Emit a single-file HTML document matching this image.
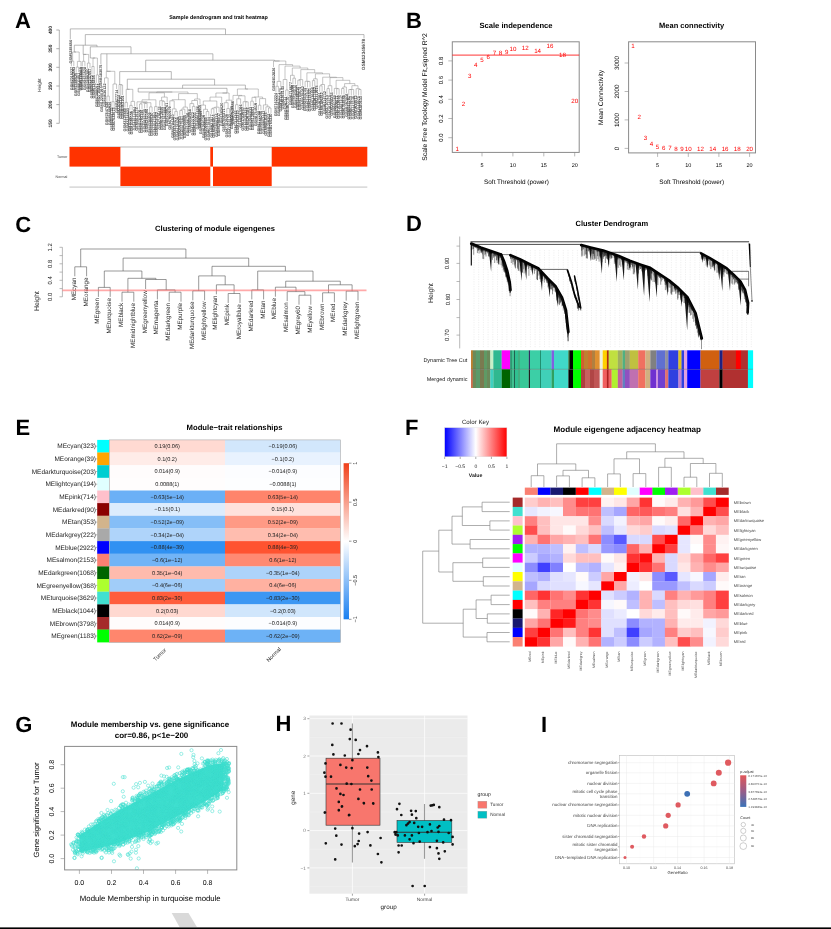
<!DOCTYPE html>
<html><head><meta charset="utf-8"><style>
html,body{margin:0;padding:0;background:#fff;width:831px;height:929px;overflow:hidden}
svg{display:block;filter:blur(0.5px);font-family:"Liberation Sans",sans-serif;text-rendering:geometricPrecision}
</style></head><body>
<svg width="831" height="929" viewBox="0 0 831 929">
<rect width="831" height="929" fill="#fff"/>
<text x="15" y="28" font-size="22" text-anchor="start" font-weight="bold" fill="#000">A</text>
<text x="406" y="28" font-size="22" text-anchor="start" font-weight="bold" fill="#000">B</text>
<text x="15.3" y="232" font-size="22" text-anchor="start" font-weight="bold" fill="#000">C</text>
<text x="406" y="231" font-size="22" text-anchor="start" font-weight="bold" fill="#000">D</text>
<text x="15.6" y="435.2" font-size="22" text-anchor="start" font-weight="bold" fill="#000">E</text>
<text x="405" y="435" font-size="22" text-anchor="start" font-weight="bold" fill="#000">F</text>
<text x="15.2" y="731.5" font-size="22" text-anchor="start" font-weight="bold" fill="#000">G</text>
<text x="275.4" y="731.3" font-size="22" text-anchor="start" font-weight="bold" fill="#000">H</text>
<text x="541" y="731.5" font-size="22" text-anchor="start" font-weight="bold" fill="#000">I</text>
<text x="516" y="28.2" font-size="7.6" text-anchor="middle" font-weight="bold" fill="#000">Scale independence</text>
<rect x="452.3" y="41.8" width="126.9" height="110.6" fill="none" stroke="#8a8a8a" stroke-width="1"/>
<line x1="448.3" y1="137.7" x2="452.3" y2="137.7" stroke="#8a8a8a" stroke-width="0.6"/>
<text x="443" y="137.7" font-size="6" text-anchor="middle" fill="#000" transform="rotate(-90 443 137.7)">0.0</text>
<line x1="448.3" y1="118.5" x2="452.3" y2="118.5" stroke="#8a8a8a" stroke-width="0.6"/>
<text x="443" y="118.5" font-size="6" text-anchor="middle" fill="#000" transform="rotate(-90 443 118.5)">0.2</text>
<line x1="448.3" y1="99.3" x2="452.3" y2="99.3" stroke="#8a8a8a" stroke-width="0.6"/>
<text x="443" y="99.3" font-size="6" text-anchor="middle" fill="#000" transform="rotate(-90 443 99.3)">0.4</text>
<line x1="448.3" y1="80.1" x2="452.3" y2="80.1" stroke="#8a8a8a" stroke-width="0.6"/>
<text x="443" y="80.1" font-size="6" text-anchor="middle" fill="#000" transform="rotate(-90 443 80.1)">0.6</text>
<line x1="448.3" y1="60.9" x2="452.3" y2="60.9" stroke="#8a8a8a" stroke-width="0.6"/>
<text x="443" y="60.9" font-size="6" text-anchor="middle" fill="#000" transform="rotate(-90 443 60.9)">0.8</text>
<line x1="482" y1="152.4" x2="482" y2="156.4" stroke="#8a8a8a" stroke-width="0.6"/>
<text x="482" y="166.5" font-size="5.5" text-anchor="middle" fill="#000">5</text>
<line x1="512.9" y1="152.4" x2="512.9" y2="156.4" stroke="#8a8a8a" stroke-width="0.6"/>
<text x="512.9" y="166.5" font-size="5.5" text-anchor="middle" fill="#000">10</text>
<line x1="543.8" y1="152.4" x2="543.8" y2="156.4" stroke="#8a8a8a" stroke-width="0.6"/>
<text x="543.8" y="166.5" font-size="5.5" text-anchor="middle" fill="#000">15</text>
<line x1="574.7" y1="152.4" x2="574.7" y2="156.4" stroke="#8a8a8a" stroke-width="0.6"/>
<text x="574.7" y="166.5" font-size="5.5" text-anchor="middle" fill="#000">20</text>
<text x="516.5" y="183.5" font-size="6.4" text-anchor="middle" fill="#000">Soft Threshold (power)</text>
<text x="426.8" y="97" font-size="6.8" text-anchor="middle" fill="#000" transform="rotate(-90 426.8 97)">Scale Free Topology Model Fit,signed R^2</text>
<line x1="452.3" y1="55.1" x2="579.2" y2="55.1" stroke="#f00" stroke-width="0.8"/>
<text x="457.3" y="150.5" font-size="6.2" text-anchor="middle" fill="#f00">1</text>
<text x="463.5" y="106.3" font-size="6.2" text-anchor="middle" fill="#f00">2</text>
<text x="469.7" y="77.5" font-size="6.2" text-anchor="middle" fill="#f00">3</text>
<text x="475.8" y="66.9" font-size="6.2" text-anchor="middle" fill="#f00">4</text>
<text x="482" y="62.1" font-size="6.2" text-anchor="middle" fill="#f00">5</text>
<text x="488.2" y="58.8" font-size="6.2" text-anchor="middle" fill="#f00">6</text>
<text x="494.4" y="54.5" font-size="6.2" text-anchor="middle" fill="#f00">7</text>
<text x="500.6" y="54.5" font-size="6.2" text-anchor="middle" fill="#f00">8</text>
<text x="506.7" y="53.5" font-size="6.2" text-anchor="middle" fill="#f00">9</text>
<text x="512.9" y="50.6" font-size="6.2" text-anchor="middle" fill="#f00">10</text>
<text x="525.3" y="49.7" font-size="6.2" text-anchor="middle" fill="#f00">12</text>
<text x="537.6" y="52.5" font-size="6.2" text-anchor="middle" fill="#f00">14</text>
<text x="550" y="48" font-size="6.2" text-anchor="middle" fill="#f00">16</text>
<text x="562.4" y="57.3" font-size="6.2" text-anchor="middle" fill="#f00">18</text>
<text x="574.7" y="102.8" font-size="6.2" text-anchor="middle" fill="#f00">20</text>
<text x="691.6" y="28.3" font-size="7.5" text-anchor="middle" font-weight="bold" fill="#000">Mean connectivity</text>
<rect x="628.6" y="41.8" width="126.9" height="111.1" fill="none" stroke="#8a8a8a" stroke-width="1"/>
<line x1="624.6" y1="148.4" x2="628.6" y2="148.4" stroke="#8a8a8a" stroke-width="0.6"/>
<text x="618.6" y="148.4" font-size="6.3" text-anchor="middle" fill="#000" transform="rotate(-90 618.6 148.4)">0</text>
<line x1="624.6" y1="119.9" x2="628.6" y2="119.9" stroke="#8a8a8a" stroke-width="0.6"/>
<text x="618.6" y="119.9" font-size="6.3" text-anchor="middle" fill="#000" transform="rotate(-90 618.6 119.9)">1000</text>
<line x1="624.6" y1="91.5" x2="628.6" y2="91.5" stroke="#8a8a8a" stroke-width="0.6"/>
<text x="618.6" y="91.5" font-size="6.3" text-anchor="middle" fill="#000" transform="rotate(-90 618.6 91.5)">2000</text>
<line x1="624.6" y1="63" x2="628.6" y2="63" stroke="#8a8a8a" stroke-width="0.6"/>
<text x="618.6" y="63" font-size="6.3" text-anchor="middle" fill="#000" transform="rotate(-90 618.6 63)">3000</text>
<line x1="657.6" y1="152.9" x2="657.6" y2="156.9" stroke="#8a8a8a" stroke-width="0.6"/>
<text x="657.6" y="166.5" font-size="5.5" text-anchor="middle" fill="#000">5</text>
<line x1="688.3" y1="152.9" x2="688.3" y2="156.9" stroke="#8a8a8a" stroke-width="0.6"/>
<text x="688.3" y="166.5" font-size="5.5" text-anchor="middle" fill="#000">10</text>
<line x1="718.9" y1="152.9" x2="718.9" y2="156.9" stroke="#8a8a8a" stroke-width="0.6"/>
<text x="718.9" y="166.5" font-size="5.5" text-anchor="middle" fill="#000">15</text>
<line x1="749.6" y1="152.9" x2="749.6" y2="156.9" stroke="#8a8a8a" stroke-width="0.6"/>
<text x="749.6" y="166.5" font-size="5.5" text-anchor="middle" fill="#000">20</text>
<text x="691.6" y="183.5" font-size="6.4" text-anchor="middle" fill="#000">Soft Threshold (power)</text>
<text x="602.6" y="97.4" font-size="6.7" text-anchor="middle" fill="#000" transform="rotate(-90 602.6 97.4)">Mean Connectivity</text>
<text x="633.1" y="48.2" font-size="6.2" text-anchor="middle" fill="#f00">1</text>
<text x="639.2" y="119.2" font-size="6.2" text-anchor="middle" fill="#f00">2</text>
<text x="645.4" y="139.7" font-size="6.2" text-anchor="middle" fill="#f00">3</text>
<text x="651.5" y="145.8" font-size="6.2" text-anchor="middle" fill="#f00">4</text>
<text x="657.6" y="148.5" font-size="6.2" text-anchor="middle" fill="#f00">5</text>
<text x="663.8" y="149.5" font-size="6.2" text-anchor="middle" fill="#f00">6</text>
<text x="669.9" y="149.5" font-size="6.2" text-anchor="middle" fill="#f00">7</text>
<text x="676" y="150.6" font-size="6.2" text-anchor="middle" fill="#f00">8</text>
<text x="682.1" y="150.6" font-size="6.2" text-anchor="middle" fill="#f00">9</text>
<text x="688.3" y="150.6" font-size="6.2" text-anchor="middle" fill="#f00">10</text>
<text x="700.5" y="150.6" font-size="6.2" text-anchor="middle" fill="#f00">12</text>
<text x="712.8" y="150.6" font-size="6.2" text-anchor="middle" fill="#f00">14</text>
<text x="725.1" y="150.6" font-size="6.2" text-anchor="middle" fill="#f00">16</text>
<text x="737.3" y="150.6" font-size="6.2" text-anchor="middle" fill="#f00">18</text>
<text x="749.6" y="150.6" font-size="6.2" text-anchor="middle" fill="#f00">20</text>
<text x="234.5" y="430.3" font-size="7.7" text-anchor="middle" font-weight="bold" fill="#000">Module−trait relationships</text>
<rect x="97.2" y="439.9" width="12.1" height="12.8" fill="#00ffff" stroke="none" stroke-width="0.6"/>
<rect x="109.3" y="439.9" width="115.7" height="12.8" fill="#ffdad2" stroke="none" stroke-width="0.6"/>
<rect x="225" y="439.9" width="115.5" height="12.8" fill="#d2e7fc" stroke="none" stroke-width="0.6"/>
<text x="96" y="448.4" font-size="6.5" text-anchor="end" fill="#222">MEcyan(323)</text>
<line x1="96.2" y1="446.2" x2="97.2" y2="446.2" stroke="#555" stroke-width="0.5"/>
<text x="167.2" y="448" font-size="5.6" text-anchor="middle" fill="#222">0.19(0.06)</text>
<text x="282.8" y="448" font-size="5.6" text-anchor="middle" fill="#222">−0.19(0.06)</text>
<rect x="97.2" y="452.5" width="12.1" height="12.8" fill="#ffa500" stroke="none" stroke-width="0.6"/>
<rect x="109.3" y="452.5" width="115.7" height="12.8" fill="#ffece8" stroke="none" stroke-width="0.6"/>
<rect x="225" y="452.5" width="115.5" height="12.8" fill="#e8f2fe" stroke="none" stroke-width="0.6"/>
<text x="96" y="461.1" font-size="6.5" text-anchor="end" fill="#222">MEorange(39)</text>
<line x1="96.2" y1="458.9" x2="97.2" y2="458.9" stroke="#555" stroke-width="0.5"/>
<text x="167.2" y="460.7" font-size="5.6" text-anchor="middle" fill="#222">0.1(0.2)</text>
<text x="282.8" y="460.7" font-size="5.6" text-anchor="middle" fill="#222">−0.1(0.2)</text>
<rect x="97.2" y="465.2" width="12.1" height="12.8" fill="#00ced1" stroke="none" stroke-width="0.6"/>
<rect x="109.3" y="465.2" width="115.7" height="12.8" fill="#fffcfc" stroke="none" stroke-width="0.6"/>
<rect x="225" y="465.2" width="115.5" height="12.8" fill="#fcfdff" stroke="none" stroke-width="0.6"/>
<text x="96" y="473.7" font-size="6.5" text-anchor="end" fill="#222">MEdarkturquoise(203)</text>
<line x1="96.2" y1="471.5" x2="97.2" y2="471.5" stroke="#555" stroke-width="0.5"/>
<text x="167.2" y="473.3" font-size="5.6" text-anchor="middle" fill="#222">0.014(0.9)</text>
<text x="282.8" y="473.3" font-size="5.6" text-anchor="middle" fill="#222">−0.014(0.9)</text>
<rect x="97.2" y="477.8" width="12.1" height="12.8" fill="#e0ffff" stroke="none" stroke-width="0.6"/>
<rect x="109.3" y="477.8" width="115.7" height="12.8" fill="#fffdfd" stroke="none" stroke-width="0.6"/>
<rect x="225" y="477.8" width="115.5" height="12.8" fill="#fdfeff" stroke="none" stroke-width="0.6"/>
<text x="96" y="486.4" font-size="6.5" text-anchor="end" fill="#222">MElightcyan(194)</text>
<line x1="96.2" y1="484.2" x2="97.2" y2="484.2" stroke="#555" stroke-width="0.5"/>
<text x="167.2" y="486" font-size="5.6" text-anchor="middle" fill="#222">0.0088(1)</text>
<text x="282.8" y="486" font-size="5.6" text-anchor="middle" fill="#222">−0.0088(1)</text>
<rect x="97.2" y="490.5" width="12.1" height="12.8" fill="#ffc0cb" stroke="none" stroke-width="0.6"/>
<rect x="109.3" y="490.5" width="115.7" height="12.8" fill="#6bb0f6" stroke="none" stroke-width="0.6"/>
<rect x="225" y="490.5" width="115.5" height="12.8" fill="#ff846b" stroke="none" stroke-width="0.6"/>
<text x="96" y="499" font-size="6.5" text-anchor="end" fill="#222">MEpink(714)</text>
<line x1="96.2" y1="496.8" x2="97.2" y2="496.8" stroke="#555" stroke-width="0.5"/>
<text x="167.2" y="498.6" font-size="5.6" text-anchor="middle" fill="#222">−0.63(5e−14)</text>
<text x="282.8" y="498.6" font-size="5.6" text-anchor="middle" fill="#222">0.63(5e−14)</text>
<rect x="97.2" y="503.1" width="12.1" height="12.8" fill="#8b0000" stroke="none" stroke-width="0.6"/>
<rect x="109.3" y="503.1" width="115.7" height="12.8" fill="#dcecfd" stroke="none" stroke-width="0.6"/>
<rect x="225" y="503.1" width="115.5" height="12.8" fill="#ffe2dc" stroke="none" stroke-width="0.6"/>
<text x="96" y="511.7" font-size="6.5" text-anchor="end" fill="#222">MEdarkred(90)</text>
<line x1="96.2" y1="509.5" x2="97.2" y2="509.5" stroke="#555" stroke-width="0.5"/>
<text x="167.2" y="511.3" font-size="5.6" text-anchor="middle" fill="#222">−0.15(0.1)</text>
<text x="282.8" y="511.3" font-size="5.6" text-anchor="middle" fill="#222">0.15(0.1)</text>
<rect x="97.2" y="515.8" width="12.1" height="12.8" fill="#d2b48c" stroke="none" stroke-width="0.6"/>
<rect x="109.3" y="515.8" width="115.7" height="12.8" fill="#85bef7" stroke="none" stroke-width="0.6"/>
<rect x="225" y="515.8" width="115.5" height="12.8" fill="#ff9a85" stroke="none" stroke-width="0.6"/>
<text x="96" y="524.3" font-size="6.5" text-anchor="end" fill="#222">MEtan(353)</text>
<line x1="96.2" y1="522.1" x2="97.2" y2="522.1" stroke="#555" stroke-width="0.5"/>
<text x="167.2" y="523.9" font-size="5.6" text-anchor="middle" fill="#222">−0.52(2e−09)</text>
<text x="282.8" y="523.9" font-size="5.6" text-anchor="middle" fill="#222">0.52(2e−09)</text>
<rect x="97.2" y="528.4" width="12.1" height="12.8" fill="#a9a9a9" stroke="none" stroke-width="0.6"/>
<rect x="109.3" y="528.4" width="115.7" height="12.8" fill="#afd4fa" stroke="none" stroke-width="0.6"/>
<rect x="225" y="528.4" width="115.5" height="12.8" fill="#ffbdaf" stroke="none" stroke-width="0.6"/>
<text x="96" y="537" font-size="6.5" text-anchor="end" fill="#222">MEdarkgrey(222)</text>
<line x1="96.2" y1="534.8" x2="97.2" y2="534.8" stroke="#555" stroke-width="0.5"/>
<text x="167.2" y="536.6" font-size="5.6" text-anchor="middle" fill="#222">−0.34(2e−04)</text>
<text x="282.8" y="536.6" font-size="5.6" text-anchor="middle" fill="#222">0.34(2e−04)</text>
<rect x="97.2" y="541.1" width="12.1" height="12.8" fill="#0000ff" stroke="none" stroke-width="0.6"/>
<rect x="109.3" y="541.1" width="115.7" height="12.8" fill="#3091f2" stroke="none" stroke-width="0.6"/>
<rect x="225" y="541.1" width="115.5" height="12.8" fill="#ff5330" stroke="none" stroke-width="0.6"/>
<text x="96" y="549.6" font-size="6.5" text-anchor="end" fill="#222">MEblue(2922)</text>
<line x1="96.2" y1="547.4" x2="97.2" y2="547.4" stroke="#555" stroke-width="0.5"/>
<text x="167.2" y="549.2" font-size="5.6" text-anchor="middle" fill="#222">−0.88(4e−39)</text>
<text x="282.8" y="549.2" font-size="5.6" text-anchor="middle" fill="#222">0.88(4e−39)</text>
<rect x="97.2" y="553.8" width="12.1" height="12.8" fill="#fa8072" stroke="none" stroke-width="0.6"/>
<rect x="109.3" y="553.8" width="115.7" height="12.8" fill="#72b4f6" stroke="none" stroke-width="0.6"/>
<rect x="225" y="553.8" width="115.5" height="12.8" fill="#ff8a72" stroke="none" stroke-width="0.6"/>
<text x="96" y="562.3" font-size="6.5" text-anchor="end" fill="#222">MEsalmon(2153)</text>
<line x1="96.2" y1="560.1" x2="97.2" y2="560.1" stroke="#555" stroke-width="0.5"/>
<text x="167.2" y="561.9" font-size="5.6" text-anchor="middle" fill="#222">−0.6(1e−12)</text>
<text x="282.8" y="561.9" font-size="5.6" text-anchor="middle" fill="#222">0.6(1e−12)</text>
<rect x="97.2" y="566.4" width="12.1" height="12.8" fill="#006400" stroke="none" stroke-width="0.6"/>
<rect x="109.3" y="566.4" width="115.7" height="12.8" fill="#ffbbad" stroke="none" stroke-width="0.6"/>
<rect x="225" y="566.4" width="115.5" height="12.8" fill="#add3fa" stroke="none" stroke-width="0.6"/>
<text x="96" y="574.9" font-size="6.5" text-anchor="end" fill="#222">MEdarkgreen(1068)</text>
<line x1="96.2" y1="572.7" x2="97.2" y2="572.7" stroke="#555" stroke-width="0.5"/>
<text x="167.2" y="574.5" font-size="5.6" text-anchor="middle" fill="#222">0.35(1e−04)</text>
<text x="282.8" y="574.5" font-size="5.6" text-anchor="middle" fill="#222">−0.35(1e−04)</text>
<rect x="97.2" y="579" width="12.1" height="12.8" fill="#adff2f" stroke="none" stroke-width="0.6"/>
<rect x="109.3" y="579" width="115.7" height="12.8" fill="#a1cdf9" stroke="none" stroke-width="0.6"/>
<rect x="225" y="579" width="115.5" height="12.8" fill="#ffb1a1" stroke="none" stroke-width="0.6"/>
<text x="96" y="587.6" font-size="6.5" text-anchor="end" fill="#222">MEgreenyellow(368)</text>
<line x1="96.2" y1="585.4" x2="97.2" y2="585.4" stroke="#555" stroke-width="0.5"/>
<text x="167.2" y="587.2" font-size="5.6" text-anchor="middle" fill="#222">−0.4(6e−06)</text>
<text x="282.8" y="587.2" font-size="5.6" text-anchor="middle" fill="#222">0.4(6e−06)</text>
<rect x="97.2" y="591.7" width="12.1" height="12.8" fill="#40e0d0" stroke="none" stroke-width="0.6"/>
<rect x="109.3" y="591.7" width="115.7" height="12.8" fill="#ff5d3c" stroke="none" stroke-width="0.6"/>
<rect x="225" y="591.7" width="115.5" height="12.8" fill="#3c97f3" stroke="none" stroke-width="0.6"/>
<text x="96" y="600.2" font-size="6.5" text-anchor="end" fill="#222">MEturquoise(3629)</text>
<line x1="96.2" y1="598" x2="97.2" y2="598" stroke="#555" stroke-width="0.5"/>
<text x="167.2" y="599.8" font-size="5.6" text-anchor="middle" fill="#222">0.83(2e−30)</text>
<text x="282.8" y="599.8" font-size="5.6" text-anchor="middle" fill="#222">−0.83(2e−30)</text>
<rect x="97.2" y="604.4" width="12.1" height="12.8" fill="#000000" stroke="none" stroke-width="0.6"/>
<rect x="109.3" y="604.4" width="115.7" height="12.8" fill="#ffd8d0" stroke="none" stroke-width="0.6"/>
<rect x="225" y="604.4" width="115.5" height="12.8" fill="#d0e6fc" stroke="none" stroke-width="0.6"/>
<text x="96" y="612.9" font-size="6.5" text-anchor="end" fill="#222">MEblack(1044)</text>
<line x1="96.2" y1="610.7" x2="97.2" y2="610.7" stroke="#555" stroke-width="0.5"/>
<text x="167.2" y="612.5" font-size="5.6" text-anchor="middle" fill="#222">0.2(0.03)</text>
<text x="282.8" y="612.5" font-size="5.6" text-anchor="middle" fill="#222">−0.2(0.03)</text>
<rect x="97.2" y="617" width="12.1" height="12.8" fill="#a52a2a" stroke="none" stroke-width="0.6"/>
<rect x="109.3" y="617" width="115.7" height="12.8" fill="#fffcfc" stroke="none" stroke-width="0.6"/>
<rect x="225" y="617" width="115.5" height="12.8" fill="#fcfdff" stroke="none" stroke-width="0.6"/>
<text x="96" y="625.5" font-size="6.5" text-anchor="end" fill="#222">MEbrown(3798)</text>
<line x1="96.2" y1="623.3" x2="97.2" y2="623.3" stroke="#555" stroke-width="0.5"/>
<text x="167.2" y="625.1" font-size="5.6" text-anchor="middle" fill="#222">0.014(0.9)</text>
<text x="282.8" y="625.1" font-size="5.6" text-anchor="middle" fill="#222">−0.014(0.9)</text>
<rect x="97.2" y="629.6" width="12.1" height="12.8" fill="#00ff00" stroke="none" stroke-width="0.6"/>
<rect x="109.3" y="629.6" width="115.7" height="12.8" fill="#ff866d" stroke="none" stroke-width="0.6"/>
<rect x="225" y="629.6" width="115.5" height="12.8" fill="#6db2f6" stroke="none" stroke-width="0.6"/>
<text x="96" y="638.2" font-size="6.5" text-anchor="end" fill="#222">MEgreen(1183)</text>
<line x1="96.2" y1="636" x2="97.2" y2="636" stroke="#555" stroke-width="0.5"/>
<text x="167.2" y="637.8" font-size="5.6" text-anchor="middle" fill="#222">0.62(2e−09)</text>
<text x="282.8" y="637.8" font-size="5.6" text-anchor="middle" fill="#222">−0.62(2e−09)</text>
<rect x="109.3" y="439.9" width="231.2" height="202.4" fill="none" stroke="#aaa" stroke-width="0.6"/>
<text x="161" y="656" font-size="5.5" text-anchor="middle" fill="#222" transform="rotate(-45 161 656)">Tumor</text>
<text x="275" y="656" font-size="5.5" text-anchor="middle" fill="#222" transform="rotate(-45 275 656)">Normal</text>
<defs><linearGradient id="egr" x1="0" y1="0" x2="0" y2="1"><stop offset="0" stop-color="#f0401a"/><stop offset="0.5" stop-color="#ffffff"/><stop offset="1" stop-color="#1a80f0"/></linearGradient></defs>
<rect x="343.6" y="463.2" width="5.4" height="156.1" fill="url(#egr)" stroke="none" stroke-width="0.6"/>
<line x1="349" y1="463.2" x2="351.5" y2="463.2" stroke="#555" stroke-width="0.6"/>
<text x="357.5" y="463.2" font-size="5.5" text-anchor="middle" fill="#222" transform="rotate(-90 357.5 463.2)">1</text>
<line x1="349" y1="502.2" x2="351.5" y2="502.2" stroke="#555" stroke-width="0.6"/>
<text x="357.5" y="502.2" font-size="5.5" text-anchor="middle" fill="#222" transform="rotate(-90 357.5 502.2)">0.5</text>
<line x1="349" y1="541.2" x2="351.5" y2="541.2" stroke="#555" stroke-width="0.6"/>
<text x="357.5" y="541.2" font-size="5.5" text-anchor="middle" fill="#222" transform="rotate(-90 357.5 541.2)">0</text>
<line x1="349" y1="580.3" x2="351.5" y2="580.3" stroke="#555" stroke-width="0.6"/>
<text x="357.5" y="580.3" font-size="5.5" text-anchor="middle" fill="#222" transform="rotate(-90 357.5 580.3)">−0.5</text>
<line x1="349" y1="619.3" x2="351.5" y2="619.3" stroke="#555" stroke-width="0.6"/>
<text x="357.5" y="619.3" font-size="5.5" text-anchor="middle" fill="#222" transform="rotate(-90 357.5 619.3)">−1</text>
<text x="627.3" y="431.9" font-size="8.1" text-anchor="middle" font-weight="bold" fill="#000">Module eigengene adjacency heatmap</text>
<defs><linearGradient id="fgr" x1="0" y1="0" x2="1" y2="0"><stop offset="0" stop-color="#0000ff"/><stop offset="0.5" stop-color="#ffffff"/><stop offset="1" stop-color="#ff0000"/></linearGradient></defs>
<rect x="444.7" y="427.7" width="62.2" height="29.1" fill="url(#fgr)" stroke="#ddd" stroke-width="0.4"/>
<text x="475.5" y="424.2" font-size="6.2" text-anchor="middle" fill="#222">Color Key</text>
<line x1="444.7" y1="456.8" x2="444.7" y2="459" stroke="#555" stroke-width="0.5"/>
<text x="444.7" y="468" font-size="5" text-anchor="middle" fill="#222">−1</text>
<line x1="460.2" y1="456.8" x2="460.2" y2="459" stroke="#555" stroke-width="0.5"/>
<text x="460.2" y="468" font-size="5" text-anchor="middle" fill="#222">−0.5</text>
<line x1="475.8" y1="456.8" x2="475.8" y2="459" stroke="#555" stroke-width="0.5"/>
<text x="475.8" y="468" font-size="5" text-anchor="middle" fill="#222">0</text>
<line x1="491.4" y1="456.8" x2="491.4" y2="459" stroke="#555" stroke-width="0.5"/>
<text x="491.4" y="468" font-size="5" text-anchor="middle" fill="#222">0.5</text>
<line x1="506.9" y1="456.8" x2="506.9" y2="459" stroke="#555" stroke-width="0.5"/>
<text x="506.9" y="468" font-size="5" text-anchor="middle" fill="#222">1</text>
<text x="475.5" y="476.5" font-size="5.2" text-anchor="middle" font-weight="bold" fill="#222">Value</text>
<rect x="524.8" y="497.6" width="12.9" height="9.5" fill="#ffcccc" stroke="none" stroke-width="0.6"/>
<rect x="537.5" y="497.6" width="12.9" height="9.5" fill="#ffb2b2" stroke="none" stroke-width="0.6"/>
<rect x="550.3" y="497.6" width="12.9" height="9.5" fill="#ffbfbf" stroke="none" stroke-width="0.6"/>
<rect x="563" y="497.6" width="12.9" height="9.5" fill="#ff8c8c" stroke="none" stroke-width="0.6"/>
<rect x="575.8" y="497.6" width="12.9" height="9.5" fill="#ff4040" stroke="none" stroke-width="0.6"/>
<rect x="588.5" y="497.6" width="12.9" height="9.5" fill="#ff4040" stroke="none" stroke-width="0.6"/>
<rect x="601.2" y="497.6" width="12.9" height="9.5" fill="#fff2f2" stroke="none" stroke-width="0.6"/>
<rect x="614" y="497.6" width="12.9" height="9.5" fill="#ffe6e6" stroke="none" stroke-width="0.6"/>
<rect x="626.7" y="497.6" width="12.9" height="9.5" fill="#ffa6a6" stroke="none" stroke-width="0.6"/>
<rect x="639.5" y="497.6" width="12.9" height="9.5" fill="#ff3333" stroke="none" stroke-width="0.6"/>
<rect x="652.2" y="497.6" width="12.9" height="9.5" fill="#fffafa" stroke="none" stroke-width="0.6"/>
<rect x="664.9" y="497.6" width="12.9" height="9.5" fill="#ffebeb" stroke="none" stroke-width="0.6"/>
<rect x="677.7" y="497.6" width="12.9" height="9.5" fill="#ffb2b2" stroke="none" stroke-width="0.6"/>
<rect x="690.4" y="497.6" width="12.9" height="9.5" fill="#ff9999" stroke="none" stroke-width="0.6"/>
<rect x="703.2" y="497.6" width="12.9" height="9.5" fill="#ff4d4d" stroke="none" stroke-width="0.6"/>
<rect x="715.9" y="497.6" width="12.9" height="9.5" fill="#ff0000" stroke="none" stroke-width="0.6"/>
<rect x="524.8" y="506.9" width="12.9" height="9.5" fill="#e6e6ff" stroke="none" stroke-width="0.6"/>
<rect x="537.5" y="506.9" width="12.9" height="9.5" fill="#f2f2ff" stroke="none" stroke-width="0.6"/>
<rect x="550.3" y="506.9" width="12.9" height="9.5" fill="#f7f7ff" stroke="none" stroke-width="0.6"/>
<rect x="563" y="506.9" width="12.9" height="9.5" fill="#ff8c8c" stroke="none" stroke-width="0.6"/>
<rect x="575.8" y="506.9" width="12.9" height="9.5" fill="#ff7373" stroke="none" stroke-width="0.6"/>
<rect x="588.5" y="506.9" width="12.9" height="9.5" fill="#ff7373" stroke="none" stroke-width="0.6"/>
<rect x="601.2" y="506.9" width="12.9" height="9.5" fill="#bfbfff" stroke="none" stroke-width="0.6"/>
<rect x="614" y="506.9" width="12.9" height="9.5" fill="#a6a6ff" stroke="none" stroke-width="0.6"/>
<rect x="626.7" y="506.9" width="12.9" height="9.5" fill="#ff6666" stroke="none" stroke-width="0.6"/>
<rect x="639.5" y="506.9" width="12.9" height="9.5" fill="#ff5959" stroke="none" stroke-width="0.6"/>
<rect x="652.2" y="506.9" width="12.9" height="9.5" fill="#ff7373" stroke="none" stroke-width="0.6"/>
<rect x="664.9" y="506.9" width="12.9" height="9.5" fill="#ff8080" stroke="none" stroke-width="0.6"/>
<rect x="677.7" y="506.9" width="12.9" height="9.5" fill="#ffe0e0" stroke="none" stroke-width="0.6"/>
<rect x="690.4" y="506.9" width="12.9" height="9.5" fill="#ffb2b2" stroke="none" stroke-width="0.6"/>
<rect x="703.2" y="506.9" width="12.9" height="9.5" fill="#ff0000" stroke="none" stroke-width="0.6"/>
<rect x="715.9" y="506.9" width="12.9" height="9.5" fill="#ff4d4d" stroke="none" stroke-width="0.6"/>
<rect x="524.8" y="516.2" width="12.9" height="9.5" fill="#ff8080" stroke="none" stroke-width="0.6"/>
<rect x="537.5" y="516.2" width="12.9" height="9.5" fill="#ffbfbf" stroke="none" stroke-width="0.6"/>
<rect x="550.3" y="516.2" width="12.9" height="9.5" fill="#ffe6e6" stroke="none" stroke-width="0.6"/>
<rect x="563" y="516.2" width="12.9" height="9.5" fill="#ffe6e6" stroke="none" stroke-width="0.6"/>
<rect x="575.8" y="516.2" width="12.9" height="9.5" fill="#ffe6e6" stroke="none" stroke-width="0.6"/>
<rect x="588.5" y="516.2" width="12.9" height="9.5" fill="#ff8c8c" stroke="none" stroke-width="0.6"/>
<rect x="601.2" y="516.2" width="12.9" height="9.5" fill="#d9d9ff" stroke="none" stroke-width="0.6"/>
<rect x="614" y="516.2" width="12.9" height="9.5" fill="#f2f2ff" stroke="none" stroke-width="0.6"/>
<rect x="626.7" y="516.2" width="12.9" height="9.5" fill="#ffb2b2" stroke="none" stroke-width="0.6"/>
<rect x="639.5" y="516.2" width="12.9" height="9.5" fill="#ffa6a6" stroke="none" stroke-width="0.6"/>
<rect x="652.2" y="516.2" width="12.9" height="9.5" fill="#fffafa" stroke="none" stroke-width="0.6"/>
<rect x="664.9" y="516.2" width="12.9" height="9.5" fill="#ffeded" stroke="none" stroke-width="0.6"/>
<rect x="677.7" y="516.2" width="12.9" height="9.5" fill="#ff6666" stroke="none" stroke-width="0.6"/>
<rect x="690.4" y="516.2" width="12.9" height="9.5" fill="#ff0000" stroke="none" stroke-width="0.6"/>
<rect x="703.2" y="516.2" width="12.9" height="9.5" fill="#ffb2b2" stroke="none" stroke-width="0.6"/>
<rect x="715.9" y="516.2" width="12.9" height="9.5" fill="#ffa6a6" stroke="none" stroke-width="0.6"/>
<rect x="524.8" y="525.5" width="12.9" height="9.5" fill="#ff4d4d" stroke="none" stroke-width="0.6"/>
<rect x="537.5" y="525.5" width="12.9" height="9.5" fill="#ffbfbf" stroke="none" stroke-width="0.6"/>
<rect x="550.3" y="525.5" width="12.9" height="9.5" fill="#ffe6e6" stroke="none" stroke-width="0.6"/>
<rect x="563" y="525.5" width="12.9" height="9.5" fill="#fffafa" stroke="none" stroke-width="0.6"/>
<rect x="575.8" y="525.5" width="12.9" height="9.5" fill="#ffd9d9" stroke="none" stroke-width="0.6"/>
<rect x="588.5" y="525.5" width="12.9" height="9.5" fill="#ffbfbf" stroke="none" stroke-width="0.6"/>
<rect x="601.2" y="525.5" width="12.9" height="9.5" fill="#bfbfff" stroke="none" stroke-width="0.6"/>
<rect x="614" y="525.5" width="12.9" height="9.5" fill="#e6e6ff" stroke="none" stroke-width="0.6"/>
<rect x="626.7" y="525.5" width="12.9" height="9.5" fill="#ffd9d9" stroke="none" stroke-width="0.6"/>
<rect x="639.5" y="525.5" width="12.9" height="9.5" fill="#ffcccc" stroke="none" stroke-width="0.6"/>
<rect x="652.2" y="525.5" width="12.9" height="9.5" fill="#d9d9ff" stroke="none" stroke-width="0.6"/>
<rect x="664.9" y="525.5" width="12.9" height="9.5" fill="#e0e0ff" stroke="none" stroke-width="0.6"/>
<rect x="677.7" y="525.5" width="12.9" height="9.5" fill="#ff0000" stroke="none" stroke-width="0.6"/>
<rect x="690.4" y="525.5" width="12.9" height="9.5" fill="#ff7373" stroke="none" stroke-width="0.6"/>
<rect x="703.2" y="525.5" width="12.9" height="9.5" fill="#ffd9d9" stroke="none" stroke-width="0.6"/>
<rect x="715.9" y="525.5" width="12.9" height="9.5" fill="#ffbfbf" stroke="none" stroke-width="0.6"/>
<rect x="524.8" y="534.8" width="12.9" height="9.5" fill="#ffb2b2" stroke="none" stroke-width="0.6"/>
<rect x="537.5" y="534.8" width="12.9" height="9.5" fill="#ff7373" stroke="none" stroke-width="0.6"/>
<rect x="550.3" y="534.8" width="12.9" height="9.5" fill="#ffa6a6" stroke="none" stroke-width="0.6"/>
<rect x="563" y="534.8" width="12.9" height="9.5" fill="#ffb2b2" stroke="none" stroke-width="0.6"/>
<rect x="575.8" y="534.8" width="12.9" height="9.5" fill="#ffbfbf" stroke="none" stroke-width="0.6"/>
<rect x="588.5" y="534.8" width="12.9" height="9.5" fill="#ff7373" stroke="none" stroke-width="0.6"/>
<rect x="601.2" y="534.8" width="12.9" height="9.5" fill="#8c8cff" stroke="none" stroke-width="0.6"/>
<rect x="614" y="534.8" width="12.9" height="9.5" fill="#5959ff" stroke="none" stroke-width="0.6"/>
<rect x="626.7" y="534.8" width="12.9" height="9.5" fill="#d9d9ff" stroke="none" stroke-width="0.6"/>
<rect x="639.5" y="534.8" width="12.9" height="9.5" fill="#d9d9ff" stroke="none" stroke-width="0.6"/>
<rect x="652.2" y="534.8" width="12.9" height="9.5" fill="#ff4d4d" stroke="none" stroke-width="0.6"/>
<rect x="664.9" y="534.8" width="12.9" height="9.5" fill="#ff0000" stroke="none" stroke-width="0.6"/>
<rect x="677.7" y="534.8" width="12.9" height="9.5" fill="#e6e6ff" stroke="none" stroke-width="0.6"/>
<rect x="690.4" y="534.8" width="12.9" height="9.5" fill="#fff7f7" stroke="none" stroke-width="0.6"/>
<rect x="703.2" y="534.8" width="12.9" height="9.5" fill="#ff8c8c" stroke="none" stroke-width="0.6"/>
<rect x="715.9" y="534.8" width="12.9" height="9.5" fill="#fff2f2" stroke="none" stroke-width="0.6"/>
<rect x="524.8" y="544.1" width="12.9" height="9.5" fill="#b2b2ff" stroke="none" stroke-width="0.6"/>
<rect x="537.5" y="544.1" width="12.9" height="9.5" fill="#b2b2ff" stroke="none" stroke-width="0.6"/>
<rect x="550.3" y="544.1" width="12.9" height="9.5" fill="#bfbfff" stroke="none" stroke-width="0.6"/>
<rect x="563" y="544.1" width="12.9" height="9.5" fill="#fff2f2" stroke="none" stroke-width="0.6"/>
<rect x="575.8" y="544.1" width="12.9" height="9.5" fill="#bfbfff" stroke="none" stroke-width="0.6"/>
<rect x="588.5" y="544.1" width="12.9" height="9.5" fill="#d9d9ff" stroke="none" stroke-width="0.6"/>
<rect x="601.2" y="544.1" width="12.9" height="9.5" fill="#9999ff" stroke="none" stroke-width="0.6"/>
<rect x="614" y="544.1" width="12.9" height="9.5" fill="#8c8cff" stroke="none" stroke-width="0.6"/>
<rect x="626.7" y="544.1" width="12.9" height="9.5" fill="#ff6666" stroke="none" stroke-width="0.6"/>
<rect x="639.5" y="544.1" width="12.9" height="9.5" fill="#ffb2b2" stroke="none" stroke-width="0.6"/>
<rect x="652.2" y="544.1" width="12.9" height="9.5" fill="#ff0000" stroke="none" stroke-width="0.6"/>
<rect x="664.9" y="544.1" width="12.9" height="9.5" fill="#ff4040" stroke="none" stroke-width="0.6"/>
<rect x="677.7" y="544.1" width="12.9" height="9.5" fill="#e6e6ff" stroke="none" stroke-width="0.6"/>
<rect x="690.4" y="544.1" width="12.9" height="9.5" fill="#ffffff" stroke="none" stroke-width="0.6"/>
<rect x="703.2" y="544.1" width="12.9" height="9.5" fill="#ff8c8c" stroke="none" stroke-width="0.6"/>
<rect x="715.9" y="544.1" width="12.9" height="9.5" fill="#fff7f7" stroke="none" stroke-width="0.6"/>
<rect x="524.8" y="553.4" width="12.9" height="9.5" fill="#ccccff" stroke="none" stroke-width="0.6"/>
<rect x="537.5" y="553.4" width="12.9" height="9.5" fill="#a6a6ff" stroke="none" stroke-width="0.6"/>
<rect x="550.3" y="553.4" width="12.9" height="9.5" fill="#b2b2ff" stroke="none" stroke-width="0.6"/>
<rect x="563" y="553.4" width="12.9" height="9.5" fill="#ffd9d9" stroke="none" stroke-width="0.6"/>
<rect x="575.8" y="553.4" width="12.9" height="9.5" fill="#ffbfbf" stroke="none" stroke-width="0.6"/>
<rect x="588.5" y="553.4" width="12.9" height="9.5" fill="#ffbfbf" stroke="none" stroke-width="0.6"/>
<rect x="601.2" y="553.4" width="12.9" height="9.5" fill="#fffafa" stroke="none" stroke-width="0.6"/>
<rect x="614" y="553.4" width="12.9" height="9.5" fill="#ffe6e6" stroke="none" stroke-width="0.6"/>
<rect x="626.7" y="553.4" width="12.9" height="9.5" fill="#ff3333" stroke="none" stroke-width="0.6"/>
<rect x="639.5" y="553.4" width="12.9" height="9.5" fill="#ff0d0d" stroke="none" stroke-width="0.6"/>
<rect x="652.2" y="553.4" width="12.9" height="9.5" fill="#ffb2b2" stroke="none" stroke-width="0.6"/>
<rect x="664.9" y="553.4" width="12.9" height="9.5" fill="#d9d9ff" stroke="none" stroke-width="0.6"/>
<rect x="677.7" y="553.4" width="12.9" height="9.5" fill="#ffd9d9" stroke="none" stroke-width="0.6"/>
<rect x="690.4" y="553.4" width="12.9" height="9.5" fill="#ffa6a6" stroke="none" stroke-width="0.6"/>
<rect x="703.2" y="553.4" width="12.9" height="9.5" fill="#ff6666" stroke="none" stroke-width="0.6"/>
<rect x="715.9" y="553.4" width="12.9" height="9.5" fill="#ff4040" stroke="none" stroke-width="0.6"/>
<rect x="524.8" y="562.7" width="12.9" height="9.5" fill="#8c8cff" stroke="none" stroke-width="0.6"/>
<rect x="537.5" y="562.7" width="12.9" height="9.5" fill="#4040ff" stroke="none" stroke-width="0.6"/>
<rect x="550.3" y="562.7" width="12.9" height="9.5" fill="#8080ff" stroke="none" stroke-width="0.6"/>
<rect x="563" y="562.7" width="12.9" height="9.5" fill="#ffffff" stroke="none" stroke-width="0.6"/>
<rect x="575.8" y="562.7" width="12.9" height="9.5" fill="#bfbfff" stroke="none" stroke-width="0.6"/>
<rect x="588.5" y="562.7" width="12.9" height="9.5" fill="#b2b2ff" stroke="none" stroke-width="0.6"/>
<rect x="601.2" y="562.7" width="12.9" height="9.5" fill="#e6e6ff" stroke="none" stroke-width="0.6"/>
<rect x="614" y="562.7" width="12.9" height="9.5" fill="#fff2f2" stroke="none" stroke-width="0.6"/>
<rect x="626.7" y="562.7" width="12.9" height="9.5" fill="#ff0000" stroke="none" stroke-width="0.6"/>
<rect x="639.5" y="562.7" width="12.9" height="9.5" fill="#ff3333" stroke="none" stroke-width="0.6"/>
<rect x="652.2" y="562.7" width="12.9" height="9.5" fill="#ff7373" stroke="none" stroke-width="0.6"/>
<rect x="664.9" y="562.7" width="12.9" height="9.5" fill="#d9d9ff" stroke="none" stroke-width="0.6"/>
<rect x="677.7" y="562.7" width="12.9" height="9.5" fill="#ffe6e6" stroke="none" stroke-width="0.6"/>
<rect x="690.4" y="562.7" width="12.9" height="9.5" fill="#ffb2b2" stroke="none" stroke-width="0.6"/>
<rect x="703.2" y="562.7" width="12.9" height="9.5" fill="#ff8c8c" stroke="none" stroke-width="0.6"/>
<rect x="715.9" y="562.7" width="12.9" height="9.5" fill="#ffa6a6" stroke="none" stroke-width="0.6"/>
<rect x="524.8" y="572" width="12.9" height="9.5" fill="#bfbfff" stroke="none" stroke-width="0.6"/>
<rect x="537.5" y="572" width="12.9" height="9.5" fill="#b2b2ff" stroke="none" stroke-width="0.6"/>
<rect x="550.3" y="572" width="12.9" height="9.5" fill="#e0e0ff" stroke="none" stroke-width="0.6"/>
<rect x="563" y="572" width="12.9" height="9.5" fill="#e6e6ff" stroke="none" stroke-width="0.6"/>
<rect x="575.8" y="572" width="12.9" height="9.5" fill="#fffafa" stroke="none" stroke-width="0.6"/>
<rect x="588.5" y="572" width="12.9" height="9.5" fill="#ccccff" stroke="none" stroke-width="0.6"/>
<rect x="601.2" y="572" width="12.9" height="9.5" fill="#ffa6a6" stroke="none" stroke-width="0.6"/>
<rect x="614" y="572" width="12.9" height="9.5" fill="#ff0000" stroke="none" stroke-width="0.6"/>
<rect x="626.7" y="572" width="12.9" height="9.5" fill="#f2f2ff" stroke="none" stroke-width="0.6"/>
<rect x="639.5" y="572" width="12.9" height="9.5" fill="#ffe6e6" stroke="none" stroke-width="0.6"/>
<rect x="652.2" y="572" width="12.9" height="9.5" fill="#8c8cff" stroke="none" stroke-width="0.6"/>
<rect x="664.9" y="572" width="12.9" height="9.5" fill="#5959ff" stroke="none" stroke-width="0.6"/>
<rect x="677.7" y="572" width="12.9" height="9.5" fill="#e6e6ff" stroke="none" stroke-width="0.6"/>
<rect x="690.4" y="572" width="12.9" height="9.5" fill="#f7f7ff" stroke="none" stroke-width="0.6"/>
<rect x="703.2" y="572" width="12.9" height="9.5" fill="#a6a6ff" stroke="none" stroke-width="0.6"/>
<rect x="715.9" y="572" width="12.9" height="9.5" fill="#ffeded" stroke="none" stroke-width="0.6"/>
<rect x="524.8" y="581.3" width="12.9" height="9.5" fill="#a6a6ff" stroke="none" stroke-width="0.6"/>
<rect x="537.5" y="581.3" width="12.9" height="9.5" fill="#d9d9ff" stroke="none" stroke-width="0.6"/>
<rect x="550.3" y="581.3" width="12.9" height="9.5" fill="#e0e0ff" stroke="none" stroke-width="0.6"/>
<rect x="563" y="581.3" width="12.9" height="9.5" fill="#e0e0ff" stroke="none" stroke-width="0.6"/>
<rect x="575.8" y="581.3" width="12.9" height="9.5" fill="#f7f7ff" stroke="none" stroke-width="0.6"/>
<rect x="588.5" y="581.3" width="12.9" height="9.5" fill="#e6e6ff" stroke="none" stroke-width="0.6"/>
<rect x="601.2" y="581.3" width="12.9" height="9.5" fill="#ff0000" stroke="none" stroke-width="0.6"/>
<rect x="614" y="581.3" width="12.9" height="9.5" fill="#ffa6a6" stroke="none" stroke-width="0.6"/>
<rect x="626.7" y="581.3" width="12.9" height="9.5" fill="#ededff" stroke="none" stroke-width="0.6"/>
<rect x="639.5" y="581.3" width="12.9" height="9.5" fill="#ffffff" stroke="none" stroke-width="0.6"/>
<rect x="652.2" y="581.3" width="12.9" height="9.5" fill="#9999ff" stroke="none" stroke-width="0.6"/>
<rect x="664.9" y="581.3" width="12.9" height="9.5" fill="#9999ff" stroke="none" stroke-width="0.6"/>
<rect x="677.7" y="581.3" width="12.9" height="9.5" fill="#bfbfff" stroke="none" stroke-width="0.6"/>
<rect x="690.4" y="581.3" width="12.9" height="9.5" fill="#d9d9ff" stroke="none" stroke-width="0.6"/>
<rect x="703.2" y="581.3" width="12.9" height="9.5" fill="#ccccff" stroke="none" stroke-width="0.6"/>
<rect x="715.9" y="581.3" width="12.9" height="9.5" fill="#fffafa" stroke="none" stroke-width="0.6"/>
<rect x="524.8" y="590.6" width="12.9" height="9.5" fill="#ff6666" stroke="none" stroke-width="0.6"/>
<rect x="537.5" y="590.6" width="12.9" height="9.5" fill="#ff3333" stroke="none" stroke-width="0.6"/>
<rect x="550.3" y="590.6" width="12.9" height="9.5" fill="#ff7373" stroke="none" stroke-width="0.6"/>
<rect x="563" y="590.6" width="12.9" height="9.5" fill="#ff8c8c" stroke="none" stroke-width="0.6"/>
<rect x="575.8" y="590.6" width="12.9" height="9.5" fill="#ff3333" stroke="none" stroke-width="0.6"/>
<rect x="588.5" y="590.6" width="12.9" height="9.5" fill="#ff0000" stroke="none" stroke-width="0.6"/>
<rect x="601.2" y="590.6" width="12.9" height="9.5" fill="#e0e0ff" stroke="none" stroke-width="0.6"/>
<rect x="614" y="590.6" width="12.9" height="9.5" fill="#ccccff" stroke="none" stroke-width="0.6"/>
<rect x="626.7" y="590.6" width="12.9" height="9.5" fill="#b2b2ff" stroke="none" stroke-width="0.6"/>
<rect x="639.5" y="590.6" width="12.9" height="9.5" fill="#ffb2b2" stroke="none" stroke-width="0.6"/>
<rect x="652.2" y="590.6" width="12.9" height="9.5" fill="#d9d9ff" stroke="none" stroke-width="0.6"/>
<rect x="664.9" y="590.6" width="12.9" height="9.5" fill="#ff8080" stroke="none" stroke-width="0.6"/>
<rect x="677.7" y="590.6" width="12.9" height="9.5" fill="#ffb2b2" stroke="none" stroke-width="0.6"/>
<rect x="690.4" y="590.6" width="12.9" height="9.5" fill="#ff9999" stroke="none" stroke-width="0.6"/>
<rect x="703.2" y="590.6" width="12.9" height="9.5" fill="#ff8080" stroke="none" stroke-width="0.6"/>
<rect x="715.9" y="590.6" width="12.9" height="9.5" fill="#ff4040" stroke="none" stroke-width="0.6"/>
<rect x="524.8" y="599.9" width="12.9" height="9.5" fill="#ffbfbf" stroke="none" stroke-width="0.6"/>
<rect x="537.5" y="599.9" width="12.9" height="9.5" fill="#ff8080" stroke="none" stroke-width="0.6"/>
<rect x="550.3" y="599.9" width="12.9" height="9.5" fill="#ff8080" stroke="none" stroke-width="0.6"/>
<rect x="563" y="599.9" width="12.9" height="9.5" fill="#ff8080" stroke="none" stroke-width="0.6"/>
<rect x="575.8" y="599.9" width="12.9" height="9.5" fill="#ff0000" stroke="none" stroke-width="0.6"/>
<rect x="588.5" y="599.9" width="12.9" height="9.5" fill="#ff3333" stroke="none" stroke-width="0.6"/>
<rect x="601.2" y="599.9" width="12.9" height="9.5" fill="#f7f7ff" stroke="none" stroke-width="0.6"/>
<rect x="614" y="599.9" width="12.9" height="9.5" fill="#fffafa" stroke="none" stroke-width="0.6"/>
<rect x="626.7" y="599.9" width="12.9" height="9.5" fill="#bfbfff" stroke="none" stroke-width="0.6"/>
<rect x="639.5" y="599.9" width="12.9" height="9.5" fill="#ffb2b2" stroke="none" stroke-width="0.6"/>
<rect x="652.2" y="599.9" width="12.9" height="9.5" fill="#bfbfff" stroke="none" stroke-width="0.6"/>
<rect x="664.9" y="599.9" width="12.9" height="9.5" fill="#ffbfbf" stroke="none" stroke-width="0.6"/>
<rect x="677.7" y="599.9" width="12.9" height="9.5" fill="#ffd9d9" stroke="none" stroke-width="0.6"/>
<rect x="690.4" y="599.9" width="12.9" height="9.5" fill="#ffe0e0" stroke="none" stroke-width="0.6"/>
<rect x="703.2" y="599.9" width="12.9" height="9.5" fill="#ff8080" stroke="none" stroke-width="0.6"/>
<rect x="715.9" y="599.9" width="12.9" height="9.5" fill="#ff4040" stroke="none" stroke-width="0.6"/>
<rect x="524.8" y="609.2" width="12.9" height="9.5" fill="#fffafa" stroke="none" stroke-width="0.6"/>
<rect x="537.5" y="609.2" width="12.9" height="9.5" fill="#ffb2b2" stroke="none" stroke-width="0.6"/>
<rect x="550.3" y="609.2" width="12.9" height="9.5" fill="#ff2626" stroke="none" stroke-width="0.6"/>
<rect x="563" y="609.2" width="12.9" height="9.5" fill="#ff0000" stroke="none" stroke-width="0.6"/>
<rect x="575.8" y="609.2" width="12.9" height="9.5" fill="#ff7373" stroke="none" stroke-width="0.6"/>
<rect x="588.5" y="609.2" width="12.9" height="9.5" fill="#ff8c8c" stroke="none" stroke-width="0.6"/>
<rect x="601.2" y="609.2" width="12.9" height="9.5" fill="#e0e0ff" stroke="none" stroke-width="0.6"/>
<rect x="614" y="609.2" width="12.9" height="9.5" fill="#ebebff" stroke="none" stroke-width="0.6"/>
<rect x="626.7" y="609.2" width="12.9" height="9.5" fill="#ffffff" stroke="none" stroke-width="0.6"/>
<rect x="639.5" y="609.2" width="12.9" height="9.5" fill="#ffd9d9" stroke="none" stroke-width="0.6"/>
<rect x="652.2" y="609.2" width="12.9" height="9.5" fill="#ffebeb" stroke="none" stroke-width="0.6"/>
<rect x="664.9" y="609.2" width="12.9" height="9.5" fill="#ffbfbf" stroke="none" stroke-width="0.6"/>
<rect x="677.7" y="609.2" width="12.9" height="9.5" fill="#fffafa" stroke="none" stroke-width="0.6"/>
<rect x="690.4" y="609.2" width="12.9" height="9.5" fill="#ffebeb" stroke="none" stroke-width="0.6"/>
<rect x="703.2" y="609.2" width="12.9" height="9.5" fill="#ffa6a6" stroke="none" stroke-width="0.6"/>
<rect x="715.9" y="609.2" width="12.9" height="9.5" fill="#ff9999" stroke="none" stroke-width="0.6"/>
<rect x="524.8" y="618.5" width="12.9" height="9.5" fill="#ffa6a6" stroke="none" stroke-width="0.6"/>
<rect x="537.5" y="618.5" width="12.9" height="9.5" fill="#ff7373" stroke="none" stroke-width="0.6"/>
<rect x="550.3" y="618.5" width="12.9" height="9.5" fill="#ff0000" stroke="none" stroke-width="0.6"/>
<rect x="563" y="618.5" width="12.9" height="9.5" fill="#ff1919" stroke="none" stroke-width="0.6"/>
<rect x="575.8" y="618.5" width="12.9" height="9.5" fill="#ff8080" stroke="none" stroke-width="0.6"/>
<rect x="588.5" y="618.5" width="12.9" height="9.5" fill="#ff8c8c" stroke="none" stroke-width="0.6"/>
<rect x="601.2" y="618.5" width="12.9" height="9.5" fill="#e0e0ff" stroke="none" stroke-width="0.6"/>
<rect x="614" y="618.5" width="12.9" height="9.5" fill="#e0e0ff" stroke="none" stroke-width="0.6"/>
<rect x="626.7" y="618.5" width="12.9" height="9.5" fill="#8c8cff" stroke="none" stroke-width="0.6"/>
<rect x="639.5" y="618.5" width="12.9" height="9.5" fill="#b2b2ff" stroke="none" stroke-width="0.6"/>
<rect x="652.2" y="618.5" width="12.9" height="9.5" fill="#b2b2ff" stroke="none" stroke-width="0.6"/>
<rect x="664.9" y="618.5" width="12.9" height="9.5" fill="#ffb2b2" stroke="none" stroke-width="0.6"/>
<rect x="677.7" y="618.5" width="12.9" height="9.5" fill="#ffebeb" stroke="none" stroke-width="0.6"/>
<rect x="690.4" y="618.5" width="12.9" height="9.5" fill="#ffebeb" stroke="none" stroke-width="0.6"/>
<rect x="703.2" y="618.5" width="12.9" height="9.5" fill="#f2f2ff" stroke="none" stroke-width="0.6"/>
<rect x="715.9" y="618.5" width="12.9" height="9.5" fill="#ffd9d9" stroke="none" stroke-width="0.6"/>
<rect x="524.8" y="627.8" width="12.9" height="9.5" fill="#ff4040" stroke="none" stroke-width="0.6"/>
<rect x="537.5" y="627.8" width="12.9" height="9.5" fill="#ff0000" stroke="none" stroke-width="0.6"/>
<rect x="550.3" y="627.8" width="12.9" height="9.5" fill="#ff7373" stroke="none" stroke-width="0.6"/>
<rect x="563" y="627.8" width="12.9" height="9.5" fill="#ffbfbf" stroke="none" stroke-width="0.6"/>
<rect x="575.8" y="627.8" width="12.9" height="9.5" fill="#ff8080" stroke="none" stroke-width="0.6"/>
<rect x="588.5" y="627.8" width="12.9" height="9.5" fill="#ff3333" stroke="none" stroke-width="0.6"/>
<rect x="601.2" y="627.8" width="12.9" height="9.5" fill="#e0e0ff" stroke="none" stroke-width="0.6"/>
<rect x="614" y="627.8" width="12.9" height="9.5" fill="#bfbfff" stroke="none" stroke-width="0.6"/>
<rect x="626.7" y="627.8" width="12.9" height="9.5" fill="#4040ff" stroke="none" stroke-width="0.6"/>
<rect x="639.5" y="627.8" width="12.9" height="9.5" fill="#a6a6ff" stroke="none" stroke-width="0.6"/>
<rect x="652.2" y="627.8" width="12.9" height="9.5" fill="#b2b2ff" stroke="none" stroke-width="0.6"/>
<rect x="664.9" y="627.8" width="12.9" height="9.5" fill="#ff8080" stroke="none" stroke-width="0.6"/>
<rect x="677.7" y="627.8" width="12.9" height="9.5" fill="#ffcccc" stroke="none" stroke-width="0.6"/>
<rect x="690.4" y="627.8" width="12.9" height="9.5" fill="#ffbfbf" stroke="none" stroke-width="0.6"/>
<rect x="703.2" y="627.8" width="12.9" height="9.5" fill="#f7f7ff" stroke="none" stroke-width="0.6"/>
<rect x="715.9" y="627.8" width="12.9" height="9.5" fill="#ffcccc" stroke="none" stroke-width="0.6"/>
<rect x="524.8" y="637.1" width="12.9" height="9.5" fill="#ff0000" stroke="none" stroke-width="0.6"/>
<rect x="537.5" y="637.1" width="12.9" height="9.5" fill="#ff3333" stroke="none" stroke-width="0.6"/>
<rect x="550.3" y="637.1" width="12.9" height="9.5" fill="#ffa6a6" stroke="none" stroke-width="0.6"/>
<rect x="563" y="637.1" width="12.9" height="9.5" fill="#fffafa" stroke="none" stroke-width="0.6"/>
<rect x="575.8" y="637.1" width="12.9" height="9.5" fill="#ffb2b2" stroke="none" stroke-width="0.6"/>
<rect x="588.5" y="637.1" width="12.9" height="9.5" fill="#ff7373" stroke="none" stroke-width="0.6"/>
<rect x="601.2" y="637.1" width="12.9" height="9.5" fill="#b2b2ff" stroke="none" stroke-width="0.6"/>
<rect x="614" y="637.1" width="12.9" height="9.5" fill="#ccccff" stroke="none" stroke-width="0.6"/>
<rect x="626.7" y="637.1" width="12.9" height="9.5" fill="#8c8cff" stroke="none" stroke-width="0.6"/>
<rect x="639.5" y="637.1" width="12.9" height="9.5" fill="#ccccff" stroke="none" stroke-width="0.6"/>
<rect x="652.2" y="637.1" width="12.9" height="9.5" fill="#b2b2ff" stroke="none" stroke-width="0.6"/>
<rect x="664.9" y="637.1" width="12.9" height="9.5" fill="#ffbfbf" stroke="none" stroke-width="0.6"/>
<rect x="677.7" y="637.1" width="12.9" height="9.5" fill="#ff4d4d" stroke="none" stroke-width="0.6"/>
<rect x="690.4" y="637.1" width="12.9" height="9.5" fill="#ff8c8c" stroke="none" stroke-width="0.6"/>
<rect x="703.2" y="637.1" width="12.9" height="9.5" fill="#f2f2ff" stroke="none" stroke-width="0.6"/>
<rect x="715.9" y="637.1" width="12.9" height="9.5" fill="#ffd9d9" stroke="none" stroke-width="0.6"/>
<rect x="512.7" y="497.6" width="9.9" height="9.4" fill="#a52a2a" stroke="none" stroke-width="0.6"/>
<rect x="715.9" y="487.6" width="12.8" height="7.3" fill="#a52a2a" stroke="none" stroke-width="0.6"/>
<text x="733.8" y="503.6" font-size="4" text-anchor="start" fill="#444">MEbrown</text>
<text x="722.4" y="651.5" font-size="3.5" text-anchor="end" fill="#444" transform="rotate(-90 722.4 651.5)">MEbrown</text>
<rect x="512.7" y="506.9" width="9.9" height="9.4" fill="#40e0d0" stroke="none" stroke-width="0.6"/>
<rect x="703.2" y="487.6" width="12.8" height="7.3" fill="#40e0d0" stroke="none" stroke-width="0.6"/>
<text x="733.8" y="513" font-size="4" text-anchor="start" fill="#444">MEblack</text>
<text x="709.6" y="651.5" font-size="3.5" text-anchor="end" fill="#444" transform="rotate(-90 709.6 651.5)">MEblack</text>
<rect x="512.7" y="516.2" width="9.9" height="9.4" fill="#ffc0cb" stroke="none" stroke-width="0.6"/>
<rect x="690.4" y="487.6" width="12.8" height="7.3" fill="#ffc0cb" stroke="none" stroke-width="0.6"/>
<text x="733.8" y="522.2" font-size="4" text-anchor="start" fill="#444">MEdarkturquoise</text>
<text x="696.9" y="651.5" font-size="3.5" text-anchor="end" fill="#444" transform="rotate(-90 696.9 651.5)">MEdarkturquoise</text>
<rect x="512.7" y="525.5" width="9.9" height="9.4" fill="#adff2f" stroke="none" stroke-width="0.6"/>
<rect x="677.7" y="487.6" width="12.8" height="7.3" fill="#adff2f" stroke="none" stroke-width="0.6"/>
<text x="733.8" y="531.5" font-size="4" text-anchor="start" fill="#444">MElightcyan</text>
<text x="684.1" y="651.5" font-size="3.5" text-anchor="end" fill="#444" transform="rotate(-90 684.1 651.5)">MElightcyan</text>
<rect x="512.7" y="534.8" width="9.9" height="9.4" fill="#a020f0" stroke="none" stroke-width="0.6"/>
<rect x="664.9" y="487.6" width="12.8" height="7.3" fill="#a020f0" stroke="none" stroke-width="0.6"/>
<text x="733.8" y="540.9" font-size="4" text-anchor="start" fill="#444">MEgreenyellow</text>
<text x="671.4" y="651.5" font-size="3.5" text-anchor="end" fill="#444" transform="rotate(-90 671.4 651.5)">MEgreenyellow</text>
<rect x="512.7" y="544.1" width="9.9" height="9.4" fill="#00ff00" stroke="none" stroke-width="0.6"/>
<rect x="652.2" y="487.6" width="12.8" height="7.3" fill="#00ff00" stroke="none" stroke-width="0.6"/>
<text x="733.8" y="550.1" font-size="4" text-anchor="start" fill="#444">MEdarkgreen</text>
<text x="658.7" y="651.5" font-size="3.5" text-anchor="end" fill="#444" transform="rotate(-90 658.7 651.5)">MEdarkgreen</text>
<rect x="512.7" y="553.4" width="9.9" height="9.4" fill="#ff00ff" stroke="none" stroke-width="0.6"/>
<rect x="639.5" y="487.6" width="12.8" height="7.3" fill="#ff00ff" stroke="none" stroke-width="0.6"/>
<text x="733.8" y="559.5" font-size="4" text-anchor="start" fill="#444">MEgreen</text>
<text x="645.9" y="651.5" font-size="3.5" text-anchor="end" fill="#444" transform="rotate(-90 645.9 651.5)">MEgreen</text>
<rect x="512.7" y="562.7" width="9.9" height="9.4" fill="#e0ffff" stroke="none" stroke-width="0.6"/>
<rect x="626.7" y="487.6" width="12.8" height="7.3" fill="#e0ffff" stroke="none" stroke-width="0.6"/>
<text x="733.8" y="568.8" font-size="4" text-anchor="start" fill="#444">MEturquoise</text>
<text x="633.2" y="651.5" font-size="3.5" text-anchor="end" fill="#444" transform="rotate(-90 633.2 651.5)">MEturquoise</text>
<rect x="512.7" y="572" width="9.9" height="9.4" fill="#ffff00" stroke="none" stroke-width="0.6"/>
<rect x="614" y="487.6" width="12.8" height="7.3" fill="#ffff00" stroke="none" stroke-width="0.6"/>
<text x="733.8" y="578.1" font-size="4" text-anchor="start" fill="#444">MEtan</text>
<text x="620.4" y="651.5" font-size="3.5" text-anchor="end" fill="#444" transform="rotate(-90 620.4 651.5)">MEtan</text>
<rect x="512.7" y="581.3" width="9.9" height="9.4" fill="#d2b48c" stroke="none" stroke-width="0.6"/>
<rect x="601.2" y="487.6" width="12.8" height="7.3" fill="#d2b48c" stroke="none" stroke-width="0.6"/>
<text x="733.8" y="587.4" font-size="4" text-anchor="start" fill="#444">MEorange</text>
<text x="607.7" y="651.5" font-size="3.5" text-anchor="end" fill="#444" transform="rotate(-90 607.7 651.5)">MEorange</text>
<rect x="512.7" y="590.6" width="9.9" height="9.4" fill="#00ffff" stroke="none" stroke-width="0.6"/>
<rect x="588.5" y="487.6" width="12.8" height="7.3" fill="#00ffff" stroke="none" stroke-width="0.6"/>
<text x="733.8" y="596.6" font-size="4" text-anchor="start" fill="#444">MEsalmon</text>
<text x="595" y="651.5" font-size="3.5" text-anchor="end" fill="#444" transform="rotate(-90 595 651.5)">MEsalmon</text>
<rect x="512.7" y="599.9" width="9.9" height="9.4" fill="#ff0000" stroke="none" stroke-width="0.6"/>
<rect x="575.8" y="487.6" width="12.8" height="7.3" fill="#ff0000" stroke="none" stroke-width="0.6"/>
<text x="733.8" y="606" font-size="4" text-anchor="start" fill="#444">MEdarkgrey</text>
<text x="582.2" y="651.5" font-size="3.5" text-anchor="end" fill="#444" transform="rotate(-90 582.2 651.5)">MEdarkgrey</text>
<rect x="512.7" y="609.2" width="9.9" height="9.4" fill="#000000" stroke="none" stroke-width="0.6"/>
<rect x="563" y="487.6" width="12.8" height="7.3" fill="#000000" stroke="none" stroke-width="0.6"/>
<text x="733.8" y="615.2" font-size="4" text-anchor="start" fill="#444">MEdarkred</text>
<text x="569.5" y="651.5" font-size="3.5" text-anchor="end" fill="#444" transform="rotate(-90 569.5 651.5)">MEdarkred</text>
<rect x="512.7" y="618.5" width="9.9" height="9.4" fill="#191970" stroke="none" stroke-width="0.6"/>
<rect x="550.3" y="487.6" width="12.8" height="7.3" fill="#191970" stroke="none" stroke-width="0.6"/>
<text x="733.8" y="624.6" font-size="4" text-anchor="start" fill="#444">MEblue</text>
<text x="556.8" y="651.5" font-size="3.5" text-anchor="end" fill="#444" transform="rotate(-90 556.8 651.5)">MEblue</text>
<rect x="512.7" y="627.8" width="9.9" height="9.4" fill="#0000ff" stroke="none" stroke-width="0.6"/>
<rect x="537.5" y="487.6" width="12.8" height="7.3" fill="#0000ff" stroke="none" stroke-width="0.6"/>
<text x="733.8" y="633.9" font-size="4" text-anchor="start" fill="#444">MEpink</text>
<text x="544" y="651.5" font-size="3.5" text-anchor="end" fill="#444" transform="rotate(-90 544 651.5)">MEpink</text>
<rect x="512.7" y="637.1" width="9.9" height="9.4" fill="#fa8072" stroke="none" stroke-width="0.6"/>
<rect x="524.8" y="487.6" width="12.8" height="7.3" fill="#fa8072" stroke="none" stroke-width="0.6"/>
<text x="733.8" y="643.1" font-size="4" text-anchor="start" fill="#444">MEred</text>
<text x="531.3" y="651.5" font-size="3.5" text-anchor="end" fill="#444" transform="rotate(-90 531.3 651.5)">MEred</text>
<line x1="509.7" y1="502.2" x2="482.1" y2="502.2" stroke="#777" stroke-width="0.6"/>
<line x1="509.7" y1="511.6" x2="482.1" y2="511.6" stroke="#777" stroke-width="0.6"/>
<line x1="482.1" y1="502.2" x2="482.1" y2="511.6" stroke="#777" stroke-width="0.6"/>
<line x1="509.7" y1="520.9" x2="489.9" y2="520.9" stroke="#777" stroke-width="0.6"/>
<line x1="509.7" y1="530.1" x2="489.9" y2="530.1" stroke="#777" stroke-width="0.6"/>
<line x1="489.9" y1="520.9" x2="489.9" y2="530.1" stroke="#777" stroke-width="0.6"/>
<line x1="482.1" y1="506.9" x2="462.3" y2="506.9" stroke="#777" stroke-width="0.6"/>
<line x1="489.9" y1="525.5" x2="462.3" y2="525.5" stroke="#777" stroke-width="0.6"/>
<line x1="462.3" y1="506.9" x2="462.3" y2="525.5" stroke="#777" stroke-width="0.6"/>
<line x1="509.7" y1="539.5" x2="470.1" y2="539.5" stroke="#777" stroke-width="0.6"/>
<line x1="509.7" y1="548.8" x2="470.1" y2="548.8" stroke="#777" stroke-width="0.6"/>
<line x1="470.1" y1="539.5" x2="470.1" y2="548.8" stroke="#777" stroke-width="0.6"/>
<line x1="462.3" y1="516.2" x2="452" y2="516.2" stroke="#777" stroke-width="0.6"/>
<line x1="470.1" y1="544.1" x2="452" y2="544.1" stroke="#777" stroke-width="0.6"/>
<line x1="452" y1="516.2" x2="452" y2="544.1" stroke="#777" stroke-width="0.6"/>
<line x1="509.7" y1="558.1" x2="482.7" y2="558.1" stroke="#777" stroke-width="0.6"/>
<line x1="509.7" y1="567.4" x2="482.7" y2="567.4" stroke="#777" stroke-width="0.6"/>
<line x1="482.7" y1="558.1" x2="482.7" y2="567.4" stroke="#777" stroke-width="0.6"/>
<line x1="509.7" y1="576.7" x2="483.3" y2="576.7" stroke="#777" stroke-width="0.6"/>
<line x1="509.7" y1="586" x2="483.3" y2="586" stroke="#777" stroke-width="0.6"/>
<line x1="483.3" y1="576.7" x2="483.3" y2="586" stroke="#777" stroke-width="0.6"/>
<line x1="482.7" y1="562.7" x2="452.9" y2="562.7" stroke="#777" stroke-width="0.6"/>
<line x1="483.3" y1="581.3" x2="452.9" y2="581.3" stroke="#777" stroke-width="0.6"/>
<line x1="452.9" y1="562.7" x2="452.9" y2="581.3" stroke="#777" stroke-width="0.6"/>
<line x1="452" y1="530.2" x2="438.8" y2="530.2" stroke="#777" stroke-width="0.6"/>
<line x1="452.9" y1="572" x2="438.8" y2="572" stroke="#777" stroke-width="0.6"/>
<line x1="438.8" y1="530.2" x2="438.8" y2="572" stroke="#777" stroke-width="0.6"/>
<line x1="509.7" y1="595.2" x2="491.1" y2="595.2" stroke="#777" stroke-width="0.6"/>
<line x1="509.7" y1="604.6" x2="491.1" y2="604.6" stroke="#777" stroke-width="0.6"/>
<line x1="491.1" y1="595.2" x2="491.1" y2="604.6" stroke="#777" stroke-width="0.6"/>
<line x1="509.7" y1="613.9" x2="487.3" y2="613.9" stroke="#777" stroke-width="0.6"/>
<line x1="509.7" y1="623.2" x2="487.3" y2="623.2" stroke="#777" stroke-width="0.6"/>
<line x1="487.3" y1="613.9" x2="487.3" y2="623.2" stroke="#777" stroke-width="0.6"/>
<line x1="491.1" y1="599.9" x2="476.1" y2="599.9" stroke="#777" stroke-width="0.6"/>
<line x1="487.3" y1="618.5" x2="476.1" y2="618.5" stroke="#777" stroke-width="0.6"/>
<line x1="476.1" y1="599.9" x2="476.1" y2="618.5" stroke="#777" stroke-width="0.6"/>
<line x1="509.7" y1="632.5" x2="487" y2="632.5" stroke="#777" stroke-width="0.6"/>
<line x1="509.7" y1="641.8" x2="487" y2="641.8" stroke="#777" stroke-width="0.6"/>
<line x1="487" y1="632.5" x2="487" y2="641.8" stroke="#777" stroke-width="0.6"/>
<line x1="476.1" y1="609.2" x2="463.2" y2="609.2" stroke="#777" stroke-width="0.6"/>
<line x1="487" y1="637.1" x2="463.2" y2="637.1" stroke="#777" stroke-width="0.6"/>
<line x1="463.2" y1="609.2" x2="463.2" y2="637.1" stroke="#777" stroke-width="0.6"/>
<line x1="438.8" y1="551.1" x2="422.7" y2="551.1" stroke="#777" stroke-width="0.6"/>
<line x1="463.2" y1="623.2" x2="422.7" y2="623.2" stroke="#777" stroke-width="0.6"/>
<line x1="422.7" y1="551.1" x2="422.7" y2="623.2" stroke="#777" stroke-width="0.6"/>
<line x1="722.3" y1="487" x2="722.3" y2="473.3" stroke="#777" stroke-width="0.6"/>
<line x1="709.5" y1="487" x2="709.5" y2="473.3" stroke="#777" stroke-width="0.6"/>
<line x1="722.3" y1="473.3" x2="709.5" y2="473.3" stroke="#777" stroke-width="0.6"/>
<line x1="696.8" y1="487" x2="696.8" y2="477.2" stroke="#777" stroke-width="0.6"/>
<line x1="684" y1="487" x2="684" y2="477.2" stroke="#777" stroke-width="0.6"/>
<line x1="696.8" y1="477.2" x2="684" y2="477.2" stroke="#777" stroke-width="0.6"/>
<line x1="715.9" y1="473.3" x2="715.9" y2="463.5" stroke="#777" stroke-width="0.6"/>
<line x1="690.4" y1="477.2" x2="690.4" y2="463.5" stroke="#777" stroke-width="0.6"/>
<line x1="715.9" y1="463.5" x2="690.4" y2="463.5" stroke="#777" stroke-width="0.6"/>
<line x1="671.3" y1="487" x2="671.3" y2="467.3" stroke="#777" stroke-width="0.6"/>
<line x1="658.6" y1="487" x2="658.6" y2="467.3" stroke="#777" stroke-width="0.6"/>
<line x1="671.3" y1="467.3" x2="658.6" y2="467.3" stroke="#777" stroke-width="0.6"/>
<line x1="703.2" y1="463.5" x2="703.2" y2="458.3" stroke="#777" stroke-width="0.6"/>
<line x1="664.9" y1="467.3" x2="664.9" y2="458.3" stroke="#777" stroke-width="0.6"/>
<line x1="703.2" y1="458.3" x2="664.9" y2="458.3" stroke="#777" stroke-width="0.6"/>
<line x1="645.8" y1="487" x2="645.8" y2="473.6" stroke="#777" stroke-width="0.6"/>
<line x1="633.1" y1="487" x2="633.1" y2="473.6" stroke="#777" stroke-width="0.6"/>
<line x1="645.8" y1="473.6" x2="633.1" y2="473.6" stroke="#777" stroke-width="0.6"/>
<line x1="620.3" y1="487" x2="620.3" y2="473.9" stroke="#777" stroke-width="0.6"/>
<line x1="607.6" y1="487" x2="607.6" y2="473.9" stroke="#777" stroke-width="0.6"/>
<line x1="620.3" y1="473.9" x2="607.6" y2="473.9" stroke="#777" stroke-width="0.6"/>
<line x1="639.5" y1="473.6" x2="639.5" y2="458.8" stroke="#777" stroke-width="0.6"/>
<line x1="614" y1="473.9" x2="614" y2="458.8" stroke="#777" stroke-width="0.6"/>
<line x1="639.5" y1="458.8" x2="614" y2="458.8" stroke="#777" stroke-width="0.6"/>
<line x1="684" y1="458.3" x2="684" y2="451.8" stroke="#777" stroke-width="0.6"/>
<line x1="626.7" y1="458.8" x2="626.7" y2="451.8" stroke="#777" stroke-width="0.6"/>
<line x1="684" y1="451.8" x2="626.7" y2="451.8" stroke="#777" stroke-width="0.6"/>
<line x1="594.9" y1="487" x2="594.9" y2="477.8" stroke="#777" stroke-width="0.6"/>
<line x1="582.1" y1="487" x2="582.1" y2="477.8" stroke="#777" stroke-width="0.6"/>
<line x1="594.9" y1="477.8" x2="582.1" y2="477.8" stroke="#777" stroke-width="0.6"/>
<line x1="569.4" y1="487" x2="569.4" y2="475.9" stroke="#777" stroke-width="0.6"/>
<line x1="556.6" y1="487" x2="556.6" y2="475.9" stroke="#777" stroke-width="0.6"/>
<line x1="569.4" y1="475.9" x2="556.6" y2="475.9" stroke="#777" stroke-width="0.6"/>
<line x1="588.5" y1="477.8" x2="588.5" y2="470.3" stroke="#777" stroke-width="0.6"/>
<line x1="563" y1="475.9" x2="563" y2="470.3" stroke="#777" stroke-width="0.6"/>
<line x1="588.5" y1="470.3" x2="563" y2="470.3" stroke="#777" stroke-width="0.6"/>
<line x1="543.9" y1="487" x2="543.9" y2="475.7" stroke="#777" stroke-width="0.6"/>
<line x1="531.2" y1="487" x2="531.2" y2="475.7" stroke="#777" stroke-width="0.6"/>
<line x1="543.9" y1="475.7" x2="531.2" y2="475.7" stroke="#777" stroke-width="0.6"/>
<line x1="575.8" y1="470.3" x2="575.8" y2="463.9" stroke="#777" stroke-width="0.6"/>
<line x1="537.5" y1="475.7" x2="537.5" y2="463.9" stroke="#777" stroke-width="0.6"/>
<line x1="575.8" y1="463.9" x2="537.5" y2="463.9" stroke="#777" stroke-width="0.6"/>
<line x1="655.4" y1="451.8" x2="655.4" y2="443.8" stroke="#777" stroke-width="0.6"/>
<line x1="556.6" y1="463.9" x2="556.6" y2="443.8" stroke="#777" stroke-width="0.6"/>
<line x1="655.4" y1="443.8" x2="556.6" y2="443.8" stroke="#777" stroke-width="0.6"/>
<text x="150" y="727.3" font-size="7.9" text-anchor="middle" font-weight="bold" fill="#000">Module membership vs. gene significance</text>
<text x="151.5" y="737.5" font-size="8" text-anchor="middle" font-weight="bold" fill="#000">cor=0.86, p<1e−200</text>
<path d="M79.4 835.6 L86.6 830.8 L93.8 826.1 L101 821.3 L108.2 816.5 L115.5 812.3 L122.7 808.6 L129.9 804.8 L137.1 801 L144.3 797.3 L151.5 793.3 L158.7 789.4 L165.9 785.5 L173.1 781.5 L180.4 778.1 L187.6 774.8 L194.8 771.5 L202 768.2 L209.2 765.5 L216.4 764.3 L223.6 763.2 L223.6 789.6 L216.4 794.3 L209.2 799 L202 803.1 L194.8 806.9 L187.6 810.8 L180.4 814.6 L173.1 818.5 L165.9 822.2 L158.7 825.9 L151.5 829.7 L144.3 833.4 L137.1 836.1 L129.9 838.7 L122.7 841.2 L115.5 843.8 L108.2 846 L101 847.5 L93.8 849.1 L86.6 850.7 L79.4 852.3 Z" fill="#40e0d0"/>
<clipPath id="gclip"><rect x="64.6" y="746.4" width="172.2" height="123.5"/></clipPath>
<path d="M154.8 809.1m-1.6 0a1.6 1.6 0 1 0 3.2 0a1.6 1.6 0 1 0 -3.2 0M220 766.2m-1.6 0a1.6 1.6 0 1 0 3.2 0a1.6 1.6 0 1 0 -3.2 0M174.6 811.9m-1.6 0a1.6 1.6 0 1 0 3.2 0a1.6 1.6 0 1 0 -3.2 0M90 835.3m-1.6 0a1.6 1.6 0 1 0 3.2 0a1.6 1.6 0 1 0 -3.2 0M167.1 768m-1.6 0a1.6 1.6 0 1 0 3.2 0a1.6 1.6 0 1 0 -3.2 0M210.9 769.9m-1.6 0a1.6 1.6 0 1 0 3.2 0a1.6 1.6 0 1 0 -3.2 0M166 804.8m-1.6 0a1.6 1.6 0 1 0 3.2 0a1.6 1.6 0 1 0 -3.2 0M171.4 800.4m-1.6 0a1.6 1.6 0 1 0 3.2 0a1.6 1.6 0 1 0 -3.2 0M209.8 779.4m-1.6 0a1.6 1.6 0 1 0 3.2 0a1.6 1.6 0 1 0 -3.2 0M134.8 832.8m-1.6 0a1.6 1.6 0 1 0 3.2 0a1.6 1.6 0 1 0 -3.2 0M148.2 832.5m-1.6 0a1.6 1.6 0 1 0 3.2 0a1.6 1.6 0 1 0 -3.2 0M156.5 828.8m-1.6 0a1.6 1.6 0 1 0 3.2 0a1.6 1.6 0 1 0 -3.2 0M156.4 786.6m-1.6 0a1.6 1.6 0 1 0 3.2 0a1.6 1.6 0 1 0 -3.2 0M206.4 792.1m-1.6 0a1.6 1.6 0 1 0 3.2 0a1.6 1.6 0 1 0 -3.2 0M101.6 818.3m-1.6 0a1.6 1.6 0 1 0 3.2 0a1.6 1.6 0 1 0 -3.2 0M222.2 769.6m-1.6 0a1.6 1.6 0 1 0 3.2 0a1.6 1.6 0 1 0 -3.2 0M119.3 816.9m-1.6 0a1.6 1.6 0 1 0 3.2 0a1.6 1.6 0 1 0 -3.2 0M93.6 844.4m-1.6 0a1.6 1.6 0 1 0 3.2 0a1.6 1.6 0 1 0 -3.2 0M83.5 845.3m-1.6 0a1.6 1.6 0 1 0 3.2 0a1.6 1.6 0 1 0 -3.2 0M186.7 808.5m-1.6 0a1.6 1.6 0 1 0 3.2 0a1.6 1.6 0 1 0 -3.2 0M151.4 820.3m-1.6 0a1.6 1.6 0 1 0 3.2 0a1.6 1.6 0 1 0 -3.2 0M136.4 841.2m-1.6 0a1.6 1.6 0 1 0 3.2 0a1.6 1.6 0 1 0 -3.2 0M155.8 832.1m-1.6 0a1.6 1.6 0 1 0 3.2 0a1.6 1.6 0 1 0 -3.2 0M132.5 798m-1.6 0a1.6 1.6 0 1 0 3.2 0a1.6 1.6 0 1 0 -3.2 0M137.2 829.4m-1.6 0a1.6 1.6 0 1 0 3.2 0a1.6 1.6 0 1 0 -3.2 0M204.6 796.8m-1.6 0a1.6 1.6 0 1 0 3.2 0a1.6 1.6 0 1 0 -3.2 0M168.5 826.5m-1.6 0a1.6 1.6 0 1 0 3.2 0a1.6 1.6 0 1 0 -3.2 0M183.6 805.3m-1.6 0a1.6 1.6 0 1 0 3.2 0a1.6 1.6 0 1 0 -3.2 0M187.7 809.1m-1.6 0a1.6 1.6 0 1 0 3.2 0a1.6 1.6 0 1 0 -3.2 0M213.7 766.1m-1.6 0a1.6 1.6 0 1 0 3.2 0a1.6 1.6 0 1 0 -3.2 0M150.3 806.1m-1.6 0a1.6 1.6 0 1 0 3.2 0a1.6 1.6 0 1 0 -3.2 0M107.7 848m-1.6 0a1.6 1.6 0 1 0 3.2 0a1.6 1.6 0 1 0 -3.2 0M173.9 809m-1.6 0a1.6 1.6 0 1 0 3.2 0a1.6 1.6 0 1 0 -3.2 0M214.6 794.9m-1.6 0a1.6 1.6 0 1 0 3.2 0a1.6 1.6 0 1 0 -3.2 0M95.9 826.9m-1.6 0a1.6 1.6 0 1 0 3.2 0a1.6 1.6 0 1 0 -3.2 0M126.6 833.3m-1.6 0a1.6 1.6 0 1 0 3.2 0a1.6 1.6 0 1 0 -3.2 0M140.5 822.1m-1.6 0a1.6 1.6 0 1 0 3.2 0a1.6 1.6 0 1 0 -3.2 0M225 788m-1.6 0a1.6 1.6 0 1 0 3.2 0a1.6 1.6 0 1 0 -3.2 0M146.3 792.8m-1.6 0a1.6 1.6 0 1 0 3.2 0a1.6 1.6 0 1 0 -3.2 0M197.9 810.2m-1.6 0a1.6 1.6 0 1 0 3.2 0a1.6 1.6 0 1 0 -3.2 0M208.5 761.7m-1.6 0a1.6 1.6 0 1 0 3.2 0a1.6 1.6 0 1 0 -3.2 0M152 811.9m-1.6 0a1.6 1.6 0 1 0 3.2 0a1.6 1.6 0 1 0 -3.2 0M155.5 817.4m-1.6 0a1.6 1.6 0 1 0 3.2 0a1.6 1.6 0 1 0 -3.2 0M93.1 824.4m-1.6 0a1.6 1.6 0 1 0 3.2 0a1.6 1.6 0 1 0 -3.2 0M216.5 787.7m-1.6 0a1.6 1.6 0 1 0 3.2 0a1.6 1.6 0 1 0 -3.2 0M184 803.6m-1.6 0a1.6 1.6 0 1 0 3.2 0a1.6 1.6 0 1 0 -3.2 0M97.4 833.6m-1.6 0a1.6 1.6 0 1 0 3.2 0a1.6 1.6 0 1 0 -3.2 0M123 804.3m-1.6 0a1.6 1.6 0 1 0 3.2 0a1.6 1.6 0 1 0 -3.2 0M164.3 802.8m-1.6 0a1.6 1.6 0 1 0 3.2 0a1.6 1.6 0 1 0 -3.2 0M155.3 794.2m-1.6 0a1.6 1.6 0 1 0 3.2 0a1.6 1.6 0 1 0 -3.2 0M123.8 812.2m-1.6 0a1.6 1.6 0 1 0 3.2 0a1.6 1.6 0 1 0 -3.2 0M104.4 838.3m-1.6 0a1.6 1.6 0 1 0 3.2 0a1.6 1.6 0 1 0 -3.2 0M173.1 798.5m-1.6 0a1.6 1.6 0 1 0 3.2 0a1.6 1.6 0 1 0 -3.2 0M166.2 818.1m-1.6 0a1.6 1.6 0 1 0 3.2 0a1.6 1.6 0 1 0 -3.2 0M171.9 783.1m-1.6 0a1.6 1.6 0 1 0 3.2 0a1.6 1.6 0 1 0 -3.2 0M92.3 843.8m-1.6 0a1.6 1.6 0 1 0 3.2 0a1.6 1.6 0 1 0 -3.2 0M184.6 780.2m-1.6 0a1.6 1.6 0 1 0 3.2 0a1.6 1.6 0 1 0 -3.2 0M155 812.8m-1.6 0a1.6 1.6 0 1 0 3.2 0a1.6 1.6 0 1 0 -3.2 0M161.5 827.1m-1.6 0a1.6 1.6 0 1 0 3.2 0a1.6 1.6 0 1 0 -3.2 0M157.5 822.7m-1.6 0a1.6 1.6 0 1 0 3.2 0a1.6 1.6 0 1 0 -3.2 0M227.4 768m-1.6 0a1.6 1.6 0 1 0 3.2 0a1.6 1.6 0 1 0 -3.2 0M138.8 840.7m-1.6 0a1.6 1.6 0 1 0 3.2 0a1.6 1.6 0 1 0 -3.2 0M214.7 783.9m-1.6 0a1.6 1.6 0 1 0 3.2 0a1.6 1.6 0 1 0 -3.2 0M120.9 817.6m-1.6 0a1.6 1.6 0 1 0 3.2 0a1.6 1.6 0 1 0 -3.2 0M149.8 839.2m-1.6 0a1.6 1.6 0 1 0 3.2 0a1.6 1.6 0 1 0 -3.2 0M101.8 857.6m-1.6 0a1.6 1.6 0 1 0 3.2 0a1.6 1.6 0 1 0 -3.2 0M200.2 793.9m-1.6 0a1.6 1.6 0 1 0 3.2 0a1.6 1.6 0 1 0 -3.2 0M177.6 810.9m-1.6 0a1.6 1.6 0 1 0 3.2 0a1.6 1.6 0 1 0 -3.2 0M132.8 797.6m-1.6 0a1.6 1.6 0 1 0 3.2 0a1.6 1.6 0 1 0 -3.2 0M137.2 813.1m-1.6 0a1.6 1.6 0 1 0 3.2 0a1.6 1.6 0 1 0 -3.2 0M197.9 793.5m-1.6 0a1.6 1.6 0 1 0 3.2 0a1.6 1.6 0 1 0 -3.2 0M104.2 814.8m-1.6 0a1.6 1.6 0 1 0 3.2 0a1.6 1.6 0 1 0 -3.2 0M222.1 793.5m-1.6 0a1.6 1.6 0 1 0 3.2 0a1.6 1.6 0 1 0 -3.2 0M158.8 786m-1.6 0a1.6 1.6 0 1 0 3.2 0a1.6 1.6 0 1 0 -3.2 0M138.5 810.7m-1.6 0a1.6 1.6 0 1 0 3.2 0a1.6 1.6 0 1 0 -3.2 0M135.8 831m-1.6 0a1.6 1.6 0 1 0 3.2 0a1.6 1.6 0 1 0 -3.2 0M175.8 776.6m-1.6 0a1.6 1.6 0 1 0 3.2 0a1.6 1.6 0 1 0 -3.2 0M105.5 831.8m-1.6 0a1.6 1.6 0 1 0 3.2 0a1.6 1.6 0 1 0 -3.2 0M211.1 794.3m-1.6 0a1.6 1.6 0 1 0 3.2 0a1.6 1.6 0 1 0 -3.2 0M147.7 815.6m-1.6 0a1.6 1.6 0 1 0 3.2 0a1.6 1.6 0 1 0 -3.2 0M143.5 791.8m-1.6 0a1.6 1.6 0 1 0 3.2 0a1.6 1.6 0 1 0 -3.2 0M113.6 821.2m-1.6 0a1.6 1.6 0 1 0 3.2 0a1.6 1.6 0 1 0 -3.2 0M149.6 824.7m-1.6 0a1.6 1.6 0 1 0 3.2 0a1.6 1.6 0 1 0 -3.2 0M102.1 832.4m-1.6 0a1.6 1.6 0 1 0 3.2 0a1.6 1.6 0 1 0 -3.2 0M163.3 819.4m-1.6 0a1.6 1.6 0 1 0 3.2 0a1.6 1.6 0 1 0 -3.2 0M203 772.7m-1.6 0a1.6 1.6 0 1 0 3.2 0a1.6 1.6 0 1 0 -3.2 0M161.4 798.7m-1.6 0a1.6 1.6 0 1 0 3.2 0a1.6 1.6 0 1 0 -3.2 0M183.6 772.6m-1.6 0a1.6 1.6 0 1 0 3.2 0a1.6 1.6 0 1 0 -3.2 0M141.4 836.9m-1.6 0a1.6 1.6 0 1 0 3.2 0a1.6 1.6 0 1 0 -3.2 0M200.7 777.2m-1.6 0a1.6 1.6 0 1 0 3.2 0a1.6 1.6 0 1 0 -3.2 0M155.6 827.9m-1.6 0a1.6 1.6 0 1 0 3.2 0a1.6 1.6 0 1 0 -3.2 0M203.2 774.7m-1.6 0a1.6 1.6 0 1 0 3.2 0a1.6 1.6 0 1 0 -3.2 0M164.8 819.3m-1.6 0a1.6 1.6 0 1 0 3.2 0a1.6 1.6 0 1 0 -3.2 0M162.8 821.3m-1.6 0a1.6 1.6 0 1 0 3.2 0a1.6 1.6 0 1 0 -3.2 0M188.4 770m-1.6 0a1.6 1.6 0 1 0 3.2 0a1.6 1.6 0 1 0 -3.2 0M223.7 791m-1.6 0a1.6 1.6 0 1 0 3.2 0a1.6 1.6 0 1 0 -3.2 0M90.9 834.5m-1.6 0a1.6 1.6 0 1 0 3.2 0a1.6 1.6 0 1 0 -3.2 0M98.3 839.1m-1.6 0a1.6 1.6 0 1 0 3.2 0a1.6 1.6 0 1 0 -3.2 0M118.9 817.1m-1.6 0a1.6 1.6 0 1 0 3.2 0a1.6 1.6 0 1 0 -3.2 0M194 772.9m-1.6 0a1.6 1.6 0 1 0 3.2 0a1.6 1.6 0 1 0 -3.2 0M129.2 820.9m-1.6 0a1.6 1.6 0 1 0 3.2 0a1.6 1.6 0 1 0 -3.2 0M193.1 778.6m-1.6 0a1.6 1.6 0 1 0 3.2 0a1.6 1.6 0 1 0 -3.2 0M127.3 830.6m-1.6 0a1.6 1.6 0 1 0 3.2 0a1.6 1.6 0 1 0 -3.2 0M154.8 825.3m-1.6 0a1.6 1.6 0 1 0 3.2 0a1.6 1.6 0 1 0 -3.2 0M90.6 850.3m-1.6 0a1.6 1.6 0 1 0 3.2 0a1.6 1.6 0 1 0 -3.2 0M160.6 820.1m-1.6 0a1.6 1.6 0 1 0 3.2 0a1.6 1.6 0 1 0 -3.2 0M173.8 797.3m-1.6 0a1.6 1.6 0 1 0 3.2 0a1.6 1.6 0 1 0 -3.2 0M126 835.8m-1.6 0a1.6 1.6 0 1 0 3.2 0a1.6 1.6 0 1 0 -3.2 0M91.1 824.5m-1.6 0a1.6 1.6 0 1 0 3.2 0a1.6 1.6 0 1 0 -3.2 0M226.3 769.3m-1.6 0a1.6 1.6 0 1 0 3.2 0a1.6 1.6 0 1 0 -3.2 0M212.5 765.2m-1.6 0a1.6 1.6 0 1 0 3.2 0a1.6 1.6 0 1 0 -3.2 0M158.3 832.2m-1.6 0a1.6 1.6 0 1 0 3.2 0a1.6 1.6 0 1 0 -3.2 0M215.1 780.7m-1.6 0a1.6 1.6 0 1 0 3.2 0a1.6 1.6 0 1 0 -3.2 0M145.5 800.7m-1.6 0a1.6 1.6 0 1 0 3.2 0a1.6 1.6 0 1 0 -3.2 0M212.5 779m-1.6 0a1.6 1.6 0 1 0 3.2 0a1.6 1.6 0 1 0 -3.2 0M188.9 793.7m-1.6 0a1.6 1.6 0 1 0 3.2 0a1.6 1.6 0 1 0 -3.2 0M196.3 776.1m-1.6 0a1.6 1.6 0 1 0 3.2 0a1.6 1.6 0 1 0 -3.2 0M77.8 834.6m-1.6 0a1.6 1.6 0 1 0 3.2 0a1.6 1.6 0 1 0 -3.2 0M189.1 799.8m-1.6 0a1.6 1.6 0 1 0 3.2 0a1.6 1.6 0 1 0 -3.2 0M184.2 802.7m-1.6 0a1.6 1.6 0 1 0 3.2 0a1.6 1.6 0 1 0 -3.2 0M162.4 810.5m-1.6 0a1.6 1.6 0 1 0 3.2 0a1.6 1.6 0 1 0 -3.2 0M112.5 849.2m-1.6 0a1.6 1.6 0 1 0 3.2 0a1.6 1.6 0 1 0 -3.2 0M132 832.4m-1.6 0a1.6 1.6 0 1 0 3.2 0a1.6 1.6 0 1 0 -3.2 0M165.3 793.4m-1.6 0a1.6 1.6 0 1 0 3.2 0a1.6 1.6 0 1 0 -3.2 0M208.5 800.3m-1.6 0a1.6 1.6 0 1 0 3.2 0a1.6 1.6 0 1 0 -3.2 0M106.5 845.1m-1.6 0a1.6 1.6 0 1 0 3.2 0a1.6 1.6 0 1 0 -3.2 0M185.7 811m-1.6 0a1.6 1.6 0 1 0 3.2 0a1.6 1.6 0 1 0 -3.2 0M183 780.8m-1.6 0a1.6 1.6 0 1 0 3.2 0a1.6 1.6 0 1 0 -3.2 0M221.1 770.2m-1.6 0a1.6 1.6 0 1 0 3.2 0a1.6 1.6 0 1 0 -3.2 0M161.2 783.3m-1.6 0a1.6 1.6 0 1 0 3.2 0a1.6 1.6 0 1 0 -3.2 0M107.8 840.6m-1.6 0a1.6 1.6 0 1 0 3.2 0a1.6 1.6 0 1 0 -3.2 0M226.7 764m-1.6 0a1.6 1.6 0 1 0 3.2 0a1.6 1.6 0 1 0 -3.2 0M123.2 838.6m-1.6 0a1.6 1.6 0 1 0 3.2 0a1.6 1.6 0 1 0 -3.2 0M154.9 805.3m-1.6 0a1.6 1.6 0 1 0 3.2 0a1.6 1.6 0 1 0 -3.2 0M183 810.9m-1.6 0a1.6 1.6 0 1 0 3.2 0a1.6 1.6 0 1 0 -3.2 0M154 832.6m-1.6 0a1.6 1.6 0 1 0 3.2 0a1.6 1.6 0 1 0 -3.2 0M183.7 785.5m-1.6 0a1.6 1.6 0 1 0 3.2 0a1.6 1.6 0 1 0 -3.2 0M191.5 750.2m-1.6 0a1.6 1.6 0 1 0 3.2 0a1.6 1.6 0 1 0 -3.2 0M150.3 814.7m-1.6 0a1.6 1.6 0 1 0 3.2 0a1.6 1.6 0 1 0 -3.2 0M153.6 819.9m-1.6 0a1.6 1.6 0 1 0 3.2 0a1.6 1.6 0 1 0 -3.2 0M215.5 783.9m-1.6 0a1.6 1.6 0 1 0 3.2 0a1.6 1.6 0 1 0 -3.2 0M91.8 841.6m-1.6 0a1.6 1.6 0 1 0 3.2 0a1.6 1.6 0 1 0 -3.2 0M196.8 773.9m-1.6 0a1.6 1.6 0 1 0 3.2 0a1.6 1.6 0 1 0 -3.2 0M118.3 814.4m-1.6 0a1.6 1.6 0 1 0 3.2 0a1.6 1.6 0 1 0 -3.2 0M145.7 835.7m-1.6 0a1.6 1.6 0 1 0 3.2 0a1.6 1.6 0 1 0 -3.2 0M137.5 799.7m-1.6 0a1.6 1.6 0 1 0 3.2 0a1.6 1.6 0 1 0 -3.2 0M142.3 796.1m-1.6 0a1.6 1.6 0 1 0 3.2 0a1.6 1.6 0 1 0 -3.2 0M98.5 831.1m-1.6 0a1.6 1.6 0 1 0 3.2 0a1.6 1.6 0 1 0 -3.2 0M97.4 832.3m-1.6 0a1.6 1.6 0 1 0 3.2 0a1.6 1.6 0 1 0 -3.2 0M191 781.1m-1.6 0a1.6 1.6 0 1 0 3.2 0a1.6 1.6 0 1 0 -3.2 0M162.7 811.8m-1.6 0a1.6 1.6 0 1 0 3.2 0a1.6 1.6 0 1 0 -3.2 0M167.4 782.2m-1.6 0a1.6 1.6 0 1 0 3.2 0a1.6 1.6 0 1 0 -3.2 0M160.8 827.4m-1.6 0a1.6 1.6 0 1 0 3.2 0a1.6 1.6 0 1 0 -3.2 0M150.6 797.3m-1.6 0a1.6 1.6 0 1 0 3.2 0a1.6 1.6 0 1 0 -3.2 0M128.7 804.4m-1.6 0a1.6 1.6 0 1 0 3.2 0a1.6 1.6 0 1 0 -3.2 0M172.9 815.9m-1.6 0a1.6 1.6 0 1 0 3.2 0a1.6 1.6 0 1 0 -3.2 0M185.5 793m-1.6 0a1.6 1.6 0 1 0 3.2 0a1.6 1.6 0 1 0 -3.2 0M135 811.7m-1.6 0a1.6 1.6 0 1 0 3.2 0a1.6 1.6 0 1 0 -3.2 0M173.5 802.7m-1.6 0a1.6 1.6 0 1 0 3.2 0a1.6 1.6 0 1 0 -3.2 0M192.9 790.2m-1.6 0a1.6 1.6 0 1 0 3.2 0a1.6 1.6 0 1 0 -3.2 0M79.1 842m-1.6 0a1.6 1.6 0 1 0 3.2 0a1.6 1.6 0 1 0 -3.2 0M84.7 834m-1.6 0a1.6 1.6 0 1 0 3.2 0a1.6 1.6 0 1 0 -3.2 0M93.7 845.7m-1.6 0a1.6 1.6 0 1 0 3.2 0a1.6 1.6 0 1 0 -3.2 0M207.2 781.9m-1.6 0a1.6 1.6 0 1 0 3.2 0a1.6 1.6 0 1 0 -3.2 0M203.7 796.2m-1.6 0a1.6 1.6 0 1 0 3.2 0a1.6 1.6 0 1 0 -3.2 0M85.1 843.7m-1.6 0a1.6 1.6 0 1 0 3.2 0a1.6 1.6 0 1 0 -3.2 0M147.1 804.5m-1.6 0a1.6 1.6 0 1 0 3.2 0a1.6 1.6 0 1 0 -3.2 0M151.4 816.8m-1.6 0a1.6 1.6 0 1 0 3.2 0a1.6 1.6 0 1 0 -3.2 0M174.4 801.2m-1.6 0a1.6 1.6 0 1 0 3.2 0a1.6 1.6 0 1 0 -3.2 0M156 816.7m-1.6 0a1.6 1.6 0 1 0 3.2 0a1.6 1.6 0 1 0 -3.2 0M171.3 806.3m-1.6 0a1.6 1.6 0 1 0 3.2 0a1.6 1.6 0 1 0 -3.2 0M136.7 832.1m-1.6 0a1.6 1.6 0 1 0 3.2 0a1.6 1.6 0 1 0 -3.2 0M165 786.6m-1.6 0a1.6 1.6 0 1 0 3.2 0a1.6 1.6 0 1 0 -3.2 0M202.5 795.9m-1.6 0a1.6 1.6 0 1 0 3.2 0a1.6 1.6 0 1 0 -3.2 0M96.8 838.4m-1.6 0a1.6 1.6 0 1 0 3.2 0a1.6 1.6 0 1 0 -3.2 0M108.4 842.6m-1.6 0a1.6 1.6 0 1 0 3.2 0a1.6 1.6 0 1 0 -3.2 0M88.7 848m-1.6 0a1.6 1.6 0 1 0 3.2 0a1.6 1.6 0 1 0 -3.2 0M177.6 814.9m-1.6 0a1.6 1.6 0 1 0 3.2 0a1.6 1.6 0 1 0 -3.2 0M194.6 806.5m-1.6 0a1.6 1.6 0 1 0 3.2 0a1.6 1.6 0 1 0 -3.2 0M152.1 825.5m-1.6 0a1.6 1.6 0 1 0 3.2 0a1.6 1.6 0 1 0 -3.2 0M148.1 785.6m-1.6 0a1.6 1.6 0 1 0 3.2 0a1.6 1.6 0 1 0 -3.2 0M149 835.8m-1.6 0a1.6 1.6 0 1 0 3.2 0a1.6 1.6 0 1 0 -3.2 0M126.6 815.6m-1.6 0a1.6 1.6 0 1 0 3.2 0a1.6 1.6 0 1 0 -3.2 0M209.4 785.4m-1.6 0a1.6 1.6 0 1 0 3.2 0a1.6 1.6 0 1 0 -3.2 0M165.5 814.8m-1.6 0a1.6 1.6 0 1 0 3.2 0a1.6 1.6 0 1 0 -3.2 0M119.3 837.5m-1.6 0a1.6 1.6 0 1 0 3.2 0a1.6 1.6 0 1 0 -3.2 0M111.5 821.5m-1.6 0a1.6 1.6 0 1 0 3.2 0a1.6 1.6 0 1 0 -3.2 0M227 787.8m-1.6 0a1.6 1.6 0 1 0 3.2 0a1.6 1.6 0 1 0 -3.2 0M151 820.2m-1.6 0a1.6 1.6 0 1 0 3.2 0a1.6 1.6 0 1 0 -3.2 0M134.4 834.2m-1.6 0a1.6 1.6 0 1 0 3.2 0a1.6 1.6 0 1 0 -3.2 0M147.1 807.7m-1.6 0a1.6 1.6 0 1 0 3.2 0a1.6 1.6 0 1 0 -3.2 0M185 781.2m-1.6 0a1.6 1.6 0 1 0 3.2 0a1.6 1.6 0 1 0 -3.2 0M137.4 830.2m-1.6 0a1.6 1.6 0 1 0 3.2 0a1.6 1.6 0 1 0 -3.2 0M154.9 833.9m-1.6 0a1.6 1.6 0 1 0 3.2 0a1.6 1.6 0 1 0 -3.2 0M199.2 784.8m-1.6 0a1.6 1.6 0 1 0 3.2 0a1.6 1.6 0 1 0 -3.2 0M121.2 832.2m-1.6 0a1.6 1.6 0 1 0 3.2 0a1.6 1.6 0 1 0 -3.2 0M160 793.3m-1.6 0a1.6 1.6 0 1 0 3.2 0a1.6 1.6 0 1 0 -3.2 0M177.9 795.9m-1.6 0a1.6 1.6 0 1 0 3.2 0a1.6 1.6 0 1 0 -3.2 0M153.9 828.4m-1.6 0a1.6 1.6 0 1 0 3.2 0a1.6 1.6 0 1 0 -3.2 0M171.8 801.7m-1.6 0a1.6 1.6 0 1 0 3.2 0a1.6 1.6 0 1 0 -3.2 0M152.8 816m-1.6 0a1.6 1.6 0 1 0 3.2 0a1.6 1.6 0 1 0 -3.2 0M155.1 797m-1.6 0a1.6 1.6 0 1 0 3.2 0a1.6 1.6 0 1 0 -3.2 0M194.2 783.7m-1.6 0a1.6 1.6 0 1 0 3.2 0a1.6 1.6 0 1 0 -3.2 0M223.9 785.7m-1.6 0a1.6 1.6 0 1 0 3.2 0a1.6 1.6 0 1 0 -3.2 0M143.4 820.7m-1.6 0a1.6 1.6 0 1 0 3.2 0a1.6 1.6 0 1 0 -3.2 0M228.3 780.5m-1.6 0a1.6 1.6 0 1 0 3.2 0a1.6 1.6 0 1 0 -3.2 0M220.9 775.9m-1.6 0a1.6 1.6 0 1 0 3.2 0a1.6 1.6 0 1 0 -3.2 0M185.3 772.7m-1.6 0a1.6 1.6 0 1 0 3.2 0a1.6 1.6 0 1 0 -3.2 0M119.9 845.1m-1.6 0a1.6 1.6 0 1 0 3.2 0a1.6 1.6 0 1 0 -3.2 0M210.7 762.7m-1.6 0a1.6 1.6 0 1 0 3.2 0a1.6 1.6 0 1 0 -3.2 0M194.8 786.1m-1.6 0a1.6 1.6 0 1 0 3.2 0a1.6 1.6 0 1 0 -3.2 0M145 821.4m-1.6 0a1.6 1.6 0 1 0 3.2 0a1.6 1.6 0 1 0 -3.2 0M116.2 828.5m-1.6 0a1.6 1.6 0 1 0 3.2 0a1.6 1.6 0 1 0 -3.2 0M166.2 796m-1.6 0a1.6 1.6 0 1 0 3.2 0a1.6 1.6 0 1 0 -3.2 0M221.9 784m-1.6 0a1.6 1.6 0 1 0 3.2 0a1.6 1.6 0 1 0 -3.2 0M200.8 785m-1.6 0a1.6 1.6 0 1 0 3.2 0a1.6 1.6 0 1 0 -3.2 0M166.3 785.5m-1.6 0a1.6 1.6 0 1 0 3.2 0a1.6 1.6 0 1 0 -3.2 0M174.4 775.4m-1.6 0a1.6 1.6 0 1 0 3.2 0a1.6 1.6 0 1 0 -3.2 0M145.5 811.2m-1.6 0a1.6 1.6 0 1 0 3.2 0a1.6 1.6 0 1 0 -3.2 0M166.5 807.1m-1.6 0a1.6 1.6 0 1 0 3.2 0a1.6 1.6 0 1 0 -3.2 0M185.7 785m-1.6 0a1.6 1.6 0 1 0 3.2 0a1.6 1.6 0 1 0 -3.2 0M179.5 820.8m-1.6 0a1.6 1.6 0 1 0 3.2 0a1.6 1.6 0 1 0 -3.2 0M185.4 786.6m-1.6 0a1.6 1.6 0 1 0 3.2 0a1.6 1.6 0 1 0 -3.2 0M149.2 789.1m-1.6 0a1.6 1.6 0 1 0 3.2 0a1.6 1.6 0 1 0 -3.2 0M193.1 805.3m-1.6 0a1.6 1.6 0 1 0 3.2 0a1.6 1.6 0 1 0 -3.2 0M184 779.2m-1.6 0a1.6 1.6 0 1 0 3.2 0a1.6 1.6 0 1 0 -3.2 0M189.7 771.3m-1.6 0a1.6 1.6 0 1 0 3.2 0a1.6 1.6 0 1 0 -3.2 0M213 782.7m-1.6 0a1.6 1.6 0 1 0 3.2 0a1.6 1.6 0 1 0 -3.2 0M192.7 786.8m-1.6 0a1.6 1.6 0 1 0 3.2 0a1.6 1.6 0 1 0 -3.2 0M144.8 810.5m-1.6 0a1.6 1.6 0 1 0 3.2 0a1.6 1.6 0 1 0 -3.2 0M122.9 808.8m-1.6 0a1.6 1.6 0 1 0 3.2 0a1.6 1.6 0 1 0 -3.2 0M111.6 851.3m-1.6 0a1.6 1.6 0 1 0 3.2 0a1.6 1.6 0 1 0 -3.2 0M197.7 770.4m-1.6 0a1.6 1.6 0 1 0 3.2 0a1.6 1.6 0 1 0 -3.2 0M180.4 807.1m-1.6 0a1.6 1.6 0 1 0 3.2 0a1.6 1.6 0 1 0 -3.2 0M170 814.4m-1.6 0a1.6 1.6 0 1 0 3.2 0a1.6 1.6 0 1 0 -3.2 0M158 842.7m-1.6 0a1.6 1.6 0 1 0 3.2 0a1.6 1.6 0 1 0 -3.2 0M221.1 774m-1.6 0a1.6 1.6 0 1 0 3.2 0a1.6 1.6 0 1 0 -3.2 0M105.9 843.7m-1.6 0a1.6 1.6 0 1 0 3.2 0a1.6 1.6 0 1 0 -3.2 0M228.9 771.7m-1.6 0a1.6 1.6 0 1 0 3.2 0a1.6 1.6 0 1 0 -3.2 0M195.8 806.2m-1.6 0a1.6 1.6 0 1 0 3.2 0a1.6 1.6 0 1 0 -3.2 0M98.4 819.1m-1.6 0a1.6 1.6 0 1 0 3.2 0a1.6 1.6 0 1 0 -3.2 0M197.6 804.4m-1.6 0a1.6 1.6 0 1 0 3.2 0a1.6 1.6 0 1 0 -3.2 0M181.1 803.9m-1.6 0a1.6 1.6 0 1 0 3.2 0a1.6 1.6 0 1 0 -3.2 0M182.9 777m-1.6 0a1.6 1.6 0 1 0 3.2 0a1.6 1.6 0 1 0 -3.2 0M112.8 848.7m-1.6 0a1.6 1.6 0 1 0 3.2 0a1.6 1.6 0 1 0 -3.2 0M222.5 779m-1.6 0a1.6 1.6 0 1 0 3.2 0a1.6 1.6 0 1 0 -3.2 0M208.8 764.6m-1.6 0a1.6 1.6 0 1 0 3.2 0a1.6 1.6 0 1 0 -3.2 0M153.5 791m-1.6 0a1.6 1.6 0 1 0 3.2 0a1.6 1.6 0 1 0 -3.2 0M218.2 783.9m-1.6 0a1.6 1.6 0 1 0 3.2 0a1.6 1.6 0 1 0 -3.2 0M123.2 821.3m-1.6 0a1.6 1.6 0 1 0 3.2 0a1.6 1.6 0 1 0 -3.2 0M192.3 782.3m-1.6 0a1.6 1.6 0 1 0 3.2 0a1.6 1.6 0 1 0 -3.2 0M185.9 783.9m-1.6 0a1.6 1.6 0 1 0 3.2 0a1.6 1.6 0 1 0 -3.2 0M134.6 820.8m-1.6 0a1.6 1.6 0 1 0 3.2 0a1.6 1.6 0 1 0 -3.2 0M184.4 814.5m-1.6 0a1.6 1.6 0 1 0 3.2 0a1.6 1.6 0 1 0 -3.2 0M104.6 821.3m-1.6 0a1.6 1.6 0 1 0 3.2 0a1.6 1.6 0 1 0 -3.2 0M221 764.2m-1.6 0a1.6 1.6 0 1 0 3.2 0a1.6 1.6 0 1 0 -3.2 0M83 835.3m-1.6 0a1.6 1.6 0 1 0 3.2 0a1.6 1.6 0 1 0 -3.2 0M198.7 806.5m-1.6 0a1.6 1.6 0 1 0 3.2 0a1.6 1.6 0 1 0 -3.2 0M174.2 801.8m-1.6 0a1.6 1.6 0 1 0 3.2 0a1.6 1.6 0 1 0 -3.2 0M179.9 778.2m-1.6 0a1.6 1.6 0 1 0 3.2 0a1.6 1.6 0 1 0 -3.2 0M194.3 798.8m-1.6 0a1.6 1.6 0 1 0 3.2 0a1.6 1.6 0 1 0 -3.2 0M185.8 797.9m-1.6 0a1.6 1.6 0 1 0 3.2 0a1.6 1.6 0 1 0 -3.2 0M120.4 843.2m-1.6 0a1.6 1.6 0 1 0 3.2 0a1.6 1.6 0 1 0 -3.2 0M173.7 800.9m-1.6 0a1.6 1.6 0 1 0 3.2 0a1.6 1.6 0 1 0 -3.2 0M151.8 820.2m-1.6 0a1.6 1.6 0 1 0 3.2 0a1.6 1.6 0 1 0 -3.2 0M92.8 850.1m-1.6 0a1.6 1.6 0 1 0 3.2 0a1.6 1.6 0 1 0 -3.2 0M148.8 813.6m-1.6 0a1.6 1.6 0 1 0 3.2 0a1.6 1.6 0 1 0 -3.2 0M75.8 843.5m-1.6 0a1.6 1.6 0 1 0 3.2 0a1.6 1.6 0 1 0 -3.2 0M131 821.4m-1.6 0a1.6 1.6 0 1 0 3.2 0a1.6 1.6 0 1 0 -3.2 0M195.6 792.3m-1.6 0a1.6 1.6 0 1 0 3.2 0a1.6 1.6 0 1 0 -3.2 0M206 790.8m-1.6 0a1.6 1.6 0 1 0 3.2 0a1.6 1.6 0 1 0 -3.2 0M184.1 780.5m-1.6 0a1.6 1.6 0 1 0 3.2 0a1.6 1.6 0 1 0 -3.2 0M164 776.4m-1.6 0a1.6 1.6 0 1 0 3.2 0a1.6 1.6 0 1 0 -3.2 0M171.6 819.6m-1.6 0a1.6 1.6 0 1 0 3.2 0a1.6 1.6 0 1 0 -3.2 0M133.5 828.9m-1.6 0a1.6 1.6 0 1 0 3.2 0a1.6 1.6 0 1 0 -3.2 0M223.5 770.3m-1.6 0a1.6 1.6 0 1 0 3.2 0a1.6 1.6 0 1 0 -3.2 0M171.3 817.5m-1.6 0a1.6 1.6 0 1 0 3.2 0a1.6 1.6 0 1 0 -3.2 0M141 800.5m-1.6 0a1.6 1.6 0 1 0 3.2 0a1.6 1.6 0 1 0 -3.2 0M147.6 804m-1.6 0a1.6 1.6 0 1 0 3.2 0a1.6 1.6 0 1 0 -3.2 0M101.1 849.7m-1.6 0a1.6 1.6 0 1 0 3.2 0a1.6 1.6 0 1 0 -3.2 0M170.4 786.9m-1.6 0a1.6 1.6 0 1 0 3.2 0a1.6 1.6 0 1 0 -3.2 0M186 784m-1.6 0a1.6 1.6 0 1 0 3.2 0a1.6 1.6 0 1 0 -3.2 0M189.9 788.7m-1.6 0a1.6 1.6 0 1 0 3.2 0a1.6 1.6 0 1 0 -3.2 0M143.2 810.6m-1.6 0a1.6 1.6 0 1 0 3.2 0a1.6 1.6 0 1 0 -3.2 0M101.5 858m-1.6 0a1.6 1.6 0 1 0 3.2 0a1.6 1.6 0 1 0 -3.2 0M204.2 795.4m-1.6 0a1.6 1.6 0 1 0 3.2 0a1.6 1.6 0 1 0 -3.2 0M192.1 791.3m-1.6 0a1.6 1.6 0 1 0 3.2 0a1.6 1.6 0 1 0 -3.2 0M166.9 783.8m-1.6 0a1.6 1.6 0 1 0 3.2 0a1.6 1.6 0 1 0 -3.2 0M161.4 775.6m-1.6 0a1.6 1.6 0 1 0 3.2 0a1.6 1.6 0 1 0 -3.2 0M106 834m-1.6 0a1.6 1.6 0 1 0 3.2 0a1.6 1.6 0 1 0 -3.2 0M137.1 797.5m-1.6 0a1.6 1.6 0 1 0 3.2 0a1.6 1.6 0 1 0 -3.2 0M101.2 844m-1.6 0a1.6 1.6 0 1 0 3.2 0a1.6 1.6 0 1 0 -3.2 0M91.2 828.4m-1.6 0a1.6 1.6 0 1 0 3.2 0a1.6 1.6 0 1 0 -3.2 0M225.4 775m-1.6 0a1.6 1.6 0 1 0 3.2 0a1.6 1.6 0 1 0 -3.2 0M189.9 792.3m-1.6 0a1.6 1.6 0 1 0 3.2 0a1.6 1.6 0 1 0 -3.2 0M95.8 848.4m-1.6 0a1.6 1.6 0 1 0 3.2 0a1.6 1.6 0 1 0 -3.2 0M111.1 801.1m-1.6 0a1.6 1.6 0 1 0 3.2 0a1.6 1.6 0 1 0 -3.2 0M224.5 772.4m-1.6 0a1.6 1.6 0 1 0 3.2 0a1.6 1.6 0 1 0 -3.2 0M220.4 771m-1.6 0a1.6 1.6 0 1 0 3.2 0a1.6 1.6 0 1 0 -3.2 0M202.4 771.2m-1.6 0a1.6 1.6 0 1 0 3.2 0a1.6 1.6 0 1 0 -3.2 0M208.5 770.3m-1.6 0a1.6 1.6 0 1 0 3.2 0a1.6 1.6 0 1 0 -3.2 0M128.9 824.2m-1.6 0a1.6 1.6 0 1 0 3.2 0a1.6 1.6 0 1 0 -3.2 0M180.6 797.2m-1.6 0a1.6 1.6 0 1 0 3.2 0a1.6 1.6 0 1 0 -3.2 0M165 785.9m-1.6 0a1.6 1.6 0 1 0 3.2 0a1.6 1.6 0 1 0 -3.2 0M148.8 804.5m-1.6 0a1.6 1.6 0 1 0 3.2 0a1.6 1.6 0 1 0 -3.2 0M225.5 784.7m-1.6 0a1.6 1.6 0 1 0 3.2 0a1.6 1.6 0 1 0 -3.2 0M169.8 800m-1.6 0a1.6 1.6 0 1 0 3.2 0a1.6 1.6 0 1 0 -3.2 0M140.9 818m-1.6 0a1.6 1.6 0 1 0 3.2 0a1.6 1.6 0 1 0 -3.2 0M219.8 789.1m-1.6 0a1.6 1.6 0 1 0 3.2 0a1.6 1.6 0 1 0 -3.2 0M183.1 812.7m-1.6 0a1.6 1.6 0 1 0 3.2 0a1.6 1.6 0 1 0 -3.2 0M148.2 819.4m-1.6 0a1.6 1.6 0 1 0 3.2 0a1.6 1.6 0 1 0 -3.2 0M157.1 817.9m-1.6 0a1.6 1.6 0 1 0 3.2 0a1.6 1.6 0 1 0 -3.2 0M117.3 816.1m-1.6 0a1.6 1.6 0 1 0 3.2 0a1.6 1.6 0 1 0 -3.2 0M218.3 786m-1.6 0a1.6 1.6 0 1 0 3.2 0a1.6 1.6 0 1 0 -3.2 0M189.9 788.4m-1.6 0a1.6 1.6 0 1 0 3.2 0a1.6 1.6 0 1 0 -3.2 0M123.1 838.2m-1.6 0a1.6 1.6 0 1 0 3.2 0a1.6 1.6 0 1 0 -3.2 0M89.9 848.6m-1.6 0a1.6 1.6 0 1 0 3.2 0a1.6 1.6 0 1 0 -3.2 0M77.8 854.3m-1.6 0a1.6 1.6 0 1 0 3.2 0a1.6 1.6 0 1 0 -3.2 0M150.6 820.8m-1.6 0a1.6 1.6 0 1 0 3.2 0a1.6 1.6 0 1 0 -3.2 0M133.4 822m-1.6 0a1.6 1.6 0 1 0 3.2 0a1.6 1.6 0 1 0 -3.2 0M181.7 787.7m-1.6 0a1.6 1.6 0 1 0 3.2 0a1.6 1.6 0 1 0 -3.2 0M190.3 804.1m-1.6 0a1.6 1.6 0 1 0 3.2 0a1.6 1.6 0 1 0 -3.2 0M218.2 776.3m-1.6 0a1.6 1.6 0 1 0 3.2 0a1.6 1.6 0 1 0 -3.2 0M159 807.7m-1.6 0a1.6 1.6 0 1 0 3.2 0a1.6 1.6 0 1 0 -3.2 0M116.4 827.8m-1.6 0a1.6 1.6 0 1 0 3.2 0a1.6 1.6 0 1 0 -3.2 0M167.1 816.2m-1.6 0a1.6 1.6 0 1 0 3.2 0a1.6 1.6 0 1 0 -3.2 0M216.6 782.2m-1.6 0a1.6 1.6 0 1 0 3.2 0a1.6 1.6 0 1 0 -3.2 0M168.7 785.6m-1.6 0a1.6 1.6 0 1 0 3.2 0a1.6 1.6 0 1 0 -3.2 0M201.8 792.7m-1.6 0a1.6 1.6 0 1 0 3.2 0a1.6 1.6 0 1 0 -3.2 0M153.1 807.1m-1.6 0a1.6 1.6 0 1 0 3.2 0a1.6 1.6 0 1 0 -3.2 0M221.3 766.6m-1.6 0a1.6 1.6 0 1 0 3.2 0a1.6 1.6 0 1 0 -3.2 0M222.7 759.5m-1.6 0a1.6 1.6 0 1 0 3.2 0a1.6 1.6 0 1 0 -3.2 0M93.7 849.1m-1.6 0a1.6 1.6 0 1 0 3.2 0a1.6 1.6 0 1 0 -3.2 0M168.7 780.6m-1.6 0a1.6 1.6 0 1 0 3.2 0a1.6 1.6 0 1 0 -3.2 0M190.3 807.6m-1.6 0a1.6 1.6 0 1 0 3.2 0a1.6 1.6 0 1 0 -3.2 0M150.5 823m-1.6 0a1.6 1.6 0 1 0 3.2 0a1.6 1.6 0 1 0 -3.2 0M100.8 819.6m-1.6 0a1.6 1.6 0 1 0 3.2 0a1.6 1.6 0 1 0 -3.2 0M138.6 800.8m-1.6 0a1.6 1.6 0 1 0 3.2 0a1.6 1.6 0 1 0 -3.2 0M203.6 792.8m-1.6 0a1.6 1.6 0 1 0 3.2 0a1.6 1.6 0 1 0 -3.2 0M156.6 810m-1.6 0a1.6 1.6 0 1 0 3.2 0a1.6 1.6 0 1 0 -3.2 0M115.4 809.7m-1.6 0a1.6 1.6 0 1 0 3.2 0a1.6 1.6 0 1 0 -3.2 0M162.1 827.5m-1.6 0a1.6 1.6 0 1 0 3.2 0a1.6 1.6 0 1 0 -3.2 0M146.8 822.7m-1.6 0a1.6 1.6 0 1 0 3.2 0a1.6 1.6 0 1 0 -3.2 0M164.2 824m-1.6 0a1.6 1.6 0 1 0 3.2 0a1.6 1.6 0 1 0 -3.2 0M218.1 781.1m-1.6 0a1.6 1.6 0 1 0 3.2 0a1.6 1.6 0 1 0 -3.2 0M103.6 827.8m-1.6 0a1.6 1.6 0 1 0 3.2 0a1.6 1.6 0 1 0 -3.2 0M225.9 789.3m-1.6 0a1.6 1.6 0 1 0 3.2 0a1.6 1.6 0 1 0 -3.2 0M217.8 794.2m-1.6 0a1.6 1.6 0 1 0 3.2 0a1.6 1.6 0 1 0 -3.2 0M184.7 803.6m-1.6 0a1.6 1.6 0 1 0 3.2 0a1.6 1.6 0 1 0 -3.2 0M125.3 806.7m-1.6 0a1.6 1.6 0 1 0 3.2 0a1.6 1.6 0 1 0 -3.2 0M106 834.6m-1.6 0a1.6 1.6 0 1 0 3.2 0a1.6 1.6 0 1 0 -3.2 0M138.3 805.2m-1.6 0a1.6 1.6 0 1 0 3.2 0a1.6 1.6 0 1 0 -3.2 0M173.4 810.8m-1.6 0a1.6 1.6 0 1 0 3.2 0a1.6 1.6 0 1 0 -3.2 0M172.5 789.3m-1.6 0a1.6 1.6 0 1 0 3.2 0a1.6 1.6 0 1 0 -3.2 0M159 805.6m-1.6 0a1.6 1.6 0 1 0 3.2 0a1.6 1.6 0 1 0 -3.2 0M186 798.4m-1.6 0a1.6 1.6 0 1 0 3.2 0a1.6 1.6 0 1 0 -3.2 0M158 796.1m-1.6 0a1.6 1.6 0 1 0 3.2 0a1.6 1.6 0 1 0 -3.2 0M139.8 794.3m-1.6 0a1.6 1.6 0 1 0 3.2 0a1.6 1.6 0 1 0 -3.2 0M135 822.9m-1.6 0a1.6 1.6 0 1 0 3.2 0a1.6 1.6 0 1 0 -3.2 0M207.2 761.1m-1.6 0a1.6 1.6 0 1 0 3.2 0a1.6 1.6 0 1 0 -3.2 0M216.2 778.2m-1.6 0a1.6 1.6 0 1 0 3.2 0a1.6 1.6 0 1 0 -3.2 0M112.6 838.7m-1.6 0a1.6 1.6 0 1 0 3.2 0a1.6 1.6 0 1 0 -3.2 0M223.9 788.5m-1.6 0a1.6 1.6 0 1 0 3.2 0a1.6 1.6 0 1 0 -3.2 0M207.7 793.6m-1.6 0a1.6 1.6 0 1 0 3.2 0a1.6 1.6 0 1 0 -3.2 0M225.4 771.5m-1.6 0a1.6 1.6 0 1 0 3.2 0a1.6 1.6 0 1 0 -3.2 0M186.3 778.4m-1.6 0a1.6 1.6 0 1 0 3.2 0a1.6 1.6 0 1 0 -3.2 0M203 763.6m-1.6 0a1.6 1.6 0 1 0 3.2 0a1.6 1.6 0 1 0 -3.2 0M152.5 783.5m-1.6 0a1.6 1.6 0 1 0 3.2 0a1.6 1.6 0 1 0 -3.2 0M196.8 770.2m-1.6 0a1.6 1.6 0 1 0 3.2 0a1.6 1.6 0 1 0 -3.2 0M134 826.7m-1.6 0a1.6 1.6 0 1 0 3.2 0a1.6 1.6 0 1 0 -3.2 0M206.4 791.6m-1.6 0a1.6 1.6 0 1 0 3.2 0a1.6 1.6 0 1 0 -3.2 0M149 825m-1.6 0a1.6 1.6 0 1 0 3.2 0a1.6 1.6 0 1 0 -3.2 0M224.8 783.7m-1.6 0a1.6 1.6 0 1 0 3.2 0a1.6 1.6 0 1 0 -3.2 0M111.1 814.1m-1.6 0a1.6 1.6 0 1 0 3.2 0a1.6 1.6 0 1 0 -3.2 0M169.5 806.2m-1.6 0a1.6 1.6 0 1 0 3.2 0a1.6 1.6 0 1 0 -3.2 0M153.1 796.7m-1.6 0a1.6 1.6 0 1 0 3.2 0a1.6 1.6 0 1 0 -3.2 0M173.5 810.4m-1.6 0a1.6 1.6 0 1 0 3.2 0a1.6 1.6 0 1 0 -3.2 0M100.7 838.1m-1.6 0a1.6 1.6 0 1 0 3.2 0a1.6 1.6 0 1 0 -3.2 0M199 786.4m-1.6 0a1.6 1.6 0 1 0 3.2 0a1.6 1.6 0 1 0 -3.2 0M136.5 795.9m-1.6 0a1.6 1.6 0 1 0 3.2 0a1.6 1.6 0 1 0 -3.2 0M207.6 809.6m-1.6 0a1.6 1.6 0 1 0 3.2 0a1.6 1.6 0 1 0 -3.2 0M210 770.8m-1.6 0a1.6 1.6 0 1 0 3.2 0a1.6 1.6 0 1 0 -3.2 0M186.7 789.5m-1.6 0a1.6 1.6 0 1 0 3.2 0a1.6 1.6 0 1 0 -3.2 0M196.1 773.8m-1.6 0a1.6 1.6 0 1 0 3.2 0a1.6 1.6 0 1 0 -3.2 0M217.3 783.9m-1.6 0a1.6 1.6 0 1 0 3.2 0a1.6 1.6 0 1 0 -3.2 0M167.9 790m-1.6 0a1.6 1.6 0 1 0 3.2 0a1.6 1.6 0 1 0 -3.2 0M181 795.1m-1.6 0a1.6 1.6 0 1 0 3.2 0a1.6 1.6 0 1 0 -3.2 0M127.9 809.1m-1.6 0a1.6 1.6 0 1 0 3.2 0a1.6 1.6 0 1 0 -3.2 0M160.5 796.1m-1.6 0a1.6 1.6 0 1 0 3.2 0a1.6 1.6 0 1 0 -3.2 0M161.7 828.1m-1.6 0a1.6 1.6 0 1 0 3.2 0a1.6 1.6 0 1 0 -3.2 0M93.7 834.8m-1.6 0a1.6 1.6 0 1 0 3.2 0a1.6 1.6 0 1 0 -3.2 0M121.2 839m-1.6 0a1.6 1.6 0 1 0 3.2 0a1.6 1.6 0 1 0 -3.2 0M95.2 851.1m-1.6 0a1.6 1.6 0 1 0 3.2 0a1.6 1.6 0 1 0 -3.2 0M93.2 827.3m-1.6 0a1.6 1.6 0 1 0 3.2 0a1.6 1.6 0 1 0 -3.2 0M198 801.6m-1.6 0a1.6 1.6 0 1 0 3.2 0a1.6 1.6 0 1 0 -3.2 0M212.9 795.5m-1.6 0a1.6 1.6 0 1 0 3.2 0a1.6 1.6 0 1 0 -3.2 0M183.2 789.4m-1.6 0a1.6 1.6 0 1 0 3.2 0a1.6 1.6 0 1 0 -3.2 0M225.4 779.3m-1.6 0a1.6 1.6 0 1 0 3.2 0a1.6 1.6 0 1 0 -3.2 0M212.3 786.4m-1.6 0a1.6 1.6 0 1 0 3.2 0a1.6 1.6 0 1 0 -3.2 0M226.8 768.3m-1.6 0a1.6 1.6 0 1 0 3.2 0a1.6 1.6 0 1 0 -3.2 0M203 803.1m-1.6 0a1.6 1.6 0 1 0 3.2 0a1.6 1.6 0 1 0 -3.2 0M105.9 852.4m-1.6 0a1.6 1.6 0 1 0 3.2 0a1.6 1.6 0 1 0 -3.2 0M107 848.6m-1.6 0a1.6 1.6 0 1 0 3.2 0a1.6 1.6 0 1 0 -3.2 0M196.2 791m-1.6 0a1.6 1.6 0 1 0 3.2 0a1.6 1.6 0 1 0 -3.2 0M218 790.8m-1.6 0a1.6 1.6 0 1 0 3.2 0a1.6 1.6 0 1 0 -3.2 0M227 797.8m-1.6 0a1.6 1.6 0 1 0 3.2 0a1.6 1.6 0 1 0 -3.2 0M178.7 779.5m-1.6 0a1.6 1.6 0 1 0 3.2 0a1.6 1.6 0 1 0 -3.2 0M167.1 794.1m-1.6 0a1.6 1.6 0 1 0 3.2 0a1.6 1.6 0 1 0 -3.2 0M103.1 836.6m-1.6 0a1.6 1.6 0 1 0 3.2 0a1.6 1.6 0 1 0 -3.2 0M112.2 835.9m-1.6 0a1.6 1.6 0 1 0 3.2 0a1.6 1.6 0 1 0 -3.2 0M86.1 851.1m-1.6 0a1.6 1.6 0 1 0 3.2 0a1.6 1.6 0 1 0 -3.2 0M150.2 830.6m-1.6 0a1.6 1.6 0 1 0 3.2 0a1.6 1.6 0 1 0 -3.2 0M169.6 778.6m-1.6 0a1.6 1.6 0 1 0 3.2 0a1.6 1.6 0 1 0 -3.2 0M118.4 827.8m-1.6 0a1.6 1.6 0 1 0 3.2 0a1.6 1.6 0 1 0 -3.2 0M131.3 837.9m-1.6 0a1.6 1.6 0 1 0 3.2 0a1.6 1.6 0 1 0 -3.2 0M198.1 773.4m-1.6 0a1.6 1.6 0 1 0 3.2 0a1.6 1.6 0 1 0 -3.2 0M151.5 818.4m-1.6 0a1.6 1.6 0 1 0 3.2 0a1.6 1.6 0 1 0 -3.2 0M201.7 773.5m-1.6 0a1.6 1.6 0 1 0 3.2 0a1.6 1.6 0 1 0 -3.2 0M173.4 823.9m-1.6 0a1.6 1.6 0 1 0 3.2 0a1.6 1.6 0 1 0 -3.2 0M196 791.1m-1.6 0a1.6 1.6 0 1 0 3.2 0a1.6 1.6 0 1 0 -3.2 0M213.8 799.7m-1.6 0a1.6 1.6 0 1 0 3.2 0a1.6 1.6 0 1 0 -3.2 0M164.3 784.3m-1.6 0a1.6 1.6 0 1 0 3.2 0a1.6 1.6 0 1 0 -3.2 0M202.7 796.6m-1.6 0a1.6 1.6 0 1 0 3.2 0a1.6 1.6 0 1 0 -3.2 0M185.6 772.1m-1.6 0a1.6 1.6 0 1 0 3.2 0a1.6 1.6 0 1 0 -3.2 0M208.4 790m-1.6 0a1.6 1.6 0 1 0 3.2 0a1.6 1.6 0 1 0 -3.2 0M119.5 843.6m-1.6 0a1.6 1.6 0 1 0 3.2 0a1.6 1.6 0 1 0 -3.2 0M118.7 832.2m-1.6 0a1.6 1.6 0 1 0 3.2 0a1.6 1.6 0 1 0 -3.2 0M107.6 827.7m-1.6 0a1.6 1.6 0 1 0 3.2 0a1.6 1.6 0 1 0 -3.2 0M158.9 818.4m-1.6 0a1.6 1.6 0 1 0 3.2 0a1.6 1.6 0 1 0 -3.2 0M168.4 795.3m-1.6 0a1.6 1.6 0 1 0 3.2 0a1.6 1.6 0 1 0 -3.2 0M119.9 820m-1.6 0a1.6 1.6 0 1 0 3.2 0a1.6 1.6 0 1 0 -3.2 0M199.5 792.4m-1.6 0a1.6 1.6 0 1 0 3.2 0a1.6 1.6 0 1 0 -3.2 0M96.2 844.4m-1.6 0a1.6 1.6 0 1 0 3.2 0a1.6 1.6 0 1 0 -3.2 0M186.9 782.1m-1.6 0a1.6 1.6 0 1 0 3.2 0a1.6 1.6 0 1 0 -3.2 0M150.1 835.7m-1.6 0a1.6 1.6 0 1 0 3.2 0a1.6 1.6 0 1 0 -3.2 0M167 786.3m-1.6 0a1.6 1.6 0 1 0 3.2 0a1.6 1.6 0 1 0 -3.2 0M202.9 782.5m-1.6 0a1.6 1.6 0 1 0 3.2 0a1.6 1.6 0 1 0 -3.2 0M114 817.2m-1.6 0a1.6 1.6 0 1 0 3.2 0a1.6 1.6 0 1 0 -3.2 0M176.2 787.9m-1.6 0a1.6 1.6 0 1 0 3.2 0a1.6 1.6 0 1 0 -3.2 0M137.7 834.9m-1.6 0a1.6 1.6 0 1 0 3.2 0a1.6 1.6 0 1 0 -3.2 0M96.5 843.5m-1.6 0a1.6 1.6 0 1 0 3.2 0a1.6 1.6 0 1 0 -3.2 0M228.5 768.2m-1.6 0a1.6 1.6 0 1 0 3.2 0a1.6 1.6 0 1 0 -3.2 0M170.6 816m-1.6 0a1.6 1.6 0 1 0 3.2 0a1.6 1.6 0 1 0 -3.2 0M207.5 779.2m-1.6 0a1.6 1.6 0 1 0 3.2 0a1.6 1.6 0 1 0 -3.2 0M84.1 838.7m-1.6 0a1.6 1.6 0 1 0 3.2 0a1.6 1.6 0 1 0 -3.2 0M87.6 850.6m-1.6 0a1.6 1.6 0 1 0 3.2 0a1.6 1.6 0 1 0 -3.2 0M120.6 837m-1.6 0a1.6 1.6 0 1 0 3.2 0a1.6 1.6 0 1 0 -3.2 0M182.9 797.3m-1.6 0a1.6 1.6 0 1 0 3.2 0a1.6 1.6 0 1 0 -3.2 0M200.4 807.6m-1.6 0a1.6 1.6 0 1 0 3.2 0a1.6 1.6 0 1 0 -3.2 0M158.8 792m-1.6 0a1.6 1.6 0 1 0 3.2 0a1.6 1.6 0 1 0 -3.2 0M201.6 783m-1.6 0a1.6 1.6 0 1 0 3.2 0a1.6 1.6 0 1 0 -3.2 0M116.2 840.9m-1.6 0a1.6 1.6 0 1 0 3.2 0a1.6 1.6 0 1 0 -3.2 0M146.2 800.2m-1.6 0a1.6 1.6 0 1 0 3.2 0a1.6 1.6 0 1 0 -3.2 0M185 779.3m-1.6 0a1.6 1.6 0 1 0 3.2 0a1.6 1.6 0 1 0 -3.2 0M115.9 840.3m-1.6 0a1.6 1.6 0 1 0 3.2 0a1.6 1.6 0 1 0 -3.2 0M190.7 770.1m-1.6 0a1.6 1.6 0 1 0 3.2 0a1.6 1.6 0 1 0 -3.2 0M221.6 783.1m-1.6 0a1.6 1.6 0 1 0 3.2 0a1.6 1.6 0 1 0 -3.2 0M90.3 845.1m-1.6 0a1.6 1.6 0 1 0 3.2 0a1.6 1.6 0 1 0 -3.2 0M89.5 846m-1.6 0a1.6 1.6 0 1 0 3.2 0a1.6 1.6 0 1 0 -3.2 0M112.5 830.2m-1.6 0a1.6 1.6 0 1 0 3.2 0a1.6 1.6 0 1 0 -3.2 0M89.7 852.9m-1.6 0a1.6 1.6 0 1 0 3.2 0a1.6 1.6 0 1 0 -3.2 0M100.4 826m-1.6 0a1.6 1.6 0 1 0 3.2 0a1.6 1.6 0 1 0 -3.2 0M109.1 824m-1.6 0a1.6 1.6 0 1 0 3.2 0a1.6 1.6 0 1 0 -3.2 0M145.8 810.8m-1.6 0a1.6 1.6 0 1 0 3.2 0a1.6 1.6 0 1 0 -3.2 0M177.7 798.9m-1.6 0a1.6 1.6 0 1 0 3.2 0a1.6 1.6 0 1 0 -3.2 0M197.3 776m-1.6 0a1.6 1.6 0 1 0 3.2 0a1.6 1.6 0 1 0 -3.2 0M186.1 806.8m-1.6 0a1.6 1.6 0 1 0 3.2 0a1.6 1.6 0 1 0 -3.2 0M224 791.4m-1.6 0a1.6 1.6 0 1 0 3.2 0a1.6 1.6 0 1 0 -3.2 0M99.3 838.4m-1.6 0a1.6 1.6 0 1 0 3.2 0a1.6 1.6 0 1 0 -3.2 0M178.3 800.5m-1.6 0a1.6 1.6 0 1 0 3.2 0a1.6 1.6 0 1 0 -3.2 0M202.3 780.6m-1.6 0a1.6 1.6 0 1 0 3.2 0a1.6 1.6 0 1 0 -3.2 0M209 767m-1.6 0a1.6 1.6 0 1 0 3.2 0a1.6 1.6 0 1 0 -3.2 0M115.3 828.8m-1.6 0a1.6 1.6 0 1 0 3.2 0a1.6 1.6 0 1 0 -3.2 0M149.6 823.6m-1.6 0a1.6 1.6 0 1 0 3.2 0a1.6 1.6 0 1 0 -3.2 0M187.1 770.4m-1.6 0a1.6 1.6 0 1 0 3.2 0a1.6 1.6 0 1 0 -3.2 0M86.9 852m-1.6 0a1.6 1.6 0 1 0 3.2 0a1.6 1.6 0 1 0 -3.2 0M225.5 763.5m-1.6 0a1.6 1.6 0 1 0 3.2 0a1.6 1.6 0 1 0 -3.2 0M153.4 831.4m-1.6 0a1.6 1.6 0 1 0 3.2 0a1.6 1.6 0 1 0 -3.2 0M218.1 776.8m-1.6 0a1.6 1.6 0 1 0 3.2 0a1.6 1.6 0 1 0 -3.2 0M189.2 782.6m-1.6 0a1.6 1.6 0 1 0 3.2 0a1.6 1.6 0 1 0 -3.2 0M79.4 847.2m-1.6 0a1.6 1.6 0 1 0 3.2 0a1.6 1.6 0 1 0 -3.2 0M117.9 822.5m-1.6 0a1.6 1.6 0 1 0 3.2 0a1.6 1.6 0 1 0 -3.2 0M150.5 835.5m-1.6 0a1.6 1.6 0 1 0 3.2 0a1.6 1.6 0 1 0 -3.2 0M229.1 763m-1.6 0a1.6 1.6 0 1 0 3.2 0a1.6 1.6 0 1 0 -3.2 0M177.1 793.1m-1.6 0a1.6 1.6 0 1 0 3.2 0a1.6 1.6 0 1 0 -3.2 0M175.1 797.4m-1.6 0a1.6 1.6 0 1 0 3.2 0a1.6 1.6 0 1 0 -3.2 0M168.5 814m-1.6 0a1.6 1.6 0 1 0 3.2 0a1.6 1.6 0 1 0 -3.2 0M184.8 785.7m-1.6 0a1.6 1.6 0 1 0 3.2 0a1.6 1.6 0 1 0 -3.2 0M180.6 817.9m-1.6 0a1.6 1.6 0 1 0 3.2 0a1.6 1.6 0 1 0 -3.2 0M82.4 850.8m-1.6 0a1.6 1.6 0 1 0 3.2 0a1.6 1.6 0 1 0 -3.2 0M154.1 824.5m-1.6 0a1.6 1.6 0 1 0 3.2 0a1.6 1.6 0 1 0 -3.2 0M125.7 818.8m-1.6 0a1.6 1.6 0 1 0 3.2 0a1.6 1.6 0 1 0 -3.2 0M85.9 841.6m-1.6 0a1.6 1.6 0 1 0 3.2 0a1.6 1.6 0 1 0 -3.2 0M217.9 770.3m-1.6 0a1.6 1.6 0 1 0 3.2 0a1.6 1.6 0 1 0 -3.2 0M225.5 775m-1.6 0a1.6 1.6 0 1 0 3.2 0a1.6 1.6 0 1 0 -3.2 0M91.1 836.5m-1.6 0a1.6 1.6 0 1 0 3.2 0a1.6 1.6 0 1 0 -3.2 0M183.4 813.1m-1.6 0a1.6 1.6 0 1 0 3.2 0a1.6 1.6 0 1 0 -3.2 0M223.2 758.1m-1.6 0a1.6 1.6 0 1 0 3.2 0a1.6 1.6 0 1 0 -3.2 0M155.5 813.2m-1.6 0a1.6 1.6 0 1 0 3.2 0a1.6 1.6 0 1 0 -3.2 0M218.3 783.7m-1.6 0a1.6 1.6 0 1 0 3.2 0a1.6 1.6 0 1 0 -3.2 0M224.3 769.9m-1.6 0a1.6 1.6 0 1 0 3.2 0a1.6 1.6 0 1 0 -3.2 0M217.4 768.6m-1.6 0a1.6 1.6 0 1 0 3.2 0a1.6 1.6 0 1 0 -3.2 0M183 805m-1.6 0a1.6 1.6 0 1 0 3.2 0a1.6 1.6 0 1 0 -3.2 0M102 844.5m-1.6 0a1.6 1.6 0 1 0 3.2 0a1.6 1.6 0 1 0 -3.2 0M148.9 798m-1.6 0a1.6 1.6 0 1 0 3.2 0a1.6 1.6 0 1 0 -3.2 0M171.3 825.4m-1.6 0a1.6 1.6 0 1 0 3.2 0a1.6 1.6 0 1 0 -3.2 0M135.4 832.1m-1.6 0a1.6 1.6 0 1 0 3.2 0a1.6 1.6 0 1 0 -3.2 0M154.9 800.3m-1.6 0a1.6 1.6 0 1 0 3.2 0a1.6 1.6 0 1 0 -3.2 0M207.5 770.4m-1.6 0a1.6 1.6 0 1 0 3.2 0a1.6 1.6 0 1 0 -3.2 0M139.5 835.7m-1.6 0a1.6 1.6 0 1 0 3.2 0a1.6 1.6 0 1 0 -3.2 0M216.5 767.3m-1.6 0a1.6 1.6 0 1 0 3.2 0a1.6 1.6 0 1 0 -3.2 0M139.2 829.6m-1.6 0a1.6 1.6 0 1 0 3.2 0a1.6 1.6 0 1 0 -3.2 0M182.7 779.5m-1.6 0a1.6 1.6 0 1 0 3.2 0a1.6 1.6 0 1 0 -3.2 0M208.6 760.5m-1.6 0a1.6 1.6 0 1 0 3.2 0a1.6 1.6 0 1 0 -3.2 0M89.5 828.7m-1.6 0a1.6 1.6 0 1 0 3.2 0a1.6 1.6 0 1 0 -3.2 0M148.9 830m-1.6 0a1.6 1.6 0 1 0 3.2 0a1.6 1.6 0 1 0 -3.2 0M174 783.9m-1.6 0a1.6 1.6 0 1 0 3.2 0a1.6 1.6 0 1 0 -3.2 0M192.4 776.7m-1.6 0a1.6 1.6 0 1 0 3.2 0a1.6 1.6 0 1 0 -3.2 0M212.1 797.4m-1.6 0a1.6 1.6 0 1 0 3.2 0a1.6 1.6 0 1 0 -3.2 0M156.5 791m-1.6 0a1.6 1.6 0 1 0 3.2 0a1.6 1.6 0 1 0 -3.2 0M195.5 782m-1.6 0a1.6 1.6 0 1 0 3.2 0a1.6 1.6 0 1 0 -3.2 0M86.6 847.1m-1.6 0a1.6 1.6 0 1 0 3.2 0a1.6 1.6 0 1 0 -3.2 0M98.7 845.4m-1.6 0a1.6 1.6 0 1 0 3.2 0a1.6 1.6 0 1 0 -3.2 0M188 772.8m-1.6 0a1.6 1.6 0 1 0 3.2 0a1.6 1.6 0 1 0 -3.2 0M175.9 810.4m-1.6 0a1.6 1.6 0 1 0 3.2 0a1.6 1.6 0 1 0 -3.2 0M159.3 802m-1.6 0a1.6 1.6 0 1 0 3.2 0a1.6 1.6 0 1 0 -3.2 0M148.7 841.8m-1.6 0a1.6 1.6 0 1 0 3.2 0a1.6 1.6 0 1 0 -3.2 0M189 788.1m-1.6 0a1.6 1.6 0 1 0 3.2 0a1.6 1.6 0 1 0 -3.2 0M131 804.7m-1.6 0a1.6 1.6 0 1 0 3.2 0a1.6 1.6 0 1 0 -3.2 0M228.1 766.1m-1.6 0a1.6 1.6 0 1 0 3.2 0a1.6 1.6 0 1 0 -3.2 0M151.6 808.6m-1.6 0a1.6 1.6 0 1 0 3.2 0a1.6 1.6 0 1 0 -3.2 0M213.9 768.1m-1.6 0a1.6 1.6 0 1 0 3.2 0a1.6 1.6 0 1 0 -3.2 0M175.5 819.2m-1.6 0a1.6 1.6 0 1 0 3.2 0a1.6 1.6 0 1 0 -3.2 0M174.1 798.3m-1.6 0a1.6 1.6 0 1 0 3.2 0a1.6 1.6 0 1 0 -3.2 0M107.6 827.2m-1.6 0a1.6 1.6 0 1 0 3.2 0a1.6 1.6 0 1 0 -3.2 0M112.3 825.9m-1.6 0a1.6 1.6 0 1 0 3.2 0a1.6 1.6 0 1 0 -3.2 0M193.6 778.7m-1.6 0a1.6 1.6 0 1 0 3.2 0a1.6 1.6 0 1 0 -3.2 0M143.5 839m-1.6 0a1.6 1.6 0 1 0 3.2 0a1.6 1.6 0 1 0 -3.2 0M155.2 797.8m-1.6 0a1.6 1.6 0 1 0 3.2 0a1.6 1.6 0 1 0 -3.2 0M166.3 823.7m-1.6 0a1.6 1.6 0 1 0 3.2 0a1.6 1.6 0 1 0 -3.2 0M188.9 808.1m-1.6 0a1.6 1.6 0 1 0 3.2 0a1.6 1.6 0 1 0 -3.2 0M206.4 773.7m-1.6 0a1.6 1.6 0 1 0 3.2 0a1.6 1.6 0 1 0 -3.2 0M124.7 838.8m-1.6 0a1.6 1.6 0 1 0 3.2 0a1.6 1.6 0 1 0 -3.2 0M139.1 803.9m-1.6 0a1.6 1.6 0 1 0 3.2 0a1.6 1.6 0 1 0 -3.2 0M199.6 791.6m-1.6 0a1.6 1.6 0 1 0 3.2 0a1.6 1.6 0 1 0 -3.2 0M92.8 846.1m-1.6 0a1.6 1.6 0 1 0 3.2 0a1.6 1.6 0 1 0 -3.2 0M139.9 818.6m-1.6 0a1.6 1.6 0 1 0 3.2 0a1.6 1.6 0 1 0 -3.2 0M215.6 786.4m-1.6 0a1.6 1.6 0 1 0 3.2 0a1.6 1.6 0 1 0 -3.2 0M139.9 800.3m-1.6 0a1.6 1.6 0 1 0 3.2 0a1.6 1.6 0 1 0 -3.2 0M141.1 815.7m-1.6 0a1.6 1.6 0 1 0 3.2 0a1.6 1.6 0 1 0 -3.2 0M217.6 796.4m-1.6 0a1.6 1.6 0 1 0 3.2 0a1.6 1.6 0 1 0 -3.2 0M86.7 849.6m-1.6 0a1.6 1.6 0 1 0 3.2 0a1.6 1.6 0 1 0 -3.2 0M178.7 816.3m-1.6 0a1.6 1.6 0 1 0 3.2 0a1.6 1.6 0 1 0 -3.2 0M112.9 842.1m-1.6 0a1.6 1.6 0 1 0 3.2 0a1.6 1.6 0 1 0 -3.2 0M198 775.9m-1.6 0a1.6 1.6 0 1 0 3.2 0a1.6 1.6 0 1 0 -3.2 0M217.2 797.3m-1.6 0a1.6 1.6 0 1 0 3.2 0a1.6 1.6 0 1 0 -3.2 0M143.4 818.4m-1.6 0a1.6 1.6 0 1 0 3.2 0a1.6 1.6 0 1 0 -3.2 0M120.9 811.1m-1.6 0a1.6 1.6 0 1 0 3.2 0a1.6 1.6 0 1 0 -3.2 0M159.2 785.8m-1.6 0a1.6 1.6 0 1 0 3.2 0a1.6 1.6 0 1 0 -3.2 0M114.4 844.2m-1.6 0a1.6 1.6 0 1 0 3.2 0a1.6 1.6 0 1 0 -3.2 0M152.2 818.1m-1.6 0a1.6 1.6 0 1 0 3.2 0a1.6 1.6 0 1 0 -3.2 0M228.8 783.6m-1.6 0a1.6 1.6 0 1 0 3.2 0a1.6 1.6 0 1 0 -3.2 0M197.1 791.3m-1.6 0a1.6 1.6 0 1 0 3.2 0a1.6 1.6 0 1 0 -3.2 0M138.1 818.5m-1.6 0a1.6 1.6 0 1 0 3.2 0a1.6 1.6 0 1 0 -3.2 0M114.8 844m-1.6 0a1.6 1.6 0 1 0 3.2 0a1.6 1.6 0 1 0 -3.2 0M201.4 807.1m-1.6 0a1.6 1.6 0 1 0 3.2 0a1.6 1.6 0 1 0 -3.2 0M127.2 821.8m-1.6 0a1.6 1.6 0 1 0 3.2 0a1.6 1.6 0 1 0 -3.2 0M110.3 827.8m-1.6 0a1.6 1.6 0 1 0 3.2 0a1.6 1.6 0 1 0 -3.2 0M111.8 826.4m-1.6 0a1.6 1.6 0 1 0 3.2 0a1.6 1.6 0 1 0 -3.2 0M216.5 774.8m-1.6 0a1.6 1.6 0 1 0 3.2 0a1.6 1.6 0 1 0 -3.2 0M176.1 788.8m-1.6 0a1.6 1.6 0 1 0 3.2 0a1.6 1.6 0 1 0 -3.2 0M149.2 799.8m-1.6 0a1.6 1.6 0 1 0 3.2 0a1.6 1.6 0 1 0 -3.2 0M201 770.8m-1.6 0a1.6 1.6 0 1 0 3.2 0a1.6 1.6 0 1 0 -3.2 0M149.2 823.4m-1.6 0a1.6 1.6 0 1 0 3.2 0a1.6 1.6 0 1 0 -3.2 0M208.3 808.3m-1.6 0a1.6 1.6 0 1 0 3.2 0a1.6 1.6 0 1 0 -3.2 0M141.7 831.9m-1.6 0a1.6 1.6 0 1 0 3.2 0a1.6 1.6 0 1 0 -3.2 0M178.1 827.9m-1.6 0a1.6 1.6 0 1 0 3.2 0a1.6 1.6 0 1 0 -3.2 0M194.2 785.7m-1.6 0a1.6 1.6 0 1 0 3.2 0a1.6 1.6 0 1 0 -3.2 0M181 792.7m-1.6 0a1.6 1.6 0 1 0 3.2 0a1.6 1.6 0 1 0 -3.2 0M123.3 844.4m-1.6 0a1.6 1.6 0 1 0 3.2 0a1.6 1.6 0 1 0 -3.2 0M109.1 840.6m-1.6 0a1.6 1.6 0 1 0 3.2 0a1.6 1.6 0 1 0 -3.2 0M178.3 809.5m-1.6 0a1.6 1.6 0 1 0 3.2 0a1.6 1.6 0 1 0 -3.2 0M177.1 790.2m-1.6 0a1.6 1.6 0 1 0 3.2 0a1.6 1.6 0 1 0 -3.2 0M157.5 786.3m-1.6 0a1.6 1.6 0 1 0 3.2 0a1.6 1.6 0 1 0 -3.2 0M194.2 796m-1.6 0a1.6 1.6 0 1 0 3.2 0a1.6 1.6 0 1 0 -3.2 0M190.5 781.2m-1.6 0a1.6 1.6 0 1 0 3.2 0a1.6 1.6 0 1 0 -3.2 0M102.3 849.2m-1.6 0a1.6 1.6 0 1 0 3.2 0a1.6 1.6 0 1 0 -3.2 0M115.5 817.4m-1.6 0a1.6 1.6 0 1 0 3.2 0a1.6 1.6 0 1 0 -3.2 0M100.7 846.8m-1.6 0a1.6 1.6 0 1 0 3.2 0a1.6 1.6 0 1 0 -3.2 0M164.1 792.1m-1.6 0a1.6 1.6 0 1 0 3.2 0a1.6 1.6 0 1 0 -3.2 0M181.9 808.1m-1.6 0a1.6 1.6 0 1 0 3.2 0a1.6 1.6 0 1 0 -3.2 0M187.4 783.7m-1.6 0a1.6 1.6 0 1 0 3.2 0a1.6 1.6 0 1 0 -3.2 0M111 845.8m-1.6 0a1.6 1.6 0 1 0 3.2 0a1.6 1.6 0 1 0 -3.2 0M138.5 834.9m-1.6 0a1.6 1.6 0 1 0 3.2 0a1.6 1.6 0 1 0 -3.2 0M157 793m-1.6 0a1.6 1.6 0 1 0 3.2 0a1.6 1.6 0 1 0 -3.2 0M208.5 798.1m-1.6 0a1.6 1.6 0 1 0 3.2 0a1.6 1.6 0 1 0 -3.2 0M73.7 842.5m-1.6 0a1.6 1.6 0 1 0 3.2 0a1.6 1.6 0 1 0 -3.2 0M210.6 773.8m-1.6 0a1.6 1.6 0 1 0 3.2 0a1.6 1.6 0 1 0 -3.2 0M145.2 825.1m-1.6 0a1.6 1.6 0 1 0 3.2 0a1.6 1.6 0 1 0 -3.2 0M210.9 800.7m-1.6 0a1.6 1.6 0 1 0 3.2 0a1.6 1.6 0 1 0 -3.2 0M93 833.3m-1.6 0a1.6 1.6 0 1 0 3.2 0a1.6 1.6 0 1 0 -3.2 0M187.1 791.8m-1.6 0a1.6 1.6 0 1 0 3.2 0a1.6 1.6 0 1 0 -3.2 0M96.2 829m-1.6 0a1.6 1.6 0 1 0 3.2 0a1.6 1.6 0 1 0 -3.2 0M202.2 807.6m-1.6 0a1.6 1.6 0 1 0 3.2 0a1.6 1.6 0 1 0 -3.2 0M149.8 840.2m-1.6 0a1.6 1.6 0 1 0 3.2 0a1.6 1.6 0 1 0 -3.2 0M101.4 845.6m-1.6 0a1.6 1.6 0 1 0 3.2 0a1.6 1.6 0 1 0 -3.2 0M120.9 811.4m-1.6 0a1.6 1.6 0 1 0 3.2 0a1.6 1.6 0 1 0 -3.2 0M176.9 809.5m-1.6 0a1.6 1.6 0 1 0 3.2 0a1.6 1.6 0 1 0 -3.2 0M211.5 792.1m-1.6 0a1.6 1.6 0 1 0 3.2 0a1.6 1.6 0 1 0 -3.2 0M135 808.4m-1.6 0a1.6 1.6 0 1 0 3.2 0a1.6 1.6 0 1 0 -3.2 0M108 846.3m-1.6 0a1.6 1.6 0 1 0 3.2 0a1.6 1.6 0 1 0 -3.2 0M206.5 804.6m-1.6 0a1.6 1.6 0 1 0 3.2 0a1.6 1.6 0 1 0 -3.2 0M133.1 804.9m-1.6 0a1.6 1.6 0 1 0 3.2 0a1.6 1.6 0 1 0 -3.2 0M220.1 790.2m-1.6 0a1.6 1.6 0 1 0 3.2 0a1.6 1.6 0 1 0 -3.2 0M108.9 847.7m-1.6 0a1.6 1.6 0 1 0 3.2 0a1.6 1.6 0 1 0 -3.2 0M226.6 765.9m-1.6 0a1.6 1.6 0 1 0 3.2 0a1.6 1.6 0 1 0 -3.2 0M195.7 784.7m-1.6 0a1.6 1.6 0 1 0 3.2 0a1.6 1.6 0 1 0 -3.2 0M139.2 809.8m-1.6 0a1.6 1.6 0 1 0 3.2 0a1.6 1.6 0 1 0 -3.2 0M185.9 791.1m-1.6 0a1.6 1.6 0 1 0 3.2 0a1.6 1.6 0 1 0 -3.2 0M101.9 834.9m-1.6 0a1.6 1.6 0 1 0 3.2 0a1.6 1.6 0 1 0 -3.2 0M164.9 828.1m-1.6 0a1.6 1.6 0 1 0 3.2 0a1.6 1.6 0 1 0 -3.2 0M224.7 774.7m-1.6 0a1.6 1.6 0 1 0 3.2 0a1.6 1.6 0 1 0 -3.2 0M96.6 847.5m-1.6 0a1.6 1.6 0 1 0 3.2 0a1.6 1.6 0 1 0 -3.2 0M147.3 808.5m-1.6 0a1.6 1.6 0 1 0 3.2 0a1.6 1.6 0 1 0 -3.2 0M178.1 782.8m-1.6 0a1.6 1.6 0 1 0 3.2 0a1.6 1.6 0 1 0 -3.2 0M183.3 812.9m-1.6 0a1.6 1.6 0 1 0 3.2 0a1.6 1.6 0 1 0 -3.2 0M103.1 827.7m-1.6 0a1.6 1.6 0 1 0 3.2 0a1.6 1.6 0 1 0 -3.2 0M227.9 767.9m-1.6 0a1.6 1.6 0 1 0 3.2 0a1.6 1.6 0 1 0 -3.2 0M215.8 798.8m-1.6 0a1.6 1.6 0 1 0 3.2 0a1.6 1.6 0 1 0 -3.2 0M224.6 766.8m-1.6 0a1.6 1.6 0 1 0 3.2 0a1.6 1.6 0 1 0 -3.2 0M221.5 760.6m-1.6 0a1.6 1.6 0 1 0 3.2 0a1.6 1.6 0 1 0 -3.2 0M87 844.6m-1.6 0a1.6 1.6 0 1 0 3.2 0a1.6 1.6 0 1 0 -3.2 0M129 841.6m-1.6 0a1.6 1.6 0 1 0 3.2 0a1.6 1.6 0 1 0 -3.2 0M114.6 841.1m-1.6 0a1.6 1.6 0 1 0 3.2 0a1.6 1.6 0 1 0 -3.2 0M154.6 809.4m-1.6 0a1.6 1.6 0 1 0 3.2 0a1.6 1.6 0 1 0 -3.2 0M153.8 832m-1.6 0a1.6 1.6 0 1 0 3.2 0a1.6 1.6 0 1 0 -3.2 0M104.9 830.1m-1.6 0a1.6 1.6 0 1 0 3.2 0a1.6 1.6 0 1 0 -3.2 0M142.9 833.1m-1.6 0a1.6 1.6 0 1 0 3.2 0a1.6 1.6 0 1 0 -3.2 0M103.5 819.5m-1.6 0a1.6 1.6 0 1 0 3.2 0a1.6 1.6 0 1 0 -3.2 0M123.3 836.3m-1.6 0a1.6 1.6 0 1 0 3.2 0a1.6 1.6 0 1 0 -3.2 0M209.9 765.3m-1.6 0a1.6 1.6 0 1 0 3.2 0a1.6 1.6 0 1 0 -3.2 0M79.1 849.7m-1.6 0a1.6 1.6 0 1 0 3.2 0a1.6 1.6 0 1 0 -3.2 0M82.5 834.6m-1.6 0a1.6 1.6 0 1 0 3.2 0a1.6 1.6 0 1 0 -3.2 0M203.7 799.9m-1.6 0a1.6 1.6 0 1 0 3.2 0a1.6 1.6 0 1 0 -3.2 0M152.4 791.2m-1.6 0a1.6 1.6 0 1 0 3.2 0a1.6 1.6 0 1 0 -3.2 0M152 825.3m-1.6 0a1.6 1.6 0 1 0 3.2 0a1.6 1.6 0 1 0 -3.2 0M165 808m-1.6 0a1.6 1.6 0 1 0 3.2 0a1.6 1.6 0 1 0 -3.2 0M129.8 834.9m-1.6 0a1.6 1.6 0 1 0 3.2 0a1.6 1.6 0 1 0 -3.2 0M148.6 803.9m-1.6 0a1.6 1.6 0 1 0 3.2 0a1.6 1.6 0 1 0 -3.2 0M158.6 783.9m-1.6 0a1.6 1.6 0 1 0 3.2 0a1.6 1.6 0 1 0 -3.2 0M153.1 824.6m-1.6 0a1.6 1.6 0 1 0 3.2 0a1.6 1.6 0 1 0 -3.2 0M130 817.8m-1.6 0a1.6 1.6 0 1 0 3.2 0a1.6 1.6 0 1 0 -3.2 0M227.3 772.2m-1.6 0a1.6 1.6 0 1 0 3.2 0a1.6 1.6 0 1 0 -3.2 0M207.5 761.1m-1.6 0a1.6 1.6 0 1 0 3.2 0a1.6 1.6 0 1 0 -3.2 0M85.8 846.8m-1.6 0a1.6 1.6 0 1 0 3.2 0a1.6 1.6 0 1 0 -3.2 0M136.5 835.2m-1.6 0a1.6 1.6 0 1 0 3.2 0a1.6 1.6 0 1 0 -3.2 0M101.1 833.2m-1.6 0a1.6 1.6 0 1 0 3.2 0a1.6 1.6 0 1 0 -3.2 0M188.4 812.4m-1.6 0a1.6 1.6 0 1 0 3.2 0a1.6 1.6 0 1 0 -3.2 0M214.9 768.1m-1.6 0a1.6 1.6 0 1 0 3.2 0a1.6 1.6 0 1 0 -3.2 0M156.5 828.8m-1.6 0a1.6 1.6 0 1 0 3.2 0a1.6 1.6 0 1 0 -3.2 0M163.5 798m-1.6 0a1.6 1.6 0 1 0 3.2 0a1.6 1.6 0 1 0 -3.2 0M158.4 796.6m-1.6 0a1.6 1.6 0 1 0 3.2 0a1.6 1.6 0 1 0 -3.2 0M189.2 782.5m-1.6 0a1.6 1.6 0 1 0 3.2 0a1.6 1.6 0 1 0 -3.2 0M212 797.5m-1.6 0a1.6 1.6 0 1 0 3.2 0a1.6 1.6 0 1 0 -3.2 0M170.6 803.8m-1.6 0a1.6 1.6 0 1 0 3.2 0a1.6 1.6 0 1 0 -3.2 0M185.6 800.1m-1.6 0a1.6 1.6 0 1 0 3.2 0a1.6 1.6 0 1 0 -3.2 0M135.6 804.7m-1.6 0a1.6 1.6 0 1 0 3.2 0a1.6 1.6 0 1 0 -3.2 0M191.5 810.6m-1.6 0a1.6 1.6 0 1 0 3.2 0a1.6 1.6 0 1 0 -3.2 0M185.1 790.3m-1.6 0a1.6 1.6 0 1 0 3.2 0a1.6 1.6 0 1 0 -3.2 0M111.4 842.4m-1.6 0a1.6 1.6 0 1 0 3.2 0a1.6 1.6 0 1 0 -3.2 0M135.9 852.7m-1.6 0a1.6 1.6 0 1 0 3.2 0a1.6 1.6 0 1 0 -3.2 0M211.8 787.6m-1.6 0a1.6 1.6 0 1 0 3.2 0a1.6 1.6 0 1 0 -3.2 0M153.4 793.6m-1.6 0a1.6 1.6 0 1 0 3.2 0a1.6 1.6 0 1 0 -3.2 0M147.2 820.3m-1.6 0a1.6 1.6 0 1 0 3.2 0a1.6 1.6 0 1 0 -3.2 0M138.3 846.1m-1.6 0a1.6 1.6 0 1 0 3.2 0a1.6 1.6 0 1 0 -3.2 0M175.2 787m-1.6 0a1.6 1.6 0 1 0 3.2 0a1.6 1.6 0 1 0 -3.2 0M192.8 781.1m-1.6 0a1.6 1.6 0 1 0 3.2 0a1.6 1.6 0 1 0 -3.2 0M218.3 760.4m-1.6 0a1.6 1.6 0 1 0 3.2 0a1.6 1.6 0 1 0 -3.2 0M163.5 823.4m-1.6 0a1.6 1.6 0 1 0 3.2 0a1.6 1.6 0 1 0 -3.2 0M112.8 842.6m-1.6 0a1.6 1.6 0 1 0 3.2 0a1.6 1.6 0 1 0 -3.2 0M205.3 799.1m-1.6 0a1.6 1.6 0 1 0 3.2 0a1.6 1.6 0 1 0 -3.2 0M223.1 791.2m-1.6 0a1.6 1.6 0 1 0 3.2 0a1.6 1.6 0 1 0 -3.2 0M197.5 763.4m-1.6 0a1.6 1.6 0 1 0 3.2 0a1.6 1.6 0 1 0 -3.2 0M226 784.3m-1.6 0a1.6 1.6 0 1 0 3.2 0a1.6 1.6 0 1 0 -3.2 0M75 846.6m-1.6 0a1.6 1.6 0 1 0 3.2 0a1.6 1.6 0 1 0 -3.2 0M190 773.3m-1.6 0a1.6 1.6 0 1 0 3.2 0a1.6 1.6 0 1 0 -3.2 0M152.1 787.4m-1.6 0a1.6 1.6 0 1 0 3.2 0a1.6 1.6 0 1 0 -3.2 0M209.6 793.5m-1.6 0a1.6 1.6 0 1 0 3.2 0a1.6 1.6 0 1 0 -3.2 0M118.6 829.7m-1.6 0a1.6 1.6 0 1 0 3.2 0a1.6 1.6 0 1 0 -3.2 0M182.6 775.5m-1.6 0a1.6 1.6 0 1 0 3.2 0a1.6 1.6 0 1 0 -3.2 0M109.9 820.1m-1.6 0a1.6 1.6 0 1 0 3.2 0a1.6 1.6 0 1 0 -3.2 0M87.7 844.2m-1.6 0a1.6 1.6 0 1 0 3.2 0a1.6 1.6 0 1 0 -3.2 0M196.3 790.2m-1.6 0a1.6 1.6 0 1 0 3.2 0a1.6 1.6 0 1 0 -3.2 0M118.1 843.8m-1.6 0a1.6 1.6 0 1 0 3.2 0a1.6 1.6 0 1 0 -3.2 0M92.6 839.4m-1.6 0a1.6 1.6 0 1 0 3.2 0a1.6 1.6 0 1 0 -3.2 0M195.1 801.8m-1.6 0a1.6 1.6 0 1 0 3.2 0a1.6 1.6 0 1 0 -3.2 0M158 822.4m-1.6 0a1.6 1.6 0 1 0 3.2 0a1.6 1.6 0 1 0 -3.2 0M121.5 815.4m-1.6 0a1.6 1.6 0 1 0 3.2 0a1.6 1.6 0 1 0 -3.2 0M226.7 765m-1.6 0a1.6 1.6 0 1 0 3.2 0a1.6 1.6 0 1 0 -3.2 0M119.5 831m-1.6 0a1.6 1.6 0 1 0 3.2 0a1.6 1.6 0 1 0 -3.2 0M176 817.4m-1.6 0a1.6 1.6 0 1 0 3.2 0a1.6 1.6 0 1 0 -3.2 0M119.2 839m-1.6 0a1.6 1.6 0 1 0 3.2 0a1.6 1.6 0 1 0 -3.2 0M159.7 825.6m-1.6 0a1.6 1.6 0 1 0 3.2 0a1.6 1.6 0 1 0 -3.2 0M202.7 777.2m-1.6 0a1.6 1.6 0 1 0 3.2 0a1.6 1.6 0 1 0 -3.2 0M106.4 836.1m-1.6 0a1.6 1.6 0 1 0 3.2 0a1.6 1.6 0 1 0 -3.2 0M115.5 816m-1.6 0a1.6 1.6 0 1 0 3.2 0a1.6 1.6 0 1 0 -3.2 0M174.5 822.6m-1.6 0a1.6 1.6 0 1 0 3.2 0a1.6 1.6 0 1 0 -3.2 0M125 823.4m-1.6 0a1.6 1.6 0 1 0 3.2 0a1.6 1.6 0 1 0 -3.2 0M225.8 784m-1.6 0a1.6 1.6 0 1 0 3.2 0a1.6 1.6 0 1 0 -3.2 0M88 832m-1.6 0a1.6 1.6 0 1 0 3.2 0a1.6 1.6 0 1 0 -3.2 0M218.7 767.1m-1.6 0a1.6 1.6 0 1 0 3.2 0a1.6 1.6 0 1 0 -3.2 0M154.1 801.4m-1.6 0a1.6 1.6 0 1 0 3.2 0a1.6 1.6 0 1 0 -3.2 0M179 779.8m-1.6 0a1.6 1.6 0 1 0 3.2 0a1.6 1.6 0 1 0 -3.2 0M102.9 828.1m-1.6 0a1.6 1.6 0 1 0 3.2 0a1.6 1.6 0 1 0 -3.2 0M193.2 757.2m-1.6 0a1.6 1.6 0 1 0 3.2 0a1.6 1.6 0 1 0 -3.2 0M220.3 769.4m-1.6 0a1.6 1.6 0 1 0 3.2 0a1.6 1.6 0 1 0 -3.2 0M222.2 766.1m-1.6 0a1.6 1.6 0 1 0 3.2 0a1.6 1.6 0 1 0 -3.2 0M113.5 848.8m-1.6 0a1.6 1.6 0 1 0 3.2 0a1.6 1.6 0 1 0 -3.2 0M97.9 827.8m-1.6 0a1.6 1.6 0 1 0 3.2 0a1.6 1.6 0 1 0 -3.2 0M149 810.2m-1.6 0a1.6 1.6 0 1 0 3.2 0a1.6 1.6 0 1 0 -3.2 0M179.9 811.5m-1.6 0a1.6 1.6 0 1 0 3.2 0a1.6 1.6 0 1 0 -3.2 0M80 846.6m-1.6 0a1.6 1.6 0 1 0 3.2 0a1.6 1.6 0 1 0 -3.2 0M171.6 816.7m-1.6 0a1.6 1.6 0 1 0 3.2 0a1.6 1.6 0 1 0 -3.2 0M142.7 822.4m-1.6 0a1.6 1.6 0 1 0 3.2 0a1.6 1.6 0 1 0 -3.2 0M132.8 813.5m-1.6 0a1.6 1.6 0 1 0 3.2 0a1.6 1.6 0 1 0 -3.2 0M178.8 799.5m-1.6 0a1.6 1.6 0 1 0 3.2 0a1.6 1.6 0 1 0 -3.2 0M154.4 801.2m-1.6 0a1.6 1.6 0 1 0 3.2 0a1.6 1.6 0 1 0 -3.2 0M163.9 800.4m-1.6 0a1.6 1.6 0 1 0 3.2 0a1.6 1.6 0 1 0 -3.2 0M117.8 816m-1.6 0a1.6 1.6 0 1 0 3.2 0a1.6 1.6 0 1 0 -3.2 0M217.6 783.5m-1.6 0a1.6 1.6 0 1 0 3.2 0a1.6 1.6 0 1 0 -3.2 0M175.2 791.6m-1.6 0a1.6 1.6 0 1 0 3.2 0a1.6 1.6 0 1 0 -3.2 0M178.9 794.4m-1.6 0a1.6 1.6 0 1 0 3.2 0a1.6 1.6 0 1 0 -3.2 0M128.3 855m-1.6 0a1.6 1.6 0 1 0 3.2 0a1.6 1.6 0 1 0 -3.2 0M196 791.3m-1.6 0a1.6 1.6 0 1 0 3.2 0a1.6 1.6 0 1 0 -3.2 0M177 780.8m-1.6 0a1.6 1.6 0 1 0 3.2 0a1.6 1.6 0 1 0 -3.2 0M144.7 814.9m-1.6 0a1.6 1.6 0 1 0 3.2 0a1.6 1.6 0 1 0 -3.2 0M189.2 811.3m-1.6 0a1.6 1.6 0 1 0 3.2 0a1.6 1.6 0 1 0 -3.2 0M141 828.6m-1.6 0a1.6 1.6 0 1 0 3.2 0a1.6 1.6 0 1 0 -3.2 0M115.9 830.9m-1.6 0a1.6 1.6 0 1 0 3.2 0a1.6 1.6 0 1 0 -3.2 0M139.9 782.9m-1.6 0a1.6 1.6 0 1 0 3.2 0a1.6 1.6 0 1 0 -3.2 0M130 828.6m-1.6 0a1.6 1.6 0 1 0 3.2 0a1.6 1.6 0 1 0 -3.2 0M115.7 823.1m-1.6 0a1.6 1.6 0 1 0 3.2 0a1.6 1.6 0 1 0 -3.2 0M165.8 797.1m-1.6 0a1.6 1.6 0 1 0 3.2 0a1.6 1.6 0 1 0 -3.2 0M192.8 790.6m-1.6 0a1.6 1.6 0 1 0 3.2 0a1.6 1.6 0 1 0 -3.2 0M205.5 790.2m-1.6 0a1.6 1.6 0 1 0 3.2 0a1.6 1.6 0 1 0 -3.2 0M132.2 799.9m-1.6 0a1.6 1.6 0 1 0 3.2 0a1.6 1.6 0 1 0 -3.2 0M114.6 814.3m-1.6 0a1.6 1.6 0 1 0 3.2 0a1.6 1.6 0 1 0 -3.2 0M174.7 797.8m-1.6 0a1.6 1.6 0 1 0 3.2 0a1.6 1.6 0 1 0 -3.2 0M151.3 810.7m-1.6 0a1.6 1.6 0 1 0 3.2 0a1.6 1.6 0 1 0 -3.2 0M133.6 799.7m-1.6 0a1.6 1.6 0 1 0 3.2 0a1.6 1.6 0 1 0 -3.2 0M118.1 811.6m-1.6 0a1.6 1.6 0 1 0 3.2 0a1.6 1.6 0 1 0 -3.2 0M123.2 840.7m-1.6 0a1.6 1.6 0 1 0 3.2 0a1.6 1.6 0 1 0 -3.2 0M108.7 832.7m-1.6 0a1.6 1.6 0 1 0 3.2 0a1.6 1.6 0 1 0 -3.2 0M192.4 773.4m-1.6 0a1.6 1.6 0 1 0 3.2 0a1.6 1.6 0 1 0 -3.2 0M121.7 824.6m-1.6 0a1.6 1.6 0 1 0 3.2 0a1.6 1.6 0 1 0 -3.2 0M80.9 836.8m-1.6 0a1.6 1.6 0 1 0 3.2 0a1.6 1.6 0 1 0 -3.2 0M105.5 830.6m-1.6 0a1.6 1.6 0 1 0 3.2 0a1.6 1.6 0 1 0 -3.2 0M131.2 833.1m-1.6 0a1.6 1.6 0 1 0 3.2 0a1.6 1.6 0 1 0 -3.2 0M140.3 818.2m-1.6 0a1.6 1.6 0 1 0 3.2 0a1.6 1.6 0 1 0 -3.2 0M150.1 788.5m-1.6 0a1.6 1.6 0 1 0 3.2 0a1.6 1.6 0 1 0 -3.2 0M87.4 830.1m-1.6 0a1.6 1.6 0 1 0 3.2 0a1.6 1.6 0 1 0 -3.2 0M109.3 838.4m-1.6 0a1.6 1.6 0 1 0 3.2 0a1.6 1.6 0 1 0 -3.2 0M211.4 767.8m-1.6 0a1.6 1.6 0 1 0 3.2 0a1.6 1.6 0 1 0 -3.2 0M90 835m-1.6 0a1.6 1.6 0 1 0 3.2 0a1.6 1.6 0 1 0 -3.2 0M217.6 795.4m-1.6 0a1.6 1.6 0 1 0 3.2 0a1.6 1.6 0 1 0 -3.2 0M115.4 833.9m-1.6 0a1.6 1.6 0 1 0 3.2 0a1.6 1.6 0 1 0 -3.2 0M209.1 786.4m-1.6 0a1.6 1.6 0 1 0 3.2 0a1.6 1.6 0 1 0 -3.2 0M149.6 817.8m-1.6 0a1.6 1.6 0 1 0 3.2 0a1.6 1.6 0 1 0 -3.2 0M191.9 788.5m-1.6 0a1.6 1.6 0 1 0 3.2 0a1.6 1.6 0 1 0 -3.2 0M145.1 817m-1.6 0a1.6 1.6 0 1 0 3.2 0a1.6 1.6 0 1 0 -3.2 0M167.6 792m-1.6 0a1.6 1.6 0 1 0 3.2 0a1.6 1.6 0 1 0 -3.2 0M173.4 799.5m-1.6 0a1.6 1.6 0 1 0 3.2 0a1.6 1.6 0 1 0 -3.2 0M115 825.3m-1.6 0a1.6 1.6 0 1 0 3.2 0a1.6 1.6 0 1 0 -3.2 0M171.3 816.7m-1.6 0a1.6 1.6 0 1 0 3.2 0a1.6 1.6 0 1 0 -3.2 0M149.9 823.9m-1.6 0a1.6 1.6 0 1 0 3.2 0a1.6 1.6 0 1 0 -3.2 0M152.2 830.2m-1.6 0a1.6 1.6 0 1 0 3.2 0a1.6 1.6 0 1 0 -3.2 0M203.8 801.1m-1.6 0a1.6 1.6 0 1 0 3.2 0a1.6 1.6 0 1 0 -3.2 0M121 816.6m-1.6 0a1.6 1.6 0 1 0 3.2 0a1.6 1.6 0 1 0 -3.2 0M143.6 834.2m-1.6 0a1.6 1.6 0 1 0 3.2 0a1.6 1.6 0 1 0 -3.2 0M193.4 798.5m-1.6 0a1.6 1.6 0 1 0 3.2 0a1.6 1.6 0 1 0 -3.2 0M124.5 822.1m-1.6 0a1.6 1.6 0 1 0 3.2 0a1.6 1.6 0 1 0 -3.2 0M139.3 812.1m-1.6 0a1.6 1.6 0 1 0 3.2 0a1.6 1.6 0 1 0 -3.2 0M114.8 842.9m-1.6 0a1.6 1.6 0 1 0 3.2 0a1.6 1.6 0 1 0 -3.2 0M198.7 780.1m-1.6 0a1.6 1.6 0 1 0 3.2 0a1.6 1.6 0 1 0 -3.2 0M182.7 817.5m-1.6 0a1.6 1.6 0 1 0 3.2 0a1.6 1.6 0 1 0 -3.2 0M188.8 815.3m-1.6 0a1.6 1.6 0 1 0 3.2 0a1.6 1.6 0 1 0 -3.2 0M91.4 830.7m-1.6 0a1.6 1.6 0 1 0 3.2 0a1.6 1.6 0 1 0 -3.2 0M175.5 799m-1.6 0a1.6 1.6 0 1 0 3.2 0a1.6 1.6 0 1 0 -3.2 0M209 787.7m-1.6 0a1.6 1.6 0 1 0 3.2 0a1.6 1.6 0 1 0 -3.2 0M177.9 819.9m-1.6 0a1.6 1.6 0 1 0 3.2 0a1.6 1.6 0 1 0 -3.2 0M190.6 791.2m-1.6 0a1.6 1.6 0 1 0 3.2 0a1.6 1.6 0 1 0 -3.2 0M222.2 789.1m-1.6 0a1.6 1.6 0 1 0 3.2 0a1.6 1.6 0 1 0 -3.2 0M227.8 778.9m-1.6 0a1.6 1.6 0 1 0 3.2 0a1.6 1.6 0 1 0 -3.2 0M205.1 766.1m-1.6 0a1.6 1.6 0 1 0 3.2 0a1.6 1.6 0 1 0 -3.2 0M217.6 777.9m-1.6 0a1.6 1.6 0 1 0 3.2 0a1.6 1.6 0 1 0 -3.2 0M132.6 821.8m-1.6 0a1.6 1.6 0 1 0 3.2 0a1.6 1.6 0 1 0 -3.2 0M155.7 793.2m-1.6 0a1.6 1.6 0 1 0 3.2 0a1.6 1.6 0 1 0 -3.2 0M186.7 774.3m-1.6 0a1.6 1.6 0 1 0 3.2 0a1.6 1.6 0 1 0 -3.2 0M169.1 767.5m-1.6 0a1.6 1.6 0 1 0 3.2 0a1.6 1.6 0 1 0 -3.2 0M146.1 806.7m-1.6 0a1.6 1.6 0 1 0 3.2 0a1.6 1.6 0 1 0 -3.2 0M182.3 817.4m-1.6 0a1.6 1.6 0 1 0 3.2 0a1.6 1.6 0 1 0 -3.2 0M100.3 842.3m-1.6 0a1.6 1.6 0 1 0 3.2 0a1.6 1.6 0 1 0 -3.2 0M134 808.3m-1.6 0a1.6 1.6 0 1 0 3.2 0a1.6 1.6 0 1 0 -3.2 0M94 838.6m-1.6 0a1.6 1.6 0 1 0 3.2 0a1.6 1.6 0 1 0 -3.2 0M188.1 779.6m-1.6 0a1.6 1.6 0 1 0 3.2 0a1.6 1.6 0 1 0 -3.2 0M155 811.6m-1.6 0a1.6 1.6 0 1 0 3.2 0a1.6 1.6 0 1 0 -3.2 0M169.8 779.6m-1.6 0a1.6 1.6 0 1 0 3.2 0a1.6 1.6 0 1 0 -3.2 0M131.5 851.6m-1.6 0a1.6 1.6 0 1 0 3.2 0a1.6 1.6 0 1 0 -3.2 0M194.4 761m-1.6 0a1.6 1.6 0 1 0 3.2 0a1.6 1.6 0 1 0 -3.2 0M191.6 796.7m-1.6 0a1.6 1.6 0 1 0 3.2 0a1.6 1.6 0 1 0 -3.2 0M185.3 794.6m-1.6 0a1.6 1.6 0 1 0 3.2 0a1.6 1.6 0 1 0 -3.2 0M115.3 833.7m-1.6 0a1.6 1.6 0 1 0 3.2 0a1.6 1.6 0 1 0 -3.2 0M79.7 836.5m-1.6 0a1.6 1.6 0 1 0 3.2 0a1.6 1.6 0 1 0 -3.2 0M130.4 816.3m-1.6 0a1.6 1.6 0 1 0 3.2 0a1.6 1.6 0 1 0 -3.2 0M183.9 814.7m-1.6 0a1.6 1.6 0 1 0 3.2 0a1.6 1.6 0 1 0 -3.2 0M137.6 820.3m-1.6 0a1.6 1.6 0 1 0 3.2 0a1.6 1.6 0 1 0 -3.2 0M144.9 794.4m-1.6 0a1.6 1.6 0 1 0 3.2 0a1.6 1.6 0 1 0 -3.2 0M149.8 805.8m-1.6 0a1.6 1.6 0 1 0 3.2 0a1.6 1.6 0 1 0 -3.2 0M136 833.3m-1.6 0a1.6 1.6 0 1 0 3.2 0a1.6 1.6 0 1 0 -3.2 0M131.2 837.8m-1.6 0a1.6 1.6 0 1 0 3.2 0a1.6 1.6 0 1 0 -3.2 0M182.7 780.9m-1.6 0a1.6 1.6 0 1 0 3.2 0a1.6 1.6 0 1 0 -3.2 0M121.9 817.8m-1.6 0a1.6 1.6 0 1 0 3.2 0a1.6 1.6 0 1 0 -3.2 0M128.5 836.9m-1.6 0a1.6 1.6 0 1 0 3.2 0a1.6 1.6 0 1 0 -3.2 0M152.9 822.3m-1.6 0a1.6 1.6 0 1 0 3.2 0a1.6 1.6 0 1 0 -3.2 0M160.7 794.9m-1.6 0a1.6 1.6 0 1 0 3.2 0a1.6 1.6 0 1 0 -3.2 0M199 783.9m-1.6 0a1.6 1.6 0 1 0 3.2 0a1.6 1.6 0 1 0 -3.2 0M99.4 846.2m-1.6 0a1.6 1.6 0 1 0 3.2 0a1.6 1.6 0 1 0 -3.2 0M78.3 834.7m-1.6 0a1.6 1.6 0 1 0 3.2 0a1.6 1.6 0 1 0 -3.2 0M214 772.7m-1.6 0a1.6 1.6 0 1 0 3.2 0a1.6 1.6 0 1 0 -3.2 0M151.5 790.8m-1.6 0a1.6 1.6 0 1 0 3.2 0a1.6 1.6 0 1 0 -3.2 0M184.8 771.7m-1.6 0a1.6 1.6 0 1 0 3.2 0a1.6 1.6 0 1 0 -3.2 0M145.4 814.9m-1.6 0a1.6 1.6 0 1 0 3.2 0a1.6 1.6 0 1 0 -3.2 0M195.3 782.9m-1.6 0a1.6 1.6 0 1 0 3.2 0a1.6 1.6 0 1 0 -3.2 0M162.2 812.7m-1.6 0a1.6 1.6 0 1 0 3.2 0a1.6 1.6 0 1 0 -3.2 0M155.5 796.1m-1.6 0a1.6 1.6 0 1 0 3.2 0a1.6 1.6 0 1 0 -3.2 0M207.5 766.6m-1.6 0a1.6 1.6 0 1 0 3.2 0a1.6 1.6 0 1 0 -3.2 0M144.3 815.9m-1.6 0a1.6 1.6 0 1 0 3.2 0a1.6 1.6 0 1 0 -3.2 0M116.6 824.9m-1.6 0a1.6 1.6 0 1 0 3.2 0a1.6 1.6 0 1 0 -3.2 0M172.5 821.2m-1.6 0a1.6 1.6 0 1 0 3.2 0a1.6 1.6 0 1 0 -3.2 0M205.8 783.1m-1.6 0a1.6 1.6 0 1 0 3.2 0a1.6 1.6 0 1 0 -3.2 0M199.1 786.7m-1.6 0a1.6 1.6 0 1 0 3.2 0a1.6 1.6 0 1 0 -3.2 0M150.2 802.6m-1.6 0a1.6 1.6 0 1 0 3.2 0a1.6 1.6 0 1 0 -3.2 0M156.1 817.7m-1.6 0a1.6 1.6 0 1 0 3.2 0a1.6 1.6 0 1 0 -3.2 0M166.8 794m-1.6 0a1.6 1.6 0 1 0 3.2 0a1.6 1.6 0 1 0 -3.2 0M220.4 786.3m-1.6 0a1.6 1.6 0 1 0 3.2 0a1.6 1.6 0 1 0 -3.2 0M196.6 772.6m-1.6 0a1.6 1.6 0 1 0 3.2 0a1.6 1.6 0 1 0 -3.2 0M139.2 815m-1.6 0a1.6 1.6 0 1 0 3.2 0a1.6 1.6 0 1 0 -3.2 0M160.5 798.5m-1.6 0a1.6 1.6 0 1 0 3.2 0a1.6 1.6 0 1 0 -3.2 0M140.8 811.1m-1.6 0a1.6 1.6 0 1 0 3.2 0a1.6 1.6 0 1 0 -3.2 0M88.9 826.4m-1.6 0a1.6 1.6 0 1 0 3.2 0a1.6 1.6 0 1 0 -3.2 0M228.2 769.1m-1.6 0a1.6 1.6 0 1 0 3.2 0a1.6 1.6 0 1 0 -3.2 0M174.2 780.8m-1.6 0a1.6 1.6 0 1 0 3.2 0a1.6 1.6 0 1 0 -3.2 0M177.5 806.8m-1.6 0a1.6 1.6 0 1 0 3.2 0a1.6 1.6 0 1 0 -3.2 0M181 781.1m-1.6 0a1.6 1.6 0 1 0 3.2 0a1.6 1.6 0 1 0 -3.2 0M152.3 827.3m-1.6 0a1.6 1.6 0 1 0 3.2 0a1.6 1.6 0 1 0 -3.2 0M184 783.1m-1.6 0a1.6 1.6 0 1 0 3.2 0a1.6 1.6 0 1 0 -3.2 0M76.4 841.2m-1.6 0a1.6 1.6 0 1 0 3.2 0a1.6 1.6 0 1 0 -3.2 0M178.2 767.4m-1.6 0a1.6 1.6 0 1 0 3.2 0a1.6 1.6 0 1 0 -3.2 0M152.6 810.4m-1.6 0a1.6 1.6 0 1 0 3.2 0a1.6 1.6 0 1 0 -3.2 0M190.4 780.9m-1.6 0a1.6 1.6 0 1 0 3.2 0a1.6 1.6 0 1 0 -3.2 0M196.5 774.9m-1.6 0a1.6 1.6 0 1 0 3.2 0a1.6 1.6 0 1 0 -3.2 0M132.7 831.5m-1.6 0a1.6 1.6 0 1 0 3.2 0a1.6 1.6 0 1 0 -3.2 0M187.9 791.2m-1.6 0a1.6 1.6 0 1 0 3.2 0a1.6 1.6 0 1 0 -3.2 0M78.7 845.8m-1.6 0a1.6 1.6 0 1 0 3.2 0a1.6 1.6 0 1 0 -3.2 0M193.7 787.7m-1.6 0a1.6 1.6 0 1 0 3.2 0a1.6 1.6 0 1 0 -3.2 0M138.2 787.3m-1.6 0a1.6 1.6 0 1 0 3.2 0a1.6 1.6 0 1 0 -3.2 0M91.9 836.3m-1.6 0a1.6 1.6 0 1 0 3.2 0a1.6 1.6 0 1 0 -3.2 0M139.1 835.2m-1.6 0a1.6 1.6 0 1 0 3.2 0a1.6 1.6 0 1 0 -3.2 0M165.1 804.5m-1.6 0a1.6 1.6 0 1 0 3.2 0a1.6 1.6 0 1 0 -3.2 0M170.8 813.9m-1.6 0a1.6 1.6 0 1 0 3.2 0a1.6 1.6 0 1 0 -3.2 0M209.2 790.8m-1.6 0a1.6 1.6 0 1 0 3.2 0a1.6 1.6 0 1 0 -3.2 0M178 796m-1.6 0a1.6 1.6 0 1 0 3.2 0a1.6 1.6 0 1 0 -3.2 0M199.2 772.4m-1.6 0a1.6 1.6 0 1 0 3.2 0a1.6 1.6 0 1 0 -3.2 0M216.5 777.5m-1.6 0a1.6 1.6 0 1 0 3.2 0a1.6 1.6 0 1 0 -3.2 0M158.7 805.1m-1.6 0a1.6 1.6 0 1 0 3.2 0a1.6 1.6 0 1 0 -3.2 0M155.9 823.3m-1.6 0a1.6 1.6 0 1 0 3.2 0a1.6 1.6 0 1 0 -3.2 0M117.6 819.8m-1.6 0a1.6 1.6 0 1 0 3.2 0a1.6 1.6 0 1 0 -3.2 0M73.3 843.2m-1.6 0a1.6 1.6 0 1 0 3.2 0a1.6 1.6 0 1 0 -3.2 0M176.9 778.7m-1.6 0a1.6 1.6 0 1 0 3.2 0a1.6 1.6 0 1 0 -3.2 0M222.4 766.9m-1.6 0a1.6 1.6 0 1 0 3.2 0a1.6 1.6 0 1 0 -3.2 0M86.9 830.9m-1.6 0a1.6 1.6 0 1 0 3.2 0a1.6 1.6 0 1 0 -3.2 0M200.9 795.3m-1.6 0a1.6 1.6 0 1 0 3.2 0a1.6 1.6 0 1 0 -3.2 0M189.3 771m-1.6 0a1.6 1.6 0 1 0 3.2 0a1.6 1.6 0 1 0 -3.2 0M140.2 814.8m-1.6 0a1.6 1.6 0 1 0 3.2 0a1.6 1.6 0 1 0 -3.2 0M121.9 807m-1.6 0a1.6 1.6 0 1 0 3.2 0a1.6 1.6 0 1 0 -3.2 0M146.5 814.1m-1.6 0a1.6 1.6 0 1 0 3.2 0a1.6 1.6 0 1 0 -3.2 0M154.1 824.5m-1.6 0a1.6 1.6 0 1 0 3.2 0a1.6 1.6 0 1 0 -3.2 0M199.5 779.4m-1.6 0a1.6 1.6 0 1 0 3.2 0a1.6 1.6 0 1 0 -3.2 0M138.4 799.6m-1.6 0a1.6 1.6 0 1 0 3.2 0a1.6 1.6 0 1 0 -3.2 0M181.8 809.1m-1.6 0a1.6 1.6 0 1 0 3.2 0a1.6 1.6 0 1 0 -3.2 0M175.4 790.5m-1.6 0a1.6 1.6 0 1 0 3.2 0a1.6 1.6 0 1 0 -3.2 0M227 783.8m-1.6 0a1.6 1.6 0 1 0 3.2 0a1.6 1.6 0 1 0 -3.2 0M183.2 800.3m-1.6 0a1.6 1.6 0 1 0 3.2 0a1.6 1.6 0 1 0 -3.2 0M153.9 795.9m-1.6 0a1.6 1.6 0 1 0 3.2 0a1.6 1.6 0 1 0 -3.2 0M72 846.1m-1.6 0a1.6 1.6 0 1 0 3.2 0a1.6 1.6 0 1 0 -3.2 0M218.3 775.3m-1.6 0a1.6 1.6 0 1 0 3.2 0a1.6 1.6 0 1 0 -3.2 0M86.3 849.5m-1.6 0a1.6 1.6 0 1 0 3.2 0a1.6 1.6 0 1 0 -3.2 0M144 813.3m-1.6 0a1.6 1.6 0 1 0 3.2 0a1.6 1.6 0 1 0 -3.2 0M123.7 841.3m-1.6 0a1.6 1.6 0 1 0 3.2 0a1.6 1.6 0 1 0 -3.2 0M223.1 777.6m-1.6 0a1.6 1.6 0 1 0 3.2 0a1.6 1.6 0 1 0 -3.2 0M191.4 787.2m-1.6 0a1.6 1.6 0 1 0 3.2 0a1.6 1.6 0 1 0 -3.2 0M137.5 815.7m-1.6 0a1.6 1.6 0 1 0 3.2 0a1.6 1.6 0 1 0 -3.2 0M175.9 785.1m-1.6 0a1.6 1.6 0 1 0 3.2 0a1.6 1.6 0 1 0 -3.2 0M157 828.7m-1.6 0a1.6 1.6 0 1 0 3.2 0a1.6 1.6 0 1 0 -3.2 0M182.2 813.8m-1.6 0a1.6 1.6 0 1 0 3.2 0a1.6 1.6 0 1 0 -3.2 0M85.8 849.7m-1.6 0a1.6 1.6 0 1 0 3.2 0a1.6 1.6 0 1 0 -3.2 0M98.3 830.1m-1.6 0a1.6 1.6 0 1 0 3.2 0a1.6 1.6 0 1 0 -3.2 0M198.3 801.6m-1.6 0a1.6 1.6 0 1 0 3.2 0a1.6 1.6 0 1 0 -3.2 0M191.9 804.1m-1.6 0a1.6 1.6 0 1 0 3.2 0a1.6 1.6 0 1 0 -3.2 0M158.2 802.7m-1.6 0a1.6 1.6 0 1 0 3.2 0a1.6 1.6 0 1 0 -3.2 0M188.4 814.9m-1.6 0a1.6 1.6 0 1 0 3.2 0a1.6 1.6 0 1 0 -3.2 0M81.9 844.9m-1.6 0a1.6 1.6 0 1 0 3.2 0a1.6 1.6 0 1 0 -3.2 0M142.3 807m-1.6 0a1.6 1.6 0 1 0 3.2 0a1.6 1.6 0 1 0 -3.2 0M224.7 761.4m-1.6 0a1.6 1.6 0 1 0 3.2 0a1.6 1.6 0 1 0 -3.2 0M161.5 791.8m-1.6 0a1.6 1.6 0 1 0 3.2 0a1.6 1.6 0 1 0 -3.2 0M147.9 823.9m-1.6 0a1.6 1.6 0 1 0 3.2 0a1.6 1.6 0 1 0 -3.2 0M177.9 807m-1.6 0a1.6 1.6 0 1 0 3.2 0a1.6 1.6 0 1 0 -3.2 0M86.8 838.1m-1.6 0a1.6 1.6 0 1 0 3.2 0a1.6 1.6 0 1 0 -3.2 0M93.7 828.6m-1.6 0a1.6 1.6 0 1 0 3.2 0a1.6 1.6 0 1 0 -3.2 0M136 849.7m-1.6 0a1.6 1.6 0 1 0 3.2 0a1.6 1.6 0 1 0 -3.2 0M122 831.8m-1.6 0a1.6 1.6 0 1 0 3.2 0a1.6 1.6 0 1 0 -3.2 0M115.4 817.9m-1.6 0a1.6 1.6 0 1 0 3.2 0a1.6 1.6 0 1 0 -3.2 0M169.3 800.2m-1.6 0a1.6 1.6 0 1 0 3.2 0a1.6 1.6 0 1 0 -3.2 0M214.7 761m-1.6 0a1.6 1.6 0 1 0 3.2 0a1.6 1.6 0 1 0 -3.2 0M164.2 824.5m-1.6 0a1.6 1.6 0 1 0 3.2 0a1.6 1.6 0 1 0 -3.2 0M106.9 815m-1.6 0a1.6 1.6 0 1 0 3.2 0a1.6 1.6 0 1 0 -3.2 0M152.7 830.7m-1.6 0a1.6 1.6 0 1 0 3.2 0a1.6 1.6 0 1 0 -3.2 0M139.9 812.8m-1.6 0a1.6 1.6 0 1 0 3.2 0a1.6 1.6 0 1 0 -3.2 0M116.4 844.6m-1.6 0a1.6 1.6 0 1 0 3.2 0a1.6 1.6 0 1 0 -3.2 0M107.6 830.8m-1.6 0a1.6 1.6 0 1 0 3.2 0a1.6 1.6 0 1 0 -3.2 0M214.8 784.7m-1.6 0a1.6 1.6 0 1 0 3.2 0a1.6 1.6 0 1 0 -3.2 0M177.1 795.4m-1.6 0a1.6 1.6 0 1 0 3.2 0a1.6 1.6 0 1 0 -3.2 0M163.5 801.3m-1.6 0a1.6 1.6 0 1 0 3.2 0a1.6 1.6 0 1 0 -3.2 0M177.7 809.7m-1.6 0a1.6 1.6 0 1 0 3.2 0a1.6 1.6 0 1 0 -3.2 0M178.9 818.4m-1.6 0a1.6 1.6 0 1 0 3.2 0a1.6 1.6 0 1 0 -3.2 0M173.9 816.8m-1.6 0a1.6 1.6 0 1 0 3.2 0a1.6 1.6 0 1 0 -3.2 0M111.8 810.9m-1.6 0a1.6 1.6 0 1 0 3.2 0a1.6 1.6 0 1 0 -3.2 0M124.6 777.1m-1.6 0a1.6 1.6 0 1 0 3.2 0a1.6 1.6 0 1 0 -3.2 0M129 812.3m-1.6 0a1.6 1.6 0 1 0 3.2 0a1.6 1.6 0 1 0 -3.2 0M227.4 785.9m-1.6 0a1.6 1.6 0 1 0 3.2 0a1.6 1.6 0 1 0 -3.2 0M181.6 802.2m-1.6 0a1.6 1.6 0 1 0 3.2 0a1.6 1.6 0 1 0 -3.2 0M108.5 850.2m-1.6 0a1.6 1.6 0 1 0 3.2 0a1.6 1.6 0 1 0 -3.2 0M100.6 843.3m-1.6 0a1.6 1.6 0 1 0 3.2 0a1.6 1.6 0 1 0 -3.2 0M164.4 819.9m-1.6 0a1.6 1.6 0 1 0 3.2 0a1.6 1.6 0 1 0 -3.2 0M117.6 837.5m-1.6 0a1.6 1.6 0 1 0 3.2 0a1.6 1.6 0 1 0 -3.2 0M165.6 790.1m-1.6 0a1.6 1.6 0 1 0 3.2 0a1.6 1.6 0 1 0 -3.2 0M196.4 783.6m-1.6 0a1.6 1.6 0 1 0 3.2 0a1.6 1.6 0 1 0 -3.2 0M84.7 836.8m-1.6 0a1.6 1.6 0 1 0 3.2 0a1.6 1.6 0 1 0 -3.2 0M217.9 798m-1.6 0a1.6 1.6 0 1 0 3.2 0a1.6 1.6 0 1 0 -3.2 0M166.7 826.1m-1.6 0a1.6 1.6 0 1 0 3.2 0a1.6 1.6 0 1 0 -3.2 0M144.6 835.6m-1.6 0a1.6 1.6 0 1 0 3.2 0a1.6 1.6 0 1 0 -3.2 0M182.4 771.6m-1.6 0a1.6 1.6 0 1 0 3.2 0a1.6 1.6 0 1 0 -3.2 0M127.6 842.6m-1.6 0a1.6 1.6 0 1 0 3.2 0a1.6 1.6 0 1 0 -3.2 0M169.8 798.4m-1.6 0a1.6 1.6 0 1 0 3.2 0a1.6 1.6 0 1 0 -3.2 0M100.9 827.6m-1.6 0a1.6 1.6 0 1 0 3.2 0a1.6 1.6 0 1 0 -3.2 0M167.6 821m-1.6 0a1.6 1.6 0 1 0 3.2 0a1.6 1.6 0 1 0 -3.2 0M75.2 852.5m-1.6 0a1.6 1.6 0 1 0 3.2 0a1.6 1.6 0 1 0 -3.2 0M74.7 857.9m-1.6 0a1.6 1.6 0 1 0 3.2 0a1.6 1.6 0 1 0 -3.2 0M204.8 761.8m-1.6 0a1.6 1.6 0 1 0 3.2 0a1.6 1.6 0 1 0 -3.2 0M192.6 805.1m-1.6 0a1.6 1.6 0 1 0 3.2 0a1.6 1.6 0 1 0 -3.2 0M176.8 811.1m-1.6 0a1.6 1.6 0 1 0 3.2 0a1.6 1.6 0 1 0 -3.2 0M104 823.7m-1.6 0a1.6 1.6 0 1 0 3.2 0a1.6 1.6 0 1 0 -3.2 0M77.3 852.4m-1.6 0a1.6 1.6 0 1 0 3.2 0a1.6 1.6 0 1 0 -3.2 0M182.5 801.3m-1.6 0a1.6 1.6 0 1 0 3.2 0a1.6 1.6 0 1 0 -3.2 0M202.9 787.1m-1.6 0a1.6 1.6 0 1 0 3.2 0a1.6 1.6 0 1 0 -3.2 0M99.3 825.7m-1.6 0a1.6 1.6 0 1 0 3.2 0a1.6 1.6 0 1 0 -3.2 0M82.5 853.7m-1.6 0a1.6 1.6 0 1 0 3.2 0a1.6 1.6 0 1 0 -3.2 0M169.7 809.9m-1.6 0a1.6 1.6 0 1 0 3.2 0a1.6 1.6 0 1 0 -3.2 0M164.6 818.2m-1.6 0a1.6 1.6 0 1 0 3.2 0a1.6 1.6 0 1 0 -3.2 0M191.9 809.6m-1.6 0a1.6 1.6 0 1 0 3.2 0a1.6 1.6 0 1 0 -3.2 0M141.9 831.8m-1.6 0a1.6 1.6 0 1 0 3.2 0a1.6 1.6 0 1 0 -3.2 0M179.3 799.5m-1.6 0a1.6 1.6 0 1 0 3.2 0a1.6 1.6 0 1 0 -3.2 0M211.8 791.2m-1.6 0a1.6 1.6 0 1 0 3.2 0a1.6 1.6 0 1 0 -3.2 0M157.3 820.5m-1.6 0a1.6 1.6 0 1 0 3.2 0a1.6 1.6 0 1 0 -3.2 0M174.2 798.8m-1.6 0a1.6 1.6 0 1 0 3.2 0a1.6 1.6 0 1 0 -3.2 0M199.9 784.4m-1.6 0a1.6 1.6 0 1 0 3.2 0a1.6 1.6 0 1 0 -3.2 0M187.1 792.5m-1.6 0a1.6 1.6 0 1 0 3.2 0a1.6 1.6 0 1 0 -3.2 0M160.2 792.2m-1.6 0a1.6 1.6 0 1 0 3.2 0a1.6 1.6 0 1 0 -3.2 0M116 846.3m-1.6 0a1.6 1.6 0 1 0 3.2 0a1.6 1.6 0 1 0 -3.2 0M224.7 781.1m-1.6 0a1.6 1.6 0 1 0 3.2 0a1.6 1.6 0 1 0 -3.2 0M215.6 766.6m-1.6 0a1.6 1.6 0 1 0 3.2 0a1.6 1.6 0 1 0 -3.2 0M142.9 825.4m-1.6 0a1.6 1.6 0 1 0 3.2 0a1.6 1.6 0 1 0 -3.2 0M214.3 786.4m-1.6 0a1.6 1.6 0 1 0 3.2 0a1.6 1.6 0 1 0 -3.2 0M123.5 813.2m-1.6 0a1.6 1.6 0 1 0 3.2 0a1.6 1.6 0 1 0 -3.2 0M169.7 797.4m-1.6 0a1.6 1.6 0 1 0 3.2 0a1.6 1.6 0 1 0 -3.2 0M162.4 817m-1.6 0a1.6 1.6 0 1 0 3.2 0a1.6 1.6 0 1 0 -3.2 0M194.9 780.2m-1.6 0a1.6 1.6 0 1 0 3.2 0a1.6 1.6 0 1 0 -3.2 0M219.2 759.3m-1.6 0a1.6 1.6 0 1 0 3.2 0a1.6 1.6 0 1 0 -3.2 0M191.9 796m-1.6 0a1.6 1.6 0 1 0 3.2 0a1.6 1.6 0 1 0 -3.2 0M200.8 773.7m-1.6 0a1.6 1.6 0 1 0 3.2 0a1.6 1.6 0 1 0 -3.2 0M228.8 770.7m-1.6 0a1.6 1.6 0 1 0 3.2 0a1.6 1.6 0 1 0 -3.2 0M124.1 833.9m-1.6 0a1.6 1.6 0 1 0 3.2 0a1.6 1.6 0 1 0 -3.2 0M136.3 833.8m-1.6 0a1.6 1.6 0 1 0 3.2 0a1.6 1.6 0 1 0 -3.2 0M194.7 766.8m-1.6 0a1.6 1.6 0 1 0 3.2 0a1.6 1.6 0 1 0 -3.2 0M185.1 812.7m-1.6 0a1.6 1.6 0 1 0 3.2 0a1.6 1.6 0 1 0 -3.2 0M215.4 791.7m-1.6 0a1.6 1.6 0 1 0 3.2 0a1.6 1.6 0 1 0 -3.2 0M192.2 777.4m-1.6 0a1.6 1.6 0 1 0 3.2 0a1.6 1.6 0 1 0 -3.2 0M128.5 819.4m-1.6 0a1.6 1.6 0 1 0 3.2 0a1.6 1.6 0 1 0 -3.2 0M122.8 777.1m-1.6 0a1.6 1.6 0 1 0 3.2 0a1.6 1.6 0 1 0 -3.2 0M200.5 793.4m-1.6 0a1.6 1.6 0 1 0 3.2 0a1.6 1.6 0 1 0 -3.2 0M161.9 805.7m-1.6 0a1.6 1.6 0 1 0 3.2 0a1.6 1.6 0 1 0 -3.2 0M202.4 804.2m-1.6 0a1.6 1.6 0 1 0 3.2 0a1.6 1.6 0 1 0 -3.2 0M224.8 768.7m-1.6 0a1.6 1.6 0 1 0 3.2 0a1.6 1.6 0 1 0 -3.2 0M147.3 809.7m-1.6 0a1.6 1.6 0 1 0 3.2 0a1.6 1.6 0 1 0 -3.2 0M197.9 793.4m-1.6 0a1.6 1.6 0 1 0 3.2 0a1.6 1.6 0 1 0 -3.2 0M159.1 814.1m-1.6 0a1.6 1.6 0 1 0 3.2 0a1.6 1.6 0 1 0 -3.2 0M188.1 809.3m-1.6 0a1.6 1.6 0 1 0 3.2 0a1.6 1.6 0 1 0 -3.2 0M215.9 785.7m-1.6 0a1.6 1.6 0 1 0 3.2 0a1.6 1.6 0 1 0 -3.2 0M159.9 799.8m-1.6 0a1.6 1.6 0 1 0 3.2 0a1.6 1.6 0 1 0 -3.2 0M124.9 836.5m-1.6 0a1.6 1.6 0 1 0 3.2 0a1.6 1.6 0 1 0 -3.2 0M171.7 785.8m-1.6 0a1.6 1.6 0 1 0 3.2 0a1.6 1.6 0 1 0 -3.2 0M164 790.9m-1.6 0a1.6 1.6 0 1 0 3.2 0a1.6 1.6 0 1 0 -3.2 0M186.4 810.1m-1.6 0a1.6 1.6 0 1 0 3.2 0a1.6 1.6 0 1 0 -3.2 0M119.2 834m-1.6 0a1.6 1.6 0 1 0 3.2 0a1.6 1.6 0 1 0 -3.2 0M223.5 788.9m-1.6 0a1.6 1.6 0 1 0 3.2 0a1.6 1.6 0 1 0 -3.2 0M188.5 808.1m-1.6 0a1.6 1.6 0 1 0 3.2 0a1.6 1.6 0 1 0 -3.2 0M144.6 830.7m-1.6 0a1.6 1.6 0 1 0 3.2 0a1.6 1.6 0 1 0 -3.2 0M154.6 786.9m-1.6 0a1.6 1.6 0 1 0 3.2 0a1.6 1.6 0 1 0 -3.2 0M94.1 848.2m-1.6 0a1.6 1.6 0 1 0 3.2 0a1.6 1.6 0 1 0 -3.2 0M146.4 797.7m-1.6 0a1.6 1.6 0 1 0 3.2 0a1.6 1.6 0 1 0 -3.2 0M182 787m-1.6 0a1.6 1.6 0 1 0 3.2 0a1.6 1.6 0 1 0 -3.2 0M97.2 830.5m-1.6 0a1.6 1.6 0 1 0 3.2 0a1.6 1.6 0 1 0 -3.2 0M136.1 784.1m-1.6 0a1.6 1.6 0 1 0 3.2 0a1.6 1.6 0 1 0 -3.2 0M169.9 799.3m-1.6 0a1.6 1.6 0 1 0 3.2 0a1.6 1.6 0 1 0 -3.2 0M129.7 808.1m-1.6 0a1.6 1.6 0 1 0 3.2 0a1.6 1.6 0 1 0 -3.2 0M179.2 803m-1.6 0a1.6 1.6 0 1 0 3.2 0a1.6 1.6 0 1 0 -3.2 0M149.4 816.4m-1.6 0a1.6 1.6 0 1 0 3.2 0a1.6 1.6 0 1 0 -3.2 0M150.8 824m-1.6 0a1.6 1.6 0 1 0 3.2 0a1.6 1.6 0 1 0 -3.2 0M151.3 808m-1.6 0a1.6 1.6 0 1 0 3.2 0a1.6 1.6 0 1 0 -3.2 0M169.4 816.4m-1.6 0a1.6 1.6 0 1 0 3.2 0a1.6 1.6 0 1 0 -3.2 0M178.9 814.7m-1.6 0a1.6 1.6 0 1 0 3.2 0a1.6 1.6 0 1 0 -3.2 0M75.2 848.6m-1.6 0a1.6 1.6 0 1 0 3.2 0a1.6 1.6 0 1 0 -3.2 0M112.3 830.2m-1.6 0a1.6 1.6 0 1 0 3.2 0a1.6 1.6 0 1 0 -3.2 0M164.6 806.6m-1.6 0a1.6 1.6 0 1 0 3.2 0a1.6 1.6 0 1 0 -3.2 0M141 835.4m-1.6 0a1.6 1.6 0 1 0 3.2 0a1.6 1.6 0 1 0 -3.2 0M134.7 825.8m-1.6 0a1.6 1.6 0 1 0 3.2 0a1.6 1.6 0 1 0 -3.2 0M95.8 833m-1.6 0a1.6 1.6 0 1 0 3.2 0a1.6 1.6 0 1 0 -3.2 0M121.6 821.1m-1.6 0a1.6 1.6 0 1 0 3.2 0a1.6 1.6 0 1 0 -3.2 0M186.7 804.1m-1.6 0a1.6 1.6 0 1 0 3.2 0a1.6 1.6 0 1 0 -3.2 0M114 861.3m-1.6 0a1.6 1.6 0 1 0 3.2 0a1.6 1.6 0 1 0 -3.2 0M165.6 821.7m-1.6 0a1.6 1.6 0 1 0 3.2 0a1.6 1.6 0 1 0 -3.2 0M127.3 819.7m-1.6 0a1.6 1.6 0 1 0 3.2 0a1.6 1.6 0 1 0 -3.2 0M126.3 826.9m-1.6 0a1.6 1.6 0 1 0 3.2 0a1.6 1.6 0 1 0 -3.2 0M168.7 815.7m-1.6 0a1.6 1.6 0 1 0 3.2 0a1.6 1.6 0 1 0 -3.2 0M155.6 797.2m-1.6 0a1.6 1.6 0 1 0 3.2 0a1.6 1.6 0 1 0 -3.2 0M204.5 788.1m-1.6 0a1.6 1.6 0 1 0 3.2 0a1.6 1.6 0 1 0 -3.2 0M166.8 797.5m-1.6 0a1.6 1.6 0 1 0 3.2 0a1.6 1.6 0 1 0 -3.2 0M222.7 770.3m-1.6 0a1.6 1.6 0 1 0 3.2 0a1.6 1.6 0 1 0 -3.2 0M218.2 765.9m-1.6 0a1.6 1.6 0 1 0 3.2 0a1.6 1.6 0 1 0 -3.2 0M178 813.2m-1.6 0a1.6 1.6 0 1 0 3.2 0a1.6 1.6 0 1 0 -3.2 0M199.9 779m-1.6 0a1.6 1.6 0 1 0 3.2 0a1.6 1.6 0 1 0 -3.2 0M153.6 822m-1.6 0a1.6 1.6 0 1 0 3.2 0a1.6 1.6 0 1 0 -3.2 0M126.5 832.9m-1.6 0a1.6 1.6 0 1 0 3.2 0a1.6 1.6 0 1 0 -3.2 0M167.1 782.5m-1.6 0a1.6 1.6 0 1 0 3.2 0a1.6 1.6 0 1 0 -3.2 0M153.6 821.2m-1.6 0a1.6 1.6 0 1 0 3.2 0a1.6 1.6 0 1 0 -3.2 0M118.7 837.7m-1.6 0a1.6 1.6 0 1 0 3.2 0a1.6 1.6 0 1 0 -3.2 0M114.7 830.7m-1.6 0a1.6 1.6 0 1 0 3.2 0a1.6 1.6 0 1 0 -3.2 0M126.6 839.7m-1.6 0a1.6 1.6 0 1 0 3.2 0a1.6 1.6 0 1 0 -3.2 0M179.6 779.3m-1.6 0a1.6 1.6 0 1 0 3.2 0a1.6 1.6 0 1 0 -3.2 0M205.3 776.3m-1.6 0a1.6 1.6 0 1 0 3.2 0a1.6 1.6 0 1 0 -3.2 0M143.4 795.9m-1.6 0a1.6 1.6 0 1 0 3.2 0a1.6 1.6 0 1 0 -3.2 0M225.2 778.4m-1.6 0a1.6 1.6 0 1 0 3.2 0a1.6 1.6 0 1 0 -3.2 0M193.3 797.7m-1.6 0a1.6 1.6 0 1 0 3.2 0a1.6 1.6 0 1 0 -3.2 0M142.8 809.1m-1.6 0a1.6 1.6 0 1 0 3.2 0a1.6 1.6 0 1 0 -3.2 0M178.1 811.4m-1.6 0a1.6 1.6 0 1 0 3.2 0a1.6 1.6 0 1 0 -3.2 0M143.1 833.7m-1.6 0a1.6 1.6 0 1 0 3.2 0a1.6 1.6 0 1 0 -3.2 0M81.5 850.2m-1.6 0a1.6 1.6 0 1 0 3.2 0a1.6 1.6 0 1 0 -3.2 0M96.6 850m-1.6 0a1.6 1.6 0 1 0 3.2 0a1.6 1.6 0 1 0 -3.2 0M155.5 827.9m-1.6 0a1.6 1.6 0 1 0 3.2 0a1.6 1.6 0 1 0 -3.2 0M147 817.1m-1.6 0a1.6 1.6 0 1 0 3.2 0a1.6 1.6 0 1 0 -3.2 0M119.8 817.8m-1.6 0a1.6 1.6 0 1 0 3.2 0a1.6 1.6 0 1 0 -3.2 0M159.7 818.4m-1.6 0a1.6 1.6 0 1 0 3.2 0a1.6 1.6 0 1 0 -3.2 0M93.5 835.2m-1.6 0a1.6 1.6 0 1 0 3.2 0a1.6 1.6 0 1 0 -3.2 0M123.1 824.1m-1.6 0a1.6 1.6 0 1 0 3.2 0a1.6 1.6 0 1 0 -3.2 0M187.6 793.5m-1.6 0a1.6 1.6 0 1 0 3.2 0a1.6 1.6 0 1 0 -3.2 0M75.1 852.5m-1.6 0a1.6 1.6 0 1 0 3.2 0a1.6 1.6 0 1 0 -3.2 0M194.2 806.5m-1.6 0a1.6 1.6 0 1 0 3.2 0a1.6 1.6 0 1 0 -3.2 0M215.2 777m-1.6 0a1.6 1.6 0 1 0 3.2 0a1.6 1.6 0 1 0 -3.2 0M163.7 791.8m-1.6 0a1.6 1.6 0 1 0 3.2 0a1.6 1.6 0 1 0 -3.2 0M173.6 820.1m-1.6 0a1.6 1.6 0 1 0 3.2 0a1.6 1.6 0 1 0 -3.2 0M98.5 826.7m-1.6 0a1.6 1.6 0 1 0 3.2 0a1.6 1.6 0 1 0 -3.2 0M150.2 792.7m-1.6 0a1.6 1.6 0 1 0 3.2 0a1.6 1.6 0 1 0 -3.2 0M199.1 805.3m-1.6 0a1.6 1.6 0 1 0 3.2 0a1.6 1.6 0 1 0 -3.2 0M179.3 791.1m-1.6 0a1.6 1.6 0 1 0 3.2 0a1.6 1.6 0 1 0 -3.2 0M177.8 778.9m-1.6 0a1.6 1.6 0 1 0 3.2 0a1.6 1.6 0 1 0 -3.2 0M150 830.9m-1.6 0a1.6 1.6 0 1 0 3.2 0a1.6 1.6 0 1 0 -3.2 0M154.4 799.5m-1.6 0a1.6 1.6 0 1 0 3.2 0a1.6 1.6 0 1 0 -3.2 0M84.4 842.9m-1.6 0a1.6 1.6 0 1 0 3.2 0a1.6 1.6 0 1 0 -3.2 0M202.8 773m-1.6 0a1.6 1.6 0 1 0 3.2 0a1.6 1.6 0 1 0 -3.2 0M191.8 790.7m-1.6 0a1.6 1.6 0 1 0 3.2 0a1.6 1.6 0 1 0 -3.2 0M167.4 813.9m-1.6 0a1.6 1.6 0 1 0 3.2 0a1.6 1.6 0 1 0 -3.2 0M141.4 831.1m-1.6 0a1.6 1.6 0 1 0 3.2 0a1.6 1.6 0 1 0 -3.2 0M148.9 827.7m-1.6 0a1.6 1.6 0 1 0 3.2 0a1.6 1.6 0 1 0 -3.2 0M191.3 771.3m-1.6 0a1.6 1.6 0 1 0 3.2 0a1.6 1.6 0 1 0 -3.2 0M105.8 826.1m-1.6 0a1.6 1.6 0 1 0 3.2 0a1.6 1.6 0 1 0 -3.2 0M192.6 799m-1.6 0a1.6 1.6 0 1 0 3.2 0a1.6 1.6 0 1 0 -3.2 0M90.4 838.7m-1.6 0a1.6 1.6 0 1 0 3.2 0a1.6 1.6 0 1 0 -3.2 0M209.9 783.9m-1.6 0a1.6 1.6 0 1 0 3.2 0a1.6 1.6 0 1 0 -3.2 0M198.6 796.7m-1.6 0a1.6 1.6 0 1 0 3.2 0a1.6 1.6 0 1 0 -3.2 0M193.4 796.1m-1.6 0a1.6 1.6 0 1 0 3.2 0a1.6 1.6 0 1 0 -3.2 0M171.5 779.9m-1.6 0a1.6 1.6 0 1 0 3.2 0a1.6 1.6 0 1 0 -3.2 0M150.9 834.5m-1.6 0a1.6 1.6 0 1 0 3.2 0a1.6 1.6 0 1 0 -3.2 0M135.8 821.7m-1.6 0a1.6 1.6 0 1 0 3.2 0a1.6 1.6 0 1 0 -3.2 0M137.4 818.8m-1.6 0a1.6 1.6 0 1 0 3.2 0a1.6 1.6 0 1 0 -3.2 0M207.4 779.5m-1.6 0a1.6 1.6 0 1 0 3.2 0a1.6 1.6 0 1 0 -3.2 0M198.3 786.1m-1.6 0a1.6 1.6 0 1 0 3.2 0a1.6 1.6 0 1 0 -3.2 0M122.6 804.5m-1.6 0a1.6 1.6 0 1 0 3.2 0a1.6 1.6 0 1 0 -3.2 0M106.3 848.3m-1.6 0a1.6 1.6 0 1 0 3.2 0a1.6 1.6 0 1 0 -3.2 0M187.7 800.3m-1.6 0a1.6 1.6 0 1 0 3.2 0a1.6 1.6 0 1 0 -3.2 0M177.8 811.8m-1.6 0a1.6 1.6 0 1 0 3.2 0a1.6 1.6 0 1 0 -3.2 0M197.3 810.4m-1.6 0a1.6 1.6 0 1 0 3.2 0a1.6 1.6 0 1 0 -3.2 0M226.4 772.4m-1.6 0a1.6 1.6 0 1 0 3.2 0a1.6 1.6 0 1 0 -3.2 0M177.3 785.2m-1.6 0a1.6 1.6 0 1 0 3.2 0a1.6 1.6 0 1 0 -3.2 0M106 836.3m-1.6 0a1.6 1.6 0 1 0 3.2 0a1.6 1.6 0 1 0 -3.2 0M134.7 809.4m-1.6 0a1.6 1.6 0 1 0 3.2 0a1.6 1.6 0 1 0 -3.2 0M124.4 814.7m-1.6 0a1.6 1.6 0 1 0 3.2 0a1.6 1.6 0 1 0 -3.2 0M190.5 788m-1.6 0a1.6 1.6 0 1 0 3.2 0a1.6 1.6 0 1 0 -3.2 0M102.8 841.5m-1.6 0a1.6 1.6 0 1 0 3.2 0a1.6 1.6 0 1 0 -3.2 0M209.4 798.8m-1.6 0a1.6 1.6 0 1 0 3.2 0a1.6 1.6 0 1 0 -3.2 0M159.6 830.6m-1.6 0a1.6 1.6 0 1 0 3.2 0a1.6 1.6 0 1 0 -3.2 0M147.5 809.7m-1.6 0a1.6 1.6 0 1 0 3.2 0a1.6 1.6 0 1 0 -3.2 0M183.7 797.9m-1.6 0a1.6 1.6 0 1 0 3.2 0a1.6 1.6 0 1 0 -3.2 0M226.9 759m-1.6 0a1.6 1.6 0 1 0 3.2 0a1.6 1.6 0 1 0 -3.2 0M228.9 763.9m-1.6 0a1.6 1.6 0 1 0 3.2 0a1.6 1.6 0 1 0 -3.2 0M214.8 782.9m-1.6 0a1.6 1.6 0 1 0 3.2 0a1.6 1.6 0 1 0 -3.2 0M127.4 807.9m-1.6 0a1.6 1.6 0 1 0 3.2 0a1.6 1.6 0 1 0 -3.2 0M114.6 848m-1.6 0a1.6 1.6 0 1 0 3.2 0a1.6 1.6 0 1 0 -3.2 0M163.9 782.1m-1.6 0a1.6 1.6 0 1 0 3.2 0a1.6 1.6 0 1 0 -3.2 0M194.7 804.3m-1.6 0a1.6 1.6 0 1 0 3.2 0a1.6 1.6 0 1 0 -3.2 0M216.7 777.9m-1.6 0a1.6 1.6 0 1 0 3.2 0a1.6 1.6 0 1 0 -3.2 0M143.8 798.6m-1.6 0a1.6 1.6 0 1 0 3.2 0a1.6 1.6 0 1 0 -3.2 0M183.3 800.8m-1.6 0a1.6 1.6 0 1 0 3.2 0a1.6 1.6 0 1 0 -3.2 0M187.1 769.7m-1.6 0a1.6 1.6 0 1 0 3.2 0a1.6 1.6 0 1 0 -3.2 0M159.8 783.5m-1.6 0a1.6 1.6 0 1 0 3.2 0a1.6 1.6 0 1 0 -3.2 0M125.4 836.3m-1.6 0a1.6 1.6 0 1 0 3.2 0a1.6 1.6 0 1 0 -3.2 0M87.7 852.5m-1.6 0a1.6 1.6 0 1 0 3.2 0a1.6 1.6 0 1 0 -3.2 0M150.8 830.2m-1.6 0a1.6 1.6 0 1 0 3.2 0a1.6 1.6 0 1 0 -3.2 0M176.5 813.5m-1.6 0a1.6 1.6 0 1 0 3.2 0a1.6 1.6 0 1 0 -3.2 0M129 821.1m-1.6 0a1.6 1.6 0 1 0 3.2 0a1.6 1.6 0 1 0 -3.2 0M165.6 806.9m-1.6 0a1.6 1.6 0 1 0 3.2 0a1.6 1.6 0 1 0 -3.2 0M181.2 786m-1.6 0a1.6 1.6 0 1 0 3.2 0a1.6 1.6 0 1 0 -3.2 0M126.7 828.1m-1.6 0a1.6 1.6 0 1 0 3.2 0a1.6 1.6 0 1 0 -3.2 0M193.4 774.8m-1.6 0a1.6 1.6 0 1 0 3.2 0a1.6 1.6 0 1 0 -3.2 0M71.1 844.4m-1.6 0a1.6 1.6 0 1 0 3.2 0a1.6 1.6 0 1 0 -3.2 0M99.9 819.1m-1.6 0a1.6 1.6 0 1 0 3.2 0a1.6 1.6 0 1 0 -3.2 0M194.2 770.8m-1.6 0a1.6 1.6 0 1 0 3.2 0a1.6 1.6 0 1 0 -3.2 0M200.7 772.8m-1.6 0a1.6 1.6 0 1 0 3.2 0a1.6 1.6 0 1 0 -3.2 0M132.8 812.7m-1.6 0a1.6 1.6 0 1 0 3.2 0a1.6 1.6 0 1 0 -3.2 0M222.2 783.2m-1.6 0a1.6 1.6 0 1 0 3.2 0a1.6 1.6 0 1 0 -3.2 0M212.7 789.2m-1.6 0a1.6 1.6 0 1 0 3.2 0a1.6 1.6 0 1 0 -3.2 0M199.6 807.2m-1.6 0a1.6 1.6 0 1 0 3.2 0a1.6 1.6 0 1 0 -3.2 0M100 834.4m-1.6 0a1.6 1.6 0 1 0 3.2 0a1.6 1.6 0 1 0 -3.2 0M160.8 781.6m-1.6 0a1.6 1.6 0 1 0 3.2 0a1.6 1.6 0 1 0 -3.2 0M136.7 813.2m-1.6 0a1.6 1.6 0 1 0 3.2 0a1.6 1.6 0 1 0 -3.2 0M212.6 780.4m-1.6 0a1.6 1.6 0 1 0 3.2 0a1.6 1.6 0 1 0 -3.2 0M168.5 779m-1.6 0a1.6 1.6 0 1 0 3.2 0a1.6 1.6 0 1 0 -3.2 0M205.7 780.8m-1.6 0a1.6 1.6 0 1 0 3.2 0a1.6 1.6 0 1 0 -3.2 0M92.7 851.6m-1.6 0a1.6 1.6 0 1 0 3.2 0a1.6 1.6 0 1 0 -3.2 0M168.1 792.6m-1.6 0a1.6 1.6 0 1 0 3.2 0a1.6 1.6 0 1 0 -3.2 0M93.3 844.5m-1.6 0a1.6 1.6 0 1 0 3.2 0a1.6 1.6 0 1 0 -3.2 0M155.7 792.2m-1.6 0a1.6 1.6 0 1 0 3.2 0a1.6 1.6 0 1 0 -3.2 0M148.6 798.4m-1.6 0a1.6 1.6 0 1 0 3.2 0a1.6 1.6 0 1 0 -3.2 0M132 846.9m-1.6 0a1.6 1.6 0 1 0 3.2 0a1.6 1.6 0 1 0 -3.2 0M83.7 849.6m-1.6 0a1.6 1.6 0 1 0 3.2 0a1.6 1.6 0 1 0 -3.2 0M195.4 771.4m-1.6 0a1.6 1.6 0 1 0 3.2 0a1.6 1.6 0 1 0 -3.2 0M84 834.6m-1.6 0a1.6 1.6 0 1 0 3.2 0a1.6 1.6 0 1 0 -3.2 0M186.7 791.8m-1.6 0a1.6 1.6 0 1 0 3.2 0a1.6 1.6 0 1 0 -3.2 0M126.3 807.2m-1.6 0a1.6 1.6 0 1 0 3.2 0a1.6 1.6 0 1 0 -3.2 0M178.4 791.2m-1.6 0a1.6 1.6 0 1 0 3.2 0a1.6 1.6 0 1 0 -3.2 0M141 811.2m-1.6 0a1.6 1.6 0 1 0 3.2 0a1.6 1.6 0 1 0 -3.2 0M106.5 849.6m-1.6 0a1.6 1.6 0 1 0 3.2 0a1.6 1.6 0 1 0 -3.2 0M187.4 810m-1.6 0a1.6 1.6 0 1 0 3.2 0a1.6 1.6 0 1 0 -3.2 0M201.9 758.4m-1.6 0a1.6 1.6 0 1 0 3.2 0a1.6 1.6 0 1 0 -3.2 0M226.6 787.9m-1.6 0a1.6 1.6 0 1 0 3.2 0a1.6 1.6 0 1 0 -3.2 0M210.3 789m-1.6 0a1.6 1.6 0 1 0 3.2 0a1.6 1.6 0 1 0 -3.2 0M108.3 824m-1.6 0a1.6 1.6 0 1 0 3.2 0a1.6 1.6 0 1 0 -3.2 0M119.8 829.5m-1.6 0a1.6 1.6 0 1 0 3.2 0a1.6 1.6 0 1 0 -3.2 0M224.1 772.8m-1.6 0a1.6 1.6 0 1 0 3.2 0a1.6 1.6 0 1 0 -3.2 0M180.6 814.8m-1.6 0a1.6 1.6 0 1 0 3.2 0a1.6 1.6 0 1 0 -3.2 0M210.6 766.7m-1.6 0a1.6 1.6 0 1 0 3.2 0a1.6 1.6 0 1 0 -3.2 0M171.9 800.7m-1.6 0a1.6 1.6 0 1 0 3.2 0a1.6 1.6 0 1 0 -3.2 0M210.9 760.5m-1.6 0a1.6 1.6 0 1 0 3.2 0a1.6 1.6 0 1 0 -3.2 0M99.3 831.8m-1.6 0a1.6 1.6 0 1 0 3.2 0a1.6 1.6 0 1 0 -3.2 0M174.7 775.2m-1.6 0a1.6 1.6 0 1 0 3.2 0a1.6 1.6 0 1 0 -3.2 0M207.5 777.8m-1.6 0a1.6 1.6 0 1 0 3.2 0a1.6 1.6 0 1 0 -3.2 0M144.1 828.4m-1.6 0a1.6 1.6 0 1 0 3.2 0a1.6 1.6 0 1 0 -3.2 0M151.9 834.4m-1.6 0a1.6 1.6 0 1 0 3.2 0a1.6 1.6 0 1 0 -3.2 0M176.6 797.6m-1.6 0a1.6 1.6 0 1 0 3.2 0a1.6 1.6 0 1 0 -3.2 0M133 836.9m-1.6 0a1.6 1.6 0 1 0 3.2 0a1.6 1.6 0 1 0 -3.2 0M102.7 848.4m-1.6 0a1.6 1.6 0 1 0 3.2 0a1.6 1.6 0 1 0 -3.2 0M216.4 773.5m-1.6 0a1.6 1.6 0 1 0 3.2 0a1.6 1.6 0 1 0 -3.2 0M131.1 814.3m-1.6 0a1.6 1.6 0 1 0 3.2 0a1.6 1.6 0 1 0 -3.2 0M175.8 810.6m-1.6 0a1.6 1.6 0 1 0 3.2 0a1.6 1.6 0 1 0 -3.2 0M160.8 819.3m-1.6 0a1.6 1.6 0 1 0 3.2 0a1.6 1.6 0 1 0 -3.2 0M185.1 796.3m-1.6 0a1.6 1.6 0 1 0 3.2 0a1.6 1.6 0 1 0 -3.2 0M196.2 775.8m-1.6 0a1.6 1.6 0 1 0 3.2 0a1.6 1.6 0 1 0 -3.2 0M112.8 818.3m-1.6 0a1.6 1.6 0 1 0 3.2 0a1.6 1.6 0 1 0 -3.2 0M226.3 770.2m-1.6 0a1.6 1.6 0 1 0 3.2 0a1.6 1.6 0 1 0 -3.2 0M122.3 832.2m-1.6 0a1.6 1.6 0 1 0 3.2 0a1.6 1.6 0 1 0 -3.2 0M163.7 805.4m-1.6 0a1.6 1.6 0 1 0 3.2 0a1.6 1.6 0 1 0 -3.2 0M157.9 815.3m-1.6 0a1.6 1.6 0 1 0 3.2 0a1.6 1.6 0 1 0 -3.2 0M140.8 793.5m-1.6 0a1.6 1.6 0 1 0 3.2 0a1.6 1.6 0 1 0 -3.2 0M222.5 766.1m-1.6 0a1.6 1.6 0 1 0 3.2 0a1.6 1.6 0 1 0 -3.2 0M226.6 771.5m-1.6 0a1.6 1.6 0 1 0 3.2 0a1.6 1.6 0 1 0 -3.2 0M207.4 763.4m-1.6 0a1.6 1.6 0 1 0 3.2 0a1.6 1.6 0 1 0 -3.2 0M171.7 777.4m-1.6 0a1.6 1.6 0 1 0 3.2 0a1.6 1.6 0 1 0 -3.2 0M172.2 808.5m-1.6 0a1.6 1.6 0 1 0 3.2 0a1.6 1.6 0 1 0 -3.2 0M183.5 814.7m-1.6 0a1.6 1.6 0 1 0 3.2 0a1.6 1.6 0 1 0 -3.2 0M120.8 806m-1.6 0a1.6 1.6 0 1 0 3.2 0a1.6 1.6 0 1 0 -3.2 0M91.7 852.1m-1.6 0a1.6 1.6 0 1 0 3.2 0a1.6 1.6 0 1 0 -3.2 0M187.6 784.7m-1.6 0a1.6 1.6 0 1 0 3.2 0a1.6 1.6 0 1 0 -3.2 0M95.7 826m-1.6 0a1.6 1.6 0 1 0 3.2 0a1.6 1.6 0 1 0 -3.2 0M174 788.2m-1.6 0a1.6 1.6 0 1 0 3.2 0a1.6 1.6 0 1 0 -3.2 0M213.7 769.3m-1.6 0a1.6 1.6 0 1 0 3.2 0a1.6 1.6 0 1 0 -3.2 0M120.3 825.4m-1.6 0a1.6 1.6 0 1 0 3.2 0a1.6 1.6 0 1 0 -3.2 0M140.9 795.7m-1.6 0a1.6 1.6 0 1 0 3.2 0a1.6 1.6 0 1 0 -3.2 0M117.9 826.8m-1.6 0a1.6 1.6 0 1 0 3.2 0a1.6 1.6 0 1 0 -3.2 0M150 832.1m-1.6 0a1.6 1.6 0 1 0 3.2 0a1.6 1.6 0 1 0 -3.2 0M84.1 841.3m-1.6 0a1.6 1.6 0 1 0 3.2 0a1.6 1.6 0 1 0 -3.2 0M144.9 827.1m-1.6 0a1.6 1.6 0 1 0 3.2 0a1.6 1.6 0 1 0 -3.2 0M178.2 791m-1.6 0a1.6 1.6 0 1 0 3.2 0a1.6 1.6 0 1 0 -3.2 0M116.6 810.4m-1.6 0a1.6 1.6 0 1 0 3.2 0a1.6 1.6 0 1 0 -3.2 0M208.2 762.7m-1.6 0a1.6 1.6 0 1 0 3.2 0a1.6 1.6 0 1 0 -3.2 0M166.6 809.5m-1.6 0a1.6 1.6 0 1 0 3.2 0a1.6 1.6 0 1 0 -3.2 0M187.1 790.3m-1.6 0a1.6 1.6 0 1 0 3.2 0a1.6 1.6 0 1 0 -3.2 0M129.8 853.4m-1.6 0a1.6 1.6 0 1 0 3.2 0a1.6 1.6 0 1 0 -3.2 0M187.7 801.6m-1.6 0a1.6 1.6 0 1 0 3.2 0a1.6 1.6 0 1 0 -3.2 0M207 805.1m-1.6 0a1.6 1.6 0 1 0 3.2 0a1.6 1.6 0 1 0 -3.2 0M148 803.8m-1.6 0a1.6 1.6 0 1 0 3.2 0a1.6 1.6 0 1 0 -3.2 0M224.7 767.4m-1.6 0a1.6 1.6 0 1 0 3.2 0a1.6 1.6 0 1 0 -3.2 0M97.6 850.5m-1.6 0a1.6 1.6 0 1 0 3.2 0a1.6 1.6 0 1 0 -3.2 0M199.9 805.9m-1.6 0a1.6 1.6 0 1 0 3.2 0a1.6 1.6 0 1 0 -3.2 0M112.2 852.9m-1.6 0a1.6 1.6 0 1 0 3.2 0a1.6 1.6 0 1 0 -3.2 0M123.7 804.9m-1.6 0a1.6 1.6 0 1 0 3.2 0a1.6 1.6 0 1 0 -3.2 0M126.5 831.1m-1.6 0a1.6 1.6 0 1 0 3.2 0a1.6 1.6 0 1 0 -3.2 0M209.8 787.1m-1.6 0a1.6 1.6 0 1 0 3.2 0a1.6 1.6 0 1 0 -3.2 0M155.4 807.7m-1.6 0a1.6 1.6 0 1 0 3.2 0a1.6 1.6 0 1 0 -3.2 0M214.8 773.6m-1.6 0a1.6 1.6 0 1 0 3.2 0a1.6 1.6 0 1 0 -3.2 0M167.9 808.5m-1.6 0a1.6 1.6 0 1 0 3.2 0a1.6 1.6 0 1 0 -3.2 0M206.8 785.6m-1.6 0a1.6 1.6 0 1 0 3.2 0a1.6 1.6 0 1 0 -3.2 0M139.5 816.5m-1.6 0a1.6 1.6 0 1 0 3.2 0a1.6 1.6 0 1 0 -3.2 0M175.5 809.4m-1.6 0a1.6 1.6 0 1 0 3.2 0a1.6 1.6 0 1 0 -3.2 0M211.8 782.2m-1.6 0a1.6 1.6 0 1 0 3.2 0a1.6 1.6 0 1 0 -3.2 0M168.7 783.9m-1.6 0a1.6 1.6 0 1 0 3.2 0a1.6 1.6 0 1 0 -3.2 0M227.1 762.2m-1.6 0a1.6 1.6 0 1 0 3.2 0a1.6 1.6 0 1 0 -3.2 0M102 820.3m-1.6 0a1.6 1.6 0 1 0 3.2 0a1.6 1.6 0 1 0 -3.2 0M220 766.8m-1.6 0a1.6 1.6 0 1 0 3.2 0a1.6 1.6 0 1 0 -3.2 0M181.2 831.5m-1.6 0a1.6 1.6 0 1 0 3.2 0a1.6 1.6 0 1 0 -3.2 0M101.4 827.9m-1.6 0a1.6 1.6 0 1 0 3.2 0a1.6 1.6 0 1 0 -3.2 0M114.8 840.7m-1.6 0a1.6 1.6 0 1 0 3.2 0a1.6 1.6 0 1 0 -3.2 0M103 830.6m-1.6 0a1.6 1.6 0 1 0 3.2 0a1.6 1.6 0 1 0 -3.2 0M186.5 796.8m-1.6 0a1.6 1.6 0 1 0 3.2 0a1.6 1.6 0 1 0 -3.2 0M228.8 781.6m-1.6 0a1.6 1.6 0 1 0 3.2 0a1.6 1.6 0 1 0 -3.2 0M146.6 819.8m-1.6 0a1.6 1.6 0 1 0 3.2 0a1.6 1.6 0 1 0 -3.2 0M117.6 843.1m-1.6 0a1.6 1.6 0 1 0 3.2 0a1.6 1.6 0 1 0 -3.2 0M135.2 801m-1.6 0a1.6 1.6 0 1 0 3.2 0a1.6 1.6 0 1 0 -3.2 0M184.6 770.5m-1.6 0a1.6 1.6 0 1 0 3.2 0a1.6 1.6 0 1 0 -3.2 0M228.3 780.1m-1.6 0a1.6 1.6 0 1 0 3.2 0a1.6 1.6 0 1 0 -3.2 0M102.9 843.9m-1.6 0a1.6 1.6 0 1 0 3.2 0a1.6 1.6 0 1 0 -3.2 0M194 795.4m-1.6 0a1.6 1.6 0 1 0 3.2 0a1.6 1.6 0 1 0 -3.2 0M100.3 825.9m-1.6 0a1.6 1.6 0 1 0 3.2 0a1.6 1.6 0 1 0 -3.2 0M214.4 773.3m-1.6 0a1.6 1.6 0 1 0 3.2 0a1.6 1.6 0 1 0 -3.2 0M219.1 783.9m-1.6 0a1.6 1.6 0 1 0 3.2 0a1.6 1.6 0 1 0 -3.2 0M136.2 805m-1.6 0a1.6 1.6 0 1 0 3.2 0a1.6 1.6 0 1 0 -3.2 0M170.9 819.3m-1.6 0a1.6 1.6 0 1 0 3.2 0a1.6 1.6 0 1 0 -3.2 0M213.7 778.4m-1.6 0a1.6 1.6 0 1 0 3.2 0a1.6 1.6 0 1 0 -3.2 0M161.7 827m-1.6 0a1.6 1.6 0 1 0 3.2 0a1.6 1.6 0 1 0 -3.2 0M194.3 788.8m-1.6 0a1.6 1.6 0 1 0 3.2 0a1.6 1.6 0 1 0 -3.2 0M196 782.9m-1.6 0a1.6 1.6 0 1 0 3.2 0a1.6 1.6 0 1 0 -3.2 0M158.4 802.7m-1.6 0a1.6 1.6 0 1 0 3.2 0a1.6 1.6 0 1 0 -3.2 0M75.6 842.6m-1.6 0a1.6 1.6 0 1 0 3.2 0a1.6 1.6 0 1 0 -3.2 0M139.4 816.6m-1.6 0a1.6 1.6 0 1 0 3.2 0a1.6 1.6 0 1 0 -3.2 0M103.4 835.4m-1.6 0a1.6 1.6 0 1 0 3.2 0a1.6 1.6 0 1 0 -3.2 0M105.6 822.3m-1.6 0a1.6 1.6 0 1 0 3.2 0a1.6 1.6 0 1 0 -3.2 0M147.1 815.9m-1.6 0a1.6 1.6 0 1 0 3.2 0a1.6 1.6 0 1 0 -3.2 0M181.3 753.9m-1.6 0a1.6 1.6 0 1 0 3.2 0a1.6 1.6 0 1 0 -3.2 0M197.4 793.5m-1.6 0a1.6 1.6 0 1 0 3.2 0a1.6 1.6 0 1 0 -3.2 0M226.2 789.4m-1.6 0a1.6 1.6 0 1 0 3.2 0a1.6 1.6 0 1 0 -3.2 0M182 800.2m-1.6 0a1.6 1.6 0 1 0 3.2 0a1.6 1.6 0 1 0 -3.2 0M110.3 839.3m-1.6 0a1.6 1.6 0 1 0 3.2 0a1.6 1.6 0 1 0 -3.2 0M148.1 811.3m-1.6 0a1.6 1.6 0 1 0 3.2 0a1.6 1.6 0 1 0 -3.2 0M133 818.9m-1.6 0a1.6 1.6 0 1 0 3.2 0a1.6 1.6 0 1 0 -3.2 0M148.1 800.4m-1.6 0a1.6 1.6 0 1 0 3.2 0a1.6 1.6 0 1 0 -3.2 0M151.6 806.2m-1.6 0a1.6 1.6 0 1 0 3.2 0a1.6 1.6 0 1 0 -3.2 0M156.6 791.8m-1.6 0a1.6 1.6 0 1 0 3.2 0a1.6 1.6 0 1 0 -3.2 0M122.8 791.3m-1.6 0a1.6 1.6 0 1 0 3.2 0a1.6 1.6 0 1 0 -3.2 0M172.4 813.3m-1.6 0a1.6 1.6 0 1 0 3.2 0a1.6 1.6 0 1 0 -3.2 0M197.3 797.5m-1.6 0a1.6 1.6 0 1 0 3.2 0a1.6 1.6 0 1 0 -3.2 0M186.7 804m-1.6 0a1.6 1.6 0 1 0 3.2 0a1.6 1.6 0 1 0 -3.2 0M155.4 798.7m-1.6 0a1.6 1.6 0 1 0 3.2 0a1.6 1.6 0 1 0 -3.2 0M100.9 836.1m-1.6 0a1.6 1.6 0 1 0 3.2 0a1.6 1.6 0 1 0 -3.2 0M102.5 817m-1.6 0a1.6 1.6 0 1 0 3.2 0a1.6 1.6 0 1 0 -3.2 0M224.5 778.6m-1.6 0a1.6 1.6 0 1 0 3.2 0a1.6 1.6 0 1 0 -3.2 0M182.5 780m-1.6 0a1.6 1.6 0 1 0 3.2 0a1.6 1.6 0 1 0 -3.2 0M194.6 764.1m-1.6 0a1.6 1.6 0 1 0 3.2 0a1.6 1.6 0 1 0 -3.2 0M142.1 823.3m-1.6 0a1.6 1.6 0 1 0 3.2 0a1.6 1.6 0 1 0 -3.2 0M204.9 762.3m-1.6 0a1.6 1.6 0 1 0 3.2 0a1.6 1.6 0 1 0 -3.2 0M227.5 780.7m-1.6 0a1.6 1.6 0 1 0 3.2 0a1.6 1.6 0 1 0 -3.2 0M123.7 796.8m-1.6 0a1.6 1.6 0 1 0 3.2 0a1.6 1.6 0 1 0 -3.2 0M113.8 783.8m-1.6 0a1.6 1.6 0 1 0 3.2 0a1.6 1.6 0 1 0 -3.2 0M204.9 761.9m-1.6 0a1.6 1.6 0 1 0 3.2 0a1.6 1.6 0 1 0 -3.2 0M150.5 843.1m-1.6 0a1.6 1.6 0 1 0 3.2 0a1.6 1.6 0 1 0 -3.2 0M119.8 811.4m-1.6 0a1.6 1.6 0 1 0 3.2 0a1.6 1.6 0 1 0 -3.2 0M125.1 809.2m-1.6 0a1.6 1.6 0 1 0 3.2 0a1.6 1.6 0 1 0 -3.2 0M215.7 765.6m-1.6 0a1.6 1.6 0 1 0 3.2 0a1.6 1.6 0 1 0 -3.2 0M149.3 799.3m-1.6 0a1.6 1.6 0 1 0 3.2 0a1.6 1.6 0 1 0 -3.2 0M117.3 843.6m-1.6 0a1.6 1.6 0 1 0 3.2 0a1.6 1.6 0 1 0 -3.2 0M227.8 779.4m-1.6 0a1.6 1.6 0 1 0 3.2 0a1.6 1.6 0 1 0 -3.2 0M168 824.2m-1.6 0a1.6 1.6 0 1 0 3.2 0a1.6 1.6 0 1 0 -3.2 0M140.4 833.9m-1.6 0a1.6 1.6 0 1 0 3.2 0a1.6 1.6 0 1 0 -3.2 0M197.4 801.7m-1.6 0a1.6 1.6 0 1 0 3.2 0a1.6 1.6 0 1 0 -3.2 0M204.4 781.3m-1.6 0a1.6 1.6 0 1 0 3.2 0a1.6 1.6 0 1 0 -3.2 0M222.8 764.2m-1.6 0a1.6 1.6 0 1 0 3.2 0a1.6 1.6 0 1 0 -3.2 0M141.8 829.8m-1.6 0a1.6 1.6 0 1 0 3.2 0a1.6 1.6 0 1 0 -3.2 0M88.9 830.9m-1.6 0a1.6 1.6 0 1 0 3.2 0a1.6 1.6 0 1 0 -3.2 0M122.5 842.1m-1.6 0a1.6 1.6 0 1 0 3.2 0a1.6 1.6 0 1 0 -3.2 0M152.1 821.9m-1.6 0a1.6 1.6 0 1 0 3.2 0a1.6 1.6 0 1 0 -3.2 0M174.1 812.1m-1.6 0a1.6 1.6 0 1 0 3.2 0a1.6 1.6 0 1 0 -3.2 0M135.9 840.3m-1.6 0a1.6 1.6 0 1 0 3.2 0a1.6 1.6 0 1 0 -3.2 0M93.6 839.8m-1.6 0a1.6 1.6 0 1 0 3.2 0a1.6 1.6 0 1 0 -3.2 0M157.2 794.7m-1.6 0a1.6 1.6 0 1 0 3.2 0a1.6 1.6 0 1 0 -3.2 0M200.4 769.4m-1.6 0a1.6 1.6 0 1 0 3.2 0a1.6 1.6 0 1 0 -3.2 0M181.9 772.6m-1.6 0a1.6 1.6 0 1 0 3.2 0a1.6 1.6 0 1 0 -3.2 0M192.4 768m-1.6 0a1.6 1.6 0 1 0 3.2 0a1.6 1.6 0 1 0 -3.2 0M120.7 828.7m-1.6 0a1.6 1.6 0 1 0 3.2 0a1.6 1.6 0 1 0 -3.2 0M155.1 830.5m-1.6 0a1.6 1.6 0 1 0 3.2 0a1.6 1.6 0 1 0 -3.2 0M122.6 809.1m-1.6 0a1.6 1.6 0 1 0 3.2 0a1.6 1.6 0 1 0 -3.2 0M188.7 798.1m-1.6 0a1.6 1.6 0 1 0 3.2 0a1.6 1.6 0 1 0 -3.2 0M122.4 814.9m-1.6 0a1.6 1.6 0 1 0 3.2 0a1.6 1.6 0 1 0 -3.2 0M197.3 793.4m-1.6 0a1.6 1.6 0 1 0 3.2 0a1.6 1.6 0 1 0 -3.2 0M158.5 796.8m-1.6 0a1.6 1.6 0 1 0 3.2 0a1.6 1.6 0 1 0 -3.2 0M119.6 846m-1.6 0a1.6 1.6 0 1 0 3.2 0a1.6 1.6 0 1 0 -3.2 0M109 828.4m-1.6 0a1.6 1.6 0 1 0 3.2 0a1.6 1.6 0 1 0 -3.2 0M154 789.2m-1.6 0a1.6 1.6 0 1 0 3.2 0a1.6 1.6 0 1 0 -3.2 0M77.1 841.8m-1.6 0a1.6 1.6 0 1 0 3.2 0a1.6 1.6 0 1 0 -3.2 0M143.3 833.6m-1.6 0a1.6 1.6 0 1 0 3.2 0a1.6 1.6 0 1 0 -3.2 0M220.2 772.5m-1.6 0a1.6 1.6 0 1 0 3.2 0a1.6 1.6 0 1 0 -3.2 0M183.1 813.7m-1.6 0a1.6 1.6 0 1 0 3.2 0a1.6 1.6 0 1 0 -3.2 0M214.5 795.2m-1.6 0a1.6 1.6 0 1 0 3.2 0a1.6 1.6 0 1 0 -3.2 0M173.6 821.4m-1.6 0a1.6 1.6 0 1 0 3.2 0a1.6 1.6 0 1 0 -3.2 0M146.1 837.2m-1.6 0a1.6 1.6 0 1 0 3.2 0a1.6 1.6 0 1 0 -3.2 0M116 823.4m-1.6 0a1.6 1.6 0 1 0 3.2 0a1.6 1.6 0 1 0 -3.2 0M82.4 851.2m-1.6 0a1.6 1.6 0 1 0 3.2 0a1.6 1.6 0 1 0 -3.2 0M220.4 774.7m-1.6 0a1.6 1.6 0 1 0 3.2 0a1.6 1.6 0 1 0 -3.2 0M180.6 804.8m-1.6 0a1.6 1.6 0 1 0 3.2 0a1.6 1.6 0 1 0 -3.2 0M220.7 778m-1.6 0a1.6 1.6 0 1 0 3.2 0a1.6 1.6 0 1 0 -3.2 0M110.5 832.2m-1.6 0a1.6 1.6 0 1 0 3.2 0a1.6 1.6 0 1 0 -3.2 0M109.9 820.3m-1.6 0a1.6 1.6 0 1 0 3.2 0a1.6 1.6 0 1 0 -3.2 0M148.6 832.9m-1.6 0a1.6 1.6 0 1 0 3.2 0a1.6 1.6 0 1 0 -3.2 0M97.9 848.2m-1.6 0a1.6 1.6 0 1 0 3.2 0a1.6 1.6 0 1 0 -3.2 0M103 820.4m-1.6 0a1.6 1.6 0 1 0 3.2 0a1.6 1.6 0 1 0 -3.2 0M141.5 824.1m-1.6 0a1.6 1.6 0 1 0 3.2 0a1.6 1.6 0 1 0 -3.2 0M219.5 759.8m-1.6 0a1.6 1.6 0 1 0 3.2 0a1.6 1.6 0 1 0 -3.2 0M194.1 791.7m-1.6 0a1.6 1.6 0 1 0 3.2 0a1.6 1.6 0 1 0 -3.2 0M104.5 850.7m-1.6 0a1.6 1.6 0 1 0 3.2 0a1.6 1.6 0 1 0 -3.2 0M130.6 818.7m-1.6 0a1.6 1.6 0 1 0 3.2 0a1.6 1.6 0 1 0 -3.2 0M138.9 837.5m-1.6 0a1.6 1.6 0 1 0 3.2 0a1.6 1.6 0 1 0 -3.2 0M101.4 813m-1.6 0a1.6 1.6 0 1 0 3.2 0a1.6 1.6 0 1 0 -3.2 0M156.9 786.4m-1.6 0a1.6 1.6 0 1 0 3.2 0a1.6 1.6 0 1 0 -3.2 0M76.6 851.2m-1.6 0a1.6 1.6 0 1 0 3.2 0a1.6 1.6 0 1 0 -3.2 0M225.3 773.7m-1.6 0a1.6 1.6 0 1 0 3.2 0a1.6 1.6 0 1 0 -3.2 0M119.2 839.5m-1.6 0a1.6 1.6 0 1 0 3.2 0a1.6 1.6 0 1 0 -3.2 0M120.6 805.9m-1.6 0a1.6 1.6 0 1 0 3.2 0a1.6 1.6 0 1 0 -3.2 0M208.8 792m-1.6 0a1.6 1.6 0 1 0 3.2 0a1.6 1.6 0 1 0 -3.2 0M138.5 797.6m-1.6 0a1.6 1.6 0 1 0 3.2 0a1.6 1.6 0 1 0 -3.2 0M173.3 780.7m-1.6 0a1.6 1.6 0 1 0 3.2 0a1.6 1.6 0 1 0 -3.2 0M206.8 784.3m-1.6 0a1.6 1.6 0 1 0 3.2 0a1.6 1.6 0 1 0 -3.2 0M208.8 778.6m-1.6 0a1.6 1.6 0 1 0 3.2 0a1.6 1.6 0 1 0 -3.2 0M187.1 788m-1.6 0a1.6 1.6 0 1 0 3.2 0a1.6 1.6 0 1 0 -3.2 0M165.9 817.8m-1.6 0a1.6 1.6 0 1 0 3.2 0a1.6 1.6 0 1 0 -3.2 0M82.4 832.9m-1.6 0a1.6 1.6 0 1 0 3.2 0a1.6 1.6 0 1 0 -3.2 0M122.1 826.3m-1.6 0a1.6 1.6 0 1 0 3.2 0a1.6 1.6 0 1 0 -3.2 0M153.8 816.5m-1.6 0a1.6 1.6 0 1 0 3.2 0a1.6 1.6 0 1 0 -3.2 0M217.2 783.1m-1.6 0a1.6 1.6 0 1 0 3.2 0a1.6 1.6 0 1 0 -3.2 0M220.9 775.7m-1.6 0a1.6 1.6 0 1 0 3.2 0a1.6 1.6 0 1 0 -3.2 0M82.4 848.4m-1.6 0a1.6 1.6 0 1 0 3.2 0a1.6 1.6 0 1 0 -3.2 0M148.9 834.3m-1.6 0a1.6 1.6 0 1 0 3.2 0a1.6 1.6 0 1 0 -3.2 0M99.7 823.7m-1.6 0a1.6 1.6 0 1 0 3.2 0a1.6 1.6 0 1 0 -3.2 0M162.1 819.4m-1.6 0a1.6 1.6 0 1 0 3.2 0a1.6 1.6 0 1 0 -3.2 0M142 824m-1.6 0a1.6 1.6 0 1 0 3.2 0a1.6 1.6 0 1 0 -3.2 0M155.9 806m-1.6 0a1.6 1.6 0 1 0 3.2 0a1.6 1.6 0 1 0 -3.2 0M148.9 792.3m-1.6 0a1.6 1.6 0 1 0 3.2 0a1.6 1.6 0 1 0 -3.2 0M179.9 819.9m-1.6 0a1.6 1.6 0 1 0 3.2 0a1.6 1.6 0 1 0 -3.2 0M193 793.8m-1.6 0a1.6 1.6 0 1 0 3.2 0a1.6 1.6 0 1 0 -3.2 0M100.4 831m-1.6 0a1.6 1.6 0 1 0 3.2 0a1.6 1.6 0 1 0 -3.2 0M212.3 777.3m-1.6 0a1.6 1.6 0 1 0 3.2 0a1.6 1.6 0 1 0 -3.2 0M96.2 851.2m-1.6 0a1.6 1.6 0 1 0 3.2 0a1.6 1.6 0 1 0 -3.2 0M113.4 843.9m-1.6 0a1.6 1.6 0 1 0 3.2 0a1.6 1.6 0 1 0 -3.2 0M151.6 814.5m-1.6 0a1.6 1.6 0 1 0 3.2 0a1.6 1.6 0 1 0 -3.2 0M209.8 801.6m-1.6 0a1.6 1.6 0 1 0 3.2 0a1.6 1.6 0 1 0 -3.2 0M195.5 806.7m-1.6 0a1.6 1.6 0 1 0 3.2 0a1.6 1.6 0 1 0 -3.2 0M116.6 841.9m-1.6 0a1.6 1.6 0 1 0 3.2 0a1.6 1.6 0 1 0 -3.2 0M96 852.3m-1.6 0a1.6 1.6 0 1 0 3.2 0a1.6 1.6 0 1 0 -3.2 0M137.9 798m-1.6 0a1.6 1.6 0 1 0 3.2 0a1.6 1.6 0 1 0 -3.2 0M138.8 836.1m-1.6 0a1.6 1.6 0 1 0 3.2 0a1.6 1.6 0 1 0 -3.2 0M206.7 792.2m-1.6 0a1.6 1.6 0 1 0 3.2 0a1.6 1.6 0 1 0 -3.2 0M137.1 827.1m-1.6 0a1.6 1.6 0 1 0 3.2 0a1.6 1.6 0 1 0 -3.2 0M190 771.9m-1.6 0a1.6 1.6 0 1 0 3.2 0a1.6 1.6 0 1 0 -3.2 0M169.7 812m-1.6 0a1.6 1.6 0 1 0 3.2 0a1.6 1.6 0 1 0 -3.2 0M173.1 791.4m-1.6 0a1.6 1.6 0 1 0 3.2 0a1.6 1.6 0 1 0 -3.2 0M81.6 856.3m-1.6 0a1.6 1.6 0 1 0 3.2 0a1.6 1.6 0 1 0 -3.2 0M115.3 832.1m-1.6 0a1.6 1.6 0 1 0 3.2 0a1.6 1.6 0 1 0 -3.2 0M227.9 783.8m-1.6 0a1.6 1.6 0 1 0 3.2 0a1.6 1.6 0 1 0 -3.2 0M212.6 770.3m-1.6 0a1.6 1.6 0 1 0 3.2 0a1.6 1.6 0 1 0 -3.2 0M123.2 844.6m-1.6 0a1.6 1.6 0 1 0 3.2 0a1.6 1.6 0 1 0 -3.2 0M191.9 804.4m-1.6 0a1.6 1.6 0 1 0 3.2 0a1.6 1.6 0 1 0 -3.2 0M153.5 824.3m-1.6 0a1.6 1.6 0 1 0 3.2 0a1.6 1.6 0 1 0 -3.2 0M119.7 826.4m-1.6 0a1.6 1.6 0 1 0 3.2 0a1.6 1.6 0 1 0 -3.2 0M114.4 831.4m-1.6 0a1.6 1.6 0 1 0 3.2 0a1.6 1.6 0 1 0 -3.2 0M181.4 818.5m-1.6 0a1.6 1.6 0 1 0 3.2 0a1.6 1.6 0 1 0 -3.2 0M125.3 843m-1.6 0a1.6 1.6 0 1 0 3.2 0a1.6 1.6 0 1 0 -3.2 0M180.2 782.8m-1.6 0a1.6 1.6 0 1 0 3.2 0a1.6 1.6 0 1 0 -3.2 0M160.9 810.6m-1.6 0a1.6 1.6 0 1 0 3.2 0a1.6 1.6 0 1 0 -3.2 0M170.1 779.5m-1.6 0a1.6 1.6 0 1 0 3.2 0a1.6 1.6 0 1 0 -3.2 0M100.3 844m-1.6 0a1.6 1.6 0 1 0 3.2 0a1.6 1.6 0 1 0 -3.2 0M228.7 792.1m-1.6 0a1.6 1.6 0 1 0 3.2 0a1.6 1.6 0 1 0 -3.2 0M198.3 775.2m-1.6 0a1.6 1.6 0 1 0 3.2 0a1.6 1.6 0 1 0 -3.2 0M124.5 819.7m-1.6 0a1.6 1.6 0 1 0 3.2 0a1.6 1.6 0 1 0 -3.2 0M98.9 820.9m-1.6 0a1.6 1.6 0 1 0 3.2 0a1.6 1.6 0 1 0 -3.2 0M162.9 812.7m-1.6 0a1.6 1.6 0 1 0 3.2 0a1.6 1.6 0 1 0 -3.2 0M157.4 806.6m-1.6 0a1.6 1.6 0 1 0 3.2 0a1.6 1.6 0 1 0 -3.2 0M177.3 773.8m-1.6 0a1.6 1.6 0 1 0 3.2 0a1.6 1.6 0 1 0 -3.2 0M190.3 796.8m-1.6 0a1.6 1.6 0 1 0 3.2 0a1.6 1.6 0 1 0 -3.2 0M209.3 794.1m-1.6 0a1.6 1.6 0 1 0 3.2 0a1.6 1.6 0 1 0 -3.2 0M95.9 829.7m-1.6 0a1.6 1.6 0 1 0 3.2 0a1.6 1.6 0 1 0 -3.2 0M83.8 838.2m-1.6 0a1.6 1.6 0 1 0 3.2 0a1.6 1.6 0 1 0 -3.2 0M134.9 817.9m-1.6 0a1.6 1.6 0 1 0 3.2 0a1.6 1.6 0 1 0 -3.2 0M174.7 786.3m-1.6 0a1.6 1.6 0 1 0 3.2 0a1.6 1.6 0 1 0 -3.2 0M223.1 772.3m-1.6 0a1.6 1.6 0 1 0 3.2 0a1.6 1.6 0 1 0 -3.2 0M215.1 761.6m-1.6 0a1.6 1.6 0 1 0 3.2 0a1.6 1.6 0 1 0 -3.2 0M177.1 779.8m-1.6 0a1.6 1.6 0 1 0 3.2 0a1.6 1.6 0 1 0 -3.2 0M145.8 821.8m-1.6 0a1.6 1.6 0 1 0 3.2 0a1.6 1.6 0 1 0 -3.2 0M181 807.9m-1.6 0a1.6 1.6 0 1 0 3.2 0a1.6 1.6 0 1 0 -3.2 0M119.8 824.1m-1.6 0a1.6 1.6 0 1 0 3.2 0a1.6 1.6 0 1 0 -3.2 0M95.3 833m-1.6 0a1.6 1.6 0 1 0 3.2 0a1.6 1.6 0 1 0 -3.2 0M82.1 843.9m-1.6 0a1.6 1.6 0 1 0 3.2 0a1.6 1.6 0 1 0 -3.2 0M137.7 815.6m-1.6 0a1.6 1.6 0 1 0 3.2 0a1.6 1.6 0 1 0 -3.2 0M224.1 766.9m-1.6 0a1.6 1.6 0 1 0 3.2 0a1.6 1.6 0 1 0 -3.2 0M134 823.1m-1.6 0a1.6 1.6 0 1 0 3.2 0a1.6 1.6 0 1 0 -3.2 0M107.1 835.3m-1.6 0a1.6 1.6 0 1 0 3.2 0a1.6 1.6 0 1 0 -3.2 0M96.1 841.6m-1.6 0a1.6 1.6 0 1 0 3.2 0a1.6 1.6 0 1 0 -3.2 0M171.8 807.8m-1.6 0a1.6 1.6 0 1 0 3.2 0a1.6 1.6 0 1 0 -3.2 0M190.6 789.2m-1.6 0a1.6 1.6 0 1 0 3.2 0a1.6 1.6 0 1 0 -3.2 0M197.6 770.5m-1.6 0a1.6 1.6 0 1 0 3.2 0a1.6 1.6 0 1 0 -3.2 0M201.9 800.3m-1.6 0a1.6 1.6 0 1 0 3.2 0a1.6 1.6 0 1 0 -3.2 0M174.2 781.5m-1.6 0a1.6 1.6 0 1 0 3.2 0a1.6 1.6 0 1 0 -3.2 0M162.3 805.1m-1.6 0a1.6 1.6 0 1 0 3.2 0a1.6 1.6 0 1 0 -3.2 0M192.5 776.2m-1.6 0a1.6 1.6 0 1 0 3.2 0a1.6 1.6 0 1 0 -3.2 0M122.7 814.5m-1.6 0a1.6 1.6 0 1 0 3.2 0a1.6 1.6 0 1 0 -3.2 0M155 797.3m-1.6 0a1.6 1.6 0 1 0 3.2 0a1.6 1.6 0 1 0 -3.2 0M228.2 779.6m-1.6 0a1.6 1.6 0 1 0 3.2 0a1.6 1.6 0 1 0 -3.2 0M130.7 834.6m-1.6 0a1.6 1.6 0 1 0 3.2 0a1.6 1.6 0 1 0 -3.2 0M183.8 793.2m-1.6 0a1.6 1.6 0 1 0 3.2 0a1.6 1.6 0 1 0 -3.2 0M209 769.6m-1.6 0a1.6 1.6 0 1 0 3.2 0a1.6 1.6 0 1 0 -3.2 0M211.4 785.5m-1.6 0a1.6 1.6 0 1 0 3.2 0a1.6 1.6 0 1 0 -3.2 0M141.3 837.5m-1.6 0a1.6 1.6 0 1 0 3.2 0a1.6 1.6 0 1 0 -3.2 0M162.2 824.7m-1.6 0a1.6 1.6 0 1 0 3.2 0a1.6 1.6 0 1 0 -3.2 0M161.7 790.9m-1.6 0a1.6 1.6 0 1 0 3.2 0a1.6 1.6 0 1 0 -3.2 0M76.5 837.5m-1.6 0a1.6 1.6 0 1 0 3.2 0a1.6 1.6 0 1 0 -3.2 0M208.3 803.6m-1.6 0a1.6 1.6 0 1 0 3.2 0a1.6 1.6 0 1 0 -3.2 0M103.4 817m-1.6 0a1.6 1.6 0 1 0 3.2 0a1.6 1.6 0 1 0 -3.2 0M125.3 818m-1.6 0a1.6 1.6 0 1 0 3.2 0a1.6 1.6 0 1 0 -3.2 0M182.5 783.7m-1.6 0a1.6 1.6 0 1 0 3.2 0a1.6 1.6 0 1 0 -3.2 0M152.6 789.1m-1.6 0a1.6 1.6 0 1 0 3.2 0a1.6 1.6 0 1 0 -3.2 0M209.6 788.7m-1.6 0a1.6 1.6 0 1 0 3.2 0a1.6 1.6 0 1 0 -3.2 0M160.9 831.9m-1.6 0a1.6 1.6 0 1 0 3.2 0a1.6 1.6 0 1 0 -3.2 0M142.2 827.9m-1.6 0a1.6 1.6 0 1 0 3.2 0a1.6 1.6 0 1 0 -3.2 0M175.3 809.8m-1.6 0a1.6 1.6 0 1 0 3.2 0a1.6 1.6 0 1 0 -3.2 0M155.4 832.9m-1.6 0a1.6 1.6 0 1 0 3.2 0a1.6 1.6 0 1 0 -3.2 0M213.2 781.7m-1.6 0a1.6 1.6 0 1 0 3.2 0a1.6 1.6 0 1 0 -3.2 0M140.7 801.2m-1.6 0a1.6 1.6 0 1 0 3.2 0a1.6 1.6 0 1 0 -3.2 0M168.3 782.8m-1.6 0a1.6 1.6 0 1 0 3.2 0a1.6 1.6 0 1 0 -3.2 0M162.9 816.8m-1.6 0a1.6 1.6 0 1 0 3.2 0a1.6 1.6 0 1 0 -3.2 0M162.9 793.4m-1.6 0a1.6 1.6 0 1 0 3.2 0a1.6 1.6 0 1 0 -3.2 0M117 840.1m-1.6 0a1.6 1.6 0 1 0 3.2 0a1.6 1.6 0 1 0 -3.2 0M192.2 781.6m-1.6 0a1.6 1.6 0 1 0 3.2 0a1.6 1.6 0 1 0 -3.2 0M184.7 787.7m-1.6 0a1.6 1.6 0 1 0 3.2 0a1.6 1.6 0 1 0 -3.2 0M154.6 823.6m-1.6 0a1.6 1.6 0 1 0 3.2 0a1.6 1.6 0 1 0 -3.2 0M215.2 763m-1.6 0a1.6 1.6 0 1 0 3.2 0a1.6 1.6 0 1 0 -3.2 0M218.6 772.3m-1.6 0a1.6 1.6 0 1 0 3.2 0a1.6 1.6 0 1 0 -3.2 0M135.5 817.5m-1.6 0a1.6 1.6 0 1 0 3.2 0a1.6 1.6 0 1 0 -3.2 0M167.8 814.3m-1.6 0a1.6 1.6 0 1 0 3.2 0a1.6 1.6 0 1 0 -3.2 0M212.7 800.7m-1.6 0a1.6 1.6 0 1 0 3.2 0a1.6 1.6 0 1 0 -3.2 0M139.8 836.2m-1.6 0a1.6 1.6 0 1 0 3.2 0a1.6 1.6 0 1 0 -3.2 0M201.8 793.4m-1.6 0a1.6 1.6 0 1 0 3.2 0a1.6 1.6 0 1 0 -3.2 0M133.6 787.7m-1.6 0a1.6 1.6 0 1 0 3.2 0a1.6 1.6 0 1 0 -3.2 0M165.1 799.7m-1.6 0a1.6 1.6 0 1 0 3.2 0a1.6 1.6 0 1 0 -3.2 0M100 848m-1.6 0a1.6 1.6 0 1 0 3.2 0a1.6 1.6 0 1 0 -3.2 0M191 793.8m-1.6 0a1.6 1.6 0 1 0 3.2 0a1.6 1.6 0 1 0 -3.2 0M185.2 813.6m-1.6 0a1.6 1.6 0 1 0 3.2 0a1.6 1.6 0 1 0 -3.2 0M161.7 821.2m-1.6 0a1.6 1.6 0 1 0 3.2 0a1.6 1.6 0 1 0 -3.2 0M92.4 849.8m-1.6 0a1.6 1.6 0 1 0 3.2 0a1.6 1.6 0 1 0 -3.2 0M217.2 791.7m-1.6 0a1.6 1.6 0 1 0 3.2 0a1.6 1.6 0 1 0 -3.2 0M227.6 763.5m-1.6 0a1.6 1.6 0 1 0 3.2 0a1.6 1.6 0 1 0 -3.2 0M187.2 783.9m-1.6 0a1.6 1.6 0 1 0 3.2 0a1.6 1.6 0 1 0 -3.2 0M103.6 819.1m-1.6 0a1.6 1.6 0 1 0 3.2 0a1.6 1.6 0 1 0 -3.2 0M220.9 767m-1.6 0a1.6 1.6 0 1 0 3.2 0a1.6 1.6 0 1 0 -3.2 0M149.1 829.3m-1.6 0a1.6 1.6 0 1 0 3.2 0a1.6 1.6 0 1 0 -3.2 0M163.1 825.9m-1.6 0a1.6 1.6 0 1 0 3.2 0a1.6 1.6 0 1 0 -3.2 0M225.7 786.5m-1.6 0a1.6 1.6 0 1 0 3.2 0a1.6 1.6 0 1 0 -3.2 0M138.7 809.5m-1.6 0a1.6 1.6 0 1 0 3.2 0a1.6 1.6 0 1 0 -3.2 0M220.1 776.2m-1.6 0a1.6 1.6 0 1 0 3.2 0a1.6 1.6 0 1 0 -3.2 0M187.2 770m-1.6 0a1.6 1.6 0 1 0 3.2 0a1.6 1.6 0 1 0 -3.2 0M208.3 766.5m-1.6 0a1.6 1.6 0 1 0 3.2 0a1.6 1.6 0 1 0 -3.2 0M98.7 820.7m-1.6 0a1.6 1.6 0 1 0 3.2 0a1.6 1.6 0 1 0 -3.2 0M108.8 820.2m-1.6 0a1.6 1.6 0 1 0 3.2 0a1.6 1.6 0 1 0 -3.2 0M213.2 783.1m-1.6 0a1.6 1.6 0 1 0 3.2 0a1.6 1.6 0 1 0 -3.2 0M136.1 827.3m-1.6 0a1.6 1.6 0 1 0 3.2 0a1.6 1.6 0 1 0 -3.2 0M205.8 794.4m-1.6 0a1.6 1.6 0 1 0 3.2 0a1.6 1.6 0 1 0 -3.2 0M222.8 781.7m-1.6 0a1.6 1.6 0 1 0 3.2 0a1.6 1.6 0 1 0 -3.2 0M158.2 828.8m-1.6 0a1.6 1.6 0 1 0 3.2 0a1.6 1.6 0 1 0 -3.2 0M148.5 817m-1.6 0a1.6 1.6 0 1 0 3.2 0a1.6 1.6 0 1 0 -3.2 0M105.1 824m-1.6 0a1.6 1.6 0 1 0 3.2 0a1.6 1.6 0 1 0 -3.2 0M112.5 823.4m-1.6 0a1.6 1.6 0 1 0 3.2 0a1.6 1.6 0 1 0 -3.2 0M106 844.6m-1.6 0a1.6 1.6 0 1 0 3.2 0a1.6 1.6 0 1 0 -3.2 0M149.2 794m-1.6 0a1.6 1.6 0 1 0 3.2 0a1.6 1.6 0 1 0 -3.2 0M163.2 806.2m-1.6 0a1.6 1.6 0 1 0 3.2 0a1.6 1.6 0 1 0 -3.2 0M174.7 814.7m-1.6 0a1.6 1.6 0 1 0 3.2 0a1.6 1.6 0 1 0 -3.2 0M101.1 834.6m-1.6 0a1.6 1.6 0 1 0 3.2 0a1.6 1.6 0 1 0 -3.2 0M220.7 794.1m-1.6 0a1.6 1.6 0 1 0 3.2 0a1.6 1.6 0 1 0 -3.2 0M150.6 831.1m-1.6 0a1.6 1.6 0 1 0 3.2 0a1.6 1.6 0 1 0 -3.2 0M226.4 774.7m-1.6 0a1.6 1.6 0 1 0 3.2 0a1.6 1.6 0 1 0 -3.2 0M212.4 793.4m-1.6 0a1.6 1.6 0 1 0 3.2 0a1.6 1.6 0 1 0 -3.2 0M212.2 806.5m-1.6 0a1.6 1.6 0 1 0 3.2 0a1.6 1.6 0 1 0 -3.2 0M119 807.9m-1.6 0a1.6 1.6 0 1 0 3.2 0a1.6 1.6 0 1 0 -3.2 0M74.5 851.4m-1.6 0a1.6 1.6 0 1 0 3.2 0a1.6 1.6 0 1 0 -3.2 0M223.5 789.4m-1.6 0a1.6 1.6 0 1 0 3.2 0a1.6 1.6 0 1 0 -3.2 0M154.4 807.8m-1.6 0a1.6 1.6 0 1 0 3.2 0a1.6 1.6 0 1 0 -3.2 0M170.8 824m-1.6 0a1.6 1.6 0 1 0 3.2 0a1.6 1.6 0 1 0 -3.2 0M82.9 836.9m-1.6 0a1.6 1.6 0 1 0 3.2 0a1.6 1.6 0 1 0 -3.2 0M220.9 777.5m-1.6 0a1.6 1.6 0 1 0 3.2 0a1.6 1.6 0 1 0 -3.2 0M167.5 814.9m-1.6 0a1.6 1.6 0 1 0 3.2 0a1.6 1.6 0 1 0 -3.2 0M173.4 795.2m-1.6 0a1.6 1.6 0 1 0 3.2 0a1.6 1.6 0 1 0 -3.2 0M148.7 819.1m-1.6 0a1.6 1.6 0 1 0 3.2 0a1.6 1.6 0 1 0 -3.2 0M153 808.5m-1.6 0a1.6 1.6 0 1 0 3.2 0a1.6 1.6 0 1 0 -3.2 0M148.3 809.1m-1.6 0a1.6 1.6 0 1 0 3.2 0a1.6 1.6 0 1 0 -3.2 0M153.1 832.2m-1.6 0a1.6 1.6 0 1 0 3.2 0a1.6 1.6 0 1 0 -3.2 0M109.5 819.7m-1.6 0a1.6 1.6 0 1 0 3.2 0a1.6 1.6 0 1 0 -3.2 0M188.6 783m-1.6 0a1.6 1.6 0 1 0 3.2 0a1.6 1.6 0 1 0 -3.2 0M145.5 818.9m-1.6 0a1.6 1.6 0 1 0 3.2 0a1.6 1.6 0 1 0 -3.2 0M221.8 762.2m-1.6 0a1.6 1.6 0 1 0 3.2 0a1.6 1.6 0 1 0 -3.2 0M183.4 800.4m-1.6 0a1.6 1.6 0 1 0 3.2 0a1.6 1.6 0 1 0 -3.2 0M130.5 824.3m-1.6 0a1.6 1.6 0 1 0 3.2 0a1.6 1.6 0 1 0 -3.2 0M184 776.3m-1.6 0a1.6 1.6 0 1 0 3.2 0a1.6 1.6 0 1 0 -3.2 0M177.8 790.4m-1.6 0a1.6 1.6 0 1 0 3.2 0a1.6 1.6 0 1 0 -3.2 0M163.5 797.2m-1.6 0a1.6 1.6 0 1 0 3.2 0a1.6 1.6 0 1 0 -3.2 0M165.5 811.8m-1.6 0a1.6 1.6 0 1 0 3.2 0a1.6 1.6 0 1 0 -3.2 0M154.6 809m-1.6 0a1.6 1.6 0 1 0 3.2 0a1.6 1.6 0 1 0 -3.2 0M204.8 771m-1.6 0a1.6 1.6 0 1 0 3.2 0a1.6 1.6 0 1 0 -3.2 0M72.2 844.9m-1.6 0a1.6 1.6 0 1 0 3.2 0a1.6 1.6 0 1 0 -3.2 0M205.7 767.5m-1.6 0a1.6 1.6 0 1 0 3.2 0a1.6 1.6 0 1 0 -3.2 0M195.3 808.7m-1.6 0a1.6 1.6 0 1 0 3.2 0a1.6 1.6 0 1 0 -3.2 0M224.5 776.7m-1.6 0a1.6 1.6 0 1 0 3.2 0a1.6 1.6 0 1 0 -3.2 0M103.6 846.7m-1.6 0a1.6 1.6 0 1 0 3.2 0a1.6 1.6 0 1 0 -3.2 0M182.6 789.2m-1.6 0a1.6 1.6 0 1 0 3.2 0a1.6 1.6 0 1 0 -3.2 0M224.6 789.6m-1.6 0a1.6 1.6 0 1 0 3.2 0a1.6 1.6 0 1 0 -3.2 0M125.2 836m-1.6 0a1.6 1.6 0 1 0 3.2 0a1.6 1.6 0 1 0 -3.2 0M143.1 810.1m-1.6 0a1.6 1.6 0 1 0 3.2 0a1.6 1.6 0 1 0 -3.2 0M186.7 780.1m-1.6 0a1.6 1.6 0 1 0 3.2 0a1.6 1.6 0 1 0 -3.2 0M112.1 844.4m-1.6 0a1.6 1.6 0 1 0 3.2 0a1.6 1.6 0 1 0 -3.2 0M138.5 823.3m-1.6 0a1.6 1.6 0 1 0 3.2 0a1.6 1.6 0 1 0 -3.2 0M204.8 775.9m-1.6 0a1.6 1.6 0 1 0 3.2 0a1.6 1.6 0 1 0 -3.2 0M92.2 837.8m-1.6 0a1.6 1.6 0 1 0 3.2 0a1.6 1.6 0 1 0 -3.2 0M104.6 829.3m-1.6 0a1.6 1.6 0 1 0 3.2 0a1.6 1.6 0 1 0 -3.2 0M155.7 811.4m-1.6 0a1.6 1.6 0 1 0 3.2 0a1.6 1.6 0 1 0 -3.2 0M132 830.2m-1.6 0a1.6 1.6 0 1 0 3.2 0a1.6 1.6 0 1 0 -3.2 0M190 804m-1.6 0a1.6 1.6 0 1 0 3.2 0a1.6 1.6 0 1 0 -3.2 0M104.9 837.1m-1.6 0a1.6 1.6 0 1 0 3.2 0a1.6 1.6 0 1 0 -3.2 0M100.1 838.5m-1.6 0a1.6 1.6 0 1 0 3.2 0a1.6 1.6 0 1 0 -3.2 0M215.7 769.4m-1.6 0a1.6 1.6 0 1 0 3.2 0a1.6 1.6 0 1 0 -3.2 0M133.6 805.1m-1.6 0a1.6 1.6 0 1 0 3.2 0a1.6 1.6 0 1 0 -3.2 0M220.3 772m-1.6 0a1.6 1.6 0 1 0 3.2 0a1.6 1.6 0 1 0 -3.2 0M135.9 814.8m-1.6 0a1.6 1.6 0 1 0 3.2 0a1.6 1.6 0 1 0 -3.2 0M190.1 772.8m-1.6 0a1.6 1.6 0 1 0 3.2 0a1.6 1.6 0 1 0 -3.2 0M171 795.4m-1.6 0a1.6 1.6 0 1 0 3.2 0a1.6 1.6 0 1 0 -3.2 0M129.2 840.9m-1.6 0a1.6 1.6 0 1 0 3.2 0a1.6 1.6 0 1 0 -3.2 0M125.2 840.9m-1.6 0a1.6 1.6 0 1 0 3.2 0a1.6 1.6 0 1 0 -3.2 0M183.7 813.1m-1.6 0a1.6 1.6 0 1 0 3.2 0a1.6 1.6 0 1 0 -3.2 0M195.9 791.1m-1.6 0a1.6 1.6 0 1 0 3.2 0a1.6 1.6 0 1 0 -3.2 0M151.3 800.6m-1.6 0a1.6 1.6 0 1 0 3.2 0a1.6 1.6 0 1 0 -3.2 0M74.3 857.9m-1.6 0a1.6 1.6 0 1 0 3.2 0a1.6 1.6 0 1 0 -3.2 0M143.1 822.4m-1.6 0a1.6 1.6 0 1 0 3.2 0a1.6 1.6 0 1 0 -3.2 0M152.5 827.9m-1.6 0a1.6 1.6 0 1 0 3.2 0a1.6 1.6 0 1 0 -3.2 0M148.3 818.1m-1.6 0a1.6 1.6 0 1 0 3.2 0a1.6 1.6 0 1 0 -3.2 0M135 804.9m-1.6 0a1.6 1.6 0 1 0 3.2 0a1.6 1.6 0 1 0 -3.2 0M154.8 803.8m-1.6 0a1.6 1.6 0 1 0 3.2 0a1.6 1.6 0 1 0 -3.2 0M136.9 868.3m-1.6 0a1.6 1.6 0 1 0 3.2 0a1.6 1.6 0 1 0 -3.2 0M201.4 780.8m-1.6 0a1.6 1.6 0 1 0 3.2 0a1.6 1.6 0 1 0 -3.2 0M184.2 773.5m-1.6 0a1.6 1.6 0 1 0 3.2 0a1.6 1.6 0 1 0 -3.2 0M187.9 785.6m-1.6 0a1.6 1.6 0 1 0 3.2 0a1.6 1.6 0 1 0 -3.2 0M181.9 801.6m-1.6 0a1.6 1.6 0 1 0 3.2 0a1.6 1.6 0 1 0 -3.2 0M126.8 817.7m-1.6 0a1.6 1.6 0 1 0 3.2 0a1.6 1.6 0 1 0 -3.2 0M219 789m-1.6 0a1.6 1.6 0 1 0 3.2 0a1.6 1.6 0 1 0 -3.2 0M161.9 820.5m-1.6 0a1.6 1.6 0 1 0 3.2 0a1.6 1.6 0 1 0 -3.2 0M108.8 845.4m-1.6 0a1.6 1.6 0 1 0 3.2 0a1.6 1.6 0 1 0 -3.2 0M145.8 810.6m-1.6 0a1.6 1.6 0 1 0 3.2 0a1.6 1.6 0 1 0 -3.2 0M150 797.9m-1.6 0a1.6 1.6 0 1 0 3.2 0a1.6 1.6 0 1 0 -3.2 0M107.3 845.1m-1.6 0a1.6 1.6 0 1 0 3.2 0a1.6 1.6 0 1 0 -3.2 0M198.8 775.8m-1.6 0a1.6 1.6 0 1 0 3.2 0a1.6 1.6 0 1 0 -3.2 0M184.5 804.9m-1.6 0a1.6 1.6 0 1 0 3.2 0a1.6 1.6 0 1 0 -3.2 0M217.6 769.1m-1.6 0a1.6 1.6 0 1 0 3.2 0a1.6 1.6 0 1 0 -3.2 0M218.1 765.3m-1.6 0a1.6 1.6 0 1 0 3.2 0a1.6 1.6 0 1 0 -3.2 0M215.9 793.5m-1.6 0a1.6 1.6 0 1 0 3.2 0a1.6 1.6 0 1 0 -3.2 0M117.8 821.7m-1.6 0a1.6 1.6 0 1 0 3.2 0a1.6 1.6 0 1 0 -3.2 0M110.7 823.2m-1.6 0a1.6 1.6 0 1 0 3.2 0a1.6 1.6 0 1 0 -3.2 0M141.7 833.5m-1.6 0a1.6 1.6 0 1 0 3.2 0a1.6 1.6 0 1 0 -3.2 0M228.8 770.9m-1.6 0a1.6 1.6 0 1 0 3.2 0a1.6 1.6 0 1 0 -3.2 0M170.3 817.4m-1.6 0a1.6 1.6 0 1 0 3.2 0a1.6 1.6 0 1 0 -3.2 0M116.6 818.9m-1.6 0a1.6 1.6 0 1 0 3.2 0a1.6 1.6 0 1 0 -3.2 0M109.6 838.7m-1.6 0a1.6 1.6 0 1 0 3.2 0a1.6 1.6 0 1 0 -3.2 0M127.8 814.1m-1.6 0a1.6 1.6 0 1 0 3.2 0a1.6 1.6 0 1 0 -3.2 0M170.2 823m-1.6 0a1.6 1.6 0 1 0 3.2 0a1.6 1.6 0 1 0 -3.2 0M137.2 804.1m-1.6 0a1.6 1.6 0 1 0 3.2 0a1.6 1.6 0 1 0 -3.2 0M116.8 818.1m-1.6 0a1.6 1.6 0 1 0 3.2 0a1.6 1.6 0 1 0 -3.2 0M208.9 804m-1.6 0a1.6 1.6 0 1 0 3.2 0a1.6 1.6 0 1 0 -3.2 0M179 812.9m-1.6 0a1.6 1.6 0 1 0 3.2 0a1.6 1.6 0 1 0 -3.2 0M168.2 812.8m-1.6 0a1.6 1.6 0 1 0 3.2 0a1.6 1.6 0 1 0 -3.2 0M202.9 772.5m-1.6 0a1.6 1.6 0 1 0 3.2 0a1.6 1.6 0 1 0 -3.2 0M170.7 820.8m-1.6 0a1.6 1.6 0 1 0 3.2 0a1.6 1.6 0 1 0 -3.2 0M188.5 769.6m-1.6 0a1.6 1.6 0 1 0 3.2 0a1.6 1.6 0 1 0 -3.2 0M228.5 763.8m-1.6 0a1.6 1.6 0 1 0 3.2 0a1.6 1.6 0 1 0 -3.2 0M107.3 838.7m-1.6 0a1.6 1.6 0 1 0 3.2 0a1.6 1.6 0 1 0 -3.2 0M189.1 790.8m-1.6 0a1.6 1.6 0 1 0 3.2 0a1.6 1.6 0 1 0 -3.2 0M165.1 807.4m-1.6 0a1.6 1.6 0 1 0 3.2 0a1.6 1.6 0 1 0 -3.2 0M144.2 809.9m-1.6 0a1.6 1.6 0 1 0 3.2 0a1.6 1.6 0 1 0 -3.2 0M183.4 789.3m-1.6 0a1.6 1.6 0 1 0 3.2 0a1.6 1.6 0 1 0 -3.2 0M144.9 781.9m-1.6 0a1.6 1.6 0 1 0 3.2 0a1.6 1.6 0 1 0 -3.2 0M198.6 793.3m-1.6 0a1.6 1.6 0 1 0 3.2 0a1.6 1.6 0 1 0 -3.2 0M208.8 764.6m-1.6 0a1.6 1.6 0 1 0 3.2 0a1.6 1.6 0 1 0 -3.2 0M189.8 770.1m-1.6 0a1.6 1.6 0 1 0 3.2 0a1.6 1.6 0 1 0 -3.2 0M78.6 841.9m-1.6 0a1.6 1.6 0 1 0 3.2 0a1.6 1.6 0 1 0 -3.2 0M95.9 827m-1.6 0a1.6 1.6 0 1 0 3.2 0a1.6 1.6 0 1 0 -3.2 0M185.5 811.5m-1.6 0a1.6 1.6 0 1 0 3.2 0a1.6 1.6 0 1 0 -3.2 0M150.3 791.2m-1.6 0a1.6 1.6 0 1 0 3.2 0a1.6 1.6 0 1 0 -3.2 0M207.7 782.9m-1.6 0a1.6 1.6 0 1 0 3.2 0a1.6 1.6 0 1 0 -3.2 0M146.8 798.3m-1.6 0a1.6 1.6 0 1 0 3.2 0a1.6 1.6 0 1 0 -3.2 0M207.4 795.2m-1.6 0a1.6 1.6 0 1 0 3.2 0a1.6 1.6 0 1 0 -3.2 0M91 851.2m-1.6 0a1.6 1.6 0 1 0 3.2 0a1.6 1.6 0 1 0 -3.2 0M131.9 815.3m-1.6 0a1.6 1.6 0 1 0 3.2 0a1.6 1.6 0 1 0 -3.2 0M174.7 816.9m-1.6 0a1.6 1.6 0 1 0 3.2 0a1.6 1.6 0 1 0 -3.2 0M189.6 798.5m-1.6 0a1.6 1.6 0 1 0 3.2 0a1.6 1.6 0 1 0 -3.2 0M187.8 794.5m-1.6 0a1.6 1.6 0 1 0 3.2 0a1.6 1.6 0 1 0 -3.2 0M169.9 808.7m-1.6 0a1.6 1.6 0 1 0 3.2 0a1.6 1.6 0 1 0 -3.2 0M126 829.7m-1.6 0a1.6 1.6 0 1 0 3.2 0a1.6 1.6 0 1 0 -3.2 0M157.1 817.6m-1.6 0a1.6 1.6 0 1 0 3.2 0a1.6 1.6 0 1 0 -3.2 0M94.5 832.3m-1.6 0a1.6 1.6 0 1 0 3.2 0a1.6 1.6 0 1 0 -3.2 0M132.4 842.9m-1.6 0a1.6 1.6 0 1 0 3.2 0a1.6 1.6 0 1 0 -3.2 0M205 804m-1.6 0a1.6 1.6 0 1 0 3.2 0a1.6 1.6 0 1 0 -3.2 0M124.7 840m-1.6 0a1.6 1.6 0 1 0 3.2 0a1.6 1.6 0 1 0 -3.2 0M102.6 839.9m-1.6 0a1.6 1.6 0 1 0 3.2 0a1.6 1.6 0 1 0 -3.2 0M88.6 834m-1.6 0a1.6 1.6 0 1 0 3.2 0a1.6 1.6 0 1 0 -3.2 0M93.8 846.2m-1.6 0a1.6 1.6 0 1 0 3.2 0a1.6 1.6 0 1 0 -3.2 0M214.1 778.2m-1.6 0a1.6 1.6 0 1 0 3.2 0a1.6 1.6 0 1 0 -3.2 0M81.6 851.7m-1.6 0a1.6 1.6 0 1 0 3.2 0a1.6 1.6 0 1 0 -3.2 0M169.1 811.5m-1.6 0a1.6 1.6 0 1 0 3.2 0a1.6 1.6 0 1 0 -3.2 0M225.5 774m-1.6 0a1.6 1.6 0 1 0 3.2 0a1.6 1.6 0 1 0 -3.2 0M176.7 810m-1.6 0a1.6 1.6 0 1 0 3.2 0a1.6 1.6 0 1 0 -3.2 0M146.6 803.6m-1.6 0a1.6 1.6 0 1 0 3.2 0a1.6 1.6 0 1 0 -3.2 0M170.6 782.4m-1.6 0a1.6 1.6 0 1 0 3.2 0a1.6 1.6 0 1 0 -3.2 0M146.8 827m-1.6 0a1.6 1.6 0 1 0 3.2 0a1.6 1.6 0 1 0 -3.2 0M164.9 794.6m-1.6 0a1.6 1.6 0 1 0 3.2 0a1.6 1.6 0 1 0 -3.2 0M160.9 782.2m-1.6 0a1.6 1.6 0 1 0 3.2 0a1.6 1.6 0 1 0 -3.2 0M194.5 789.8m-1.6 0a1.6 1.6 0 1 0 3.2 0a1.6 1.6 0 1 0 -3.2 0M142.2 802.6m-1.6 0a1.6 1.6 0 1 0 3.2 0a1.6 1.6 0 1 0 -3.2 0M212.5 759.6m-1.6 0a1.6 1.6 0 1 0 3.2 0a1.6 1.6 0 1 0 -3.2 0M182.3 798.9m-1.6 0a1.6 1.6 0 1 0 3.2 0a1.6 1.6 0 1 0 -3.2 0M150.3 821.9m-1.6 0a1.6 1.6 0 1 0 3.2 0a1.6 1.6 0 1 0 -3.2 0M209.4 768.6m-1.6 0a1.6 1.6 0 1 0 3.2 0a1.6 1.6 0 1 0 -3.2 0M107.8 827.8m-1.6 0a1.6 1.6 0 1 0 3.2 0a1.6 1.6 0 1 0 -3.2 0M95.7 837.7m-1.6 0a1.6 1.6 0 1 0 3.2 0a1.6 1.6 0 1 0 -3.2 0M186.4 792.6m-1.6 0a1.6 1.6 0 1 0 3.2 0a1.6 1.6 0 1 0 -3.2 0M138.3 800.6m-1.6 0a1.6 1.6 0 1 0 3.2 0a1.6 1.6 0 1 0 -3.2 0M197.9 785.3m-1.6 0a1.6 1.6 0 1 0 3.2 0a1.6 1.6 0 1 0 -3.2 0M115.8 841.1m-1.6 0a1.6 1.6 0 1 0 3.2 0a1.6 1.6 0 1 0 -3.2 0M137 797.2m-1.6 0a1.6 1.6 0 1 0 3.2 0a1.6 1.6 0 1 0 -3.2 0M171.8 814.9m-1.6 0a1.6 1.6 0 1 0 3.2 0a1.6 1.6 0 1 0 -3.2 0M174.6 820.8m-1.6 0a1.6 1.6 0 1 0 3.2 0a1.6 1.6 0 1 0 -3.2 0M186.4 784.3m-1.6 0a1.6 1.6 0 1 0 3.2 0a1.6 1.6 0 1 0 -3.2 0M133.8 835.2m-1.6 0a1.6 1.6 0 1 0 3.2 0a1.6 1.6 0 1 0 -3.2 0M225.9 787m-1.6 0a1.6 1.6 0 1 0 3.2 0a1.6 1.6 0 1 0 -3.2 0M154.8 815.7m-1.6 0a1.6 1.6 0 1 0 3.2 0a1.6 1.6 0 1 0 -3.2 0M213.1 766.5m-1.6 0a1.6 1.6 0 1 0 3.2 0a1.6 1.6 0 1 0 -3.2 0M223.7 766.4m-1.6 0a1.6 1.6 0 1 0 3.2 0a1.6 1.6 0 1 0 -3.2 0M98.4 846.7m-1.6 0a1.6 1.6 0 1 0 3.2 0a1.6 1.6 0 1 0 -3.2 0M198 779.7m-1.6 0a1.6 1.6 0 1 0 3.2 0a1.6 1.6 0 1 0 -3.2 0M210.9 770.5m-1.6 0a1.6 1.6 0 1 0 3.2 0a1.6 1.6 0 1 0 -3.2 0M158.3 807.4m-1.6 0a1.6 1.6 0 1 0 3.2 0a1.6 1.6 0 1 0 -3.2 0M162.8 824.5m-1.6 0a1.6 1.6 0 1 0 3.2 0a1.6 1.6 0 1 0 -3.2 0M134.7 811.6m-1.6 0a1.6 1.6 0 1 0 3.2 0a1.6 1.6 0 1 0 -3.2 0M105.8 818.6m-1.6 0a1.6 1.6 0 1 0 3.2 0a1.6 1.6 0 1 0 -3.2 0M190.9 780.1m-1.6 0a1.6 1.6 0 1 0 3.2 0a1.6 1.6 0 1 0 -3.2 0M119 841.1m-1.6 0a1.6 1.6 0 1 0 3.2 0a1.6 1.6 0 1 0 -3.2 0M105.1 816.3m-1.6 0a1.6 1.6 0 1 0 3.2 0a1.6 1.6 0 1 0 -3.2 0M191.2 774.9m-1.6 0a1.6 1.6 0 1 0 3.2 0a1.6 1.6 0 1 0 -3.2 0M141.3 795.5m-1.6 0a1.6 1.6 0 1 0 3.2 0a1.6 1.6 0 1 0 -3.2 0M220.3 769.9m-1.6 0a1.6 1.6 0 1 0 3.2 0a1.6 1.6 0 1 0 -3.2 0M176.2 777.3m-1.6 0a1.6 1.6 0 1 0 3.2 0a1.6 1.6 0 1 0 -3.2 0M197 794.7m-1.6 0a1.6 1.6 0 1 0 3.2 0a1.6 1.6 0 1 0 -3.2 0M76.8 841.3m-1.6 0a1.6 1.6 0 1 0 3.2 0a1.6 1.6 0 1 0 -3.2 0M172.5 805m-1.6 0a1.6 1.6 0 1 0 3.2 0a1.6 1.6 0 1 0 -3.2 0M159.5 811.4m-1.6 0a1.6 1.6 0 1 0 3.2 0a1.6 1.6 0 1 0 -3.2 0M149.5 824.8m-1.6 0a1.6 1.6 0 1 0 3.2 0a1.6 1.6 0 1 0 -3.2 0M195.5 794m-1.6 0a1.6 1.6 0 1 0 3.2 0a1.6 1.6 0 1 0 -3.2 0M159.6 783m-1.6 0a1.6 1.6 0 1 0 3.2 0a1.6 1.6 0 1 0 -3.2 0M220.5 763.5m-1.6 0a1.6 1.6 0 1 0 3.2 0a1.6 1.6 0 1 0 -3.2 0M115.1 823.3m-1.6 0a1.6 1.6 0 1 0 3.2 0a1.6 1.6 0 1 0 -3.2 0M89.7 836.9m-1.6 0a1.6 1.6 0 1 0 3.2 0a1.6 1.6 0 1 0 -3.2 0M152.1 841.6m-1.6 0a1.6 1.6 0 1 0 3.2 0a1.6 1.6 0 1 0 -3.2 0M94 846m-1.6 0a1.6 1.6 0 1 0 3.2 0a1.6 1.6 0 1 0 -3.2 0M77.8 834.6m-1.6 0a1.6 1.6 0 1 0 3.2 0a1.6 1.6 0 1 0 -3.2 0M159.9 793.8m-1.6 0a1.6 1.6 0 1 0 3.2 0a1.6 1.6 0 1 0 -3.2 0M126.8 812.9m-1.6 0a1.6 1.6 0 1 0 3.2 0a1.6 1.6 0 1 0 -3.2 0M191.1 777.9m-1.6 0a1.6 1.6 0 1 0 3.2 0a1.6 1.6 0 1 0 -3.2 0M78.9 846.4m-1.6 0a1.6 1.6 0 1 0 3.2 0a1.6 1.6 0 1 0 -3.2 0M221.4 777.8m-1.6 0a1.6 1.6 0 1 0 3.2 0a1.6 1.6 0 1 0 -3.2 0M130.7 858.6m-1.6 0a1.6 1.6 0 1 0 3.2 0a1.6 1.6 0 1 0 -3.2 0M201.9 784m-1.6 0a1.6 1.6 0 1 0 3.2 0a1.6 1.6 0 1 0 -3.2 0M143.1 828.4m-1.6 0a1.6 1.6 0 1 0 3.2 0a1.6 1.6 0 1 0 -3.2 0M138.9 795.3m-1.6 0a1.6 1.6 0 1 0 3.2 0a1.6 1.6 0 1 0 -3.2 0M151.9 822.6m-1.6 0a1.6 1.6 0 1 0 3.2 0a1.6 1.6 0 1 0 -3.2 0M159.5 831.2m-1.6 0a1.6 1.6 0 1 0 3.2 0a1.6 1.6 0 1 0 -3.2 0M207.2 797.1m-1.6 0a1.6 1.6 0 1 0 3.2 0a1.6 1.6 0 1 0 -3.2 0M197.2 793m-1.6 0a1.6 1.6 0 1 0 3.2 0a1.6 1.6 0 1 0 -3.2 0M109.3 834.1m-1.6 0a1.6 1.6 0 1 0 3.2 0a1.6 1.6 0 1 0 -3.2 0M152.6 831.9m-1.6 0a1.6 1.6 0 1 0 3.2 0a1.6 1.6 0 1 0 -3.2 0M174.1 811.7m-1.6 0a1.6 1.6 0 1 0 3.2 0a1.6 1.6 0 1 0 -3.2 0M129.1 815.1m-1.6 0a1.6 1.6 0 1 0 3.2 0a1.6 1.6 0 1 0 -3.2 0M75 853.5m-1.6 0a1.6 1.6 0 1 0 3.2 0a1.6 1.6 0 1 0 -3.2 0M223.8 777.4m-1.6 0a1.6 1.6 0 1 0 3.2 0a1.6 1.6 0 1 0 -3.2 0M108.6 825.3m-1.6 0a1.6 1.6 0 1 0 3.2 0a1.6 1.6 0 1 0 -3.2 0M125.3 825m-1.6 0a1.6 1.6 0 1 0 3.2 0a1.6 1.6 0 1 0 -3.2 0M191.2 812.8m-1.6 0a1.6 1.6 0 1 0 3.2 0a1.6 1.6 0 1 0 -3.2 0M108.8 843m-1.6 0a1.6 1.6 0 1 0 3.2 0a1.6 1.6 0 1 0 -3.2 0M109 850.2m-1.6 0a1.6 1.6 0 1 0 3.2 0a1.6 1.6 0 1 0 -3.2 0M169.6 804.9m-1.6 0a1.6 1.6 0 1 0 3.2 0a1.6 1.6 0 1 0 -3.2 0M112.4 817.4m-1.6 0a1.6 1.6 0 1 0 3.2 0a1.6 1.6 0 1 0 -3.2 0M162.5 818.8m-1.6 0a1.6 1.6 0 1 0 3.2 0a1.6 1.6 0 1 0 -3.2 0M161.8 788.4m-1.6 0a1.6 1.6 0 1 0 3.2 0a1.6 1.6 0 1 0 -3.2 0M161.4 810.7m-1.6 0a1.6 1.6 0 1 0 3.2 0a1.6 1.6 0 1 0 -3.2 0M154.8 813.6m-1.6 0a1.6 1.6 0 1 0 3.2 0a1.6 1.6 0 1 0 -3.2 0M103.8 844.7m-1.6 0a1.6 1.6 0 1 0 3.2 0a1.6 1.6 0 1 0 -3.2 0M169.7 806.6m-1.6 0a1.6 1.6 0 1 0 3.2 0a1.6 1.6 0 1 0 -3.2 0M161.9 792.4m-1.6 0a1.6 1.6 0 1 0 3.2 0a1.6 1.6 0 1 0 -3.2 0M207.2 804.4m-1.6 0a1.6 1.6 0 1 0 3.2 0a1.6 1.6 0 1 0 -3.2 0M185.6 807.2m-1.6 0a1.6 1.6 0 1 0 3.2 0a1.6 1.6 0 1 0 -3.2 0M199.2 790.9m-1.6 0a1.6 1.6 0 1 0 3.2 0a1.6 1.6 0 1 0 -3.2 0M163 830.4m-1.6 0a1.6 1.6 0 1 0 3.2 0a1.6 1.6 0 1 0 -3.2 0M129.5 840.6m-1.6 0a1.6 1.6 0 1 0 3.2 0a1.6 1.6 0 1 0 -3.2 0M160 808.1m-1.6 0a1.6 1.6 0 1 0 3.2 0a1.6 1.6 0 1 0 -3.2 0M184.8 787.4m-1.6 0a1.6 1.6 0 1 0 3.2 0a1.6 1.6 0 1 0 -3.2 0M185.2 815.9m-1.6 0a1.6 1.6 0 1 0 3.2 0a1.6 1.6 0 1 0 -3.2 0M216.9 773.7m-1.6 0a1.6 1.6 0 1 0 3.2 0a1.6 1.6 0 1 0 -3.2 0M147.7 795.8m-1.6 0a1.6 1.6 0 1 0 3.2 0a1.6 1.6 0 1 0 -3.2 0M173 810.1m-1.6 0a1.6 1.6 0 1 0 3.2 0a1.6 1.6 0 1 0 -3.2 0M151.2 798.8m-1.6 0a1.6 1.6 0 1 0 3.2 0a1.6 1.6 0 1 0 -3.2 0M95.9 844.8m-1.6 0a1.6 1.6 0 1 0 3.2 0a1.6 1.6 0 1 0 -3.2 0M107.2 835.9m-1.6 0a1.6 1.6 0 1 0 3.2 0a1.6 1.6 0 1 0 -3.2 0M77.6 853.3m-1.6 0a1.6 1.6 0 1 0 3.2 0a1.6 1.6 0 1 0 -3.2 0M179.5 817.6m-1.6 0a1.6 1.6 0 1 0 3.2 0a1.6 1.6 0 1 0 -3.2 0M135.8 814.4m-1.6 0a1.6 1.6 0 1 0 3.2 0a1.6 1.6 0 1 0 -3.2 0M123.3 841m-1.6 0a1.6 1.6 0 1 0 3.2 0a1.6 1.6 0 1 0 -3.2 0M103 844.6m-1.6 0a1.6 1.6 0 1 0 3.2 0a1.6 1.6 0 1 0 -3.2 0M213.4 789.1m-1.6 0a1.6 1.6 0 1 0 3.2 0a1.6 1.6 0 1 0 -3.2 0M225.7 768.8m-1.6 0a1.6 1.6 0 1 0 3.2 0a1.6 1.6 0 1 0 -3.2 0M172.1 824.3m-1.6 0a1.6 1.6 0 1 0 3.2 0a1.6 1.6 0 1 0 -3.2 0M132.5 831.9m-1.6 0a1.6 1.6 0 1 0 3.2 0a1.6 1.6 0 1 0 -3.2 0M120.9 837.4m-1.6 0a1.6 1.6 0 1 0 3.2 0a1.6 1.6 0 1 0 -3.2 0M203.6 783.6m-1.6 0a1.6 1.6 0 1 0 3.2 0a1.6 1.6 0 1 0 -3.2 0M150.2 810.6m-1.6 0a1.6 1.6 0 1 0 3.2 0a1.6 1.6 0 1 0 -3.2 0M206.2 785m-1.6 0a1.6 1.6 0 1 0 3.2 0a1.6 1.6 0 1 0 -3.2 0M162.4 817.5m-1.6 0a1.6 1.6 0 1 0 3.2 0a1.6 1.6 0 1 0 -3.2 0M159.3 805.4m-1.6 0a1.6 1.6 0 1 0 3.2 0a1.6 1.6 0 1 0 -3.2 0M193.2 768.2m-1.6 0a1.6 1.6 0 1 0 3.2 0a1.6 1.6 0 1 0 -3.2 0M87.5 838.5m-1.6 0a1.6 1.6 0 1 0 3.2 0a1.6 1.6 0 1 0 -3.2 0M120.3 821.7m-1.6 0a1.6 1.6 0 1 0 3.2 0a1.6 1.6 0 1 0 -3.2 0M81.5 850.8m-1.6 0a1.6 1.6 0 1 0 3.2 0a1.6 1.6 0 1 0 -3.2 0M203 796m-1.6 0a1.6 1.6 0 1 0 3.2 0a1.6 1.6 0 1 0 -3.2 0M163.4 794.5m-1.6 0a1.6 1.6 0 1 0 3.2 0a1.6 1.6 0 1 0 -3.2 0M143.2 837.2m-1.6 0a1.6 1.6 0 1 0 3.2 0a1.6 1.6 0 1 0 -3.2 0M217.4 790.4m-1.6 0a1.6 1.6 0 1 0 3.2 0a1.6 1.6 0 1 0 -3.2 0M166.1 803.8m-1.6 0a1.6 1.6 0 1 0 3.2 0a1.6 1.6 0 1 0 -3.2 0M137.8 831.1m-1.6 0a1.6 1.6 0 1 0 3.2 0a1.6 1.6 0 1 0 -3.2 0M143.3 796.9m-1.6 0a1.6 1.6 0 1 0 3.2 0a1.6 1.6 0 1 0 -3.2 0M114.9 819.8m-1.6 0a1.6 1.6 0 1 0 3.2 0a1.6 1.6 0 1 0 -3.2 0M115.7 841.6m-1.6 0a1.6 1.6 0 1 0 3.2 0a1.6 1.6 0 1 0 -3.2 0M108 838.7m-1.6 0a1.6 1.6 0 1 0 3.2 0a1.6 1.6 0 1 0 -3.2 0M108.9 823.2m-1.6 0a1.6 1.6 0 1 0 3.2 0a1.6 1.6 0 1 0 -3.2 0M126.2 818.8m-1.6 0a1.6 1.6 0 1 0 3.2 0a1.6 1.6 0 1 0 -3.2 0M152.7 793.6m-1.6 0a1.6 1.6 0 1 0 3.2 0a1.6 1.6 0 1 0 -3.2 0M206.7 791.9m-1.6 0a1.6 1.6 0 1 0 3.2 0a1.6 1.6 0 1 0 -3.2 0M192.7 792m-1.6 0a1.6 1.6 0 1 0 3.2 0a1.6 1.6 0 1 0 -3.2 0M96.3 843.9m-1.6 0a1.6 1.6 0 1 0 3.2 0a1.6 1.6 0 1 0 -3.2 0M177 795.3m-1.6 0a1.6 1.6 0 1 0 3.2 0a1.6 1.6 0 1 0 -3.2 0M208.5 761.2m-1.6 0a1.6 1.6 0 1 0 3.2 0a1.6 1.6 0 1 0 -3.2 0M215 763.7m-1.6 0a1.6 1.6 0 1 0 3.2 0a1.6 1.6 0 1 0 -3.2 0M202.7 792.2m-1.6 0a1.6 1.6 0 1 0 3.2 0a1.6 1.6 0 1 0 -3.2 0M174.3 782.6m-1.6 0a1.6 1.6 0 1 0 3.2 0a1.6 1.6 0 1 0 -3.2 0M185.3 817.9m-1.6 0a1.6 1.6 0 1 0 3.2 0a1.6 1.6 0 1 0 -3.2 0M187.8 791.4m-1.6 0a1.6 1.6 0 1 0 3.2 0a1.6 1.6 0 1 0 -3.2 0M138.2 799.9m-1.6 0a1.6 1.6 0 1 0 3.2 0a1.6 1.6 0 1 0 -3.2 0M103.5 839.4m-1.6 0a1.6 1.6 0 1 0 3.2 0a1.6 1.6 0 1 0 -3.2 0M183.3 788.8m-1.6 0a1.6 1.6 0 1 0 3.2 0a1.6 1.6 0 1 0 -3.2 0M187 781.4m-1.6 0a1.6 1.6 0 1 0 3.2 0a1.6 1.6 0 1 0 -3.2 0M94 848.5m-1.6 0a1.6 1.6 0 1 0 3.2 0a1.6 1.6 0 1 0 -3.2 0M155.2 813.4m-1.6 0a1.6 1.6 0 1 0 3.2 0a1.6 1.6 0 1 0 -3.2 0M223.6 764.9m-1.6 0a1.6 1.6 0 1 0 3.2 0a1.6 1.6 0 1 0 -3.2 0M217.1 798.2m-1.6 0a1.6 1.6 0 1 0 3.2 0a1.6 1.6 0 1 0 -3.2 0M204.7 789.5m-1.6 0a1.6 1.6 0 1 0 3.2 0a1.6 1.6 0 1 0 -3.2 0M129.8 839.4m-1.6 0a1.6 1.6 0 1 0 3.2 0a1.6 1.6 0 1 0 -3.2 0M185.3 812.2m-1.6 0a1.6 1.6 0 1 0 3.2 0a1.6 1.6 0 1 0 -3.2 0M181 805.8m-1.6 0a1.6 1.6 0 1 0 3.2 0a1.6 1.6 0 1 0 -3.2 0M79.5 835.3m-1.6 0a1.6 1.6 0 1 0 3.2 0a1.6 1.6 0 1 0 -3.2 0M109.9 815.6m-1.6 0a1.6 1.6 0 1 0 3.2 0a1.6 1.6 0 1 0 -3.2 0M142.7 803.2m-1.6 0a1.6 1.6 0 1 0 3.2 0a1.6 1.6 0 1 0 -3.2 0M225.8 777.7m-1.6 0a1.6 1.6 0 1 0 3.2 0a1.6 1.6 0 1 0 -3.2 0M156.6 799.8m-1.6 0a1.6 1.6 0 1 0 3.2 0a1.6 1.6 0 1 0 -3.2 0M105.2 815.8m-1.6 0a1.6 1.6 0 1 0 3.2 0a1.6 1.6 0 1 0 -3.2 0M163.7 795.8m-1.6 0a1.6 1.6 0 1 0 3.2 0a1.6 1.6 0 1 0 -3.2 0M177.3 786.6m-1.6 0a1.6 1.6 0 1 0 3.2 0a1.6 1.6 0 1 0 -3.2 0M121.4 818m-1.6 0a1.6 1.6 0 1 0 3.2 0a1.6 1.6 0 1 0 -3.2 0M168.6 781.3m-1.6 0a1.6 1.6 0 1 0 3.2 0a1.6 1.6 0 1 0 -3.2 0M209 776.7m-1.6 0a1.6 1.6 0 1 0 3.2 0a1.6 1.6 0 1 0 -3.2 0M192.7 790.8m-1.6 0a1.6 1.6 0 1 0 3.2 0a1.6 1.6 0 1 0 -3.2 0M209.7 777.5m-1.6 0a1.6 1.6 0 1 0 3.2 0a1.6 1.6 0 1 0 -3.2 0M182 780.3m-1.6 0a1.6 1.6 0 1 0 3.2 0a1.6 1.6 0 1 0 -3.2 0M164.8 809.3m-1.6 0a1.6 1.6 0 1 0 3.2 0a1.6 1.6 0 1 0 -3.2 0M205.3 772.5m-1.6 0a1.6 1.6 0 1 0 3.2 0a1.6 1.6 0 1 0 -3.2 0M190.8 787.9m-1.6 0a1.6 1.6 0 1 0 3.2 0a1.6 1.6 0 1 0 -3.2 0M110.4 813.7m-1.6 0a1.6 1.6 0 1 0 3.2 0a1.6 1.6 0 1 0 -3.2 0M189.1 778.7m-1.6 0a1.6 1.6 0 1 0 3.2 0a1.6 1.6 0 1 0 -3.2 0M195.2 805.8m-1.6 0a1.6 1.6 0 1 0 3.2 0a1.6 1.6 0 1 0 -3.2 0M213 800.6m-1.6 0a1.6 1.6 0 1 0 3.2 0a1.6 1.6 0 1 0 -3.2 0M156.1 807.4m-1.6 0a1.6 1.6 0 1 0 3.2 0a1.6 1.6 0 1 0 -3.2 0M83.8 843.9m-1.6 0a1.6 1.6 0 1 0 3.2 0a1.6 1.6 0 1 0 -3.2 0M96.7 842m-1.6 0a1.6 1.6 0 1 0 3.2 0a1.6 1.6 0 1 0 -3.2 0M135.2 821.9m-1.6 0a1.6 1.6 0 1 0 3.2 0a1.6 1.6 0 1 0 -3.2 0M196.3 792.3m-1.6 0a1.6 1.6 0 1 0 3.2 0a1.6 1.6 0 1 0 -3.2 0M146.1 799.2m-1.6 0a1.6 1.6 0 1 0 3.2 0a1.6 1.6 0 1 0 -3.2 0M176.7 779.7m-1.6 0a1.6 1.6 0 1 0 3.2 0a1.6 1.6 0 1 0 -3.2 0M184.7 782m-1.6 0a1.6 1.6 0 1 0 3.2 0a1.6 1.6 0 1 0 -3.2 0M154.4 807.9m-1.6 0a1.6 1.6 0 1 0 3.2 0a1.6 1.6 0 1 0 -3.2 0M203.3 780.3m-1.6 0a1.6 1.6 0 1 0 3.2 0a1.6 1.6 0 1 0 -3.2 0M138.7 858.5m-1.6 0a1.6 1.6 0 1 0 3.2 0a1.6 1.6 0 1 0 -3.2 0M106.9 835.6m-1.6 0a1.6 1.6 0 1 0 3.2 0a1.6 1.6 0 1 0 -3.2 0M187 772.1m-1.6 0a1.6 1.6 0 1 0 3.2 0a1.6 1.6 0 1 0 -3.2 0M94.7 841.3m-1.6 0a1.6 1.6 0 1 0 3.2 0a1.6 1.6 0 1 0 -3.2 0M211.4 773.5m-1.6 0a1.6 1.6 0 1 0 3.2 0a1.6 1.6 0 1 0 -3.2 0M223.4 778.6m-1.6 0a1.6 1.6 0 1 0 3.2 0a1.6 1.6 0 1 0 -3.2 0M87.7 829.7m-1.6 0a1.6 1.6 0 1 0 3.2 0a1.6 1.6 0 1 0 -3.2 0M146 790.6m-1.6 0a1.6 1.6 0 1 0 3.2 0a1.6 1.6 0 1 0 -3.2 0M135.7 819.3m-1.6 0a1.6 1.6 0 1 0 3.2 0a1.6 1.6 0 1 0 -3.2 0M212.4 780.9m-1.6 0a1.6 1.6 0 1 0 3.2 0a1.6 1.6 0 1 0 -3.2 0M212.1 743.4m-1.6 0a1.6 1.6 0 1 0 3.2 0a1.6 1.6 0 1 0 -3.2 0M102.6 844.8m-1.6 0a1.6 1.6 0 1 0 3.2 0a1.6 1.6 0 1 0 -3.2 0M119.2 836.1m-1.6 0a1.6 1.6 0 1 0 3.2 0a1.6 1.6 0 1 0 -3.2 0M222.5 792.4m-1.6 0a1.6 1.6 0 1 0 3.2 0a1.6 1.6 0 1 0 -3.2 0M82.4 832.7m-1.6 0a1.6 1.6 0 1 0 3.2 0a1.6 1.6 0 1 0 -3.2 0M87.7 832.8m-1.6 0a1.6 1.6 0 1 0 3.2 0a1.6 1.6 0 1 0 -3.2 0M203.9 767.7m-1.6 0a1.6 1.6 0 1 0 3.2 0a1.6 1.6 0 1 0 -3.2 0M132.9 828.4m-1.6 0a1.6 1.6 0 1 0 3.2 0a1.6 1.6 0 1 0 -3.2 0M206.1 775.5m-1.6 0a1.6 1.6 0 1 0 3.2 0a1.6 1.6 0 1 0 -3.2 0M180.1 819.7m-1.6 0a1.6 1.6 0 1 0 3.2 0a1.6 1.6 0 1 0 -3.2 0M218.2 771.6m-1.6 0a1.6 1.6 0 1 0 3.2 0a1.6 1.6 0 1 0 -3.2 0M192.2 779.2m-1.6 0a1.6 1.6 0 1 0 3.2 0a1.6 1.6 0 1 0 -3.2 0M171.6 820.4m-1.6 0a1.6 1.6 0 1 0 3.2 0a1.6 1.6 0 1 0 -3.2 0M78.7 849.5m-1.6 0a1.6 1.6 0 1 0 3.2 0a1.6 1.6 0 1 0 -3.2 0M126 802.7m-1.6 0a1.6 1.6 0 1 0 3.2 0a1.6 1.6 0 1 0 -3.2 0M129 829.6m-1.6 0a1.6 1.6 0 1 0 3.2 0a1.6 1.6 0 1 0 -3.2 0M158.6 831.7m-1.6 0a1.6 1.6 0 1 0 3.2 0a1.6 1.6 0 1 0 -3.2 0M155.2 803.9m-1.6 0a1.6 1.6 0 1 0 3.2 0a1.6 1.6 0 1 0 -3.2 0M174.2 797.9m-1.6 0a1.6 1.6 0 1 0 3.2 0a1.6 1.6 0 1 0 -3.2 0M154.6 812.4m-1.6 0a1.6 1.6 0 1 0 3.2 0a1.6 1.6 0 1 0 -3.2 0M161.5 785.1m-1.6 0a1.6 1.6 0 1 0 3.2 0a1.6 1.6 0 1 0 -3.2 0M208 764.2m-1.6 0a1.6 1.6 0 1 0 3.2 0a1.6 1.6 0 1 0 -3.2 0M135.6 835.6m-1.6 0a1.6 1.6 0 1 0 3.2 0a1.6 1.6 0 1 0 -3.2 0M207.4 776.1m-1.6 0a1.6 1.6 0 1 0 3.2 0a1.6 1.6 0 1 0 -3.2 0M137.7 802.5m-1.6 0a1.6 1.6 0 1 0 3.2 0a1.6 1.6 0 1 0 -3.2 0M125.5 812.9m-1.6 0a1.6 1.6 0 1 0 3.2 0a1.6 1.6 0 1 0 -3.2 0M195.2 790.4m-1.6 0a1.6 1.6 0 1 0 3.2 0a1.6 1.6 0 1 0 -3.2 0M162.3 821.2m-1.6 0a1.6 1.6 0 1 0 3.2 0a1.6 1.6 0 1 0 -3.2 0M124.5 825m-1.6 0a1.6 1.6 0 1 0 3.2 0a1.6 1.6 0 1 0 -3.2 0M131.7 836m-1.6 0a1.6 1.6 0 1 0 3.2 0a1.6 1.6 0 1 0 -3.2 0M200 780.5m-1.6 0a1.6 1.6 0 1 0 3.2 0a1.6 1.6 0 1 0 -3.2 0M121 837.3m-1.6 0a1.6 1.6 0 1 0 3.2 0a1.6 1.6 0 1 0 -3.2 0M201 770.9m-1.6 0a1.6 1.6 0 1 0 3.2 0a1.6 1.6 0 1 0 -3.2 0M211.2 798.4m-1.6 0a1.6 1.6 0 1 0 3.2 0a1.6 1.6 0 1 0 -3.2 0M166.8 815.8m-1.6 0a1.6 1.6 0 1 0 3.2 0a1.6 1.6 0 1 0 -3.2 0M122.8 822.3m-1.6 0a1.6 1.6 0 1 0 3.2 0a1.6 1.6 0 1 0 -3.2 0M200.4 778.2m-1.6 0a1.6 1.6 0 1 0 3.2 0a1.6 1.6 0 1 0 -3.2 0M223.4 764.9m-1.6 0a1.6 1.6 0 1 0 3.2 0a1.6 1.6 0 1 0 -3.2 0M155.6 808.9m-1.6 0a1.6 1.6 0 1 0 3.2 0a1.6 1.6 0 1 0 -3.2 0M108.9 848.6m-1.6 0a1.6 1.6 0 1 0 3.2 0a1.6 1.6 0 1 0 -3.2 0M113.4 819.7m-1.6 0a1.6 1.6 0 1 0 3.2 0a1.6 1.6 0 1 0 -3.2 0M210.1 795.8m-1.6 0a1.6 1.6 0 1 0 3.2 0a1.6 1.6 0 1 0 -3.2 0M168.9 781.8m-1.6 0a1.6 1.6 0 1 0 3.2 0a1.6 1.6 0 1 0 -3.2 0M146.6 823m-1.6 0a1.6 1.6 0 1 0 3.2 0a1.6 1.6 0 1 0 -3.2 0M178.4 796.9m-1.6 0a1.6 1.6 0 1 0 3.2 0a1.6 1.6 0 1 0 -3.2 0M193.8 781.9m-1.6 0a1.6 1.6 0 1 0 3.2 0a1.6 1.6 0 1 0 -3.2 0M174.8 811.5m-1.6 0a1.6 1.6 0 1 0 3.2 0a1.6 1.6 0 1 0 -3.2 0M126.2 828.1m-1.6 0a1.6 1.6 0 1 0 3.2 0a1.6 1.6 0 1 0 -3.2 0M115.1 841.6m-1.6 0a1.6 1.6 0 1 0 3.2 0a1.6 1.6 0 1 0 -3.2 0M156.9 825.2m-1.6 0a1.6 1.6 0 1 0 3.2 0a1.6 1.6 0 1 0 -3.2 0M92.9 846m-1.6 0a1.6 1.6 0 1 0 3.2 0a1.6 1.6 0 1 0 -3.2 0M225.5 763.9m-1.6 0a1.6 1.6 0 1 0 3.2 0a1.6 1.6 0 1 0 -3.2 0M199.4 792.5m-1.6 0a1.6 1.6 0 1 0 3.2 0a1.6 1.6 0 1 0 -3.2 0M173.3 807.7m-1.6 0a1.6 1.6 0 1 0 3.2 0a1.6 1.6 0 1 0 -3.2 0M211.3 794.7m-1.6 0a1.6 1.6 0 1 0 3.2 0a1.6 1.6 0 1 0 -3.2 0M79.5 843.5m-1.6 0a1.6 1.6 0 1 0 3.2 0a1.6 1.6 0 1 0 -3.2 0M143.1 812.1m-1.6 0a1.6 1.6 0 1 0 3.2 0a1.6 1.6 0 1 0 -3.2 0M98.2 843.9m-1.6 0a1.6 1.6 0 1 0 3.2 0a1.6 1.6 0 1 0 -3.2 0M112.1 831.7m-1.6 0a1.6 1.6 0 1 0 3.2 0a1.6 1.6 0 1 0 -3.2 0M206 784.1m-1.6 0a1.6 1.6 0 1 0 3.2 0a1.6 1.6 0 1 0 -3.2 0M127.8 854.3m-1.6 0a1.6 1.6 0 1 0 3.2 0a1.6 1.6 0 1 0 -3.2 0M96 846.8m-1.6 0a1.6 1.6 0 1 0 3.2 0a1.6 1.6 0 1 0 -3.2 0M161.9 783.7m-1.6 0a1.6 1.6 0 1 0 3.2 0a1.6 1.6 0 1 0 -3.2 0M102.3 848.8m-1.6 0a1.6 1.6 0 1 0 3.2 0a1.6 1.6 0 1 0 -3.2 0M182 823.9m-1.6 0a1.6 1.6 0 1 0 3.2 0a1.6 1.6 0 1 0 -3.2 0M176.6 778.2m-1.6 0a1.6 1.6 0 1 0 3.2 0a1.6 1.6 0 1 0 -3.2 0M174.3 813.6m-1.6 0a1.6 1.6 0 1 0 3.2 0a1.6 1.6 0 1 0 -3.2 0M94.9 824m-1.6 0a1.6 1.6 0 1 0 3.2 0a1.6 1.6 0 1 0 -3.2 0M202.1 774.9m-1.6 0a1.6 1.6 0 1 0 3.2 0a1.6 1.6 0 1 0 -3.2 0M96.6 820.7m-1.6 0a1.6 1.6 0 1 0 3.2 0a1.6 1.6 0 1 0 -3.2 0M165.2 818.1m-1.6 0a1.6 1.6 0 1 0 3.2 0a1.6 1.6 0 1 0 -3.2 0M87.5 845.4m-1.6 0a1.6 1.6 0 1 0 3.2 0a1.6 1.6 0 1 0 -3.2 0M171 817.8m-1.6 0a1.6 1.6 0 1 0 3.2 0a1.6 1.6 0 1 0 -3.2 0M203.2 795.8m-1.6 0a1.6 1.6 0 1 0 3.2 0a1.6 1.6 0 1 0 -3.2 0M154.8 816.2m-1.6 0a1.6 1.6 0 1 0 3.2 0a1.6 1.6 0 1 0 -3.2 0M157.3 802.7m-1.6 0a1.6 1.6 0 1 0 3.2 0a1.6 1.6 0 1 0 -3.2 0M133.3 809.6m-1.6 0a1.6 1.6 0 1 0 3.2 0a1.6 1.6 0 1 0 -3.2 0M214.7 765.7m-1.6 0a1.6 1.6 0 1 0 3.2 0a1.6 1.6 0 1 0 -3.2 0M227.7 781.9m-1.6 0a1.6 1.6 0 1 0 3.2 0a1.6 1.6 0 1 0 -3.2 0M98.5 828.1m-1.6 0a1.6 1.6 0 1 0 3.2 0a1.6 1.6 0 1 0 -3.2 0M141.2 814.1m-1.6 0a1.6 1.6 0 1 0 3.2 0a1.6 1.6 0 1 0 -3.2 0M186.5 814.5m-1.6 0a1.6 1.6 0 1 0 3.2 0a1.6 1.6 0 1 0 -3.2 0M218.7 773m-1.6 0a1.6 1.6 0 1 0 3.2 0a1.6 1.6 0 1 0 -3.2 0M188.9 806.8m-1.6 0a1.6 1.6 0 1 0 3.2 0a1.6 1.6 0 1 0 -3.2 0M156.2 825.2m-1.6 0a1.6 1.6 0 1 0 3.2 0a1.6 1.6 0 1 0 -3.2 0M194.6 780.1m-1.6 0a1.6 1.6 0 1 0 3.2 0a1.6 1.6 0 1 0 -3.2 0M182.3 809.6m-1.6 0a1.6 1.6 0 1 0 3.2 0a1.6 1.6 0 1 0 -3.2 0M96.2 845.6m-1.6 0a1.6 1.6 0 1 0 3.2 0a1.6 1.6 0 1 0 -3.2 0M209.5 788m-1.6 0a1.6 1.6 0 1 0 3.2 0a1.6 1.6 0 1 0 -3.2 0M214.1 793m-1.6 0a1.6 1.6 0 1 0 3.2 0a1.6 1.6 0 1 0 -3.2 0M182.5 807.2m-1.6 0a1.6 1.6 0 1 0 3.2 0a1.6 1.6 0 1 0 -3.2 0M210.6 783.3m-1.6 0a1.6 1.6 0 1 0 3.2 0a1.6 1.6 0 1 0 -3.2 0M154.5 807.8m-1.6 0a1.6 1.6 0 1 0 3.2 0a1.6 1.6 0 1 0 -3.2 0M224.3 763.5m-1.6 0a1.6 1.6 0 1 0 3.2 0a1.6 1.6 0 1 0 -3.2 0M212.3 778.7m-1.6 0a1.6 1.6 0 1 0 3.2 0a1.6 1.6 0 1 0 -3.2 0M173.1 798.5m-1.6 0a1.6 1.6 0 1 0 3.2 0a1.6 1.6 0 1 0 -3.2 0M226.3 777.5m-1.6 0a1.6 1.6 0 1 0 3.2 0a1.6 1.6 0 1 0 -3.2 0M170.4 794.7m-1.6 0a1.6 1.6 0 1 0 3.2 0a1.6 1.6 0 1 0 -3.2 0M167.9 815.2m-1.6 0a1.6 1.6 0 1 0 3.2 0a1.6 1.6 0 1 0 -3.2 0M98 841.8m-1.6 0a1.6 1.6 0 1 0 3.2 0a1.6 1.6 0 1 0 -3.2 0M128.3 827.5m-1.6 0a1.6 1.6 0 1 0 3.2 0a1.6 1.6 0 1 0 -3.2 0M122.5 822.1m-1.6 0a1.6 1.6 0 1 0 3.2 0a1.6 1.6 0 1 0 -3.2 0M181.4 796.1m-1.6 0a1.6 1.6 0 1 0 3.2 0a1.6 1.6 0 1 0 -3.2 0M190.1 775.1m-1.6 0a1.6 1.6 0 1 0 3.2 0a1.6 1.6 0 1 0 -3.2 0M204.3 778.4m-1.6 0a1.6 1.6 0 1 0 3.2 0a1.6 1.6 0 1 0 -3.2 0M173.6 778.3m-1.6 0a1.6 1.6 0 1 0 3.2 0a1.6 1.6 0 1 0 -3.2 0M218.2 782.9m-1.6 0a1.6 1.6 0 1 0 3.2 0a1.6 1.6 0 1 0 -3.2 0M171 822.8m-1.6 0a1.6 1.6 0 1 0 3.2 0a1.6 1.6 0 1 0 -3.2 0M121.9 826.7m-1.6 0a1.6 1.6 0 1 0 3.2 0a1.6 1.6 0 1 0 -3.2 0M186.7 788.9m-1.6 0a1.6 1.6 0 1 0 3.2 0a1.6 1.6 0 1 0 -3.2 0M81.7 831.8m-1.6 0a1.6 1.6 0 1 0 3.2 0a1.6 1.6 0 1 0 -3.2 0M117.9 812.5m-1.6 0a1.6 1.6 0 1 0 3.2 0a1.6 1.6 0 1 0 -3.2 0M138.1 825.1m-1.6 0a1.6 1.6 0 1 0 3.2 0a1.6 1.6 0 1 0 -3.2 0M134.7 801.2m-1.6 0a1.6 1.6 0 1 0 3.2 0a1.6 1.6 0 1 0 -3.2 0M162.8 824.3m-1.6 0a1.6 1.6 0 1 0 3.2 0a1.6 1.6 0 1 0 -3.2 0M110.9 848.7m-1.6 0a1.6 1.6 0 1 0 3.2 0a1.6 1.6 0 1 0 -3.2 0M107.2 838.5m-1.6 0a1.6 1.6 0 1 0 3.2 0a1.6 1.6 0 1 0 -3.2 0M188.3 811.6m-1.6 0a1.6 1.6 0 1 0 3.2 0a1.6 1.6 0 1 0 -3.2 0M118.7 816.1m-1.6 0a1.6 1.6 0 1 0 3.2 0a1.6 1.6 0 1 0 -3.2 0M203.1 805m-1.6 0a1.6 1.6 0 1 0 3.2 0a1.6 1.6 0 1 0 -3.2 0M88 851.8m-1.6 0a1.6 1.6 0 1 0 3.2 0a1.6 1.6 0 1 0 -3.2 0M196 774.6m-1.6 0a1.6 1.6 0 1 0 3.2 0a1.6 1.6 0 1 0 -3.2 0M192.8 781.1m-1.6 0a1.6 1.6 0 1 0 3.2 0a1.6 1.6 0 1 0 -3.2 0M204.9 803m-1.6 0a1.6 1.6 0 1 0 3.2 0a1.6 1.6 0 1 0 -3.2 0M198.4 806.1m-1.6 0a1.6 1.6 0 1 0 3.2 0a1.6 1.6 0 1 0 -3.2 0M94 852.7m-1.6 0a1.6 1.6 0 1 0 3.2 0a1.6 1.6 0 1 0 -3.2 0M113.7 822.7m-1.6 0a1.6 1.6 0 1 0 3.2 0a1.6 1.6 0 1 0 -3.2 0M180 773.1m-1.6 0a1.6 1.6 0 1 0 3.2 0a1.6 1.6 0 1 0 -3.2 0M104.4 839m-1.6 0a1.6 1.6 0 1 0 3.2 0a1.6 1.6 0 1 0 -3.2 0M194 808.7m-1.6 0a1.6 1.6 0 1 0 3.2 0a1.6 1.6 0 1 0 -3.2 0M136.3 828.2m-1.6 0a1.6 1.6 0 1 0 3.2 0a1.6 1.6 0 1 0 -3.2 0M144.7 817.7m-1.6 0a1.6 1.6 0 1 0 3.2 0a1.6 1.6 0 1 0 -3.2 0M167.7 784.1m-1.6 0a1.6 1.6 0 1 0 3.2 0a1.6 1.6 0 1 0 -3.2 0M174 808.1m-1.6 0a1.6 1.6 0 1 0 3.2 0a1.6 1.6 0 1 0 -3.2 0M143.7 832.9m-1.6 0a1.6 1.6 0 1 0 3.2 0a1.6 1.6 0 1 0 -3.2 0M147.6 806.8m-1.6 0a1.6 1.6 0 1 0 3.2 0a1.6 1.6 0 1 0 -3.2 0M163.6 802.3m-1.6 0a1.6 1.6 0 1 0 3.2 0a1.6 1.6 0 1 0 -3.2 0M134.6 811.9m-1.6 0a1.6 1.6 0 1 0 3.2 0a1.6 1.6 0 1 0 -3.2 0M189.3 769m-1.6 0a1.6 1.6 0 1 0 3.2 0a1.6 1.6 0 1 0 -3.2 0M170 800.5m-1.6 0a1.6 1.6 0 1 0 3.2 0a1.6 1.6 0 1 0 -3.2 0M85 829.5m-1.6 0a1.6 1.6 0 1 0 3.2 0a1.6 1.6 0 1 0 -3.2 0M215.9 779.1m-1.6 0a1.6 1.6 0 1 0 3.2 0a1.6 1.6 0 1 0 -3.2 0M98 823.3m-1.6 0a1.6 1.6 0 1 0 3.2 0a1.6 1.6 0 1 0 -3.2 0M209.2 801.1m-1.6 0a1.6 1.6 0 1 0 3.2 0a1.6 1.6 0 1 0 -3.2 0M145.6 799m-1.6 0a1.6 1.6 0 1 0 3.2 0a1.6 1.6 0 1 0 -3.2 0M150.9 828.4m-1.6 0a1.6 1.6 0 1 0 3.2 0a1.6 1.6 0 1 0 -3.2 0M161 816.7m-1.6 0a1.6 1.6 0 1 0 3.2 0a1.6 1.6 0 1 0 -3.2 0M115.4 829.8m-1.6 0a1.6 1.6 0 1 0 3.2 0a1.6 1.6 0 1 0 -3.2 0M224.1 764.1m-1.6 0a1.6 1.6 0 1 0 3.2 0a1.6 1.6 0 1 0 -3.2 0M121 836.7m-1.6 0a1.6 1.6 0 1 0 3.2 0a1.6 1.6 0 1 0 -3.2 0M221 750m-1.6 0a1.6 1.6 0 1 0 3.2 0a1.6 1.6 0 1 0 -3.2 0M196 804m-1.6 0a1.6 1.6 0 1 0 3.2 0a1.6 1.6 0 1 0 -3.2 0M176.3 774.3m-1.6 0a1.6 1.6 0 1 0 3.2 0a1.6 1.6 0 1 0 -3.2 0M213.4 770.9m-1.6 0a1.6 1.6 0 1 0 3.2 0a1.6 1.6 0 1 0 -3.2 0M174.4 811.9m-1.6 0a1.6 1.6 0 1 0 3.2 0a1.6 1.6 0 1 0 -3.2 0M149.7 813.1m-1.6 0a1.6 1.6 0 1 0 3.2 0a1.6 1.6 0 1 0 -3.2 0M178.3 821.6m-1.6 0a1.6 1.6 0 1 0 3.2 0a1.6 1.6 0 1 0 -3.2 0M193.5 754.9m-1.6 0a1.6 1.6 0 1 0 3.2 0a1.6 1.6 0 1 0 -3.2 0M174.3 792m-1.6 0a1.6 1.6 0 1 0 3.2 0a1.6 1.6 0 1 0 -3.2 0M176.5 793.5m-1.6 0a1.6 1.6 0 1 0 3.2 0a1.6 1.6 0 1 0 -3.2 0M103.3 822.8m-1.6 0a1.6 1.6 0 1 0 3.2 0a1.6 1.6 0 1 0 -3.2 0M174.7 822.7m-1.6 0a1.6 1.6 0 1 0 3.2 0a1.6 1.6 0 1 0 -3.2 0M125.5 826.6m-1.6 0a1.6 1.6 0 1 0 3.2 0a1.6 1.6 0 1 0 -3.2 0M153.7 825.2m-1.6 0a1.6 1.6 0 1 0 3.2 0a1.6 1.6 0 1 0 -3.2 0M143.7 797.9m-1.6 0a1.6 1.6 0 1 0 3.2 0a1.6 1.6 0 1 0 -3.2 0M201.4 800.5m-1.6 0a1.6 1.6 0 1 0 3.2 0a1.6 1.6 0 1 0 -3.2 0M192.5 783.4m-1.6 0a1.6 1.6 0 1 0 3.2 0a1.6 1.6 0 1 0 -3.2 0M105.8 842.2m-1.6 0a1.6 1.6 0 1 0 3.2 0a1.6 1.6 0 1 0 -3.2 0M120.7 841.3m-1.6 0a1.6 1.6 0 1 0 3.2 0a1.6 1.6 0 1 0 -3.2 0M186 812.7m-1.6 0a1.6 1.6 0 1 0 3.2 0a1.6 1.6 0 1 0 -3.2 0M200.5 778.1m-1.6 0a1.6 1.6 0 1 0 3.2 0a1.6 1.6 0 1 0 -3.2 0M223.5 768.5m-1.6 0a1.6 1.6 0 1 0 3.2 0a1.6 1.6 0 1 0 -3.2 0M147.1 835.1m-1.6 0a1.6 1.6 0 1 0 3.2 0a1.6 1.6 0 1 0 -3.2 0M151 828.4m-1.6 0a1.6 1.6 0 1 0 3.2 0a1.6 1.6 0 1 0 -3.2 0M184.9 800.4m-1.6 0a1.6 1.6 0 1 0 3.2 0a1.6 1.6 0 1 0 -3.2 0M223.3 774.4m-1.6 0a1.6 1.6 0 1 0 3.2 0a1.6 1.6 0 1 0 -3.2 0M219.9 785.5m-1.6 0a1.6 1.6 0 1 0 3.2 0a1.6 1.6 0 1 0 -3.2 0M170 812.4m-1.6 0a1.6 1.6 0 1 0 3.2 0a1.6 1.6 0 1 0 -3.2 0M131.4 818.5m-1.6 0a1.6 1.6 0 1 0 3.2 0a1.6 1.6 0 1 0 -3.2 0M108.1 819.9m-1.6 0a1.6 1.6 0 1 0 3.2 0a1.6 1.6 0 1 0 -3.2 0M160.8 822.4m-1.6 0a1.6 1.6 0 1 0 3.2 0a1.6 1.6 0 1 0 -3.2 0M149.6 835.4m-1.6 0a1.6 1.6 0 1 0 3.2 0a1.6 1.6 0 1 0 -3.2 0M190.7 805.7m-1.6 0a1.6 1.6 0 1 0 3.2 0a1.6 1.6 0 1 0 -3.2 0M153.5 794.8m-1.6 0a1.6 1.6 0 1 0 3.2 0a1.6 1.6 0 1 0 -3.2 0M156.1 796.8m-1.6 0a1.6 1.6 0 1 0 3.2 0a1.6 1.6 0 1 0 -3.2 0M172 803.1m-1.6 0a1.6 1.6 0 1 0 3.2 0a1.6 1.6 0 1 0 -3.2 0M173.5 824.4m-1.6 0a1.6 1.6 0 1 0 3.2 0a1.6 1.6 0 1 0 -3.2 0M214.2 777.1m-1.6 0a1.6 1.6 0 1 0 3.2 0a1.6 1.6 0 1 0 -3.2 0M196.6 777.5m-1.6 0a1.6 1.6 0 1 0 3.2 0a1.6 1.6 0 1 0 -3.2 0M170.2 820.9m-1.6 0a1.6 1.6 0 1 0 3.2 0a1.6 1.6 0 1 0 -3.2 0M177.6 801.3m-1.6 0a1.6 1.6 0 1 0 3.2 0a1.6 1.6 0 1 0 -3.2 0M224.2 766.6m-1.6 0a1.6 1.6 0 1 0 3.2 0a1.6 1.6 0 1 0 -3.2 0M165.7 822.4m-1.6 0a1.6 1.6 0 1 0 3.2 0a1.6 1.6 0 1 0 -3.2 0M110.6 843.2m-1.6 0a1.6 1.6 0 1 0 3.2 0a1.6 1.6 0 1 0 -3.2 0M198.7 772.3m-1.6 0a1.6 1.6 0 1 0 3.2 0a1.6 1.6 0 1 0 -3.2 0M200.5 783m-1.6 0a1.6 1.6 0 1 0 3.2 0a1.6 1.6 0 1 0 -3.2 0M146.7 824.6m-1.6 0a1.6 1.6 0 1 0 3.2 0a1.6 1.6 0 1 0 -3.2 0M184.5 773.4m-1.6 0a1.6 1.6 0 1 0 3.2 0a1.6 1.6 0 1 0 -3.2 0M161.7 812.6m-1.6 0a1.6 1.6 0 1 0 3.2 0a1.6 1.6 0 1 0 -3.2 0M171.2 783.3m-1.6 0a1.6 1.6 0 1 0 3.2 0a1.6 1.6 0 1 0 -3.2 0M212.6 786.2m-1.6 0a1.6 1.6 0 1 0 3.2 0a1.6 1.6 0 1 0 -3.2 0M190.4 803.6m-1.6 0a1.6 1.6 0 1 0 3.2 0a1.6 1.6 0 1 0 -3.2 0M103 826.6m-1.6 0a1.6 1.6 0 1 0 3.2 0a1.6 1.6 0 1 0 -3.2 0M199.4 781.2m-1.6 0a1.6 1.6 0 1 0 3.2 0a1.6 1.6 0 1 0 -3.2 0M78.4 841.1m-1.6 0a1.6 1.6 0 1 0 3.2 0a1.6 1.6 0 1 0 -3.2 0M225.4 760.5m-1.6 0a1.6 1.6 0 1 0 3.2 0a1.6 1.6 0 1 0 -3.2 0M164.6 781m-1.6 0a1.6 1.6 0 1 0 3.2 0a1.6 1.6 0 1 0 -3.2 0M137.5 799.1m-1.6 0a1.6 1.6 0 1 0 3.2 0a1.6 1.6 0 1 0 -3.2 0M206 792.3m-1.6 0a1.6 1.6 0 1 0 3.2 0a1.6 1.6 0 1 0 -3.2 0M99.2 831.2m-1.6 0a1.6 1.6 0 1 0 3.2 0a1.6 1.6 0 1 0 -3.2 0M131.3 808.2m-1.6 0a1.6 1.6 0 1 0 3.2 0a1.6 1.6 0 1 0 -3.2 0M107.5 810m-1.6 0a1.6 1.6 0 1 0 3.2 0a1.6 1.6 0 1 0 -3.2 0M138.7 795.7m-1.6 0a1.6 1.6 0 1 0 3.2 0a1.6 1.6 0 1 0 -3.2 0M208.4 781m-1.6 0a1.6 1.6 0 1 0 3.2 0a1.6 1.6 0 1 0 -3.2 0M159.8 822.7m-1.6 0a1.6 1.6 0 1 0 3.2 0a1.6 1.6 0 1 0 -3.2 0M125.5 805.9m-1.6 0a1.6 1.6 0 1 0 3.2 0a1.6 1.6 0 1 0 -3.2 0M132.2 800.7m-1.6 0a1.6 1.6 0 1 0 3.2 0a1.6 1.6 0 1 0 -3.2 0M218.3 794.7m-1.6 0a1.6 1.6 0 1 0 3.2 0a1.6 1.6 0 1 0 -3.2 0M168.2 809.3m-1.6 0a1.6 1.6 0 1 0 3.2 0a1.6 1.6 0 1 0 -3.2 0M150.9 810.5m-1.6 0a1.6 1.6 0 1 0 3.2 0a1.6 1.6 0 1 0 -3.2 0M136.7 835.8m-1.6 0a1.6 1.6 0 1 0 3.2 0a1.6 1.6 0 1 0 -3.2 0M149.7 830.9m-1.6 0a1.6 1.6 0 1 0 3.2 0a1.6 1.6 0 1 0 -3.2 0M179.2 790.2m-1.6 0a1.6 1.6 0 1 0 3.2 0a1.6 1.6 0 1 0 -3.2 0M228 765.5m-1.6 0a1.6 1.6 0 1 0 3.2 0a1.6 1.6 0 1 0 -3.2 0M195.2 785.7m-1.6 0a1.6 1.6 0 1 0 3.2 0a1.6 1.6 0 1 0 -3.2 0M193.2 773.3m-1.6 0a1.6 1.6 0 1 0 3.2 0a1.6 1.6 0 1 0 -3.2 0M175.9 818m-1.6 0a1.6 1.6 0 1 0 3.2 0a1.6 1.6 0 1 0 -3.2 0M193.1 801.6m-1.6 0a1.6 1.6 0 1 0 3.2 0a1.6 1.6 0 1 0 -3.2 0M213.4 776m-1.6 0a1.6 1.6 0 1 0 3.2 0a1.6 1.6 0 1 0 -3.2 0M170.3 822.5m-1.6 0a1.6 1.6 0 1 0 3.2 0a1.6 1.6 0 1 0 -3.2 0M222.9 793.1m-1.6 0a1.6 1.6 0 1 0 3.2 0a1.6 1.6 0 1 0 -3.2 0M219.7 811.6m-1.6 0a1.6 1.6 0 1 0 3.2 0a1.6 1.6 0 1 0 -3.2 0M177.5 791m-1.6 0a1.6 1.6 0 1 0 3.2 0a1.6 1.6 0 1 0 -3.2 0M218.8 776.7m-1.6 0a1.6 1.6 0 1 0 3.2 0a1.6 1.6 0 1 0 -3.2 0M150 805.9m-1.6 0a1.6 1.6 0 1 0 3.2 0a1.6 1.6 0 1 0 -3.2 0M177.3 819.1m-1.6 0a1.6 1.6 0 1 0 3.2 0a1.6 1.6 0 1 0 -3.2 0M166.8 791.3m-1.6 0a1.6 1.6 0 1 0 3.2 0a1.6 1.6 0 1 0 -3.2 0M226.6 787.1m-1.6 0a1.6 1.6 0 1 0 3.2 0a1.6 1.6 0 1 0 -3.2 0M223.8 761.4m-1.6 0a1.6 1.6 0 1 0 3.2 0a1.6 1.6 0 1 0 -3.2 0M183.2 802.3m-1.6 0a1.6 1.6 0 1 0 3.2 0a1.6 1.6 0 1 0 -3.2 0M191 774.8m-1.6 0a1.6 1.6 0 1 0 3.2 0a1.6 1.6 0 1 0 -3.2 0M109.9 841.9m-1.6 0a1.6 1.6 0 1 0 3.2 0a1.6 1.6 0 1 0 -3.2 0M189.7 784.3m-1.6 0a1.6 1.6 0 1 0 3.2 0a1.6 1.6 0 1 0 -3.2 0M100.8 841m-1.6 0a1.6 1.6 0 1 0 3.2 0a1.6 1.6 0 1 0 -3.2 0M120.6 829.1m-1.6 0a1.6 1.6 0 1 0 3.2 0a1.6 1.6 0 1 0 -3.2 0M161.9 825.3m-1.6 0a1.6 1.6 0 1 0 3.2 0a1.6 1.6 0 1 0 -3.2 0M171.5 812.3m-1.6 0a1.6 1.6 0 1 0 3.2 0a1.6 1.6 0 1 0 -3.2 0M218.4 753.2m-1.6 0a1.6 1.6 0 1 0 3.2 0a1.6 1.6 0 1 0 -3.2 0M215.3 781.6m-1.6 0a1.6 1.6 0 1 0 3.2 0a1.6 1.6 0 1 0 -3.2 0M215.7 770.7m-1.6 0a1.6 1.6 0 1 0 3.2 0a1.6 1.6 0 1 0 -3.2 0M90.9 832.6m-1.6 0a1.6 1.6 0 1 0 3.2 0a1.6 1.6 0 1 0 -3.2 0M203.7 782.6m-1.6 0a1.6 1.6 0 1 0 3.2 0a1.6 1.6 0 1 0 -3.2 0M96.1 828.3m-1.6 0a1.6 1.6 0 1 0 3.2 0a1.6 1.6 0 1 0 -3.2 0M125.6 841.8m-1.6 0a1.6 1.6 0 1 0 3.2 0a1.6 1.6 0 1 0 -3.2 0M202.7 792.5m-1.6 0a1.6 1.6 0 1 0 3.2 0a1.6 1.6 0 1 0 -3.2 0M196.3 774.8m-1.6 0a1.6 1.6 0 1 0 3.2 0a1.6 1.6 0 1 0 -3.2 0M203.8 772m-1.6 0a1.6 1.6 0 1 0 3.2 0a1.6 1.6 0 1 0 -3.2 0M127.5 816.5m-1.6 0a1.6 1.6 0 1 0 3.2 0a1.6 1.6 0 1 0 -3.2 0M220.7 768.5m-1.6 0a1.6 1.6 0 1 0 3.2 0a1.6 1.6 0 1 0 -3.2 0M208.1 790m-1.6 0a1.6 1.6 0 1 0 3.2 0a1.6 1.6 0 1 0 -3.2 0M176.5 803.6m-1.6 0a1.6 1.6 0 1 0 3.2 0a1.6 1.6 0 1 0 -3.2 0M182.8 798.8m-1.6 0a1.6 1.6 0 1 0 3.2 0a1.6 1.6 0 1 0 -3.2 0M216.9 772.5m-1.6 0a1.6 1.6 0 1 0 3.2 0a1.6 1.6 0 1 0 -3.2 0M123.7 826.1m-1.6 0a1.6 1.6 0 1 0 3.2 0a1.6 1.6 0 1 0 -3.2 0M96 821.6m-1.6 0a1.6 1.6 0 1 0 3.2 0a1.6 1.6 0 1 0 -3.2 0M111.2 849.2m-1.6 0a1.6 1.6 0 1 0 3.2 0a1.6 1.6 0 1 0 -3.2 0M170.8 822.2m-1.6 0a1.6 1.6 0 1 0 3.2 0a1.6 1.6 0 1 0 -3.2 0M193.2 769m-1.6 0a1.6 1.6 0 1 0 3.2 0a1.6 1.6 0 1 0 -3.2 0M206.8 796.9m-1.6 0a1.6 1.6 0 1 0 3.2 0a1.6 1.6 0 1 0 -3.2 0M76.4 851.8m-1.6 0a1.6 1.6 0 1 0 3.2 0a1.6 1.6 0 1 0 -3.2 0M117.1 838.9m-1.6 0a1.6 1.6 0 1 0 3.2 0a1.6 1.6 0 1 0 -3.2 0M207.5 764.8m-1.6 0a1.6 1.6 0 1 0 3.2 0a1.6 1.6 0 1 0 -3.2 0M118 844m-1.6 0a1.6 1.6 0 1 0 3.2 0a1.6 1.6 0 1 0 -3.2 0M207.3 760.3m-1.6 0a1.6 1.6 0 1 0 3.2 0a1.6 1.6 0 1 0 -3.2 0M104.4 839.5m-1.6 0a1.6 1.6 0 1 0 3.2 0a1.6 1.6 0 1 0 -3.2 0M127.3 836.8m-1.6 0a1.6 1.6 0 1 0 3.2 0a1.6 1.6 0 1 0 -3.2 0M217.2 795.3m-1.6 0a1.6 1.6 0 1 0 3.2 0a1.6 1.6 0 1 0 -3.2 0M225.6 776.6m-1.6 0a1.6 1.6 0 1 0 3.2 0a1.6 1.6 0 1 0 -3.2 0M117.7 821.3m-1.6 0a1.6 1.6 0 1 0 3.2 0a1.6 1.6 0 1 0 -3.2 0M181.8 813.7m-1.6 0a1.6 1.6 0 1 0 3.2 0a1.6 1.6 0 1 0 -3.2 0M160.8 794.9m-1.6 0a1.6 1.6 0 1 0 3.2 0a1.6 1.6 0 1 0 -3.2 0M223.8 762.2m-1.6 0a1.6 1.6 0 1 0 3.2 0a1.6 1.6 0 1 0 -3.2 0M179.8 816m-1.6 0a1.6 1.6 0 1 0 3.2 0a1.6 1.6 0 1 0 -3.2 0M116.1 842.1m-1.6 0a1.6 1.6 0 1 0 3.2 0a1.6 1.6 0 1 0 -3.2 0M195.9 768.1m-1.6 0a1.6 1.6 0 1 0 3.2 0a1.6 1.6 0 1 0 -3.2 0M137 814.2m-1.6 0a1.6 1.6 0 1 0 3.2 0a1.6 1.6 0 1 0 -3.2 0M166.5 811.8m-1.6 0a1.6 1.6 0 1 0 3.2 0a1.6 1.6 0 1 0 -3.2 0M217.4 790.3m-1.6 0a1.6 1.6 0 1 0 3.2 0a1.6 1.6 0 1 0 -3.2 0M153.7 804.7m-1.6 0a1.6 1.6 0 1 0 3.2 0a1.6 1.6 0 1 0 -3.2 0M205.6 786.5m-1.6 0a1.6 1.6 0 1 0 3.2 0a1.6 1.6 0 1 0 -3.2 0M153.2 814.3m-1.6 0a1.6 1.6 0 1 0 3.2 0a1.6 1.6 0 1 0 -3.2 0M183.6 784.8m-1.6 0a1.6 1.6 0 1 0 3.2 0a1.6 1.6 0 1 0 -3.2 0M138 800m-1.6 0a1.6 1.6 0 1 0 3.2 0a1.6 1.6 0 1 0 -3.2 0M181.6 801.1m-1.6 0a1.6 1.6 0 1 0 3.2 0a1.6 1.6 0 1 0 -3.2 0M144.8 797.2m-1.6 0a1.6 1.6 0 1 0 3.2 0a1.6 1.6 0 1 0 -3.2 0M138.2 821.4m-1.6 0a1.6 1.6 0 1 0 3.2 0a1.6 1.6 0 1 0 -3.2 0M140.6 799.9m-1.6 0a1.6 1.6 0 1 0 3.2 0a1.6 1.6 0 1 0 -3.2 0M147.4 807.3m-1.6 0a1.6 1.6 0 1 0 3.2 0a1.6 1.6 0 1 0 -3.2 0M128 806.4m-1.6 0a1.6 1.6 0 1 0 3.2 0a1.6 1.6 0 1 0 -3.2 0M159.8 789.6m-1.6 0a1.6 1.6 0 1 0 3.2 0a1.6 1.6 0 1 0 -3.2 0M155.8 810.2m-1.6 0a1.6 1.6 0 1 0 3.2 0a1.6 1.6 0 1 0 -3.2 0M179.6 798.6m-1.6 0a1.6 1.6 0 1 0 3.2 0a1.6 1.6 0 1 0 -3.2 0M136.6 809.7m-1.6 0a1.6 1.6 0 1 0 3.2 0a1.6 1.6 0 1 0 -3.2 0M167 801.3m-1.6 0a1.6 1.6 0 1 0 3.2 0a1.6 1.6 0 1 0 -3.2 0M140 793.6m-1.6 0a1.6 1.6 0 1 0 3.2 0a1.6 1.6 0 1 0 -3.2 0M173.4 796.9m-1.6 0a1.6 1.6 0 1 0 3.2 0a1.6 1.6 0 1 0 -3.2 0M128.8 838.9m-1.6 0a1.6 1.6 0 1 0 3.2 0a1.6 1.6 0 1 0 -3.2 0M204.4 769.8m-1.6 0a1.6 1.6 0 1 0 3.2 0a1.6 1.6 0 1 0 -3.2 0M197.7 798.1m-1.6 0a1.6 1.6 0 1 0 3.2 0a1.6 1.6 0 1 0 -3.2 0M204.3 763.7m-1.6 0a1.6 1.6 0 1 0 3.2 0a1.6 1.6 0 1 0 -3.2 0M137 833.3m-1.6 0a1.6 1.6 0 1 0 3.2 0a1.6 1.6 0 1 0 -3.2 0M175.5 785.8m-1.6 0a1.6 1.6 0 1 0 3.2 0a1.6 1.6 0 1 0 -3.2 0M203.4 784m-1.6 0a1.6 1.6 0 1 0 3.2 0a1.6 1.6 0 1 0 -3.2 0M179 791.5m-1.6 0a1.6 1.6 0 1 0 3.2 0a1.6 1.6 0 1 0 -3.2 0M217.4 792.5m-1.6 0a1.6 1.6 0 1 0 3.2 0a1.6 1.6 0 1 0 -3.2 0M228.4 769.1m-1.6 0a1.6 1.6 0 1 0 3.2 0a1.6 1.6 0 1 0 -3.2 0M198.1 816.3m-1.6 0a1.6 1.6 0 1 0 3.2 0a1.6 1.6 0 1 0 -3.2 0M212.5 761.1m-1.6 0a1.6 1.6 0 1 0 3.2 0a1.6 1.6 0 1 0 -3.2 0M191.3 789m-1.6 0a1.6 1.6 0 1 0 3.2 0a1.6 1.6 0 1 0 -3.2 0M93.6 851.2m-1.6 0a1.6 1.6 0 1 0 3.2 0a1.6 1.6 0 1 0 -3.2 0M156.4 843.6m-1.6 0a1.6 1.6 0 1 0 3.2 0a1.6 1.6 0 1 0 -3.2 0M120.2 855.8m-1.6 0a1.6 1.6 0 1 0 3.2 0a1.6 1.6 0 1 0 -3.2 0M139 829.1m-1.6 0a1.6 1.6 0 1 0 3.2 0a1.6 1.6 0 1 0 -3.2 0M122 827.4m-1.6 0a1.6 1.6 0 1 0 3.2 0a1.6 1.6 0 1 0 -3.2 0M136.4 802.1m-1.6 0a1.6 1.6 0 1 0 3.2 0a1.6 1.6 0 1 0 -3.2 0M135.2 841.9m-1.6 0a1.6 1.6 0 1 0 3.2 0a1.6 1.6 0 1 0 -3.2 0M168.7 787.1m-1.6 0a1.6 1.6 0 1 0 3.2 0a1.6 1.6 0 1 0 -3.2 0M201.8 778.1m-1.6 0a1.6 1.6 0 1 0 3.2 0a1.6 1.6 0 1 0 -3.2 0M111.8 828.2m-1.6 0a1.6 1.6 0 1 0 3.2 0a1.6 1.6 0 1 0 -3.2 0M208.8 777.6m-1.6 0a1.6 1.6 0 1 0 3.2 0a1.6 1.6 0 1 0 -3.2 0M134.7 801.4m-1.6 0a1.6 1.6 0 1 0 3.2 0a1.6 1.6 0 1 0 -3.2 0M213.4 776.1m-1.6 0a1.6 1.6 0 1 0 3.2 0a1.6 1.6 0 1 0 -3.2 0M193.6 771m-1.6 0a1.6 1.6 0 1 0 3.2 0a1.6 1.6 0 1 0 -3.2 0M130.7 815.3m-1.6 0a1.6 1.6 0 1 0 3.2 0a1.6 1.6 0 1 0 -3.2 0M217 788.9m-1.6 0a1.6 1.6 0 1 0 3.2 0a1.6 1.6 0 1 0 -3.2 0M99.3 841.7m-1.6 0a1.6 1.6 0 1 0 3.2 0a1.6 1.6 0 1 0 -3.2 0M149.8 832.2m-1.6 0a1.6 1.6 0 1 0 3.2 0a1.6 1.6 0 1 0 -3.2 0M106 827.4m-1.6 0a1.6 1.6 0 1 0 3.2 0a1.6 1.6 0 1 0 -3.2 0M197.7 790m-1.6 0a1.6 1.6 0 1 0 3.2 0a1.6 1.6 0 1 0 -3.2 0M155.5 799m-1.6 0a1.6 1.6 0 1 0 3.2 0a1.6 1.6 0 1 0 -3.2 0M179.2 818.3m-1.6 0a1.6 1.6 0 1 0 3.2 0a1.6 1.6 0 1 0 -3.2 0M109 852.5m-1.6 0a1.6 1.6 0 1 0 3.2 0a1.6 1.6 0 1 0 -3.2 0M161.5 788.4m-1.6 0a1.6 1.6 0 1 0 3.2 0a1.6 1.6 0 1 0 -3.2 0M221.3 773.8m-1.6 0a1.6 1.6 0 1 0 3.2 0a1.6 1.6 0 1 0 -3.2 0M122 828.9m-1.6 0a1.6 1.6 0 1 0 3.2 0a1.6 1.6 0 1 0 -3.2 0M228.5 782.8m-1.6 0a1.6 1.6 0 1 0 3.2 0a1.6 1.6 0 1 0 -3.2 0M95.3 842.3m-1.6 0a1.6 1.6 0 1 0 3.2 0a1.6 1.6 0 1 0 -3.2 0M184 794.2m-1.6 0a1.6 1.6 0 1 0 3.2 0a1.6 1.6 0 1 0 -3.2 0M120.4 824.8m-1.6 0a1.6 1.6 0 1 0 3.2 0a1.6 1.6 0 1 0 -3.2 0M181.6 774.9m-1.6 0a1.6 1.6 0 1 0 3.2 0a1.6 1.6 0 1 0 -3.2 0M186 815.6m-1.6 0a1.6 1.6 0 1 0 3.2 0a1.6 1.6 0 1 0 -3.2 0M184.4 805.4m-1.6 0a1.6 1.6 0 1 0 3.2 0a1.6 1.6 0 1 0 -3.2 0M138.3 839.7m-1.6 0a1.6 1.6 0 1 0 3.2 0a1.6 1.6 0 1 0 -3.2 0M176.4 820.6m-1.6 0a1.6 1.6 0 1 0 3.2 0a1.6 1.6 0 1 0 -3.2 0M120 844.4m-1.6 0a1.6 1.6 0 1 0 3.2 0a1.6 1.6 0 1 0 -3.2 0M176.4 809.9m-1.6 0a1.6 1.6 0 1 0 3.2 0a1.6 1.6 0 1 0 -3.2 0M136.1 803.4m-1.6 0a1.6 1.6 0 1 0 3.2 0a1.6 1.6 0 1 0 -3.2 0M117.5 819.5m-1.6 0a1.6 1.6 0 1 0 3.2 0a1.6 1.6 0 1 0 -3.2 0M216.2 766.9m-1.6 0a1.6 1.6 0 1 0 3.2 0a1.6 1.6 0 1 0 -3.2 0M105.5 842.8m-1.6 0a1.6 1.6 0 1 0 3.2 0a1.6 1.6 0 1 0 -3.2 0M213.5 771m-1.6 0a1.6 1.6 0 1 0 3.2 0a1.6 1.6 0 1 0 -3.2 0M165 823.7m-1.6 0a1.6 1.6 0 1 0 3.2 0a1.6 1.6 0 1 0 -3.2 0M78.4 835.4m-1.6 0a1.6 1.6 0 1 0 3.2 0a1.6 1.6 0 1 0 -3.2 0M138.7 811.4m-1.6 0a1.6 1.6 0 1 0 3.2 0a1.6 1.6 0 1 0 -3.2 0M179.1 780.2m-1.6 0a1.6 1.6 0 1 0 3.2 0a1.6 1.6 0 1 0 -3.2 0M150.3 825.2m-1.6 0a1.6 1.6 0 1 0 3.2 0a1.6 1.6 0 1 0 -3.2 0M160.4 817m-1.6 0a1.6 1.6 0 1 0 3.2 0a1.6 1.6 0 1 0 -3.2 0M119.2 843.7m-1.6 0a1.6 1.6 0 1 0 3.2 0a1.6 1.6 0 1 0 -3.2 0M166.8 787.6m-1.6 0a1.6 1.6 0 1 0 3.2 0a1.6 1.6 0 1 0 -3.2 0M164.3 819.7m-1.6 0a1.6 1.6 0 1 0 3.2 0a1.6 1.6 0 1 0 -3.2 0M174.2 818.5m-1.6 0a1.6 1.6 0 1 0 3.2 0a1.6 1.6 0 1 0 -3.2 0M134.1 812.1m-1.6 0a1.6 1.6 0 1 0 3.2 0a1.6 1.6 0 1 0 -3.2 0M162.2 788.9m-1.6 0a1.6 1.6 0 1 0 3.2 0a1.6 1.6 0 1 0 -3.2 0M125.4 808.6m-1.6 0a1.6 1.6 0 1 0 3.2 0a1.6 1.6 0 1 0 -3.2 0M206.9 793.6m-1.6 0a1.6 1.6 0 1 0 3.2 0a1.6 1.6 0 1 0 -3.2 0M87.5 829.4m-1.6 0a1.6 1.6 0 1 0 3.2 0a1.6 1.6 0 1 0 -3.2 0M133 809.1m-1.6 0a1.6 1.6 0 1 0 3.2 0a1.6 1.6 0 1 0 -3.2 0M156.3 819m-1.6 0a1.6 1.6 0 1 0 3.2 0a1.6 1.6 0 1 0 -3.2 0M110.8 845.4m-1.6 0a1.6 1.6 0 1 0 3.2 0a1.6 1.6 0 1 0 -3.2 0M125.6 818.2m-1.6 0a1.6 1.6 0 1 0 3.2 0a1.6 1.6 0 1 0 -3.2 0M122.2 810.2m-1.6 0a1.6 1.6 0 1 0 3.2 0a1.6 1.6 0 1 0 -3.2 0M168.6 824.6m-1.6 0a1.6 1.6 0 1 0 3.2 0a1.6 1.6 0 1 0 -3.2 0M153.9 812.1m-1.6 0a1.6 1.6 0 1 0 3.2 0a1.6 1.6 0 1 0 -3.2 0M107.3 824.4m-1.6 0a1.6 1.6 0 1 0 3.2 0a1.6 1.6 0 1 0 -3.2 0M127.5 824.5m-1.6 0a1.6 1.6 0 1 0 3.2 0a1.6 1.6 0 1 0 -3.2 0M204 804m-1.6 0a1.6 1.6 0 1 0 3.2 0a1.6 1.6 0 1 0 -3.2 0M158.2 789.3m-1.6 0a1.6 1.6 0 1 0 3.2 0a1.6 1.6 0 1 0 -3.2 0M151.1 822.2m-1.6 0a1.6 1.6 0 1 0 3.2 0a1.6 1.6 0 1 0 -3.2 0M138.8 808.8m-1.6 0a1.6 1.6 0 1 0 3.2 0a1.6 1.6 0 1 0 -3.2 0M81.3 849.5m-1.6 0a1.6 1.6 0 1 0 3.2 0a1.6 1.6 0 1 0 -3.2 0M204.9 789.6m-1.6 0a1.6 1.6 0 1 0 3.2 0a1.6 1.6 0 1 0 -3.2 0M212.3 811.1m-1.6 0a1.6 1.6 0 1 0 3.2 0a1.6 1.6 0 1 0 -3.2 0M132.4 818.9m-1.6 0a1.6 1.6 0 1 0 3.2 0a1.6 1.6 0 1 0 -3.2 0M184.4 794.4m-1.6 0a1.6 1.6 0 1 0 3.2 0a1.6 1.6 0 1 0 -3.2 0M121.2 813.7m-1.6 0a1.6 1.6 0 1 0 3.2 0a1.6 1.6 0 1 0 -3.2 0M143.2 822.7m-1.6 0a1.6 1.6 0 1 0 3.2 0a1.6 1.6 0 1 0 -3.2 0M224 788.5m-1.6 0a1.6 1.6 0 1 0 3.2 0a1.6 1.6 0 1 0 -3.2 0M207.6 780.1m-1.6 0a1.6 1.6 0 1 0 3.2 0a1.6 1.6 0 1 0 -3.2 0M172.3 779.2m-1.6 0a1.6 1.6 0 1 0 3.2 0a1.6 1.6 0 1 0 -3.2 0M108.2 813.1m-1.6 0a1.6 1.6 0 1 0 3.2 0a1.6 1.6 0 1 0 -3.2 0M90.2 839.9m-1.6 0a1.6 1.6 0 1 0 3.2 0a1.6 1.6 0 1 0 -3.2 0M191.9 773.9m-1.6 0a1.6 1.6 0 1 0 3.2 0a1.6 1.6 0 1 0 -3.2 0M93.3 834.6m-1.6 0a1.6 1.6 0 1 0 3.2 0a1.6 1.6 0 1 0 -3.2 0M130 808.7m-1.6 0a1.6 1.6 0 1 0 3.2 0a1.6 1.6 0 1 0 -3.2 0M203.5 803.3m-1.6 0a1.6 1.6 0 1 0 3.2 0a1.6 1.6 0 1 0 -3.2 0M151.6 834.8m-1.6 0a1.6 1.6 0 1 0 3.2 0a1.6 1.6 0 1 0 -3.2 0M73 849.8m-1.6 0a1.6 1.6 0 1 0 3.2 0a1.6 1.6 0 1 0 -3.2 0M215.2 762m-1.6 0a1.6 1.6 0 1 0 3.2 0a1.6 1.6 0 1 0 -3.2 0M87.3 829.8m-1.6 0a1.6 1.6 0 1 0 3.2 0a1.6 1.6 0 1 0 -3.2 0M143.6 812m-1.6 0a1.6 1.6 0 1 0 3.2 0a1.6 1.6 0 1 0 -3.2 0M220.7 780.4m-1.6 0a1.6 1.6 0 1 0 3.2 0a1.6 1.6 0 1 0 -3.2 0M180.3 809m-1.6 0a1.6 1.6 0 1 0 3.2 0a1.6 1.6 0 1 0 -3.2 0M149.4 798.1m-1.6 0a1.6 1.6 0 1 0 3.2 0a1.6 1.6 0 1 0 -3.2 0M213.3 762.4m-1.6 0a1.6 1.6 0 1 0 3.2 0a1.6 1.6 0 1 0 -3.2 0M198.5 810.8m-1.6 0a1.6 1.6 0 1 0 3.2 0a1.6 1.6 0 1 0 -3.2 0M124.3 833.3m-1.6 0a1.6 1.6 0 1 0 3.2 0a1.6 1.6 0 1 0 -3.2 0M227.7 784.2m-1.6 0a1.6 1.6 0 1 0 3.2 0a1.6 1.6 0 1 0 -3.2 0M172.9 785.1m-1.6 0a1.6 1.6 0 1 0 3.2 0a1.6 1.6 0 1 0 -3.2 0M78.3 838.2m-1.6 0a1.6 1.6 0 1 0 3.2 0a1.6 1.6 0 1 0 -3.2 0M228.2 771.8m-1.6 0a1.6 1.6 0 1 0 3.2 0a1.6 1.6 0 1 0 -3.2 0M212.8 788.1m-1.6 0a1.6 1.6 0 1 0 3.2 0a1.6 1.6 0 1 0 -3.2 0M196.7 771.8m-1.6 0a1.6 1.6 0 1 0 3.2 0a1.6 1.6 0 1 0 -3.2 0M101.5 817.5m-1.6 0a1.6 1.6 0 1 0 3.2 0a1.6 1.6 0 1 0 -3.2 0M112.5 843.5m-1.6 0a1.6 1.6 0 1 0 3.2 0a1.6 1.6 0 1 0 -3.2 0M187.5 814.3m-1.6 0a1.6 1.6 0 1 0 3.2 0a1.6 1.6 0 1 0 -3.2 0M212 772m-1.6 0a1.6 1.6 0 1 0 3.2 0a1.6 1.6 0 1 0 -3.2 0M117.8 836.4m-1.6 0a1.6 1.6 0 1 0 3.2 0a1.6 1.6 0 1 0 -3.2 0M163.5 811m-1.6 0a1.6 1.6 0 1 0 3.2 0a1.6 1.6 0 1 0 -3.2 0M105.2 822.1m-1.6 0a1.6 1.6 0 1 0 3.2 0a1.6 1.6 0 1 0 -3.2 0M212.5 762.7m-1.6 0a1.6 1.6 0 1 0 3.2 0a1.6 1.6 0 1 0 -3.2 0M197.9 784.5m-1.6 0a1.6 1.6 0 1 0 3.2 0a1.6 1.6 0 1 0 -3.2 0M147 794.2m-1.6 0a1.6 1.6 0 1 0 3.2 0a1.6 1.6 0 1 0 -3.2 0M193.2 811.3m-1.6 0a1.6 1.6 0 1 0 3.2 0a1.6 1.6 0 1 0 -3.2 0M139.1 831.2m-1.6 0a1.6 1.6 0 1 0 3.2 0a1.6 1.6 0 1 0 -3.2 0M178.9 800.1m-1.6 0a1.6 1.6 0 1 0 3.2 0a1.6 1.6 0 1 0 -3.2 0M216 787.6m-1.6 0a1.6 1.6 0 1 0 3.2 0a1.6 1.6 0 1 0 -3.2 0M108.7 843.3m-1.6 0a1.6 1.6 0 1 0 3.2 0a1.6 1.6 0 1 0 -3.2 0M83.4 837.8m-1.6 0a1.6 1.6 0 1 0 3.2 0a1.6 1.6 0 1 0 -3.2 0M223.5 773.5m-1.6 0a1.6 1.6 0 1 0 3.2 0a1.6 1.6 0 1 0 -3.2 0M175.1 777.3m-1.6 0a1.6 1.6 0 1 0 3.2 0a1.6 1.6 0 1 0 -3.2 0M209.6 778.4m-1.6 0a1.6 1.6 0 1 0 3.2 0a1.6 1.6 0 1 0 -3.2 0M138.5 837.5m-1.6 0a1.6 1.6 0 1 0 3.2 0a1.6 1.6 0 1 0 -3.2 0M133.7 824m-1.6 0a1.6 1.6 0 1 0 3.2 0a1.6 1.6 0 1 0 -3.2 0M156.5 807m-1.6 0a1.6 1.6 0 1 0 3.2 0a1.6 1.6 0 1 0 -3.2 0M182 775.3m-1.6 0a1.6 1.6 0 1 0 3.2 0a1.6 1.6 0 1 0 -3.2 0M141.5 832.6m-1.6 0a1.6 1.6 0 1 0 3.2 0a1.6 1.6 0 1 0 -3.2 0M158.4 817.1m-1.6 0a1.6 1.6 0 1 0 3.2 0a1.6 1.6 0 1 0 -3.2 0M99.1 820.8m-1.6 0a1.6 1.6 0 1 0 3.2 0a1.6 1.6 0 1 0 -3.2 0M180.1 793.1m-1.6 0a1.6 1.6 0 1 0 3.2 0a1.6 1.6 0 1 0 -3.2 0M177.8 813.6m-1.6 0a1.6 1.6 0 1 0 3.2 0a1.6 1.6 0 1 0 -3.2 0M161.3 784.4m-1.6 0a1.6 1.6 0 1 0 3.2 0a1.6 1.6 0 1 0 -3.2 0M152.3 805m-1.6 0a1.6 1.6 0 1 0 3.2 0a1.6 1.6 0 1 0 -3.2 0M90.3 830.9m-1.6 0a1.6 1.6 0 1 0 3.2 0a1.6 1.6 0 1 0 -3.2 0M223.6 779.4m-1.6 0a1.6 1.6 0 1 0 3.2 0a1.6 1.6 0 1 0 -3.2 0M194.5 778.5m-1.6 0a1.6 1.6 0 1 0 3.2 0a1.6 1.6 0 1 0 -3.2 0M161.7 814.6m-1.6 0a1.6 1.6 0 1 0 3.2 0a1.6 1.6 0 1 0 -3.2 0M132.6 798.9m-1.6 0a1.6 1.6 0 1 0 3.2 0a1.6 1.6 0 1 0 -3.2 0M131.7 823.4m-1.6 0a1.6 1.6 0 1 0 3.2 0a1.6 1.6 0 1 0 -3.2 0M199.5 786.9m-1.6 0a1.6 1.6 0 1 0 3.2 0a1.6 1.6 0 1 0 -3.2 0M105 818m-1.6 0a1.6 1.6 0 1 0 3.2 0a1.6 1.6 0 1 0 -3.2 0M215.8 763.6m-1.6 0a1.6 1.6 0 1 0 3.2 0a1.6 1.6 0 1 0 -3.2 0M206.6 779.1m-1.6 0a1.6 1.6 0 1 0 3.2 0a1.6 1.6 0 1 0 -3.2 0M227.9 777.7m-1.6 0a1.6 1.6 0 1 0 3.2 0a1.6 1.6 0 1 0 -3.2 0M148.1 830.7m-1.6 0a1.6 1.6 0 1 0 3.2 0a1.6 1.6 0 1 0 -3.2 0M215.7 769.4m-1.6 0a1.6 1.6 0 1 0 3.2 0a1.6 1.6 0 1 0 -3.2 0M186.1 777.2m-1.6 0a1.6 1.6 0 1 0 3.2 0a1.6 1.6 0 1 0 -3.2 0M173.6 821.5m-1.6 0a1.6 1.6 0 1 0 3.2 0a1.6 1.6 0 1 0 -3.2 0M195.9 765.8m-1.6 0a1.6 1.6 0 1 0 3.2 0a1.6 1.6 0 1 0 -3.2 0M222.4 763.7m-1.6 0a1.6 1.6 0 1 0 3.2 0a1.6 1.6 0 1 0 -3.2 0M229 768.3m-1.6 0a1.6 1.6 0 1 0 3.2 0a1.6 1.6 0 1 0 -3.2 0M174 813.1m-1.6 0a1.6 1.6 0 1 0 3.2 0a1.6 1.6 0 1 0 -3.2 0M151 826.7m-1.6 0a1.6 1.6 0 1 0 3.2 0a1.6 1.6 0 1 0 -3.2 0M206.4 763.3m-1.6 0a1.6 1.6 0 1 0 3.2 0a1.6 1.6 0 1 0 -3.2 0M152.1 807.4m-1.6 0a1.6 1.6 0 1 0 3.2 0a1.6 1.6 0 1 0 -3.2 0M200.5 773.9m-1.6 0a1.6 1.6 0 1 0 3.2 0a1.6 1.6 0 1 0 -3.2 0M169.1 800.3m-1.6 0a1.6 1.6 0 1 0 3.2 0a1.6 1.6 0 1 0 -3.2 0M122.8 807.9m-1.6 0a1.6 1.6 0 1 0 3.2 0a1.6 1.6 0 1 0 -3.2 0M75.5 847.7m-1.6 0a1.6 1.6 0 1 0 3.2 0a1.6 1.6 0 1 0 -3.2 0M81.4 849.7m-1.6 0a1.6 1.6 0 1 0 3.2 0a1.6 1.6 0 1 0 -3.2 0M208.9 789.4m-1.6 0a1.6 1.6 0 1 0 3.2 0a1.6 1.6 0 1 0 -3.2 0M194.6 790.2m-1.6 0a1.6 1.6 0 1 0 3.2 0a1.6 1.6 0 1 0 -3.2 0M159.1 831.1m-1.6 0a1.6 1.6 0 1 0 3.2 0a1.6 1.6 0 1 0 -3.2 0M201.2 791.6m-1.6 0a1.6 1.6 0 1 0 3.2 0a1.6 1.6 0 1 0 -3.2 0M183.6 800.5m-1.6 0a1.6 1.6 0 1 0 3.2 0a1.6 1.6 0 1 0 -3.2 0M195.4 775.1m-1.6 0a1.6 1.6 0 1 0 3.2 0a1.6 1.6 0 1 0 -3.2 0M173.7 785.2m-1.6 0a1.6 1.6 0 1 0 3.2 0a1.6 1.6 0 1 0 -3.2 0M220.3 768.7m-1.6 0a1.6 1.6 0 1 0 3.2 0a1.6 1.6 0 1 0 -3.2 0M96.1 838m-1.6 0a1.6 1.6 0 1 0 3.2 0a1.6 1.6 0 1 0 -3.2 0M122.6 832.6m-1.6 0a1.6 1.6 0 1 0 3.2 0a1.6 1.6 0 1 0 -3.2 0M181.8 785m-1.6 0a1.6 1.6 0 1 0 3.2 0a1.6 1.6 0 1 0 -3.2 0M119.4 854.6m-1.6 0a1.6 1.6 0 1 0 3.2 0a1.6 1.6 0 1 0 -3.2 0M215.7 759.8m-1.6 0a1.6 1.6 0 1 0 3.2 0a1.6 1.6 0 1 0 -3.2 0M84.3 851.5m-1.6 0a1.6 1.6 0 1 0 3.2 0a1.6 1.6 0 1 0 -3.2 0M150.4 814.7m-1.6 0a1.6 1.6 0 1 0 3.2 0a1.6 1.6 0 1 0 -3.2 0M179.6 821m-1.6 0a1.6 1.6 0 1 0 3.2 0a1.6 1.6 0 1 0 -3.2 0M216.1 794.2m-1.6 0a1.6 1.6 0 1 0 3.2 0a1.6 1.6 0 1 0 -3.2 0M77.9 846.5m-1.6 0a1.6 1.6 0 1 0 3.2 0a1.6 1.6 0 1 0 -3.2 0M207.1 764.5m-1.6 0a1.6 1.6 0 1 0 3.2 0a1.6 1.6 0 1 0 -3.2 0M187.2 769.5m-1.6 0a1.6 1.6 0 1 0 3.2 0a1.6 1.6 0 1 0 -3.2 0M173.8 801.5m-1.6 0a1.6 1.6 0 1 0 3.2 0a1.6 1.6 0 1 0 -3.2 0M155.7 819.4m-1.6 0a1.6 1.6 0 1 0 3.2 0a1.6 1.6 0 1 0 -3.2 0M217.6 794.9m-1.6 0a1.6 1.6 0 1 0 3.2 0a1.6 1.6 0 1 0 -3.2 0M108.5 836.2m-1.6 0a1.6 1.6 0 1 0 3.2 0a1.6 1.6 0 1 0 -3.2 0M139.2 809.8m-1.6 0a1.6 1.6 0 1 0 3.2 0a1.6 1.6 0 1 0 -3.2 0M144.6 792.2m-1.6 0a1.6 1.6 0 1 0 3.2 0a1.6 1.6 0 1 0 -3.2 0M153.8 789.5m-1.6 0a1.6 1.6 0 1 0 3.2 0a1.6 1.6 0 1 0 -3.2 0M191.6 801m-1.6 0a1.6 1.6 0 1 0 3.2 0a1.6 1.6 0 1 0 -3.2 0M172.4 809.9m-1.6 0a1.6 1.6 0 1 0 3.2 0a1.6 1.6 0 1 0 -3.2 0M107 835.3m-1.6 0a1.6 1.6 0 1 0 3.2 0a1.6 1.6 0 1 0 -3.2 0M140.7 815.6m-1.6 0a1.6 1.6 0 1 0 3.2 0a1.6 1.6 0 1 0 -3.2 0M121.5 804.7m-1.6 0a1.6 1.6 0 1 0 3.2 0a1.6 1.6 0 1 0 -3.2 0M168.8 807.1m-1.6 0a1.6 1.6 0 1 0 3.2 0a1.6 1.6 0 1 0 -3.2 0M220.3 766.7m-1.6 0a1.6 1.6 0 1 0 3.2 0a1.6 1.6 0 1 0 -3.2 0M212.4 782.1m-1.6 0a1.6 1.6 0 1 0 3.2 0a1.6 1.6 0 1 0 -3.2 0M90.3 834.4m-1.6 0a1.6 1.6 0 1 0 3.2 0a1.6 1.6 0 1 0 -3.2 0M99.2 821.4m-1.6 0a1.6 1.6 0 1 0 3.2 0a1.6 1.6 0 1 0 -3.2 0M162.6 798.9m-1.6 0a1.6 1.6 0 1 0 3.2 0a1.6 1.6 0 1 0 -3.2 0M227 782.3m-1.6 0a1.6 1.6 0 1 0 3.2 0a1.6 1.6 0 1 0 -3.2 0M153.7 825.1m-1.6 0a1.6 1.6 0 1 0 3.2 0a1.6 1.6 0 1 0 -3.2 0M224.7 786.7m-1.6 0a1.6 1.6 0 1 0 3.2 0a1.6 1.6 0 1 0 -3.2 0M207.1 797.8m-1.6 0a1.6 1.6 0 1 0 3.2 0a1.6 1.6 0 1 0 -3.2 0M212.3 779.8m-1.6 0a1.6 1.6 0 1 0 3.2 0a1.6 1.6 0 1 0 -3.2 0M166.6 776.8m-1.6 0a1.6 1.6 0 1 0 3.2 0a1.6 1.6 0 1 0 -3.2 0M122 811.8m-1.6 0a1.6 1.6 0 1 0 3.2 0a1.6 1.6 0 1 0 -3.2 0M155.5 824.3m-1.6 0a1.6 1.6 0 1 0 3.2 0a1.6 1.6 0 1 0 -3.2 0M97.8 836.7m-1.6 0a1.6 1.6 0 1 0 3.2 0a1.6 1.6 0 1 0 -3.2 0M193.8 792m-1.6 0a1.6 1.6 0 1 0 3.2 0a1.6 1.6 0 1 0 -3.2 0M227.9 789.5m-1.6 0a1.6 1.6 0 1 0 3.2 0a1.6 1.6 0 1 0 -3.2 0M223.3 763.5m-1.6 0a1.6 1.6 0 1 0 3.2 0a1.6 1.6 0 1 0 -3.2 0M85.4 844.1m-1.6 0a1.6 1.6 0 1 0 3.2 0a1.6 1.6 0 1 0 -3.2 0M118.9 819.1m-1.6 0a1.6 1.6 0 1 0 3.2 0a1.6 1.6 0 1 0 -3.2 0M188.1 785.7m-1.6 0a1.6 1.6 0 1 0 3.2 0a1.6 1.6 0 1 0 -3.2 0M172.5 815.3m-1.6 0a1.6 1.6 0 1 0 3.2 0a1.6 1.6 0 1 0 -3.2 0M196.4 775.3m-1.6 0a1.6 1.6 0 1 0 3.2 0a1.6 1.6 0 1 0 -3.2 0M212.5 779.8m-1.6 0a1.6 1.6 0 1 0 3.2 0a1.6 1.6 0 1 0 -3.2 0M206.7 805.9m-1.6 0a1.6 1.6 0 1 0 3.2 0a1.6 1.6 0 1 0 -3.2 0M165.1 791.3m-1.6 0a1.6 1.6 0 1 0 3.2 0a1.6 1.6 0 1 0 -3.2 0M228.2 778m-1.6 0a1.6 1.6 0 1 0 3.2 0a1.6 1.6 0 1 0 -3.2 0M85 841.2m-1.6 0a1.6 1.6 0 1 0 3.2 0a1.6 1.6 0 1 0 -3.2 0M106.2 825.4m-1.6 0a1.6 1.6 0 1 0 3.2 0a1.6 1.6 0 1 0 -3.2 0M164 814.9m-1.6 0a1.6 1.6 0 1 0 3.2 0a1.6 1.6 0 1 0 -3.2 0M193.5 802.6m-1.6 0a1.6 1.6 0 1 0 3.2 0a1.6 1.6 0 1 0 -3.2 0M211.8 768m-1.6 0a1.6 1.6 0 1 0 3.2 0a1.6 1.6 0 1 0 -3.2 0M219.3 761.3m-1.6 0a1.6 1.6 0 1 0 3.2 0a1.6 1.6 0 1 0 -3.2 0M112.6 812.3m-1.6 0a1.6 1.6 0 1 0 3.2 0a1.6 1.6 0 1 0 -3.2 0M219 760.7m-1.6 0a1.6 1.6 0 1 0 3.2 0a1.6 1.6 0 1 0 -3.2 0M80.9 834.3m-1.6 0a1.6 1.6 0 1 0 3.2 0a1.6 1.6 0 1 0 -3.2 0M183.4 811.8m-1.6 0a1.6 1.6 0 1 0 3.2 0a1.6 1.6 0 1 0 -3.2 0" fill="none" stroke="#40e0d0" stroke-width="0.6" stroke-opacity="0.85" clip-path="url(#gclip)"/>
<rect x="64.6" y="746.4" width="172.2" height="123.5" fill="none" stroke="#8a8a8a" stroke-width="1"/>
<line x1="60.6" y1="858.6" x2="64.6" y2="858.6" stroke="#8a8a8a" stroke-width="0.6"/>
<text x="53.8" y="858.6" font-size="7" text-anchor="middle" fill="#000" transform="rotate(-90 53.8 858.6)">0.0</text>
<line x1="60.6" y1="835.1" x2="64.6" y2="835.1" stroke="#8a8a8a" stroke-width="0.6"/>
<text x="53.8" y="835.1" font-size="7" text-anchor="middle" fill="#000" transform="rotate(-90 53.8 835.1)">0.2</text>
<line x1="60.6" y1="811.6" x2="64.6" y2="811.6" stroke="#8a8a8a" stroke-width="0.6"/>
<text x="53.8" y="811.6" font-size="7" text-anchor="middle" fill="#000" transform="rotate(-90 53.8 811.6)">0.4</text>
<line x1="60.6" y1="788.2" x2="64.6" y2="788.2" stroke="#8a8a8a" stroke-width="0.6"/>
<text x="53.8" y="788.2" font-size="7" text-anchor="middle" fill="#000" transform="rotate(-90 53.8 788.2)">0.6</text>
<line x1="60.6" y1="764.7" x2="64.6" y2="764.7" stroke="#8a8a8a" stroke-width="0.6"/>
<text x="53.8" y="764.7" font-size="7" text-anchor="middle" fill="#000" transform="rotate(-90 53.8 764.7)">0.8</text>
<line x1="79.4" y1="869.9" x2="79.4" y2="873.9" stroke="#8a8a8a" stroke-width="0.6"/>
<text x="79.4" y="885.1" font-size="7" text-anchor="middle" fill="#000">0.0</text>
<line x1="111.5" y1="869.9" x2="111.5" y2="873.9" stroke="#8a8a8a" stroke-width="0.6"/>
<text x="111.5" y="885.1" font-size="7" text-anchor="middle" fill="#000">0.2</text>
<line x1="143.5" y1="869.9" x2="143.5" y2="873.9" stroke="#8a8a8a" stroke-width="0.6"/>
<text x="143.5" y="885.1" font-size="7" text-anchor="middle" fill="#000">0.4</text>
<line x1="175.6" y1="869.9" x2="175.6" y2="873.9" stroke="#8a8a8a" stroke-width="0.6"/>
<text x="175.6" y="885.1" font-size="7" text-anchor="middle" fill="#000">0.6</text>
<line x1="207.6" y1="869.9" x2="207.6" y2="873.9" stroke="#8a8a8a" stroke-width="0.6"/>
<text x="207.6" y="885.1" font-size="7" text-anchor="middle" fill="#000">0.8</text>
<text x="150.3" y="901" font-size="7.8" text-anchor="middle" fill="#000">Module Membership in turquoise module</text>
<text x="38.6" y="810" font-size="7.6" text-anchor="middle" fill="#000" transform="rotate(-90 38.6 810)">Gene significance for Tumor</text>
<rect x="309.4" y="715.5" width="158.1" height="178.2" fill="#ebebeb" stroke="none" stroke-width="0.6"/>
<line x1="309.4" y1="718.7" x2="467.5" y2="718.7" stroke="#fff" stroke-width="0.7"/>
<line x1="307.4" y1="718.7" x2="309.4" y2="718.7" stroke="#444" stroke-width="0.5"/>
<text x="305.9" y="720.4" font-size="4.8" text-anchor="end" fill="#777">3</text>
<line x1="309.4" y1="756" x2="467.5" y2="756" stroke="#fff" stroke-width="0.7"/>
<line x1="307.4" y1="756" x2="309.4" y2="756" stroke="#444" stroke-width="0.5"/>
<text x="305.9" y="757.7" font-size="4.8" text-anchor="end" fill="#777">2</text>
<line x1="309.4" y1="793.3" x2="467.5" y2="793.3" stroke="#fff" stroke-width="0.7"/>
<line x1="307.4" y1="793.3" x2="309.4" y2="793.3" stroke="#444" stroke-width="0.5"/>
<text x="305.9" y="795" font-size="4.8" text-anchor="end" fill="#777">1</text>
<line x1="309.4" y1="830.6" x2="467.5" y2="830.6" stroke="#fff" stroke-width="0.7"/>
<line x1="307.4" y1="830.6" x2="309.4" y2="830.6" stroke="#444" stroke-width="0.5"/>
<text x="305.9" y="832.3" font-size="4.8" text-anchor="end" fill="#777">0</text>
<line x1="309.4" y1="867.9" x2="467.5" y2="867.9" stroke="#fff" stroke-width="0.7"/>
<line x1="307.4" y1="867.9" x2="309.4" y2="867.9" stroke="#444" stroke-width="0.5"/>
<text x="305.9" y="869.6" font-size="4.8" text-anchor="end" fill="#777">−1</text>
<line x1="309.4" y1="737.4" x2="467.5" y2="737.4" stroke="#f6f6f6" stroke-width="0.4"/>
<line x1="309.4" y1="774.6" x2="467.5" y2="774.6" stroke="#f6f6f6" stroke-width="0.4"/>
<line x1="309.4" y1="812" x2="467.5" y2="812" stroke="#f6f6f6" stroke-width="0.4"/>
<line x1="309.4" y1="849.2" x2="467.5" y2="849.2" stroke="#f6f6f6" stroke-width="0.4"/>
<line x1="309.4" y1="886.6" x2="467.5" y2="886.6" stroke="#f6f6f6" stroke-width="0.4"/>
<line x1="352.4" y1="715.5" x2="352.4" y2="893.7" stroke="#fff" stroke-width="0.7"/>
<line x1="352.4" y1="893.7" x2="352.4" y2="895.7" stroke="#444" stroke-width="0.5"/>
<line x1="424.6" y1="715.5" x2="424.6" y2="893.7" stroke="#fff" stroke-width="0.7"/>
<line x1="424.6" y1="893.7" x2="424.6" y2="895.7" stroke="#444" stroke-width="0.5"/>
<text x="352.4" y="900.5" font-size="4.8" text-anchor="middle" fill="#444">Tumor</text>
<text x="424.6" y="900.5" font-size="4.8" text-anchor="middle" fill="#444">Normal</text>
<text x="388.6" y="908.6" font-size="6.3" text-anchor="middle" fill="#222">group</text>
<text x="295" y="797.8" font-size="6.3" text-anchor="middle" fill="#222" transform="rotate(-90 295 797.8)">gene</text>
<line x1="352.4" y1="723.5" x2="352.4" y2="862.4" stroke="#9a9a9a" stroke-width="1.1"/>
<rect x="326" y="758.2" width="54" height="67" fill="#f8766d" stroke="#333" stroke-width="0.6"/>
<line x1="326" y1="784" x2="380" y2="784" stroke="#333" stroke-width="1.1"/>
<line x1="424.5" y1="804" x2="424.5" y2="858.8" stroke="#9a9a9a" stroke-width="1.1"/>
<rect x="397" y="820.5" width="54.8" height="21.9" fill="#00bfc4" stroke="#333" stroke-width="0.6"/>
<line x1="397" y1="832.2" x2="451.8" y2="832.2" stroke="#333" stroke-width="1.1"/>
<path d="M332.6 723.5m-1.35 0a1.35 1.35 0 1 0 2.7 0a1.35 1.35 0 1 0 -2.7 0M341.5 723.5m-1.35 0a1.35 1.35 0 1 0 2.7 0a1.35 1.35 0 1 0 -2.7 0M350.6 729.7m-1.35 0a1.35 1.35 0 1 0 2.7 0a1.35 1.35 0 1 0 -2.7 0M349.8 739.1m-1.35 0a1.35 1.35 0 1 0 2.7 0a1.35 1.35 0 1 0 -2.7 0M355.7 739.9m-1.35 0a1.35 1.35 0 1 0 2.7 0a1.35 1.35 0 1 0 -2.7 0M332.3 744.9m-1.35 0a1.35 1.35 0 1 0 2.7 0a1.35 1.35 0 1 0 -2.7 0M367 746.2m-1.35 0a1.35 1.35 0 1 0 2.7 0a1.35 1.35 0 1 0 -2.7 0M360 750.1m-1.35 0a1.35 1.35 0 1 0 2.7 0a1.35 1.35 0 1 0 -2.7 0M358.4 754m-1.35 0a1.35 1.35 0 1 0 2.7 0a1.35 1.35 0 1 0 -2.7 0M333.4 754.4m-1.35 0a1.35 1.35 0 1 0 2.7 0a1.35 1.35 0 1 0 -2.7 0M344.8 755.5m-1.35 0a1.35 1.35 0 1 0 2.7 0a1.35 1.35 0 1 0 -2.7 0M377.9 752.4m-1.35 0a1.35 1.35 0 1 0 2.7 0a1.35 1.35 0 1 0 -2.7 0M378.4 757.1m-1.35 0a1.35 1.35 0 1 0 2.7 0a1.35 1.35 0 1 0 -2.7 0M352.4 760.2m-1.35 0a1.35 1.35 0 1 0 2.7 0a1.35 1.35 0 1 0 -2.7 0M325.5 763.4m-1.35 0a1.35 1.35 0 1 0 2.7 0a1.35 1.35 0 1 0 -2.7 0M340.4 764.9m-1.35 0a1.35 1.35 0 1 0 2.7 0a1.35 1.35 0 1 0 -2.7 0M346.2 767.6m-1.35 0a1.35 1.35 0 1 0 2.7 0a1.35 1.35 0 1 0 -2.7 0M351.7 768.1m-1.35 0a1.35 1.35 0 1 0 2.7 0a1.35 1.35 0 1 0 -2.7 0M367.3 767.6m-1.35 0a1.35 1.35 0 1 0 2.7 0a1.35 1.35 0 1 0 -2.7 0M324.4 772.7m-1.35 0a1.35 1.35 0 1 0 2.7 0a1.35 1.35 0 1 0 -2.7 0M325.5 776.7m-1.35 0a1.35 1.35 0 1 0 2.7 0a1.35 1.35 0 1 0 -2.7 0M331 776.7m-1.35 0a1.35 1.35 0 1 0 2.7 0a1.35 1.35 0 1 0 -2.7 0M368.2 776.2m-1.35 0a1.35 1.35 0 1 0 2.7 0a1.35 1.35 0 1 0 -2.7 0M371.4 780.6m-1.35 0a1.35 1.35 0 1 0 2.7 0a1.35 1.35 0 1 0 -2.7 0M346.7 783.7m-1.35 0a1.35 1.35 0 1 0 2.7 0a1.35 1.35 0 1 0 -2.7 0M351.4 784m-1.35 0a1.35 1.35 0 1 0 2.7 0a1.35 1.35 0 1 0 -2.7 0M336.5 788.4m-1.35 0a1.35 1.35 0 1 0 2.7 0a1.35 1.35 0 1 0 -2.7 0M360 789.5m-1.35 0a1.35 1.35 0 1 0 2.7 0a1.35 1.35 0 1 0 -2.7 0M371.7 789.5m-1.35 0a1.35 1.35 0 1 0 2.7 0a1.35 1.35 0 1 0 -2.7 0M340.4 793.9m-1.35 0a1.35 1.35 0 1 0 2.7 0a1.35 1.35 0 1 0 -2.7 0M343.5 795m-1.35 0a1.35 1.35 0 1 0 2.7 0a1.35 1.35 0 1 0 -2.7 0M358.4 798.9m-1.35 0a1.35 1.35 0 1 0 2.7 0a1.35 1.35 0 1 0 -2.7 0M338.8 802m-1.35 0a1.35 1.35 0 1 0 2.7 0a1.35 1.35 0 1 0 -2.7 0M363.9 803.3m-1.35 0a1.35 1.35 0 1 0 2.7 0a1.35 1.35 0 1 0 -2.7 0M373.3 803.6m-1.35 0a1.35 1.35 0 1 0 2.7 0a1.35 1.35 0 1 0 -2.7 0M342 806.4m-1.35 0a1.35 1.35 0 1 0 2.7 0a1.35 1.35 0 1 0 -2.7 0M338.8 810.3m-1.35 0a1.35 1.35 0 1 0 2.7 0a1.35 1.35 0 1 0 -2.7 0M324.8 812.6m-1.35 0a1.35 1.35 0 1 0 2.7 0a1.35 1.35 0 1 0 -2.7 0M349.3 815m-1.35 0a1.35 1.35 0 1 0 2.7 0a1.35 1.35 0 1 0 -2.7 0M335.2 828.6m-1.35 0a1.35 1.35 0 1 0 2.7 0a1.35 1.35 0 1 0 -2.7 0M336.3 835.7m-1.35 0a1.35 1.35 0 1 0 2.7 0a1.35 1.35 0 1 0 -2.7 0M359.1 833.6m-1.35 0a1.35 1.35 0 1 0 2.7 0a1.35 1.35 0 1 0 -2.7 0M367.6 832.1m-1.35 0a1.35 1.35 0 1 0 2.7 0a1.35 1.35 0 1 0 -2.7 0M380.6 838m-1.35 0a1.35 1.35 0 1 0 2.7 0a1.35 1.35 0 1 0 -2.7 0M325.8 843.3m-1.35 0a1.35 1.35 0 1 0 2.7 0a1.35 1.35 0 1 0 -2.7 0M341.5 844.6m-1.35 0a1.35 1.35 0 1 0 2.7 0a1.35 1.35 0 1 0 -2.7 0M358.7 841m-1.35 0a1.35 1.35 0 1 0 2.7 0a1.35 1.35 0 1 0 -2.7 0M354.8 846.2m-1.35 0a1.35 1.35 0 1 0 2.7 0a1.35 1.35 0 1 0 -2.7 0M357.6 844.1m-1.35 0a1.35 1.35 0 1 0 2.7 0a1.35 1.35 0 1 0 -2.7 0M370.4 845.4m-1.35 0a1.35 1.35 0 1 0 2.7 0a1.35 1.35 0 1 0 -2.7 0M377.9 854m-1.35 0a1.35 1.35 0 1 0 2.7 0a1.35 1.35 0 1 0 -2.7 0M335.2 859.4m-1.35 0a1.35 1.35 0 1 0 2.7 0a1.35 1.35 0 1 0 -2.7 0M381.4 862.3m-1.35 0a1.35 1.35 0 1 0 2.7 0a1.35 1.35 0 1 0 -2.7 0M352.4 828.2m-1.35 0a1.35 1.35 0 1 0 2.7 0a1.35 1.35 0 1 0 -2.7 0M325 812.5m-1.35 0a1.35 1.35 0 1 0 2.7 0a1.35 1.35 0 1 0 -2.7 0M338.8 810.2m-1.35 0a1.35 1.35 0 1 0 2.7 0a1.35 1.35 0 1 0 -2.7 0M341.9 806.6m-1.35 0a1.35 1.35 0 1 0 2.7 0a1.35 1.35 0 1 0 -2.7 0M338.8 801.9m-1.35 0a1.35 1.35 0 1 0 2.7 0a1.35 1.35 0 1 0 -2.7 0M349 815.2m-1.35 0a1.35 1.35 0 1 0 2.7 0a1.35 1.35 0 1 0 -2.7 0M363.8 803.1m-1.35 0a1.35 1.35 0 1 0 2.7 0a1.35 1.35 0 1 0 -2.7 0M373.2 803.4m-1.35 0a1.35 1.35 0 1 0 2.7 0a1.35 1.35 0 1 0 -2.7 0M399.4 803.8m-1.35 0a1.35 1.35 0 1 0 2.7 0a1.35 1.35 0 1 0 -2.7 0M397 809.2m-1.35 0a1.35 1.35 0 1 0 2.7 0a1.35 1.35 0 1 0 -2.7 0M401.3 815m-1.35 0a1.35 1.35 0 1 0 2.7 0a1.35 1.35 0 1 0 -2.7 0M411.1 810.8m-1.35 0a1.35 1.35 0 1 0 2.7 0a1.35 1.35 0 1 0 -2.7 0M415.8 811.1m-1.35 0a1.35 1.35 0 1 0 2.7 0a1.35 1.35 0 1 0 -2.7 0M411.9 814.7m-1.35 0a1.35 1.35 0 1 0 2.7 0a1.35 1.35 0 1 0 -2.7 0M416.3 818.2m-1.35 0a1.35 1.35 0 1 0 2.7 0a1.35 1.35 0 1 0 -2.7 0M432.2 805.3m-1.35 0a1.35 1.35 0 1 0 2.7 0a1.35 1.35 0 1 0 -2.7 0M439.3 807.2m-1.35 0a1.35 1.35 0 1 0 2.7 0a1.35 1.35 0 1 0 -2.7 0M444 819.7m-1.35 0a1.35 1.35 0 1 0 2.7 0a1.35 1.35 0 1 0 -2.7 0M451 820.2m-1.35 0a1.35 1.35 0 1 0 2.7 0a1.35 1.35 0 1 0 -2.7 0M406.4 825.2m-1.35 0a1.35 1.35 0 1 0 2.7 0a1.35 1.35 0 1 0 -2.7 0M409.6 822.1m-1.35 0a1.35 1.35 0 1 0 2.7 0a1.35 1.35 0 1 0 -2.7 0M414.2 822.9m-1.35 0a1.35 1.35 0 1 0 2.7 0a1.35 1.35 0 1 0 -2.7 0M418.2 826.8m-1.35 0a1.35 1.35 0 1 0 2.7 0a1.35 1.35 0 1 0 -2.7 0M422.1 826.8m-1.35 0a1.35 1.35 0 1 0 2.7 0a1.35 1.35 0 1 0 -2.7 0M429.9 824.4m-1.35 0a1.35 1.35 0 1 0 2.7 0a1.35 1.35 0 1 0 -2.7 0M439.3 826m-1.35 0a1.35 1.35 0 1 0 2.7 0a1.35 1.35 0 1 0 -2.7 0M396.3 832.2m-1.35 0a1.35 1.35 0 1 0 2.7 0a1.35 1.35 0 1 0 -2.7 0M397.8 835.4m-1.35 0a1.35 1.35 0 1 0 2.7 0a1.35 1.35 0 1 0 -2.7 0M404.9 835.4m-1.35 0a1.35 1.35 0 1 0 2.7 0a1.35 1.35 0 1 0 -2.7 0M411.9 835.4m-1.35 0a1.35 1.35 0 1 0 2.7 0a1.35 1.35 0 1 0 -2.7 0M418.9 833m-1.35 0a1.35 1.35 0 1 0 2.7 0a1.35 1.35 0 1 0 -2.7 0M427.5 832.2m-1.35 0a1.35 1.35 0 1 0 2.7 0a1.35 1.35 0 1 0 -2.7 0M431.5 831m-1.35 0a1.35 1.35 0 1 0 2.7 0a1.35 1.35 0 1 0 -2.7 0M438.5 831.9m-1.35 0a1.35 1.35 0 1 0 2.7 0a1.35 1.35 0 1 0 -2.7 0M448.7 833m-1.35 0a1.35 1.35 0 1 0 2.7 0a1.35 1.35 0 1 0 -2.7 0M452.6 836.9m-1.35 0a1.35 1.35 0 1 0 2.7 0a1.35 1.35 0 1 0 -2.7 0M409.6 839.3m-1.35 0a1.35 1.35 0 1 0 2.7 0a1.35 1.35 0 1 0 -2.7 0M413.5 843.2m-1.35 0a1.35 1.35 0 1 0 2.7 0a1.35 1.35 0 1 0 -2.7 0M419.7 841.6m-1.35 0a1.35 1.35 0 1 0 2.7 0a1.35 1.35 0 1 0 -2.7 0M436.9 840.8m-1.35 0a1.35 1.35 0 1 0 2.7 0a1.35 1.35 0 1 0 -2.7 0M443.2 842.4m-1.35 0a1.35 1.35 0 1 0 2.7 0a1.35 1.35 0 1 0 -2.7 0M452.6 844.4m-1.35 0a1.35 1.35 0 1 0 2.7 0a1.35 1.35 0 1 0 -2.7 0M398.6 845.5m-1.35 0a1.35 1.35 0 1 0 2.7 0a1.35 1.35 0 1 0 -2.7 0M401.7 845.5m-1.35 0a1.35 1.35 0 1 0 2.7 0a1.35 1.35 0 1 0 -2.7 0M398.6 852.3m-1.35 0a1.35 1.35 0 1 0 2.7 0a1.35 1.35 0 1 0 -2.7 0M429.9 847.1m-1.35 0a1.35 1.35 0 1 0 2.7 0a1.35 1.35 0 1 0 -2.7 0M436.9 848.2m-1.35 0a1.35 1.35 0 1 0 2.7 0a1.35 1.35 0 1 0 -2.7 0M444.8 851.3m-1.35 0a1.35 1.35 0 1 0 2.7 0a1.35 1.35 0 1 0 -2.7 0M438.5 853.4m-1.35 0a1.35 1.35 0 1 0 2.7 0a1.35 1.35 0 1 0 -2.7 0M439.3 858.8m-1.35 0a1.35 1.35 0 1 0 2.7 0a1.35 1.35 0 1 0 -2.7 0M394.7 832.2m-1.35 0a1.35 1.35 0 1 0 2.7 0a1.35 1.35 0 1 0 -2.7 0M430.7 805.6m-1.35 0a1.35 1.35 0 1 0 2.7 0a1.35 1.35 0 1 0 -2.7 0M433.8 804.9m-1.35 0a1.35 1.35 0 1 0 2.7 0a1.35 1.35 0 1 0 -2.7 0M408 823.6m-1.35 0a1.35 1.35 0 1 0 2.7 0a1.35 1.35 0 1 0 -2.7 0M437.7 827.5m-1.35 0a1.35 1.35 0 1 0 2.7 0a1.35 1.35 0 1 0 -2.7 0M395.5 834.6m-1.35 0a1.35 1.35 0 1 0 2.7 0a1.35 1.35 0 1 0 -2.7 0M412.6 886m-1.35 0a1.35 1.35 0 1 0 2.7 0a1.35 1.35 0 1 0 -2.7 0M424.7 886m-1.35 0a1.35 1.35 0 1 0 2.7 0a1.35 1.35 0 1 0 -2.7 0" fill="#111"/>
<text x="477.6" y="795.5" font-size="5.2" text-anchor="start" fill="#222">group</text>
<rect x="477.9" y="801.2" width="9" height="7" fill="#f8766d" stroke="#999" stroke-width="0.3"/>
<rect x="477.9" y="811.2" width="9" height="7" fill="#00bfc4" stroke="#999" stroke-width="0.3"/>
<text x="490.2" y="806.4" font-size="4.6" text-anchor="start" fill="#333">Tumor</text>
<text x="490.2" y="816.4" font-size="4.6" text-anchor="start" fill="#333">Normal</text>
<rect x="619.4" y="755.6" width="115" height="108.2" fill="#fff" stroke="#bbb" stroke-width="0.6"/>
<line x1="626.5" y1="755.6" x2="626.5" y2="863.8" stroke="#ebebeb" stroke-width="0.5"/>
<line x1="640" y1="755.6" x2="640" y2="863.8" stroke="#f5f5f5" stroke-width="0.3"/>
<text x="626.5" y="869.2" font-size="3.6" text-anchor="middle" fill="#444">0.10</text>
<line x1="653.6" y1="755.6" x2="653.6" y2="863.8" stroke="#ebebeb" stroke-width="0.5"/>
<line x1="665.6" y1="755.6" x2="665.6" y2="863.8" stroke="#f5f5f5" stroke-width="0.3"/>
<text x="653.6" y="869.2" font-size="3.6" text-anchor="middle" fill="#444">0.12</text>
<line x1="677.6" y1="755.6" x2="677.6" y2="863.8" stroke="#ebebeb" stroke-width="0.5"/>
<line x1="690.9" y1="755.6" x2="690.9" y2="863.8" stroke="#f5f5f5" stroke-width="0.3"/>
<text x="677.6" y="869.2" font-size="3.6" text-anchor="middle" fill="#444">0.14</text>
<line x1="704.1" y1="755.6" x2="704.1" y2="863.8" stroke="#ebebeb" stroke-width="0.5"/>
<line x1="716.8" y1="755.6" x2="716.8" y2="863.8" stroke="#f5f5f5" stroke-width="0.3"/>
<text x="704.1" y="869.2" font-size="3.6" text-anchor="middle" fill="#444">0.16</text>
<line x1="729.4" y1="755.6" x2="729.4" y2="863.8" stroke="#ebebeb" stroke-width="0.5"/>
<text x="729.4" y="869.2" font-size="3.6" text-anchor="middle" fill="#444">0.18</text>
<line x1="619.4" y1="762.7" x2="734.4" y2="762.7" stroke="#ebebeb" stroke-width="0.5"/>
<line x1="619.4" y1="772.8" x2="734.4" y2="772.8" stroke="#ebebeb" stroke-width="0.5"/>
<line x1="619.4" y1="783.4" x2="734.4" y2="783.4" stroke="#ebebeb" stroke-width="0.5"/>
<line x1="619.4" y1="793.8" x2="734.4" y2="793.8" stroke="#ebebeb" stroke-width="0.5"/>
<line x1="619.4" y1="804.9" x2="734.4" y2="804.9" stroke="#ebebeb" stroke-width="0.5"/>
<line x1="619.4" y1="815.3" x2="734.4" y2="815.3" stroke="#ebebeb" stroke-width="0.5"/>
<line x1="619.4" y1="825.9" x2="734.4" y2="825.9" stroke="#ebebeb" stroke-width="0.5"/>
<line x1="619.4" y1="836.5" x2="734.4" y2="836.5" stroke="#ebebeb" stroke-width="0.5"/>
<line x1="619.4" y1="846.8" x2="734.4" y2="846.8" stroke="#ebebeb" stroke-width="0.5"/>
<line x1="619.4" y1="857.5" x2="734.4" y2="857.5" stroke="#ebebeb" stroke-width="0.5"/>
<circle cx="728.1" cy="762.7" r="3.1" fill="#e05a5e"/>
<text x="617.5" y="764.2" font-size="4.4" text-anchor="end" fill="#444">chromosome segregation</text>
<line x1="617.9" y1="762.7" x2="619.4" y2="762.7" stroke="#444" stroke-width="0.4"/>
<circle cx="718.8" cy="772.8" r="3" fill="#df595f"/>
<text x="617.5" y="774.3" font-size="4.4" text-anchor="end" fill="#444">organelle fission</text>
<line x1="617.9" y1="772.8" x2="619.4" y2="772.8" stroke="#444" stroke-width="0.4"/>
<circle cx="713.7" cy="783.4" r="2.9" fill="#df5a60"/>
<text x="617.5" y="784.9" font-size="4.4" text-anchor="end" fill="#444">nuclear division</text>
<line x1="617.9" y1="783.4" x2="619.4" y2="783.4" stroke="#444" stroke-width="0.4"/>
<circle cx="687.2" cy="793.8" r="2.9" fill="#3d70b5"/>
<text x="617.5" y="793.2" font-size="4.4" text-anchor="end" fill="#444">mitotic cell cycle phase</text>
<text x="617.5" y="797.8" font-size="4.4" text-anchor="end" fill="#444">transition</text>
<line x1="617.9" y1="793.8" x2="619.4" y2="793.8" stroke="#444" stroke-width="0.4"/>
<circle cx="678.1" cy="804.9" r="2.6" fill="#df5a60"/>
<text x="617.5" y="806.4" font-size="4.4" text-anchor="end" fill="#444">nuclear chromosome segregation</text>
<line x1="617.9" y1="804.9" x2="619.4" y2="804.9" stroke="#444" stroke-width="0.4"/>
<circle cx="668.2" cy="815.3" r="2.6" fill="#df5a60"/>
<text x="617.5" y="816.8" font-size="4.4" text-anchor="end" fill="#444">mitotic nuclear division</text>
<line x1="617.9" y1="815.3" x2="619.4" y2="815.3" stroke="#444" stroke-width="0.4"/>
<circle cx="665.7" cy="825.9" r="2.6" fill="#df5a60"/>
<text x="617.5" y="827.4" font-size="4.4" text-anchor="end" fill="#444">DNA replication</text>
<line x1="617.9" y1="825.9" x2="619.4" y2="825.9" stroke="#444" stroke-width="0.4"/>
<circle cx="644" cy="836.5" r="2.2" fill="#df5a60"/>
<text x="617.5" y="838" font-size="4.4" text-anchor="end" fill="#444">sister chromatid segregation</text>
<line x1="617.9" y1="836.5" x2="619.4" y2="836.5" stroke="#444" stroke-width="0.4"/>
<circle cx="632.1" cy="846.8" r="2" fill="#df5a60"/>
<text x="617.5" y="846.2" font-size="4.4" text-anchor="end" fill="#444">mitotic sister chromatid</text>
<text x="617.5" y="850.8" font-size="4.4" text-anchor="end" fill="#444">segregation</text>
<line x1="617.9" y1="846.8" x2="619.4" y2="846.8" stroke="#444" stroke-width="0.4"/>
<circle cx="625" cy="857.5" r="1.5" fill="#df5a60"/>
<text x="617.5" y="859" font-size="4.4" text-anchor="end" fill="#444">DNA−templated DNA replication</text>
<line x1="617.9" y1="857.5" x2="619.4" y2="857.5" stroke="#444" stroke-width="0.4"/>
<text x="677.6" y="874.3" font-size="4.2" text-anchor="middle" fill="#333">GeneRatio</text>
<defs><linearGradient id="igr" x1="0" y1="0" x2="0" y2="1"><stop offset="0" stop-color="#e15759"/><stop offset="0.5" stop-color="#9a5c88"/><stop offset="1" stop-color="#3a72b8"/></linearGradient></defs>
<text x="740.3" y="772.6" font-size="3.8" text-anchor="start" fill="#333">p.adjust</text>
<rect x="740.2" y="775.3" width="6.1" height="31.6" fill="url(#igr)" stroke="none" stroke-width="0.6"/>
<text x="748.3" y="776.9" font-size="3" text-anchor="start" fill="#555">6.171655e-16</text>
<text x="748.3" y="784.7" font-size="3" text-anchor="start" fill="#555">4.806751e-16</text>
<text x="748.3" y="792.5" font-size="3" text-anchor="start" fill="#555">3.877394e-16</text>
<text x="748.3" y="800.3" font-size="3" text-anchor="start" fill="#555">2.548579e-16</text>
<text x="748.3" y="808.1" font-size="3" text-anchor="start" fill="#555">1.193489e-16</text>
<text x="740.3" y="819.3" font-size="3.8" text-anchor="start" fill="#333">Count</text>
<circle cx="743.3" cy="824.6" r="2.2" fill="none" stroke="#888" stroke-width="0.4"/>
<text x="750.9" y="825.7" font-size="3" text-anchor="start" fill="#555">40</text>
<circle cx="743.3" cy="830.9" r="2.6" fill="none" stroke="#888" stroke-width="0.4"/>
<text x="750.9" y="832" font-size="3" text-anchor="start" fill="#555">60</text>
<circle cx="743.3" cy="838" r="3" fill="none" stroke="#888" stroke-width="0.4"/>
<text x="750.9" y="839.1" font-size="3" text-anchor="start" fill="#555">80</text>
<circle cx="743.3" cy="846.1" r="3.4" fill="none" stroke="#888" stroke-width="0.4"/>
<text x="750.9" y="847.2" font-size="3" text-anchor="start" fill="#555">90</text>
<polygon points="171.7,913.1 188.5,913.1 196.9,927 179.5,927" fill="#d9d9d9"/>
<rect x="0" y="927.4" width="831" height="1.6" fill="#000" stroke="none" stroke-width="0.6"/>
<text x="215" y="230.8" font-size="7.6" text-anchor="middle" font-weight="bold" fill="#000">Clustering of module eigengenes</text>
<line x1="62.4" y1="247.3" x2="62.4" y2="296.8" stroke="#8a8a8a" stroke-width="0.6"/>
<line x1="59.5" y1="296.8" x2="62.4" y2="296.8" stroke="#8a8a8a" stroke-width="0.6"/>
<line x1="59.5" y1="288.6" x2="62.4" y2="288.6" stroke="#8a8a8a" stroke-width="0.6"/>
<line x1="59.5" y1="280.3" x2="62.4" y2="280.3" stroke="#8a8a8a" stroke-width="0.6"/>
<line x1="59.5" y1="272.1" x2="62.4" y2="272.1" stroke="#8a8a8a" stroke-width="0.6"/>
<line x1="59.5" y1="263.8" x2="62.4" y2="263.8" stroke="#8a8a8a" stroke-width="0.6"/>
<line x1="59.5" y1="255.6" x2="62.4" y2="255.6" stroke="#8a8a8a" stroke-width="0.6"/>
<line x1="59.5" y1="247.3" x2="62.4" y2="247.3" stroke="#8a8a8a" stroke-width="0.6"/>
<text x="52.4" y="296.8" font-size="6" text-anchor="middle" fill="#222" transform="rotate(-90 52.4 296.8)">0.0</text>
<text x="52.4" y="280.3" font-size="6" text-anchor="middle" fill="#222" transform="rotate(-90 52.4 280.3)">0.4</text>
<text x="52.4" y="263.8" font-size="6" text-anchor="middle" fill="#222" transform="rotate(-90 52.4 263.8)">0.8</text>
<text x="52.4" y="247.3" font-size="6" text-anchor="middle" fill="#222" transform="rotate(-90 52.4 247.3)">1.2</text>
<text x="39" y="301" font-size="6.9" text-anchor="middle" fill="#222" transform="rotate(-90 39 301)">Height</text>
<line x1="74.8" y1="266.8" x2="74.8" y2="276.3" stroke="#555" stroke-width="0.6"/>
<text x="75.8" y="277.5" font-size="6.3" text-anchor="end" fill="#222" transform="rotate(-90 75.8 277.5)">MEcyan</text>
<line x1="86.6" y1="266.8" x2="86.6" y2="276.3" stroke="#555" stroke-width="0.6"/>
<text x="87.6" y="277.5" font-size="6.3" text-anchor="end" fill="#222" transform="rotate(-90 87.6 277.5)">MEorange</text>
<line x1="74.8" y1="266.8" x2="86.6" y2="266.8" stroke="#555" stroke-width="0.6"/>
<line x1="80.7" y1="249" x2="80.7" y2="266.8" stroke="#555" stroke-width="0.6"/>
<line x1="98.4" y1="287.4" x2="98.4" y2="296.9" stroke="#555" stroke-width="0.6"/>
<text x="99.4" y="298.1" font-size="6.3" text-anchor="end" fill="#222" transform="rotate(-90 99.4 298.1)">MEgreen</text>
<line x1="110.2" y1="287.4" x2="110.2" y2="296.9" stroke="#555" stroke-width="0.6"/>
<text x="111.2" y="298.1" font-size="6.3" text-anchor="end" fill="#222" transform="rotate(-90 111.2 298.1)">MEturquoise</text>
<line x1="98.4" y1="287.4" x2="110.2" y2="287.4" stroke="#555" stroke-width="0.6"/>
<line x1="104.3" y1="271" x2="104.3" y2="287.4" stroke="#555" stroke-width="0.6"/>
<line x1="122" y1="292.2" x2="122" y2="301.7" stroke="#555" stroke-width="0.6"/>
<text x="123" y="302.9" font-size="6.3" text-anchor="end" fill="#222" transform="rotate(-90 123 302.9)">MEblack</text>
<line x1="133.8" y1="292.2" x2="133.8" y2="301.7" stroke="#555" stroke-width="0.6"/>
<text x="134.8" y="302.9" font-size="6.3" text-anchor="end" fill="#222" transform="rotate(-90 134.8 302.9)">MEmidnightblue</text>
<line x1="122" y1="292.2" x2="133.8" y2="292.2" stroke="#555" stroke-width="0.6"/>
<line x1="127.9" y1="278.3" x2="127.9" y2="292.2" stroke="#555" stroke-width="0.6"/>
<line x1="145.6" y1="279.5" x2="145.6" y2="289" stroke="#555" stroke-width="0.6"/>
<text x="146.6" y="290.2" font-size="6.3" text-anchor="end" fill="#222" transform="rotate(-90 146.6 290.2)">MEgreenyellow</text>
<line x1="157.4" y1="289.9" x2="157.4" y2="299.4" stroke="#555" stroke-width="0.6"/>
<text x="158.4" y="300.6" font-size="6.3" text-anchor="end" fill="#222" transform="rotate(-90 158.4 300.6)">MEmagenta</text>
<line x1="169.2" y1="292.2" x2="169.2" y2="301.7" stroke="#555" stroke-width="0.6"/>
<text x="170.2" y="302.9" font-size="6.3" text-anchor="end" fill="#222" transform="rotate(-90 170.2 302.9)">MEdarkgreen</text>
<line x1="181" y1="292.2" x2="181" y2="301.7" stroke="#555" stroke-width="0.6"/>
<text x="182" y="302.9" font-size="6.3" text-anchor="end" fill="#222" transform="rotate(-90 182 302.9)">MEpurple</text>
<line x1="169.2" y1="292.2" x2="181" y2="292.2" stroke="#555" stroke-width="0.6"/>
<line x1="175.1" y1="289.9" x2="175.1" y2="292.2" stroke="#555" stroke-width="0.6"/>
<line x1="157.4" y1="289.9" x2="175.1" y2="289.9" stroke="#555" stroke-width="0.6"/>
<line x1="166.2" y1="279.5" x2="166.2" y2="289.9" stroke="#555" stroke-width="0.6"/>
<line x1="145.6" y1="279.5" x2="166.2" y2="279.5" stroke="#555" stroke-width="0.6"/>
<line x1="155.9" y1="278.3" x2="155.9" y2="279.5" stroke="#555" stroke-width="0.6"/>
<line x1="127.9" y1="278.3" x2="155.9" y2="278.3" stroke="#555" stroke-width="0.6"/>
<line x1="141.9" y1="271" x2="141.9" y2="278.3" stroke="#555" stroke-width="0.6"/>
<line x1="104.3" y1="271" x2="141.9" y2="271" stroke="#555" stroke-width="0.6"/>
<line x1="123.1" y1="258.1" x2="123.1" y2="271" stroke="#555" stroke-width="0.6"/>
<line x1="192.8" y1="290.8" x2="192.8" y2="300.3" stroke="#555" stroke-width="0.6"/>
<text x="193.8" y="301.5" font-size="6.3" text-anchor="end" fill="#222" transform="rotate(-90 193.8 301.5)">MEdarkturquoise</text>
<line x1="204.6" y1="290.8" x2="204.6" y2="300.3" stroke="#555" stroke-width="0.6"/>
<text x="205.6" y="301.5" font-size="6.3" text-anchor="end" fill="#222" transform="rotate(-90 205.6 301.5)">MElightyellow</text>
<line x1="192.8" y1="290.8" x2="204.6" y2="290.8" stroke="#555" stroke-width="0.6"/>
<line x1="198.7" y1="275.9" x2="198.7" y2="290.8" stroke="#555" stroke-width="0.6"/>
<line x1="216.4" y1="284.8" x2="216.4" y2="294.3" stroke="#555" stroke-width="0.6"/>
<text x="217.4" y="295.5" font-size="6.3" text-anchor="end" fill="#222" transform="rotate(-90 217.4 295.5)">MElightcyan</text>
<line x1="228.2" y1="293.5" x2="228.2" y2="303" stroke="#555" stroke-width="0.6"/>
<text x="229.2" y="304.2" font-size="6.3" text-anchor="end" fill="#222" transform="rotate(-90 229.2 304.2)">MEpink</text>
<line x1="240" y1="293.5" x2="240" y2="303" stroke="#555" stroke-width="0.6"/>
<text x="241" y="304.2" font-size="6.3" text-anchor="end" fill="#222" transform="rotate(-90 241 304.2)">MEroyalblue</text>
<line x1="228.2" y1="293.5" x2="240" y2="293.5" stroke="#555" stroke-width="0.6"/>
<line x1="234.1" y1="284.8" x2="234.1" y2="293.5" stroke="#555" stroke-width="0.6"/>
<line x1="216.4" y1="284.8" x2="234.1" y2="284.8" stroke="#555" stroke-width="0.6"/>
<line x1="225.2" y1="275.9" x2="225.2" y2="284.8" stroke="#555" stroke-width="0.6"/>
<line x1="198.7" y1="275.9" x2="225.2" y2="275.9" stroke="#555" stroke-width="0.6"/>
<line x1="212" y1="266.3" x2="212" y2="275.9" stroke="#555" stroke-width="0.6"/>
<line x1="251.8" y1="289.9" x2="251.8" y2="299.4" stroke="#555" stroke-width="0.6"/>
<text x="252.8" y="300.6" font-size="6.3" text-anchor="end" fill="#222" transform="rotate(-90 252.8 300.6)">MEdarkred</text>
<line x1="263.6" y1="289.9" x2="263.6" y2="299.4" stroke="#555" stroke-width="0.6"/>
<text x="264.6" y="300.6" font-size="6.3" text-anchor="end" fill="#222" transform="rotate(-90 264.6 300.6)">MEtan</text>
<line x1="251.8" y1="289.9" x2="263.6" y2="289.9" stroke="#555" stroke-width="0.6"/>
<line x1="257.7" y1="271.1" x2="257.7" y2="289.9" stroke="#555" stroke-width="0.6"/>
<line x1="275.4" y1="287.2" x2="275.4" y2="296.7" stroke="#555" stroke-width="0.6"/>
<text x="276.4" y="297.9" font-size="6.3" text-anchor="end" fill="#222" transform="rotate(-90 276.4 297.9)">MEblue</text>
<line x1="287.2" y1="291.6" x2="287.2" y2="301.1" stroke="#555" stroke-width="0.6"/>
<text x="288.2" y="302.3" font-size="6.3" text-anchor="end" fill="#222" transform="rotate(-90 288.2 302.3)">MEsalmon</text>
<line x1="299" y1="295.2" x2="299" y2="304.7" stroke="#555" stroke-width="0.6"/>
<text x="300" y="305.9" font-size="6.3" text-anchor="end" fill="#222" transform="rotate(-90 300 305.9)">MEgrey60</text>
<line x1="310.8" y1="295.2" x2="310.8" y2="304.7" stroke="#555" stroke-width="0.6"/>
<text x="311.8" y="305.9" font-size="6.3" text-anchor="end" fill="#222" transform="rotate(-90 311.8 305.9)">MEyellow</text>
<line x1="299" y1="295.2" x2="310.8" y2="295.2" stroke="#555" stroke-width="0.6"/>
<line x1="304.9" y1="291.6" x2="304.9" y2="295.2" stroke="#555" stroke-width="0.6"/>
<line x1="287.2" y1="291.6" x2="304.9" y2="291.6" stroke="#555" stroke-width="0.6"/>
<line x1="296" y1="287.2" x2="296" y2="291.6" stroke="#555" stroke-width="0.6"/>
<line x1="275.4" y1="287.2" x2="296" y2="287.2" stroke="#555" stroke-width="0.6"/>
<line x1="285.7" y1="281.2" x2="285.7" y2="287.2" stroke="#555" stroke-width="0.6"/>
<line x1="322.6" y1="292.8" x2="322.6" y2="302.3" stroke="#555" stroke-width="0.6"/>
<text x="323.6" y="303.5" font-size="6.3" text-anchor="end" fill="#222" transform="rotate(-90 323.6 303.5)">MEbrown</text>
<line x1="334.4" y1="292.8" x2="334.4" y2="302.3" stroke="#555" stroke-width="0.6"/>
<text x="335.4" y="303.5" font-size="6.3" text-anchor="end" fill="#222" transform="rotate(-90 335.4 303.5)">MEred</text>
<line x1="322.6" y1="292.8" x2="334.4" y2="292.8" stroke="#555" stroke-width="0.6"/>
<line x1="328.5" y1="284.8" x2="328.5" y2="292.8" stroke="#555" stroke-width="0.6"/>
<line x1="346.2" y1="291.1" x2="346.2" y2="300.6" stroke="#555" stroke-width="0.6"/>
<text x="347.2" y="301.8" font-size="6.3" text-anchor="end" fill="#222" transform="rotate(-90 347.2 301.8)">MEdarkgrey</text>
<line x1="358" y1="291.1" x2="358" y2="300.6" stroke="#555" stroke-width="0.6"/>
<text x="359" y="301.8" font-size="6.3" text-anchor="end" fill="#222" transform="rotate(-90 359 301.8)">MElightgreen</text>
<line x1="346.2" y1="291.1" x2="358" y2="291.1" stroke="#555" stroke-width="0.6"/>
<line x1="352.1" y1="284.8" x2="352.1" y2="291.1" stroke="#555" stroke-width="0.6"/>
<line x1="328.5" y1="284.8" x2="352.1" y2="284.8" stroke="#555" stroke-width="0.6"/>
<line x1="340.3" y1="281.2" x2="340.3" y2="284.8" stroke="#555" stroke-width="0.6"/>
<line x1="285.7" y1="281.2" x2="340.3" y2="281.2" stroke="#555" stroke-width="0.6"/>
<line x1="313" y1="271.1" x2="313" y2="281.2" stroke="#555" stroke-width="0.6"/>
<line x1="257.7" y1="271.1" x2="313" y2="271.1" stroke="#555" stroke-width="0.6"/>
<line x1="285.4" y1="266.3" x2="285.4" y2="271.1" stroke="#555" stroke-width="0.6"/>
<line x1="212" y1="266.3" x2="285.4" y2="266.3" stroke="#555" stroke-width="0.6"/>
<line x1="248.7" y1="258.1" x2="248.7" y2="266.3" stroke="#555" stroke-width="0.6"/>
<line x1="123.1" y1="258.1" x2="248.7" y2="258.1" stroke="#555" stroke-width="0.6"/>
<line x1="185.9" y1="249" x2="185.9" y2="258.1" stroke="#555" stroke-width="0.6"/>
<line x1="80.7" y1="249" x2="185.9" y2="249" stroke="#555" stroke-width="0.6"/>
<line x1="62.4" y1="290.4" x2="366.5" y2="290.4" stroke="#ff7070" stroke-width="1.6" stroke-opacity="0.6"/>
<text x="218.5" y="18.7" font-size="5.4" text-anchor="middle" font-weight="bold" fill="#000">Sample dendrogram and trait heatmap</text>
<line x1="59.3" y1="30" x2="59.3" y2="123.3" stroke="#aaa" stroke-width="0.9"/>
<line x1="56.3" y1="30" x2="59.3" y2="30" stroke="#777" stroke-width="0.6"/>
<text x="51.8" y="30" font-size="4.9" text-anchor="middle" font-weight="bold" fill="#222" transform="rotate(-90 51.8 30)">400</text>
<line x1="56.3" y1="48.7" x2="59.3" y2="48.7" stroke="#777" stroke-width="0.6"/>
<text x="51.8" y="48.7" font-size="4.9" text-anchor="middle" font-weight="bold" fill="#222" transform="rotate(-90 51.8 48.7)">350</text>
<line x1="56.3" y1="67.3" x2="59.3" y2="67.3" stroke="#777" stroke-width="0.6"/>
<text x="51.8" y="67.3" font-size="4.9" text-anchor="middle" font-weight="bold" fill="#222" transform="rotate(-90 51.8 67.3)">300</text>
<line x1="56.3" y1="86" x2="59.3" y2="86" stroke="#777" stroke-width="0.6"/>
<text x="51.8" y="86" font-size="4.9" text-anchor="middle" font-weight="bold" fill="#222" transform="rotate(-90 51.8 86)">250</text>
<line x1="56.3" y1="104.6" x2="59.3" y2="104.6" stroke="#777" stroke-width="0.6"/>
<text x="51.8" y="104.6" font-size="4.9" text-anchor="middle" font-weight="bold" fill="#222" transform="rotate(-90 51.8 104.6)">200</text>
<line x1="56.3" y1="123.3" x2="59.3" y2="123.3" stroke="#777" stroke-width="0.6"/>
<text x="51.8" y="123.3" font-size="4.9" text-anchor="middle" font-weight="bold" fill="#222" transform="rotate(-90 51.8 123.3)">150</text>
<text x="40.5" y="85" font-size="4.6" text-anchor="middle" fill="#333" transform="rotate(-90 40.5 85)">Height</text>
<line x1="70.3" y1="28.9" x2="225.5" y2="28.9" stroke="#8a8a8a" stroke-width="0.6"/>
<line x1="70.3" y1="28.9" x2="70.3" y2="39.4" stroke="#8a8a8a" stroke-width="0.6"/>
<text x="71.5" y="40" font-size="3.8" text-anchor="end" font-weight="bold" fill="#484848" transform="rotate(-90 71.5 40)">GSM5285656</text>
<line x1="225.5" y1="28.9" x2="225.5" y2="34.6" stroke="#8a8a8a" stroke-width="0.6"/>
<line x1="85.3" y1="34.6" x2="364" y2="34.6" stroke="#8a8a8a" stroke-width="0.6"/>
<line x1="364" y1="34.6" x2="364" y2="38.4" stroke="#8a8a8a" stroke-width="0.6"/>
<text x="365.3" y="39" font-size="4.6" text-anchor="end" font-weight="bold" fill="#484848" transform="rotate(-90 365.3 39)">GSM12345678</text>
<line x1="85.3" y1="34.6" x2="85.3" y2="45.2" stroke="#8a8a8a" stroke-width="0.6"/>
<line x1="71.4" y1="61.2" x2="71.4" y2="66.2" stroke="#8a8a8a" stroke-width="0.5"/>
<text x="72.7" y="66.8" font-size="3.8" text-anchor="end" font-weight="bold" fill="#484848" transform="rotate(-90 72.7 66.8)">GSM7015227</text>
<line x1="73.8" y1="61.2" x2="73.8" y2="66.2" stroke="#8a8a8a" stroke-width="0.5"/>
<text x="75.1" y="66.8" font-size="3.8" text-anchor="end" font-weight="bold" fill="#484848" transform="rotate(-90 75.1 66.8)">GSM9892593</text>
<line x1="71.4" y1="61.2" x2="73.8" y2="61.2" stroke="#8a8a8a" stroke-width="0.5"/>
<line x1="72.6" y1="52" x2="72.6" y2="61.2" stroke="#8a8a8a" stroke-width="0.5"/>
<line x1="76.2" y1="67.1" x2="76.2" y2="72.1" stroke="#8a8a8a" stroke-width="0.5"/>
<text x="77.5" y="72.7" font-size="3.8" text-anchor="end" font-weight="bold" fill="#484848" transform="rotate(-90 77.5 72.7)">GSM1486626</text>
<line x1="78.6" y1="67.1" x2="78.6" y2="72.1" stroke="#8a8a8a" stroke-width="0.5"/>
<text x="79.8" y="72.7" font-size="3.8" text-anchor="end" font-weight="bold" fill="#484848" transform="rotate(-90 79.8 72.7)">GSM8811851</text>
<line x1="76.2" y1="67.1" x2="78.6" y2="67.1" stroke="#8a8a8a" stroke-width="0.5"/>
<line x1="77.4" y1="61.4" x2="77.4" y2="67.1" stroke="#8a8a8a" stroke-width="0.5"/>
<line x1="81" y1="61.4" x2="81" y2="66.4" stroke="#8a8a8a" stroke-width="0.5"/>
<text x="82.2" y="67" font-size="3.8" text-anchor="end" font-weight="bold" fill="#484848" transform="rotate(-90 82.2 67)">GSM5178410</text>
<line x1="77.4" y1="61.4" x2="81" y2="61.4" stroke="#8a8a8a" stroke-width="0.5"/>
<line x1="79.2" y1="52" x2="79.2" y2="61.4" stroke="#8a8a8a" stroke-width="0.5"/>
<line x1="72.6" y1="52" x2="79.2" y2="52" stroke="#8a8a8a" stroke-width="0.5"/>
<line x1="74.3" y1="45.2" x2="97" y2="45.2" stroke="#8a8a8a" stroke-width="0.6"/>
<line x1="74.3" y1="45.2" x2="74.3" y2="52" stroke="#8a8a8a" stroke-width="0.6"/>
<line x1="74.3" y1="52" x2="75.9" y2="52" stroke="#8a8a8a" stroke-width="0.6"/>
<line x1="82.3" y1="61.3" x2="82.3" y2="66.3" stroke="#8a8a8a" stroke-width="0.5"/>
<text x="83.5" y="66.9" font-size="3.8" text-anchor="end" font-weight="bold" fill="#484848" transform="rotate(-90 83.5 66.9)">GSM1869953</text>
<line x1="84.9" y1="61.3" x2="84.9" y2="66.3" stroke="#8a8a8a" stroke-width="0.5"/>
<text x="86.1" y="66.9" font-size="3.8" text-anchor="end" font-weight="bold" fill="#484848" transform="rotate(-90 86.1 66.9)">GSM3631528</text>
<line x1="82.3" y1="61.3" x2="84.9" y2="61.3" stroke="#8a8a8a" stroke-width="0.5"/>
<line x1="83.6" y1="54.4" x2="83.6" y2="61.3" stroke="#8a8a8a" stroke-width="0.5"/>
<line x1="87.4" y1="63.1" x2="87.4" y2="68.1" stroke="#8a8a8a" stroke-width="0.5"/>
<text x="88.7" y="68.7" font-size="3.8" text-anchor="end" font-weight="bold" fill="#484848" transform="rotate(-90 88.7 68.7)">GSM2899280</text>
<line x1="90" y1="63.1" x2="90" y2="68.1" stroke="#8a8a8a" stroke-width="0.5"/>
<text x="91.2" y="68.7" font-size="3.8" text-anchor="end" font-weight="bold" fill="#484848" transform="rotate(-90 91.2 68.7)">GSM7237657</text>
<line x1="87.4" y1="63.1" x2="90" y2="63.1" stroke="#8a8a8a" stroke-width="0.5"/>
<line x1="88.7" y1="54.4" x2="88.7" y2="63.1" stroke="#8a8a8a" stroke-width="0.5"/>
<line x1="83.6" y1="54.4" x2="88.7" y2="54.4" stroke="#8a8a8a" stroke-width="0.5"/>
<line x1="83.2" y1="45.2" x2="83.2" y2="54.4" stroke="#8a8a8a" stroke-width="0.6"/>
<line x1="83.2" y1="54.4" x2="86.2" y2="54.4" stroke="#8a8a8a" stroke-width="0.6"/>
<line x1="97" y1="45.2" x2="97" y2="46.8" stroke="#8a8a8a" stroke-width="0.6"/>
<line x1="90.3" y1="46.8" x2="131" y2="46.8" stroke="#8a8a8a" stroke-width="0.6"/>
<line x1="91.9" y1="66.5" x2="91.9" y2="74.5" stroke="#8a8a8a" stroke-width="0.5"/>
<text x="93.2" y="75.1" font-size="3.8" text-anchor="end" font-weight="bold" fill="#484848" transform="rotate(-90 93.2 75.1)">GSM8869672</text>
<line x1="94.1" y1="66.5" x2="94.1" y2="74.5" stroke="#8a8a8a" stroke-width="0.5"/>
<text x="95.4" y="75.1" font-size="3.8" text-anchor="end" font-weight="bold" fill="#484848" transform="rotate(-90 95.4 75.1)">GSM5136805</text>
<line x1="91.9" y1="66.5" x2="94.1" y2="66.5" stroke="#8a8a8a" stroke-width="0.5"/>
<line x1="93" y1="58" x2="93" y2="66.5" stroke="#8a8a8a" stroke-width="0.5"/>
<line x1="96.3" y1="74.9" x2="96.3" y2="82.9" stroke="#8a8a8a" stroke-width="0.5"/>
<text x="97.5" y="83.5" font-size="3.8" text-anchor="end" font-weight="bold" fill="#484848" transform="rotate(-90 97.5 83.5)">GSM7388057</text>
<line x1="98.5" y1="74.9" x2="98.5" y2="82.9" stroke="#8a8a8a" stroke-width="0.5"/>
<text x="99.8" y="83.5" font-size="3.8" text-anchor="end" font-weight="bold" fill="#484848" transform="rotate(-90 99.8 83.5)">GSM2710846</text>
<line x1="96.3" y1="74.9" x2="98.5" y2="74.9" stroke="#8a8a8a" stroke-width="0.5"/>
<line x1="97.4" y1="58" x2="97.4" y2="74.9" stroke="#8a8a8a" stroke-width="0.5"/>
<line x1="93" y1="58" x2="97.4" y2="58" stroke="#8a8a8a" stroke-width="0.5"/>
<line x1="90.3" y1="46.8" x2="90.3" y2="58" stroke="#8a8a8a" stroke-width="0.6"/>
<line x1="90.3" y1="58" x2="95.2" y2="58" stroke="#8a8a8a" stroke-width="0.6"/>
<line x1="131" y1="46.8" x2="131" y2="53.8" stroke="#8a8a8a" stroke-width="0.6"/>
<line x1="100.9" y1="53.8" x2="212.9" y2="53.8" stroke="#8a8a8a" stroke-width="0.6"/>
<line x1="100.9" y1="53.8" x2="100.9" y2="64" stroke="#8a8a8a" stroke-width="0.6"/>
<text x="102.2" y="64.6" font-size="3.8" text-anchor="end" font-weight="bold" fill="#484848" transform="rotate(-90 102.2 64.6)">GSM5183075</text>
<line x1="102.3" y1="86" x2="102.3" y2="88" stroke="#8a8a8a" stroke-width="0.6"/>
<text x="103.5" y="88.6" font-size="3.8" text-anchor="end" font-weight="bold" fill="#484848" transform="rotate(-90 103.5 88.6)">GSM1220019</text>
<line x1="104.5" y1="77.9" x2="104.5" y2="82.9" stroke="#8a8a8a" stroke-width="0.5"/>
<text x="105.8" y="83.5" font-size="3.8" text-anchor="end" font-weight="bold" fill="#484848" transform="rotate(-90 105.8 83.5)">GSM4636122</text>
<line x1="106.9" y1="96.1" x2="106.9" y2="101.1" stroke="#8a8a8a" stroke-width="0.5"/>
<text x="108.2" y="101.7" font-size="3.8" text-anchor="end" font-weight="bold" fill="#484848" transform="rotate(-90 108.2 101.7)">GSM7847638</text>
<line x1="109.3" y1="96.1" x2="109.3" y2="101.1" stroke="#8a8a8a" stroke-width="0.5"/>
<text x="110.6" y="101.7" font-size="3.8" text-anchor="end" font-weight="bold" fill="#484848" transform="rotate(-90 110.6 101.7)">GSM5688936</text>
<line x1="106.9" y1="96.1" x2="109.3" y2="96.1" stroke="#8a8a8a" stroke-width="0.5"/>
<line x1="108.1" y1="77.9" x2="108.1" y2="96.1" stroke="#8a8a8a" stroke-width="0.5"/>
<line x1="104.5" y1="77.9" x2="108.1" y2="77.9" stroke="#8a8a8a" stroke-width="0.5"/>
<line x1="106.3" y1="71.3" x2="106.3" y2="77.9" stroke="#8a8a8a" stroke-width="0.5"/>
<line x1="111.8" y1="101.7" x2="111.8" y2="106.7" stroke="#8a8a8a" stroke-width="0.5"/>
<text x="113" y="107.3" font-size="3.8" text-anchor="end" font-weight="bold" fill="#484848" transform="rotate(-90 113 107.3)">GSM4054722</text>
<line x1="114.2" y1="101.7" x2="114.2" y2="106.7" stroke="#8a8a8a" stroke-width="0.5"/>
<text x="115.4" y="107.3" font-size="3.8" text-anchor="end" font-weight="bold" fill="#484848" transform="rotate(-90 115.4 107.3)">GSM7533673</text>
<line x1="111.8" y1="101.7" x2="114.2" y2="101.7" stroke="#8a8a8a" stroke-width="0.5"/>
<line x1="113" y1="84" x2="113" y2="101.7" stroke="#8a8a8a" stroke-width="0.5"/>
<line x1="116.6" y1="84" x2="116.6" y2="89" stroke="#8a8a8a" stroke-width="0.5"/>
<text x="117.8" y="89.6" font-size="3.8" text-anchor="end" font-weight="bold" fill="#484848" transform="rotate(-90 117.8 89.6)">GSM3677714</text>
<line x1="113" y1="84" x2="116.6" y2="84" stroke="#8a8a8a" stroke-width="0.5"/>
<line x1="114.8" y1="71.3" x2="114.8" y2="84" stroke="#8a8a8a" stroke-width="0.5"/>
<line x1="106.3" y1="71.3" x2="114.8" y2="71.3" stroke="#8a8a8a" stroke-width="0.5"/>
<line x1="106.9" y1="53.8" x2="106.9" y2="71.3" stroke="#8a8a8a" stroke-width="0.6"/>
<line x1="106.9" y1="71.3" x2="110.6" y2="71.3" stroke="#8a8a8a" stroke-width="0.6"/>
<line x1="212.9" y1="53.8" x2="212.9" y2="60.2" stroke="#8a8a8a" stroke-width="0.6"/>
<line x1="145.7" y1="60.2" x2="274.6" y2="60.2" stroke="#8a8a8a" stroke-width="0.6"/>
<line x1="145.7" y1="60.2" x2="145.7" y2="71.6" stroke="#8a8a8a" stroke-width="0.6"/>
<line x1="119.7" y1="71.6" x2="171.3" y2="71.6" stroke="#8a8a8a" stroke-width="0.6"/>
<line x1="119" y1="84.5" x2="119" y2="94.5" stroke="#8a8a8a" stroke-width="0.5"/>
<text x="120.2" y="95.1" font-size="3.8" text-anchor="end" font-weight="bold" fill="#484848" transform="rotate(-90 120.2 95.1)">GSM2206814</text>
<line x1="120.8" y1="85" x2="120.8" y2="95" stroke="#8a8a8a" stroke-width="0.5"/>
<text x="122" y="95.6" font-size="3.8" text-anchor="end" font-weight="bold" fill="#484848" transform="rotate(-90 122 95.6)">GSM3328130</text>
<line x1="122.6" y1="85" x2="122.6" y2="95" stroke="#8a8a8a" stroke-width="0.5"/>
<text x="123.8" y="95.6" font-size="3.8" text-anchor="end" font-weight="bold" fill="#484848" transform="rotate(-90 123.8 95.6)">GSM8463104</text>
<line x1="120.8" y1="85" x2="122.6" y2="85" stroke="#8a8a8a" stroke-width="0.5"/>
<line x1="121.7" y1="84.5" x2="121.7" y2="85" stroke="#8a8a8a" stroke-width="0.5"/>
<line x1="119" y1="84.5" x2="121.7" y2="84.5" stroke="#8a8a8a" stroke-width="0.5"/>
<line x1="119.7" y1="71.6" x2="119.7" y2="84.5" stroke="#8a8a8a" stroke-width="0.6"/>
<line x1="119.7" y1="84.5" x2="120.4" y2="84.5" stroke="#8a8a8a" stroke-width="0.6"/>
<line x1="171.3" y1="71.6" x2="171.3" y2="79.2" stroke="#8a8a8a" stroke-width="0.6"/>
<line x1="127.3" y1="79.2" x2="214.6" y2="79.2" stroke="#8a8a8a" stroke-width="0.6"/>
<line x1="125" y1="102.4" x2="125" y2="107.4" stroke="#8a8a8a" stroke-width="0.5"/>
<text x="126.2" y="108" font-size="3.8" text-anchor="end" font-weight="bold" fill="#484848" transform="rotate(-90 126.2 108)">GSM3125660</text>
<line x1="127.4" y1="102.4" x2="127.4" y2="107.4" stroke="#8a8a8a" stroke-width="0.5"/>
<text x="128.7" y="108" font-size="3.8" text-anchor="end" font-weight="bold" fill="#484848" transform="rotate(-90 128.7 108)">GSM3218633</text>
<line x1="125" y1="102.4" x2="127.4" y2="102.4" stroke="#8a8a8a" stroke-width="0.5"/>
<line x1="126.2" y1="89.3" x2="126.2" y2="102.4" stroke="#8a8a8a" stroke-width="0.5"/>
<line x1="129.8" y1="105.4" x2="129.8" y2="110.4" stroke="#8a8a8a" stroke-width="0.5"/>
<text x="131.1" y="111" font-size="3.8" text-anchor="end" font-weight="bold" fill="#484848" transform="rotate(-90 131.1 111)">GSM1029777</text>
<line x1="132.2" y1="105.4" x2="132.2" y2="110.4" stroke="#8a8a8a" stroke-width="0.5"/>
<text x="133.4" y="111" font-size="3.8" text-anchor="end" font-weight="bold" fill="#484848" transform="rotate(-90 133.4 111)">GSM1089139</text>
<line x1="129.8" y1="105.4" x2="132.2" y2="105.4" stroke="#8a8a8a" stroke-width="0.5"/>
<line x1="131" y1="101.4" x2="131" y2="105.4" stroke="#8a8a8a" stroke-width="0.5"/>
<line x1="134.6" y1="101.4" x2="134.6" y2="106.4" stroke="#8a8a8a" stroke-width="0.5"/>
<text x="135.8" y="107" font-size="3.8" text-anchor="end" font-weight="bold" fill="#484848" transform="rotate(-90 135.8 107)">GSM4514094</text>
<line x1="131" y1="101.4" x2="134.6" y2="101.4" stroke="#8a8a8a" stroke-width="0.5"/>
<line x1="132.8" y1="89.3" x2="132.8" y2="101.4" stroke="#8a8a8a" stroke-width="0.5"/>
<line x1="126.2" y1="89.3" x2="132.8" y2="89.3" stroke="#8a8a8a" stroke-width="0.5"/>
<line x1="127.3" y1="79.2" x2="127.3" y2="89.3" stroke="#8a8a8a" stroke-width="0.6"/>
<line x1="127.3" y1="89.3" x2="129.5" y2="89.3" stroke="#8a8a8a" stroke-width="0.6"/>
<line x1="214.6" y1="79.2" x2="214.6" y2="85.1" stroke="#8a8a8a" stroke-width="0.6"/>
<line x1="182.6" y1="85.1" x2="245.4" y2="85.1" stroke="#8a8a8a" stroke-width="0.6"/>
<line x1="182.6" y1="85.1" x2="182.6" y2="88.3" stroke="#8a8a8a" stroke-width="0.6"/>
<line x1="138.2" y1="88.3" x2="227" y2="88.3" stroke="#8a8a8a" stroke-width="0.6"/>
<line x1="137" y1="101.8" x2="137" y2="106.8" stroke="#8a8a8a" stroke-width="0.5"/>
<text x="138.2" y="107.4" font-size="3.8" text-anchor="end" font-weight="bold" fill="#484848" transform="rotate(-90 138.2 107.4)">GSM4615174</text>
<line x1="139.5" y1="104" x2="139.5" y2="109" stroke="#8a8a8a" stroke-width="0.5"/>
<text x="140.8" y="109.6" font-size="3.8" text-anchor="end" font-weight="bold" fill="#484848" transform="rotate(-90 140.8 109.6)">GSM3782609</text>
<line x1="142" y1="104" x2="142" y2="109" stroke="#8a8a8a" stroke-width="0.5"/>
<text x="143.3" y="109.6" font-size="3.8" text-anchor="end" font-weight="bold" fill="#484848" transform="rotate(-90 143.3 109.6)">GSM3793146</text>
<line x1="139.5" y1="104" x2="142" y2="104" stroke="#8a8a8a" stroke-width="0.5"/>
<line x1="140.8" y1="102.8" x2="140.8" y2="104" stroke="#8a8a8a" stroke-width="0.5"/>
<line x1="144.6" y1="103.4" x2="144.6" y2="108.4" stroke="#8a8a8a" stroke-width="0.5"/>
<text x="145.8" y="109" font-size="3.8" text-anchor="end" font-weight="bold" fill="#484848" transform="rotate(-90 145.8 109)">GSM5853735</text>
<line x1="147.1" y1="103.4" x2="147.1" y2="108.4" stroke="#8a8a8a" stroke-width="0.5"/>
<text x="148.3" y="109" font-size="3.8" text-anchor="end" font-weight="bold" fill="#484848" transform="rotate(-90 148.3 109)">GSM6262196</text>
<line x1="144.6" y1="103.4" x2="147.1" y2="103.4" stroke="#8a8a8a" stroke-width="0.5"/>
<line x1="145.8" y1="102.8" x2="145.8" y2="103.4" stroke="#8a8a8a" stroke-width="0.5"/>
<line x1="140.8" y1="102.8" x2="145.8" y2="102.8" stroke="#8a8a8a" stroke-width="0.5"/>
<line x1="143.3" y1="102.7" x2="143.3" y2="102.8" stroke="#8a8a8a" stroke-width="0.5"/>
<line x1="149.6" y1="106.9" x2="149.6" y2="111.9" stroke="#8a8a8a" stroke-width="0.5"/>
<text x="150.8" y="112.5" font-size="3.8" text-anchor="end" font-weight="bold" fill="#484848" transform="rotate(-90 150.8 112.5)">GSM4336809</text>
<line x1="152.1" y1="106.9" x2="152.1" y2="111.9" stroke="#8a8a8a" stroke-width="0.5"/>
<text x="153.4" y="112.5" font-size="3.8" text-anchor="end" font-weight="bold" fill="#484848" transform="rotate(-90 153.4 112.5)">GSM4435630</text>
<line x1="149.6" y1="106.9" x2="152.1" y2="106.9" stroke="#8a8a8a" stroke-width="0.5"/>
<line x1="150.9" y1="102.7" x2="150.9" y2="106.9" stroke="#8a8a8a" stroke-width="0.5"/>
<line x1="143.3" y1="102.7" x2="150.9" y2="102.7" stroke="#8a8a8a" stroke-width="0.5"/>
<line x1="147.1" y1="101.8" x2="147.1" y2="102.7" stroke="#8a8a8a" stroke-width="0.5"/>
<line x1="137" y1="101.8" x2="147.1" y2="101.8" stroke="#8a8a8a" stroke-width="0.5"/>
<line x1="142" y1="99.8" x2="142" y2="101.8" stroke="#8a8a8a" stroke-width="0.5"/>
<line x1="154.6" y1="106.6" x2="154.6" y2="111.6" stroke="#8a8a8a" stroke-width="0.5"/>
<text x="155.9" y="112.2" font-size="3.8" text-anchor="end" font-weight="bold" fill="#484848" transform="rotate(-90 155.9 112.2)">GSM4047894</text>
<line x1="157.2" y1="106.6" x2="157.2" y2="111.6" stroke="#8a8a8a" stroke-width="0.5"/>
<text x="158.4" y="112.2" font-size="3.8" text-anchor="end" font-weight="bold" fill="#484848" transform="rotate(-90 158.4 112.2)">GSM4303082</text>
<line x1="154.6" y1="106.6" x2="157.2" y2="106.6" stroke="#8a8a8a" stroke-width="0.5"/>
<line x1="155.9" y1="99.8" x2="155.9" y2="106.6" stroke="#8a8a8a" stroke-width="0.5"/>
<line x1="142" y1="99.8" x2="155.9" y2="99.8" stroke="#8a8a8a" stroke-width="0.5"/>
<line x1="149" y1="92.8" x2="149" y2="99.8" stroke="#8a8a8a" stroke-width="0.5"/>
<line x1="159.7" y1="100.7" x2="159.7" y2="105.7" stroke="#8a8a8a" stroke-width="0.5"/>
<text x="160.9" y="106.3" font-size="3.8" text-anchor="end" font-weight="bold" fill="#484848" transform="rotate(-90 160.9 106.3)">GSM7429423</text>
<line x1="162.2" y1="101.3" x2="162.2" y2="106.3" stroke="#8a8a8a" stroke-width="0.5"/>
<text x="163.4" y="106.9" font-size="3.8" text-anchor="end" font-weight="bold" fill="#484848" transform="rotate(-90 163.4 106.9)">GSM6012845</text>
<line x1="164.7" y1="101.3" x2="164.7" y2="106.3" stroke="#8a8a8a" stroke-width="0.5"/>
<text x="166" y="106.9" font-size="3.8" text-anchor="end" font-weight="bold" fill="#484848" transform="rotate(-90 166 106.9)">GSM1361888</text>
<line x1="162.2" y1="101.3" x2="164.7" y2="101.3" stroke="#8a8a8a" stroke-width="0.5"/>
<line x1="163.5" y1="100.7" x2="163.5" y2="101.3" stroke="#8a8a8a" stroke-width="0.5"/>
<line x1="159.7" y1="100.7" x2="163.5" y2="100.7" stroke="#8a8a8a" stroke-width="0.5"/>
<line x1="161.6" y1="97.1" x2="161.6" y2="100.7" stroke="#8a8a8a" stroke-width="0.5"/>
<line x1="167.2" y1="97.1" x2="167.2" y2="102.1" stroke="#8a8a8a" stroke-width="0.5"/>
<text x="168.5" y="102.7" font-size="3.8" text-anchor="end" font-weight="bold" fill="#484848" transform="rotate(-90 168.5 102.7)">GSM7059761</text>
<line x1="161.6" y1="97.1" x2="167.2" y2="97.1" stroke="#8a8a8a" stroke-width="0.5"/>
<line x1="164.4" y1="92.8" x2="164.4" y2="97.1" stroke="#8a8a8a" stroke-width="0.5"/>
<line x1="149" y1="92.8" x2="164.4" y2="92.8" stroke="#8a8a8a" stroke-width="0.5"/>
<line x1="156.7" y1="92" x2="156.7" y2="92.8" stroke="#8a8a8a" stroke-width="0.5"/>
<line x1="169.8" y1="100.8" x2="169.8" y2="105.8" stroke="#8a8a8a" stroke-width="0.5"/>
<text x="171" y="106.4" font-size="3.8" text-anchor="end" font-weight="bold" fill="#484848" transform="rotate(-90 171 106.4)">GSM7960979</text>
<line x1="172.3" y1="108.9" x2="172.3" y2="113.9" stroke="#8a8a8a" stroke-width="0.5"/>
<text x="173.5" y="114.5" font-size="3.8" text-anchor="end" font-weight="bold" fill="#484848" transform="rotate(-90 173.5 114.5)">GSM3784280</text>
<line x1="174.8" y1="111.4" x2="174.8" y2="116.4" stroke="#8a8a8a" stroke-width="0.5"/>
<text x="176.1" y="117" font-size="3.8" text-anchor="end" font-weight="bold" fill="#484848" transform="rotate(-90 176.1 117)">GSM3444472</text>
<line x1="177.3" y1="111.4" x2="177.3" y2="116.4" stroke="#8a8a8a" stroke-width="0.5"/>
<text x="178.6" y="117" font-size="3.8" text-anchor="end" font-weight="bold" fill="#484848" transform="rotate(-90 178.6 117)">GSM5426029</text>
<line x1="174.8" y1="111.4" x2="177.3" y2="111.4" stroke="#8a8a8a" stroke-width="0.5"/>
<line x1="176.1" y1="108.9" x2="176.1" y2="111.4" stroke="#8a8a8a" stroke-width="0.5"/>
<line x1="172.3" y1="108.9" x2="176.1" y2="108.9" stroke="#8a8a8a" stroke-width="0.5"/>
<line x1="174.2" y1="100.8" x2="174.2" y2="108.9" stroke="#8a8a8a" stroke-width="0.5"/>
<line x1="169.8" y1="100.8" x2="174.2" y2="100.8" stroke="#8a8a8a" stroke-width="0.5"/>
<line x1="172" y1="99.7" x2="172" y2="100.8" stroke="#8a8a8a" stroke-width="0.5"/>
<line x1="179.8" y1="110.5" x2="179.8" y2="115.5" stroke="#8a8a8a" stroke-width="0.5"/>
<text x="181.1" y="116.1" font-size="3.8" text-anchor="end" font-weight="bold" fill="#484848" transform="rotate(-90 181.1 116.1)">GSM2092863</text>
<line x1="182.4" y1="110.5" x2="182.4" y2="115.5" stroke="#8a8a8a" stroke-width="0.5"/>
<text x="183.6" y="116.1" font-size="3.8" text-anchor="end" font-weight="bold" fill="#484848" transform="rotate(-90 183.6 116.1)">GSM6567594</text>
<line x1="179.8" y1="110.5" x2="182.4" y2="110.5" stroke="#8a8a8a" stroke-width="0.5"/>
<line x1="181.1" y1="109.2" x2="181.1" y2="110.5" stroke="#8a8a8a" stroke-width="0.5"/>
<line x1="184.9" y1="109.2" x2="184.9" y2="114.2" stroke="#8a8a8a" stroke-width="0.5"/>
<text x="186.1" y="114.8" font-size="3.8" text-anchor="end" font-weight="bold" fill="#484848" transform="rotate(-90 186.1 114.8)">GSM6055966</text>
<line x1="181.1" y1="109.2" x2="184.9" y2="109.2" stroke="#8a8a8a" stroke-width="0.5"/>
<line x1="183" y1="107.1" x2="183" y2="109.2" stroke="#8a8a8a" stroke-width="0.5"/>
<line x1="187.4" y1="107.1" x2="187.4" y2="112.1" stroke="#8a8a8a" stroke-width="0.5"/>
<text x="188.7" y="112.7" font-size="3.8" text-anchor="end" font-weight="bold" fill="#484848" transform="rotate(-90 188.7 112.7)">GSM1056759</text>
<line x1="183" y1="107.1" x2="187.4" y2="107.1" stroke="#8a8a8a" stroke-width="0.5"/>
<line x1="185.2" y1="99.7" x2="185.2" y2="107.1" stroke="#8a8a8a" stroke-width="0.5"/>
<line x1="172" y1="99.7" x2="185.2" y2="99.7" stroke="#8a8a8a" stroke-width="0.5"/>
<line x1="178.6" y1="93.6" x2="178.6" y2="99.7" stroke="#8a8a8a" stroke-width="0.5"/>
<line x1="189.9" y1="103.6" x2="189.9" y2="108.6" stroke="#8a8a8a" stroke-width="0.5"/>
<text x="191.2" y="109.2" font-size="3.8" text-anchor="end" font-weight="bold" fill="#484848" transform="rotate(-90 191.2 109.2)">GSM6668968</text>
<line x1="192.4" y1="106.4" x2="192.4" y2="111.4" stroke="#8a8a8a" stroke-width="0.5"/>
<text x="193.7" y="112" font-size="3.8" text-anchor="end" font-weight="bold" fill="#484848" transform="rotate(-90 193.7 112)">GSM2107672</text>
<line x1="195" y1="106.4" x2="195" y2="111.4" stroke="#8a8a8a" stroke-width="0.5"/>
<text x="196.2" y="112" font-size="3.8" text-anchor="end" font-weight="bold" fill="#484848" transform="rotate(-90 196.2 112)">GSM6200231</text>
<line x1="192.4" y1="106.4" x2="195" y2="106.4" stroke="#8a8a8a" stroke-width="0.5"/>
<line x1="193.7" y1="103.6" x2="193.7" y2="106.4" stroke="#8a8a8a" stroke-width="0.5"/>
<line x1="189.9" y1="103.6" x2="193.7" y2="103.6" stroke="#8a8a8a" stroke-width="0.5"/>
<line x1="191.8" y1="100.5" x2="191.8" y2="103.6" stroke="#8a8a8a" stroke-width="0.5"/>
<line x1="197.5" y1="100.5" x2="197.5" y2="105.5" stroke="#8a8a8a" stroke-width="0.5"/>
<text x="198.7" y="106.1" font-size="3.8" text-anchor="end" font-weight="bold" fill="#484848" transform="rotate(-90 198.7 106.1)">GSM6961806</text>
<line x1="191.8" y1="100.5" x2="197.5" y2="100.5" stroke="#8a8a8a" stroke-width="0.5"/>
<line x1="194.6" y1="99" x2="194.6" y2="100.5" stroke="#8a8a8a" stroke-width="0.5"/>
<line x1="200" y1="99" x2="200" y2="104" stroke="#8a8a8a" stroke-width="0.5"/>
<text x="201.2" y="104.6" font-size="3.8" text-anchor="end" font-weight="bold" fill="#484848" transform="rotate(-90 201.2 104.6)">GSM6134906</text>
<line x1="194.6" y1="99" x2="200" y2="99" stroke="#8a8a8a" stroke-width="0.5"/>
<line x1="197.3" y1="93.6" x2="197.3" y2="99" stroke="#8a8a8a" stroke-width="0.5"/>
<line x1="178.6" y1="93.6" x2="197.3" y2="93.6" stroke="#8a8a8a" stroke-width="0.5"/>
<line x1="188" y1="92" x2="188" y2="93.6" stroke="#8a8a8a" stroke-width="0.5"/>
<line x1="156.7" y1="92" x2="188" y2="92" stroke="#8a8a8a" stroke-width="0.5"/>
<line x1="138.2" y1="92" x2="172.3" y2="92" stroke="#8a8a8a" stroke-width="0.6"/>
<line x1="138.2" y1="88.3" x2="138.2" y2="92" stroke="#8a8a8a" stroke-width="0.6"/>
<line x1="201" y1="105.1" x2="201" y2="110.1" stroke="#8a8a8a" stroke-width="0.5"/>
<text x="202.2" y="110.7" font-size="3.8" text-anchor="end" font-weight="bold" fill="#484848" transform="rotate(-90 202.2 110.7)">GSM9065565</text>
<line x1="203.6" y1="109.3" x2="203.6" y2="114.3" stroke="#8a8a8a" stroke-width="0.5"/>
<text x="204.8" y="114.9" font-size="3.8" text-anchor="end" font-weight="bold" fill="#484848" transform="rotate(-90 204.8 114.9)">GSM6298129</text>
<line x1="206.2" y1="111.5" x2="206.2" y2="116.5" stroke="#8a8a8a" stroke-width="0.5"/>
<text x="207.4" y="117.1" font-size="3.8" text-anchor="end" font-weight="bold" fill="#484848" transform="rotate(-90 207.4 117.1)">GSM4099980</text>
<line x1="208.8" y1="111.5" x2="208.8" y2="116.5" stroke="#8a8a8a" stroke-width="0.5"/>
<text x="210" y="117.1" font-size="3.8" text-anchor="end" font-weight="bold" fill="#484848" transform="rotate(-90 210 117.1)">GSM9073504</text>
<line x1="206.2" y1="111.5" x2="208.8" y2="111.5" stroke="#8a8a8a" stroke-width="0.5"/>
<line x1="207.5" y1="109.3" x2="207.5" y2="111.5" stroke="#8a8a8a" stroke-width="0.5"/>
<line x1="203.6" y1="109.3" x2="207.5" y2="109.3" stroke="#8a8a8a" stroke-width="0.5"/>
<line x1="205.5" y1="105.1" x2="205.5" y2="109.3" stroke="#8a8a8a" stroke-width="0.5"/>
<line x1="201" y1="105.1" x2="205.5" y2="105.1" stroke="#8a8a8a" stroke-width="0.5"/>
<line x1="203.3" y1="101" x2="203.3" y2="105.1" stroke="#8a8a8a" stroke-width="0.5"/>
<line x1="211.3" y1="108.8" x2="211.3" y2="113.8" stroke="#8a8a8a" stroke-width="0.5"/>
<text x="212.6" y="114.4" font-size="3.8" text-anchor="end" font-weight="bold" fill="#484848" transform="rotate(-90 212.6 114.4)">GSM8927877</text>
<line x1="213.9" y1="108.8" x2="213.9" y2="113.8" stroke="#8a8a8a" stroke-width="0.5"/>
<text x="215.2" y="114.4" font-size="3.8" text-anchor="end" font-weight="bold" fill="#484848" transform="rotate(-90 215.2 114.4)">GSM3954804</text>
<line x1="211.3" y1="108.8" x2="213.9" y2="108.8" stroke="#8a8a8a" stroke-width="0.5"/>
<line x1="212.6" y1="107.9" x2="212.6" y2="108.8" stroke="#8a8a8a" stroke-width="0.5"/>
<line x1="216.5" y1="107.9" x2="216.5" y2="112.9" stroke="#8a8a8a" stroke-width="0.5"/>
<text x="217.8" y="113.5" font-size="3.8" text-anchor="end" font-weight="bold" fill="#484848" transform="rotate(-90 217.8 113.5)">GSM1956316</text>
<line x1="212.6" y1="107.9" x2="216.5" y2="107.9" stroke="#8a8a8a" stroke-width="0.5"/>
<line x1="214.6" y1="107.2" x2="214.6" y2="107.9" stroke="#8a8a8a" stroke-width="0.5"/>
<line x1="219.1" y1="107.2" x2="219.1" y2="112.2" stroke="#8a8a8a" stroke-width="0.5"/>
<text x="220.3" y="112.8" font-size="3.8" text-anchor="end" font-weight="bold" fill="#484848" transform="rotate(-90 220.3 112.8)">GSM5298017</text>
<line x1="214.6" y1="107.2" x2="219.1" y2="107.2" stroke="#8a8a8a" stroke-width="0.5"/>
<line x1="216.8" y1="101" x2="216.8" y2="107.2" stroke="#8a8a8a" stroke-width="0.5"/>
<line x1="203.3" y1="101" x2="216.8" y2="101" stroke="#8a8a8a" stroke-width="0.5"/>
<line x1="210" y1="97.1" x2="210" y2="101" stroke="#8a8a8a" stroke-width="0.5"/>
<line x1="221.7" y1="97.1" x2="221.7" y2="102.1" stroke="#8a8a8a" stroke-width="0.5"/>
<text x="222.9" y="102.7" font-size="3.8" text-anchor="end" font-weight="bold" fill="#484848" transform="rotate(-90 222.9 102.7)">GSM1383620</text>
<line x1="210" y1="97.1" x2="221.7" y2="97.1" stroke="#8a8a8a" stroke-width="0.5"/>
<line x1="215.9" y1="93" x2="215.9" y2="97.1" stroke="#8a8a8a" stroke-width="0.5"/>
<line x1="224.2" y1="102.7" x2="224.2" y2="107.7" stroke="#8a8a8a" stroke-width="0.5"/>
<text x="225.5" y="108.3" font-size="3.8" text-anchor="end" font-weight="bold" fill="#484848" transform="rotate(-90 225.5 108.3)">GSM7000271</text>
<line x1="226.8" y1="108.5" x2="226.8" y2="113.5" stroke="#8a8a8a" stroke-width="0.5"/>
<text x="228.1" y="114.1" font-size="3.8" text-anchor="end" font-weight="bold" fill="#484848" transform="rotate(-90 228.1 114.1)">GSM7782929</text>
<line x1="229.4" y1="108.5" x2="229.4" y2="113.5" stroke="#8a8a8a" stroke-width="0.5"/>
<text x="230.7" y="114.1" font-size="3.8" text-anchor="end" font-weight="bold" fill="#484848" transform="rotate(-90 230.7 114.1)">GSM1303122</text>
<line x1="226.8" y1="108.5" x2="229.4" y2="108.5" stroke="#8a8a8a" stroke-width="0.5"/>
<line x1="228.1" y1="102.7" x2="228.1" y2="108.5" stroke="#8a8a8a" stroke-width="0.5"/>
<line x1="224.2" y1="102.7" x2="228.1" y2="102.7" stroke="#8a8a8a" stroke-width="0.5"/>
<line x1="226.2" y1="100.2" x2="226.2" y2="102.7" stroke="#8a8a8a" stroke-width="0.5"/>
<line x1="232" y1="100.2" x2="232" y2="105.2" stroke="#8a8a8a" stroke-width="0.5"/>
<text x="233.2" y="105.8" font-size="3.8" text-anchor="end" font-weight="bold" fill="#484848" transform="rotate(-90 233.2 105.8)">GSM8026755</text>
<line x1="226.2" y1="100.2" x2="232" y2="100.2" stroke="#8a8a8a" stroke-width="0.5"/>
<line x1="229.1" y1="93" x2="229.1" y2="100.2" stroke="#8a8a8a" stroke-width="0.5"/>
<line x1="215.9" y1="93" x2="229.1" y2="93" stroke="#8a8a8a" stroke-width="0.5"/>
<line x1="222.5" y1="93" x2="227" y2="93" stroke="#8a8a8a" stroke-width="0.6"/>
<line x1="227" y1="88.3" x2="227" y2="93" stroke="#8a8a8a" stroke-width="0.6"/>
<line x1="233" y1="95.4" x2="233" y2="100.4" stroke="#8a8a8a" stroke-width="0.5"/>
<text x="234.2" y="101" font-size="3.8" text-anchor="end" font-weight="bold" fill="#484848" transform="rotate(-90 234.2 101)">GSM7143556</text>
<line x1="235.5" y1="104.7" x2="235.5" y2="109.7" stroke="#8a8a8a" stroke-width="0.5"/>
<text x="236.8" y="110.3" font-size="3.8" text-anchor="end" font-weight="bold" fill="#484848" transform="rotate(-90 236.8 110.3)">GSM7314363</text>
<line x1="238.1" y1="104.7" x2="238.1" y2="109.7" stroke="#8a8a8a" stroke-width="0.5"/>
<text x="239.3" y="110.3" font-size="3.8" text-anchor="end" font-weight="bold" fill="#484848" transform="rotate(-90 239.3 110.3)">GSM1152310</text>
<line x1="235.5" y1="104.7" x2="238.1" y2="104.7" stroke="#8a8a8a" stroke-width="0.5"/>
<line x1="236.8" y1="98.8" x2="236.8" y2="104.7" stroke="#8a8a8a" stroke-width="0.5"/>
<line x1="240.6" y1="98.8" x2="240.6" y2="103.8" stroke="#8a8a8a" stroke-width="0.5"/>
<text x="241.8" y="104.4" font-size="3.8" text-anchor="end" font-weight="bold" fill="#484848" transform="rotate(-90 241.8 104.4)">GSM8597096</text>
<line x1="236.8" y1="98.8" x2="240.6" y2="98.8" stroke="#8a8a8a" stroke-width="0.5"/>
<line x1="238.7" y1="95.8" x2="238.7" y2="98.8" stroke="#8a8a8a" stroke-width="0.5"/>
<line x1="243.1" y1="101.7" x2="243.1" y2="106.7" stroke="#8a8a8a" stroke-width="0.5"/>
<text x="244.4" y="107.3" font-size="3.8" text-anchor="end" font-weight="bold" fill="#484848" transform="rotate(-90 244.4 107.3)">GSM1783950</text>
<line x1="245.7" y1="101.8" x2="245.7" y2="106.8" stroke="#8a8a8a" stroke-width="0.5"/>
<text x="246.9" y="107.4" font-size="3.8" text-anchor="end" font-weight="bold" fill="#484848" transform="rotate(-90 246.9 107.4)">GSM4035325</text>
<line x1="248.2" y1="101.8" x2="248.2" y2="106.8" stroke="#8a8a8a" stroke-width="0.5"/>
<text x="249.4" y="107.4" font-size="3.8" text-anchor="end" font-weight="bold" fill="#484848" transform="rotate(-90 249.4 107.4)">GSM4297086</text>
<line x1="245.7" y1="101.8" x2="248.2" y2="101.8" stroke="#8a8a8a" stroke-width="0.5"/>
<line x1="246.9" y1="101.7" x2="246.9" y2="101.8" stroke="#8a8a8a" stroke-width="0.5"/>
<line x1="243.1" y1="101.7" x2="246.9" y2="101.7" stroke="#8a8a8a" stroke-width="0.5"/>
<line x1="245" y1="95.8" x2="245" y2="101.7" stroke="#8a8a8a" stroke-width="0.5"/>
<line x1="238.7" y1="95.8" x2="245" y2="95.8" stroke="#8a8a8a" stroke-width="0.5"/>
<line x1="241.9" y1="95.4" x2="241.9" y2="95.8" stroke="#8a8a8a" stroke-width="0.5"/>
<line x1="233" y1="95.4" x2="241.9" y2="95.4" stroke="#8a8a8a" stroke-width="0.5"/>
<line x1="237.4" y1="89" x2="237.4" y2="95.4" stroke="#8a8a8a" stroke-width="0.5"/>
<line x1="250.7" y1="101.2" x2="250.7" y2="106.2" stroke="#8a8a8a" stroke-width="0.5"/>
<text x="252" y="106.8" font-size="3.8" text-anchor="end" font-weight="bold" fill="#484848" transform="rotate(-90 252 106.8)">GSM2996833</text>
<line x1="253.3" y1="101.2" x2="253.3" y2="106.2" stroke="#8a8a8a" stroke-width="0.5"/>
<text x="254.5" y="106.8" font-size="3.8" text-anchor="end" font-weight="bold" fill="#484848" transform="rotate(-90 254.5 106.8)">GSM5128651</text>
<line x1="250.7" y1="101.2" x2="253.3" y2="101.2" stroke="#8a8a8a" stroke-width="0.5"/>
<line x1="252" y1="97.3" x2="252" y2="101.2" stroke="#8a8a8a" stroke-width="0.5"/>
<line x1="255.8" y1="97.3" x2="255.8" y2="102.3" stroke="#8a8a8a" stroke-width="0.5"/>
<text x="257.1" y="102.9" font-size="3.8" text-anchor="end" font-weight="bold" fill="#484848" transform="rotate(-90 257.1 102.9)">GSM8754519</text>
<line x1="252" y1="97.3" x2="255.8" y2="97.3" stroke="#8a8a8a" stroke-width="0.5"/>
<line x1="253.9" y1="97" x2="253.9" y2="97.3" stroke="#8a8a8a" stroke-width="0.5"/>
<line x1="258.3" y1="105.2" x2="258.3" y2="110.2" stroke="#8a8a8a" stroke-width="0.5"/>
<text x="259.6" y="110.8" font-size="3.8" text-anchor="end" font-weight="bold" fill="#484848" transform="rotate(-90 259.6 110.8)">GSM6777768</text>
<line x1="260.9" y1="105.2" x2="260.9" y2="110.2" stroke="#8a8a8a" stroke-width="0.5"/>
<text x="262.1" y="110.8" font-size="3.8" text-anchor="end" font-weight="bold" fill="#484848" transform="rotate(-90 262.1 110.8)">GSM9598256</text>
<line x1="258.3" y1="105.2" x2="260.9" y2="105.2" stroke="#8a8a8a" stroke-width="0.5"/>
<line x1="259.6" y1="98.6" x2="259.6" y2="105.2" stroke="#8a8a8a" stroke-width="0.5"/>
<line x1="263.4" y1="104.9" x2="263.4" y2="109.9" stroke="#8a8a8a" stroke-width="0.5"/>
<text x="264.6" y="110.5" font-size="3.8" text-anchor="end" font-weight="bold" fill="#484848" transform="rotate(-90 264.6 110.5)">GSM6952442</text>
<line x1="265.9" y1="106.8" x2="265.9" y2="111.8" stroke="#8a8a8a" stroke-width="0.5"/>
<text x="267.2" y="112.4" font-size="3.8" text-anchor="end" font-weight="bold" fill="#484848" transform="rotate(-90 267.2 112.4)">GSM9803035</text>
<line x1="268.5" y1="108" x2="268.5" y2="113" stroke="#8a8a8a" stroke-width="0.5"/>
<text x="269.7" y="113.6" font-size="3.8" text-anchor="end" font-weight="bold" fill="#484848" transform="rotate(-90 269.7 113.6)">GSM5209302</text>
<line x1="271" y1="108" x2="271" y2="113" stroke="#8a8a8a" stroke-width="0.5"/>
<text x="272.2" y="113.6" font-size="3.8" text-anchor="end" font-weight="bold" fill="#484848" transform="rotate(-90 272.2 113.6)">GSM8765330</text>
<line x1="268.5" y1="108" x2="271" y2="108" stroke="#8a8a8a" stroke-width="0.5"/>
<line x1="269.7" y1="106.8" x2="269.7" y2="108" stroke="#8a8a8a" stroke-width="0.5"/>
<line x1="265.9" y1="106.8" x2="269.7" y2="106.8" stroke="#8a8a8a" stroke-width="0.5"/>
<line x1="267.8" y1="104.9" x2="267.8" y2="106.8" stroke="#8a8a8a" stroke-width="0.5"/>
<line x1="263.4" y1="104.9" x2="267.8" y2="104.9" stroke="#8a8a8a" stroke-width="0.5"/>
<line x1="265.6" y1="98.6" x2="265.6" y2="104.9" stroke="#8a8a8a" stroke-width="0.5"/>
<line x1="259.6" y1="98.6" x2="265.6" y2="98.6" stroke="#8a8a8a" stroke-width="0.5"/>
<line x1="262.6" y1="97" x2="262.6" y2="98.6" stroke="#8a8a8a" stroke-width="0.5"/>
<line x1="253.9" y1="97" x2="262.6" y2="97" stroke="#8a8a8a" stroke-width="0.5"/>
<line x1="258.3" y1="89" x2="258.3" y2="97" stroke="#8a8a8a" stroke-width="0.5"/>
<line x1="237.4" y1="89" x2="258.3" y2="89" stroke="#8a8a8a" stroke-width="0.5"/>
<line x1="245.4" y1="89" x2="247.9" y2="89" stroke="#8a8a8a" stroke-width="0.6"/>
<line x1="245.4" y1="85.1" x2="245.4" y2="89" stroke="#8a8a8a" stroke-width="0.6"/>
<line x1="273.5" y1="61" x2="273.5" y2="67" stroke="#8a8a8a" stroke-width="0.5"/>
<text x="274.8" y="67.6" font-size="3.8" text-anchor="end" font-weight="bold" fill="#484848" transform="rotate(-90 274.8 67.6)">GSM2812826</text>
<line x1="275.9" y1="86.3" x2="275.9" y2="92.3" stroke="#8a8a8a" stroke-width="0.5"/>
<text x="277.2" y="92.9" font-size="3.8" text-anchor="end" font-weight="bold" fill="#484848" transform="rotate(-90 277.2 92.9)">GSM7162224</text>
<line x1="278.4" y1="86.3" x2="278.4" y2="92.3" stroke="#8a8a8a" stroke-width="0.5"/>
<text x="279.6" y="92.9" font-size="3.8" text-anchor="end" font-weight="bold" fill="#484848" transform="rotate(-90 279.6 92.9)">GSM5963771</text>
<line x1="275.9" y1="86.3" x2="278.4" y2="86.3" stroke="#8a8a8a" stroke-width="0.5"/>
<line x1="277.1" y1="81.4" x2="277.1" y2="86.3" stroke="#8a8a8a" stroke-width="0.5"/>
<line x1="280.8" y1="81.4" x2="280.8" y2="87.4" stroke="#8a8a8a" stroke-width="0.5"/>
<text x="282" y="88" font-size="3.8" text-anchor="end" font-weight="bold" fill="#484848" transform="rotate(-90 282 88)">GSM1614575</text>
<line x1="277.1" y1="81.4" x2="280.8" y2="81.4" stroke="#8a8a8a" stroke-width="0.5"/>
<line x1="279" y1="64.6" x2="279" y2="81.4" stroke="#8a8a8a" stroke-width="0.5"/>
<line x1="283.2" y1="79.5" x2="283.2" y2="85.5" stroke="#8a8a8a" stroke-width="0.5"/>
<text x="284.5" y="86.1" font-size="3.8" text-anchor="end" font-weight="bold" fill="#484848" transform="rotate(-90 284.5 86.1)">GSM8264143</text>
<line x1="285.7" y1="90" x2="285.7" y2="96" stroke="#8a8a8a" stroke-width="0.5"/>
<text x="286.9" y="96.6" font-size="3.8" text-anchor="end" font-weight="bold" fill="#484848" transform="rotate(-90 286.9 96.6)">GSM2529744</text>
<line x1="288.1" y1="90" x2="288.1" y2="96" stroke="#8a8a8a" stroke-width="0.5"/>
<text x="289.3" y="96.6" font-size="3.8" text-anchor="end" font-weight="bold" fill="#484848" transform="rotate(-90 289.3 96.6)">GSM4497770</text>
<line x1="285.7" y1="90" x2="288.1" y2="90" stroke="#8a8a8a" stroke-width="0.5"/>
<line x1="286.9" y1="79.5" x2="286.9" y2="90" stroke="#8a8a8a" stroke-width="0.5"/>
<line x1="283.2" y1="79.5" x2="286.9" y2="79.5" stroke="#8a8a8a" stroke-width="0.5"/>
<line x1="285" y1="66.1" x2="285" y2="79.5" stroke="#8a8a8a" stroke-width="0.5"/>
<line x1="290.5" y1="75.3" x2="290.5" y2="81.3" stroke="#8a8a8a" stroke-width="0.5"/>
<text x="291.8" y="81.9" font-size="3.8" text-anchor="end" font-weight="bold" fill="#484848" transform="rotate(-90 291.8 81.9)">GSM6716677</text>
<line x1="292.9" y1="78.2" x2="292.9" y2="84.2" stroke="#8a8a8a" stroke-width="0.5"/>
<text x="294.2" y="84.8" font-size="3.8" text-anchor="end" font-weight="bold" fill="#484848" transform="rotate(-90 294.2 84.8)">GSM9604699</text>
<line x1="295.4" y1="78.2" x2="295.4" y2="84.2" stroke="#8a8a8a" stroke-width="0.5"/>
<text x="296.6" y="84.8" font-size="3.8" text-anchor="end" font-weight="bold" fill="#484848" transform="rotate(-90 296.6 84.8)">GSM7083846</text>
<line x1="292.9" y1="78.2" x2="295.4" y2="78.2" stroke="#8a8a8a" stroke-width="0.5"/>
<line x1="294.2" y1="75.3" x2="294.2" y2="78.2" stroke="#8a8a8a" stroke-width="0.5"/>
<line x1="290.5" y1="75.3" x2="294.2" y2="75.3" stroke="#8a8a8a" stroke-width="0.5"/>
<line x1="292.3" y1="68" x2="292.3" y2="75.3" stroke="#8a8a8a" stroke-width="0.5"/>
<line x1="297.8" y1="80.2" x2="297.8" y2="86.2" stroke="#8a8a8a" stroke-width="0.5"/>
<text x="299.1" y="86.8" font-size="3.8" text-anchor="end" font-weight="bold" fill="#484848" transform="rotate(-90 299.1 86.8)">GSM3486310</text>
<line x1="300.2" y1="80.2" x2="300.2" y2="86.2" stroke="#8a8a8a" stroke-width="0.5"/>
<text x="301.5" y="86.8" font-size="3.8" text-anchor="end" font-weight="bold" fill="#484848" transform="rotate(-90 301.5 86.8)">GSM6703574</text>
<line x1="297.8" y1="80.2" x2="300.2" y2="80.2" stroke="#8a8a8a" stroke-width="0.5"/>
<line x1="299" y1="79.6" x2="299" y2="80.2" stroke="#8a8a8a" stroke-width="0.5"/>
<line x1="302.7" y1="79.6" x2="302.7" y2="85.6" stroke="#8a8a8a" stroke-width="0.5"/>
<text x="303.9" y="86.2" font-size="3.8" text-anchor="end" font-weight="bold" fill="#484848" transform="rotate(-90 303.9 86.2)">GSM5625082</text>
<line x1="299" y1="79.6" x2="302.7" y2="79.6" stroke="#8a8a8a" stroke-width="0.5"/>
<line x1="300.8" y1="69.6" x2="300.8" y2="79.6" stroke="#8a8a8a" stroke-width="0.5"/>
<line x1="305.1" y1="81.3" x2="305.1" y2="87.3" stroke="#8a8a8a" stroke-width="0.5"/>
<text x="306.3" y="87.9" font-size="3.8" text-anchor="end" font-weight="bold" fill="#484848" transform="rotate(-90 306.3 87.9)">GSM2544734</text>
<line x1="307.5" y1="81.4" x2="307.5" y2="87.4" stroke="#8a8a8a" stroke-width="0.5"/>
<text x="308.8" y="88" font-size="3.8" text-anchor="end" font-weight="bold" fill="#484848" transform="rotate(-90 308.8 88)">GSM6242047</text>
<line x1="310" y1="81.4" x2="310" y2="87.4" stroke="#8a8a8a" stroke-width="0.5"/>
<text x="311.2" y="88" font-size="3.8" text-anchor="end" font-weight="bold" fill="#484848" transform="rotate(-90 311.2 88)">GSM6315021</text>
<line x1="307.5" y1="81.4" x2="310" y2="81.4" stroke="#8a8a8a" stroke-width="0.5"/>
<line x1="308.7" y1="81.3" x2="308.7" y2="81.4" stroke="#8a8a8a" stroke-width="0.5"/>
<line x1="305.1" y1="81.3" x2="308.7" y2="81.3" stroke="#8a8a8a" stroke-width="0.5"/>
<line x1="306.9" y1="72.8" x2="306.9" y2="81.3" stroke="#8a8a8a" stroke-width="0.5"/>
<line x1="312.4" y1="80.6" x2="312.4" y2="86.6" stroke="#8a8a8a" stroke-width="0.5"/>
<text x="313.6" y="87.2" font-size="3.8" text-anchor="end" font-weight="bold" fill="#484848" transform="rotate(-90 313.6 87.2)">GSM6136698</text>
<line x1="314.8" y1="80.6" x2="314.8" y2="86.6" stroke="#8a8a8a" stroke-width="0.5"/>
<text x="316.1" y="87.2" font-size="3.8" text-anchor="end" font-weight="bold" fill="#484848" transform="rotate(-90 316.1 87.2)">GSM3977582</text>
<line x1="312.4" y1="80.6" x2="314.8" y2="80.6" stroke="#8a8a8a" stroke-width="0.5"/>
<line x1="313.6" y1="78.8" x2="313.6" y2="80.6" stroke="#8a8a8a" stroke-width="0.5"/>
<line x1="317.2" y1="78.8" x2="317.2" y2="84.8" stroke="#8a8a8a" stroke-width="0.5"/>
<text x="318.5" y="85.4" font-size="3.8" text-anchor="end" font-weight="bold" fill="#484848" transform="rotate(-90 318.5 85.4)">GSM2311915</text>
<line x1="313.6" y1="78.8" x2="317.2" y2="78.8" stroke="#8a8a8a" stroke-width="0.5"/>
<line x1="315.4" y1="73.8" x2="315.4" y2="78.8" stroke="#8a8a8a" stroke-width="0.5"/>
<line x1="319.7" y1="85.8" x2="319.7" y2="91.8" stroke="#8a8a8a" stroke-width="0.5"/>
<text x="320.9" y="92.4" font-size="3.8" text-anchor="end" font-weight="bold" fill="#484848" transform="rotate(-90 320.9 92.4)">GSM3497591</text>
<line x1="322.1" y1="85.8" x2="322.1" y2="91.8" stroke="#8a8a8a" stroke-width="0.5"/>
<text x="323.4" y="92.4" font-size="3.8" text-anchor="end" font-weight="bold" fill="#484848" transform="rotate(-90 323.4 92.4)">GSM6189252</text>
<line x1="319.7" y1="85.8" x2="322.1" y2="85.8" stroke="#8a8a8a" stroke-width="0.5"/>
<line x1="320.9" y1="84.5" x2="320.9" y2="85.8" stroke="#8a8a8a" stroke-width="0.5"/>
<line x1="324.5" y1="84.5" x2="324.5" y2="90.5" stroke="#8a8a8a" stroke-width="0.5"/>
<text x="325.8" y="91.1" font-size="3.8" text-anchor="end" font-weight="bold" fill="#484848" transform="rotate(-90 325.8 91.1)">GSM9116712</text>
<line x1="320.9" y1="84.5" x2="324.5" y2="84.5" stroke="#8a8a8a" stroke-width="0.5"/>
<line x1="322.7" y1="77.2" x2="322.7" y2="84.5" stroke="#8a8a8a" stroke-width="0.5"/>
<line x1="327" y1="88.6" x2="327" y2="94.6" stroke="#8a8a8a" stroke-width="0.5"/>
<text x="328.2" y="95.2" font-size="3.8" text-anchor="end" font-weight="bold" fill="#484848" transform="rotate(-90 328.2 95.2)">GSM3710014</text>
<line x1="329.4" y1="88.6" x2="329.4" y2="94.6" stroke="#8a8a8a" stroke-width="0.5"/>
<text x="330.7" y="95.2" font-size="3.8" text-anchor="end" font-weight="bold" fill="#484848" transform="rotate(-90 330.7 95.2)">GSM1814570</text>
<line x1="327" y1="88.6" x2="329.4" y2="88.6" stroke="#8a8a8a" stroke-width="0.5"/>
<line x1="328.2" y1="85.7" x2="328.2" y2="88.6" stroke="#8a8a8a" stroke-width="0.5"/>
<line x1="331.8" y1="85.7" x2="331.8" y2="91.7" stroke="#8a8a8a" stroke-width="0.5"/>
<text x="333.1" y="92.3" font-size="3.8" text-anchor="end" font-weight="bold" fill="#484848" transform="rotate(-90 333.1 92.3)">GSM2358253</text>
<line x1="328.2" y1="85.7" x2="331.8" y2="85.7" stroke="#8a8a8a" stroke-width="0.5"/>
<line x1="330" y1="77.6" x2="330" y2="85.7" stroke="#8a8a8a" stroke-width="0.5"/>
<line x1="334.3" y1="88.4" x2="334.3" y2="94.4" stroke="#8a8a8a" stroke-width="0.5"/>
<text x="335.5" y="95" font-size="3.8" text-anchor="end" font-weight="bold" fill="#484848" transform="rotate(-90 335.5 95)">GSM9951160</text>
<line x1="336.7" y1="88.7" x2="336.7" y2="94.7" stroke="#8a8a8a" stroke-width="0.5"/>
<text x="337.9" y="95.3" font-size="3.8" text-anchor="end" font-weight="bold" fill="#484848" transform="rotate(-90 337.9 95.3)">GSM7809671</text>
<line x1="339.1" y1="88.7" x2="339.1" y2="94.7" stroke="#8a8a8a" stroke-width="0.5"/>
<text x="340.4" y="95.3" font-size="3.8" text-anchor="end" font-weight="bold" fill="#484848" transform="rotate(-90 340.4 95.3)">GSM1533959</text>
<line x1="336.7" y1="88.7" x2="339.1" y2="88.7" stroke="#8a8a8a" stroke-width="0.5"/>
<line x1="337.9" y1="88.4" x2="337.9" y2="88.7" stroke="#8a8a8a" stroke-width="0.5"/>
<line x1="334.3" y1="88.4" x2="337.9" y2="88.4" stroke="#8a8a8a" stroke-width="0.5"/>
<line x1="336.1" y1="80.3" x2="336.1" y2="88.4" stroke="#8a8a8a" stroke-width="0.5"/>
<line x1="341.6" y1="88.5" x2="341.6" y2="94.5" stroke="#8a8a8a" stroke-width="0.5"/>
<text x="342.8" y="95.1" font-size="3.8" text-anchor="end" font-weight="bold" fill="#484848" transform="rotate(-90 342.8 95.1)">GSM4981847</text>
<line x1="344" y1="88.5" x2="344" y2="94.5" stroke="#8a8a8a" stroke-width="0.5"/>
<text x="345.2" y="95.1" font-size="3.8" text-anchor="end" font-weight="bold" fill="#484848" transform="rotate(-90 345.2 95.1)">GSM6768558</text>
<line x1="341.6" y1="88.5" x2="344" y2="88.5" stroke="#8a8a8a" stroke-width="0.5"/>
<line x1="342.8" y1="87" x2="342.8" y2="88.5" stroke="#8a8a8a" stroke-width="0.5"/>
<line x1="346.4" y1="87" x2="346.4" y2="93" stroke="#8a8a8a" stroke-width="0.5"/>
<text x="347.7" y="93.6" font-size="3.8" text-anchor="end" font-weight="bold" fill="#484848" transform="rotate(-90 347.7 93.6)">GSM5197808</text>
<line x1="342.8" y1="87" x2="346.4" y2="87" stroke="#8a8a8a" stroke-width="0.5"/>
<line x1="344.6" y1="83.6" x2="344.6" y2="87" stroke="#8a8a8a" stroke-width="0.5"/>
<line x1="348.8" y1="89.5" x2="348.8" y2="95.5" stroke="#8a8a8a" stroke-width="0.5"/>
<text x="350.1" y="96.1" font-size="3.8" text-anchor="end" font-weight="bold" fill="#484848" transform="rotate(-90 350.1 96.1)">GSM8644791</text>
<line x1="351.3" y1="89.5" x2="351.3" y2="95.5" stroke="#8a8a8a" stroke-width="0.5"/>
<text x="352.5" y="96.1" font-size="3.8" text-anchor="end" font-weight="bold" fill="#484848" transform="rotate(-90 352.5 96.1)">GSM8075913</text>
<line x1="348.8" y1="89.5" x2="351.3" y2="89.5" stroke="#8a8a8a" stroke-width="0.5"/>
<line x1="350.1" y1="89.5" x2="350.1" y2="89.5" stroke="#8a8a8a" stroke-width="0.5"/>
<line x1="353.7" y1="89.5" x2="353.7" y2="95.5" stroke="#8a8a8a" stroke-width="0.5"/>
<text x="355" y="96.1" font-size="3.8" text-anchor="end" font-weight="bold" fill="#484848" transform="rotate(-90 355 96.1)">GSM3443249</text>
<line x1="350.1" y1="89.5" x2="353.7" y2="89.5" stroke="#8a8a8a" stroke-width="0.5"/>
<line x1="351.9" y1="85.7" x2="351.9" y2="89.5" stroke="#8a8a8a" stroke-width="0.5"/>
<line x1="356.1" y1="88.7" x2="356.1" y2="94.7" stroke="#8a8a8a" stroke-width="0.5"/>
<text x="357.4" y="95.3" font-size="3.8" text-anchor="end" font-weight="bold" fill="#484848" transform="rotate(-90 357.4 95.3)">GSM1934612</text>
<line x1="358.6" y1="89.5" x2="358.6" y2="95.5" stroke="#8a8a8a" stroke-width="0.5"/>
<text x="359.8" y="96.1" font-size="3.8" text-anchor="end" font-weight="bold" fill="#484848" transform="rotate(-90 359.8 96.1)">GSM1548970</text>
<line x1="361" y1="89.5" x2="361" y2="95.5" stroke="#8a8a8a" stroke-width="0.5"/>
<text x="362.2" y="96.1" font-size="3.8" text-anchor="end" font-weight="bold" fill="#484848" transform="rotate(-90 362.2 96.1)">GSM9280633</text>
<line x1="358.6" y1="89.5" x2="361" y2="89.5" stroke="#8a8a8a" stroke-width="0.5"/>
<line x1="359.8" y1="88.7" x2="359.8" y2="89.5" stroke="#8a8a8a" stroke-width="0.5"/>
<line x1="356.1" y1="88.7" x2="359.8" y2="88.7" stroke="#8a8a8a" stroke-width="0.5"/>
<line x1="358" y1="85.7" x2="358" y2="88.7" stroke="#8a8a8a" stroke-width="0.5"/>
<line x1="351.9" y1="85.7" x2="358" y2="85.7" stroke="#8a8a8a" stroke-width="0.5"/>
<line x1="354.9" y1="83.6" x2="354.9" y2="85.7" stroke="#8a8a8a" stroke-width="0.5"/>
<line x1="344.6" y1="83.6" x2="354.9" y2="83.6" stroke="#8a8a8a" stroke-width="0.5"/>
<line x1="349.8" y1="80.3" x2="349.8" y2="83.6" stroke="#8a8a8a" stroke-width="0.5"/>
<line x1="336.1" y1="80.3" x2="349.8" y2="80.3" stroke="#8a8a8a" stroke-width="0.5"/>
<line x1="342.9" y1="77.6" x2="342.9" y2="80.3" stroke="#8a8a8a" stroke-width="0.5"/>
<line x1="330" y1="77.6" x2="342.9" y2="77.6" stroke="#8a8a8a" stroke-width="0.5"/>
<line x1="336.5" y1="77.2" x2="336.5" y2="77.6" stroke="#8a8a8a" stroke-width="0.5"/>
<line x1="322.7" y1="77.2" x2="336.5" y2="77.2" stroke="#8a8a8a" stroke-width="0.5"/>
<line x1="329.6" y1="73.8" x2="329.6" y2="77.2" stroke="#8a8a8a" stroke-width="0.5"/>
<line x1="315.4" y1="73.8" x2="329.6" y2="73.8" stroke="#8a8a8a" stroke-width="0.5"/>
<line x1="322.5" y1="72.8" x2="322.5" y2="73.8" stroke="#8a8a8a" stroke-width="0.5"/>
<line x1="306.9" y1="72.8" x2="322.5" y2="72.8" stroke="#8a8a8a" stroke-width="0.5"/>
<line x1="314.7" y1="69.6" x2="314.7" y2="72.8" stroke="#8a8a8a" stroke-width="0.5"/>
<line x1="300.8" y1="69.6" x2="314.7" y2="69.6" stroke="#8a8a8a" stroke-width="0.5"/>
<line x1="307.8" y1="68" x2="307.8" y2="69.6" stroke="#8a8a8a" stroke-width="0.5"/>
<line x1="292.3" y1="68" x2="307.8" y2="68" stroke="#8a8a8a" stroke-width="0.5"/>
<line x1="300.1" y1="66.1" x2="300.1" y2="68" stroke="#8a8a8a" stroke-width="0.5"/>
<line x1="285" y1="66.1" x2="300.1" y2="66.1" stroke="#8a8a8a" stroke-width="0.5"/>
<line x1="292.6" y1="64.6" x2="292.6" y2="66.1" stroke="#8a8a8a" stroke-width="0.5"/>
<line x1="279" y1="64.6" x2="292.6" y2="64.6" stroke="#8a8a8a" stroke-width="0.5"/>
<line x1="285.8" y1="61" x2="285.8" y2="64.6" stroke="#8a8a8a" stroke-width="0.5"/>
<line x1="273.5" y1="61" x2="285.8" y2="61" stroke="#8a8a8a" stroke-width="0.5"/>
<line x1="274.6" y1="61" x2="279.6" y2="61" stroke="#8a8a8a" stroke-width="0.6"/>
<line x1="274.6" y1="60.2" x2="274.6" y2="61" stroke="#8a8a8a" stroke-width="0.6"/>
<line x1="69.5" y1="147" x2="367.3" y2="147" stroke="#8a8a8a" stroke-width="0.6"/>
<rect x="69.5" y="147" width="50.9" height="19.6" fill="#ff3300" stroke="none" stroke-width="0.6"/>
<rect x="210.3" y="147" width="2.7" height="19.6" fill="#ff3300" stroke="none" stroke-width="0.6"/>
<rect x="271.7" y="147" width="95.6" height="19.6" fill="#ff3300" stroke="none" stroke-width="0.6"/>
<rect x="120.4" y="166.6" width="89.9" height="19.6" fill="#ff3300" stroke="none" stroke-width="0.6"/>
<rect x="213" y="166.6" width="58.7" height="19.6" fill="#ff3300" stroke="none" stroke-width="0.6"/>
<line x1="69.5" y1="187.2" x2="367.3" y2="187.2" stroke="#dcdcdc" stroke-width="1.8"/>
<text x="67.2" y="158" font-size="3.6" text-anchor="end" fill="#444">Tumor</text>
<text x="67.2" y="178" font-size="3.6" text-anchor="end" fill="#444">Normal</text>
<text x="611.8" y="226.1" font-size="7.5" text-anchor="middle" font-weight="bold" fill="#000">Cluster Dendrogram</text>
<line x1="459.7" y1="236.5" x2="459.7" y2="348.4" stroke="#8a8a8a" stroke-width="0.6"/>
<line x1="456.5" y1="246.1" x2="459.7" y2="246.1" stroke="#8a8a8a" stroke-width="0.6"/>
<line x1="456.5" y1="263.4" x2="459.7" y2="263.4" stroke="#8a8a8a" stroke-width="0.6"/>
<line x1="456.5" y1="281.5" x2="459.7" y2="281.5" stroke="#8a8a8a" stroke-width="0.6"/>
<line x1="456.5" y1="299.5" x2="459.7" y2="299.5" stroke="#8a8a8a" stroke-width="0.6"/>
<line x1="456.5" y1="317.6" x2="459.7" y2="317.6" stroke="#8a8a8a" stroke-width="0.6"/>
<line x1="456.5" y1="335.1" x2="459.7" y2="335.1" stroke="#8a8a8a" stroke-width="0.6"/>
<text x="449.5" y="263.4" font-size="6" text-anchor="middle" fill="#222" transform="rotate(-90 449.5 263.4)">0.90</text>
<text x="449.5" y="299.5" font-size="6" text-anchor="middle" fill="#222" transform="rotate(-90 449.5 299.5)">0.80</text>
<text x="449.5" y="335.1" font-size="6" text-anchor="middle" fill="#222" transform="rotate(-90 449.5 335.1)">0.70</text>
<text x="433.4" y="293" font-size="6.9" text-anchor="middle" fill="#222" transform="rotate(-90 433.4 293)">Height</text>
<text x="467.4" y="362.1" font-size="5.5" text-anchor="end" fill="#222">Dynamic Tree Cut</text>
<text x="467.4" y="381" font-size="5.5" text-anchor="end" fill="#222">Merged dynamic</text>
<path d="M474 250V348M478.7 250V348M483.4 250V348M488.1 250V348M492.8 250V348M497.5 250V348M502.2 250V348M506.9 250V348M511.6 250V348M516.3 250V348M521 250V348M525.7 250V348M530.4 250V348M535.1 250V348M539.8 250V348M544.5 250V348M549.2 250V348M553.9 250V348M558.6 250V348M563.3 250V348M568 250V348M572.7 250V348M577.4 250V348M582.1 250V348M586.8 250V348M591.5 250V348M596.2 250V348M600.9 250V348M605.6 250V348M610.3 250V348M615 250V348M619.7 250V348M624.4 250V348M629.1 250V348M633.8 250V348M638.5 250V348M643.2 250V348M647.9 250V348M652.6 250V348M657.3 250V348M662 250V348M666.7 250V348M671.4 250V348M676.1 250V348M680.8 250V348M685.5 250V348M690.2 250V348M694.9 250V348M699.6 250V348M704.3 250V348M709 250V348M713.7 250V348M718.4 250V348M723.1 250V348M727.8 250V348M732.5 250V348M737.2 250V348M741.9 250V348M746.6 250V348M751.3 250V348" stroke="#d8d8d8" stroke-width="0.4" stroke-dasharray="1.2 1.2"/>
<rect x="465" y="236" width="292" height="14" fill="#fff"/>
<rect x="471" y="350.3" width="2" height="19" fill="#c08030" stroke="none" stroke-width="0.6"/>
<rect x="472.8" y="350.3" width="3.3" height="19" fill="#6b8a5a" stroke="none" stroke-width="0.6"/>
<rect x="476" y="350.3" width="4.2" height="19" fill="#5a9a6a" stroke="none" stroke-width="0.6"/>
<rect x="480" y="350.3" width="4.2" height="19" fill="#7a7a50" stroke="none" stroke-width="0.6"/>
<rect x="484" y="350.3" width="3.1" height="19" fill="#5f9a65" stroke="none" stroke-width="0.6"/>
<rect x="487" y="350.3" width="3.5" height="19" fill="#6a8a5a" stroke="none" stroke-width="0.6"/>
<rect x="490.3" y="350.3" width="3.1" height="19" fill="#c8f0c8" stroke="none" stroke-width="0.6"/>
<rect x="493.3" y="350.3" width="8.5" height="19" fill="#30b890" stroke="none" stroke-width="0.6"/>
<rect x="501.7" y="350.3" width="8.6" height="19" fill="#ff00ff" stroke="none" stroke-width="0.6"/>
<rect x="510.1" y="350.3" width="2" height="19" fill="#2a9a70" stroke="none" stroke-width="0.6"/>
<rect x="512" y="350.3" width="2.1" height="19" fill="#40c090" stroke="none" stroke-width="0.6"/>
<rect x="514" y="350.3" width="1.1" height="19" fill="#206050" stroke="none" stroke-width="0.6"/>
<rect x="515" y="350.3" width="3.1" height="19" fill="#30c090" stroke="none" stroke-width="0.6"/>
<rect x="518" y="350.3" width="2.1" height="19" fill="#40b080" stroke="none" stroke-width="0.6"/>
<rect x="520" y="350.3" width="8.9" height="19" fill="#38c898" stroke="none" stroke-width="0.6"/>
<rect x="528.8" y="350.3" width="1.4" height="19" fill="#303060" stroke="none" stroke-width="0.6"/>
<rect x="530" y="350.3" width="10.2" height="19" fill="#3ccfa6" stroke="none" stroke-width="0.6"/>
<rect x="540" y="350.3" width="1.1" height="19" fill="#209070" stroke="none" stroke-width="0.6"/>
<rect x="541" y="350.3" width="10.8" height="19" fill="#40d0b8" stroke="none" stroke-width="0.6"/>
<rect x="551.6" y="350.3" width="2.5" height="19" fill="#8060e0" stroke="none" stroke-width="0.6"/>
<rect x="554" y="350.3" width="14.5" height="19" fill="#40d8c8" stroke="none" stroke-width="0.6"/>
<rect x="568.4" y="350.3" width="1.4" height="19" fill="#206020" stroke="none" stroke-width="0.6"/>
<rect x="569.6" y="350.3" width="3.5" height="19" fill="#000000" stroke="none" stroke-width="0.6"/>
<rect x="573" y="350.3" width="8.2" height="19" fill="#00ff00" stroke="none" stroke-width="0.6"/>
<rect x="581" y="350.3" width="3.1" height="19" fill="#d06030" stroke="none" stroke-width="0.6"/>
<rect x="584" y="350.3" width="4.2" height="19" fill="#c08030" stroke="none" stroke-width="0.6"/>
<rect x="588" y="350.3" width="4.2" height="19" fill="#d07030" stroke="none" stroke-width="0.6"/>
<rect x="592" y="350.3" width="3.1" height="19" fill="#b08040" stroke="none" stroke-width="0.6"/>
<rect x="595" y="350.3" width="4.9" height="19" fill="#e09030" stroke="none" stroke-width="0.6"/>
<rect x="599.7" y="350.3" width="3.1" height="19" fill="#f0f0e0" stroke="none" stroke-width="0.6"/>
<rect x="602.7" y="350.3" width="4.3" height="19" fill="#ffd000" stroke="none" stroke-width="0.6"/>
<rect x="606.9" y="350.3" width="2" height="19" fill="#b03010" stroke="none" stroke-width="0.6"/>
<rect x="608.7" y="350.3" width="9.2" height="19" fill="#c0e040" stroke="none" stroke-width="0.6"/>
<rect x="617.8" y="350.3" width="5" height="19" fill="#a0b060" stroke="none" stroke-width="0.6"/>
<rect x="622.6" y="350.3" width="2.5" height="19" fill="#50b080" stroke="none" stroke-width="0.6"/>
<rect x="625" y="350.3" width="4.9" height="19" fill="#a0a070" stroke="none" stroke-width="0.6"/>
<rect x="629.8" y="350.3" width="8.6" height="19" fill="#c0c040" stroke="none" stroke-width="0.6"/>
<rect x="638.2" y="350.3" width="7.3" height="19" fill="#f07060" stroke="none" stroke-width="0.6"/>
<rect x="645.4" y="350.3" width="5" height="19" fill="#d0b080" stroke="none" stroke-width="0.6"/>
<rect x="650.3" y="350.3" width="6.2" height="19" fill="#808080" stroke="none" stroke-width="0.6"/>
<rect x="656.3" y="350.3" width="9" height="19" fill="#6070d0" stroke="none" stroke-width="0.6"/>
<rect x="665.1" y="350.3" width="3.3" height="19" fill="#9090a0" stroke="none" stroke-width="0.6"/>
<rect x="668.3" y="350.3" width="10.3" height="19" fill="#3040e0" stroke="none" stroke-width="0.6"/>
<rect x="678.4" y="350.3" width="3.3" height="19" fill="#e0c020" stroke="none" stroke-width="0.6"/>
<rect x="681.5" y="350.3" width="2.6" height="19" fill="#3040e0" stroke="none" stroke-width="0.6"/>
<rect x="684" y="350.3" width="3.4" height="19" fill="#e0a0e0" stroke="none" stroke-width="0.6"/>
<rect x="687.2" y="350.3" width="13.4" height="19" fill="#0000ff" stroke="none" stroke-width="0.6"/>
<rect x="700.5" y="350.3" width="19" height="19" fill="#d06010" stroke="none" stroke-width="0.6"/>
<rect x="719.4" y="350.3" width="3.4" height="19" fill="#202080" stroke="none" stroke-width="0.6"/>
<rect x="722.6" y="350.3" width="13.4" height="19" fill="#c03020" stroke="none" stroke-width="0.6"/>
<rect x="735.9" y="350.3" width="5.2" height="19" fill="#ff0000" stroke="none" stroke-width="0.6"/>
<rect x="740.9" y="350.3" width="7.2" height="19" fill="#b03030" stroke="none" stroke-width="0.6"/>
<rect x="747.9" y="350.3" width="5.2" height="19" fill="#00ffff" stroke="none" stroke-width="0.6"/>
<rect x="471" y="369.3" width="2" height="18.7" fill="#d07050" stroke="none" stroke-width="0.6"/>
<rect x="472.8" y="369.3" width="3.3" height="18.7" fill="#6b8a5a" stroke="none" stroke-width="0.6"/>
<rect x="476" y="369.3" width="4.2" height="18.7" fill="#5a9a6a" stroke="none" stroke-width="0.6"/>
<rect x="480" y="369.3" width="4.2" height="18.7" fill="#7a7a50" stroke="none" stroke-width="0.6"/>
<rect x="484" y="369.3" width="3.1" height="18.7" fill="#5f9a65" stroke="none" stroke-width="0.6"/>
<rect x="487" y="369.3" width="3.5" height="18.7" fill="#6a8a5a" stroke="none" stroke-width="0.6"/>
<rect x="490.3" y="369.3" width="3.1" height="18.7" fill="#40d0c0" stroke="none" stroke-width="0.6"/>
<rect x="493.3" y="369.3" width="8.5" height="18.7" fill="#30b890" stroke="none" stroke-width="0.6"/>
<rect x="501.7" y="369.3" width="8.6" height="18.7" fill="#006400" stroke="none" stroke-width="0.6"/>
<rect x="510.1" y="369.3" width="2" height="18.7" fill="#2a9a70" stroke="none" stroke-width="0.6"/>
<rect x="512" y="369.3" width="2.1" height="18.7" fill="#40c090" stroke="none" stroke-width="0.6"/>
<rect x="514" y="369.3" width="1.1" height="18.7" fill="#206050" stroke="none" stroke-width="0.6"/>
<rect x="515" y="369.3" width="3.1" height="18.7" fill="#30c090" stroke="none" stroke-width="0.6"/>
<rect x="518" y="369.3" width="2.1" height="18.7" fill="#40b080" stroke="none" stroke-width="0.6"/>
<rect x="520" y="369.3" width="8.9" height="18.7" fill="#38c898" stroke="none" stroke-width="0.6"/>
<rect x="528.8" y="369.3" width="1.4" height="18.7" fill="#202020" stroke="none" stroke-width="0.6"/>
<rect x="530" y="369.3" width="10.2" height="18.7" fill="#3ccfa6" stroke="none" stroke-width="0.6"/>
<rect x="540" y="369.3" width="1.1" height="18.7" fill="#209070" stroke="none" stroke-width="0.6"/>
<rect x="541" y="369.3" width="10.8" height="18.7" fill="#40d0b8" stroke="none" stroke-width="0.6"/>
<rect x="551.6" y="369.3" width="2.5" height="18.7" fill="#30a060" stroke="none" stroke-width="0.6"/>
<rect x="554" y="369.3" width="14.5" height="18.7" fill="#40d8c8" stroke="none" stroke-width="0.6"/>
<rect x="568.4" y="369.3" width="4.8" height="18.7" fill="#000000" stroke="none" stroke-width="0.6"/>
<rect x="573" y="369.3" width="8.2" height="18.7" fill="#00ff00" stroke="none" stroke-width="0.6"/>
<rect x="581" y="369.3" width="4.2" height="18.7" fill="#b04040" stroke="none" stroke-width="0.6"/>
<rect x="585" y="369.3" width="5.2" height="18.7" fill="#c86060" stroke="none" stroke-width="0.6"/>
<rect x="590" y="369.3" width="4.2" height="18.7" fill="#b04545" stroke="none" stroke-width="0.6"/>
<rect x="594" y="369.3" width="5.9" height="18.7" fill="#c05555" stroke="none" stroke-width="0.6"/>
<rect x="599.7" y="369.3" width="3.1" height="18.7" fill="#f0f0f0" stroke="none" stroke-width="0.6"/>
<rect x="602.7" y="369.3" width="4.3" height="18.7" fill="#f06060" stroke="none" stroke-width="0.6"/>
<rect x="606.9" y="369.3" width="2" height="18.7" fill="#b02020" stroke="none" stroke-width="0.6"/>
<rect x="608.7" y="369.3" width="3.1" height="18.7" fill="#f06060" stroke="none" stroke-width="0.6"/>
<rect x="611.7" y="369.3" width="6.2" height="18.7" fill="#b0f030" stroke="none" stroke-width="0.6"/>
<rect x="617.8" y="369.3" width="5" height="18.7" fill="#c060a0" stroke="none" stroke-width="0.6"/>
<rect x="622.6" y="369.3" width="2.5" height="18.7" fill="#6080c0" stroke="none" stroke-width="0.6"/>
<rect x="625" y="369.3" width="4.9" height="18.7" fill="#9050c0" stroke="none" stroke-width="0.6"/>
<rect x="629.8" y="369.3" width="8.6" height="18.7" fill="#c070b0" stroke="none" stroke-width="0.6"/>
<rect x="638.2" y="369.3" width="7.3" height="18.7" fill="#f07060" stroke="none" stroke-width="0.6"/>
<rect x="645.4" y="369.3" width="5" height="18.7" fill="#d0b080" stroke="none" stroke-width="0.6"/>
<rect x="650.3" y="369.3" width="6.2" height="18.7" fill="#7030d0" stroke="none" stroke-width="0.6"/>
<rect x="656.3" y="369.3" width="1.9" height="18.7" fill="#d090e0" stroke="none" stroke-width="0.6"/>
<rect x="658" y="369.3" width="7.3" height="18.7" fill="#7040d0" stroke="none" stroke-width="0.6"/>
<rect x="665.1" y="369.3" width="3.3" height="18.7" fill="#e07070" stroke="none" stroke-width="0.6"/>
<rect x="668.3" y="369.3" width="10.3" height="18.7" fill="#3040e0" stroke="none" stroke-width="0.6"/>
<rect x="678.4" y="369.3" width="3.3" height="18.7" fill="#c080d0" stroke="none" stroke-width="0.6"/>
<rect x="681.5" y="369.3" width="2.6" height="18.7" fill="#3040e0" stroke="none" stroke-width="0.6"/>
<rect x="684" y="369.3" width="3.4" height="18.7" fill="#e0a0e0" stroke="none" stroke-width="0.6"/>
<rect x="687.2" y="369.3" width="13.4" height="18.7" fill="#0000ff" stroke="none" stroke-width="0.6"/>
<rect x="700.5" y="369.3" width="19" height="18.7" fill="#c04040" stroke="none" stroke-width="0.6"/>
<rect x="719.4" y="369.3" width="3.4" height="18.7" fill="#000000" stroke="none" stroke-width="0.6"/>
<rect x="722.6" y="369.3" width="25.4" height="18.7" fill="#b03030" stroke="none" stroke-width="0.6"/>
<rect x="747.9" y="369.3" width="5.2" height="18.7" fill="#00ffff" stroke="none" stroke-width="0.6"/>
<line x1="471" y1="369.3" x2="752.9" y2="369.3" stroke="#333" stroke-width="0.5" stroke-opacity="0.6"/>
<line x1="470.5" y1="241.8" x2="749.1" y2="241.8" stroke="#000" stroke-width="0.8"/>
<line x1="470.5" y1="244.4" x2="581.3" y2="244.4" stroke="#000" stroke-width="0.7"/>
<line x1="501" y1="254.6" x2="510.4" y2="254.6" stroke="#000" stroke-width="0.5"/>
<line x1="540.1" y1="269.4" x2="567.5" y2="269.4" stroke="#000" stroke-width="0.6"/>
<line x1="611" y1="252.3" x2="701.1" y2="252.3" stroke="#000" stroke-width="0.7"/>
<line x1="731.6" y1="271.3" x2="748.6" y2="271.3" stroke="#000" stroke-width="0.6"/>
<line x1="736" y1="279.1" x2="748.6" y2="279.1" stroke="#000" stroke-width="0.5"/>
<line x1="748.6" y1="271.3" x2="748.6" y2="286.3" stroke="#000" stroke-width="0.5"/>
<path d="M748.6 243.2L750.2 243.7L750.8 267L749.8 267Z" fill="#000"/>
<line x1="750.3" y1="267" x2="752" y2="300.5" stroke="#444" stroke-width="0.6"/>
<circle cx="752" cy="300.9" r="0.9" fill="#333"/>
<line x1="471.3" y1="243" x2="471.3" y2="265.5" stroke="#000" stroke-width="1.1"/>
<path d="M471.3 243.6 L480.6 247.5 L491.6 251.4 L501 254.6" fill="none" stroke="#000" stroke-width="2.8" stroke-linejoin="round" stroke-linecap="round"/>
<path d="M471.3 243.6v6.6M471.8 243.8v1M472 243.9v2.1M472.4 244v5.4M472.5 244.1v0.1M473 244.3v2M473.3 244.4v0M473.5 244.5v4.5M473.7 244.6v10.2M474.2 244.8v0.1M474.2 244.8v2.7M474.8 245.1v1.7M474.9 245.1v1.9M475.1 245.2v0.9M475.5 245.4v2.4M475.7 245.5v0.9M476 245.6v2.2M476.3 245.7v0.1M476.8 245.9v2.8M477 246v0.7M477.4 246.2v6.9M477.4 246.2v1.4M477.9 246.4v4.3M478.3 246.5v1.9M478.5 246.6v3.9M478.7 246.7v3.1M479.1 246.9v6.6M479.3 247v3.1M479.4 247v1M480 247.2v1.9M480.1 247.3v2.8M480.5 247.5v3.9M480.7 247.5v2M481 247.7v5.3M481.3 247.8v1.7M481.6 247.9v0.1M481.8 247.9v4.3M482.4 248.1v3.1M482.5 248.2v0.7M482.8 248.3v10.5M483.2 248.4v2.7M483.5 248.5v0.9M483.7 248.6v10.5M484 248.7v2.2M484.2 248.8v2.8M484.7 249v0M485 249.1v6M485.3 249.2v4.7M485.6 249.3v2.6M485.8 249.4v1.9M486 249.4v7.1M486.4 249.6v0.8M486.7 249.7v2.3M486.9 249.8v1.5M487.3 249.9v3.4M487.6 250v2.1M487.7 250v0.9M488.1 250.2v3.1M488.6 250.3v5.6M488.9 250.4v5.9M489 250.5v6.5M489.4 250.6v0.3M489.5 250.7v0.1M490 250.8v1M490.1 250.9v3.4M490.5 251v0.3M490.8 251.1v2.6M491.1 251.2v1.1M491.5 251.4v2.1M491.7 251.4v2.2M491.9 251.5v1.7M492.3 251.6v0.7M492.5 251.7v8.1M493 251.9v0.8M493.3 252v5.9M493.4 252v0.1M493.8 252.1v4.4M494.1 252.2v4.3M494.5 252.4v2.8M494.7 252.5v10.5M495.2 252.6v2.5M495.3 252.7v3.7M495.7 252.8v3M495.9 252.9v3.5M496.2 253v1.2M496.7 253.2v7.3M496.8 253.2v6.8M497.2 253.3v9.8M497.6 253.4v1.9M497.7 253.5v0M498.2 253.7v0.1M498.5 253.8v10.5M498.7 253.8v0.7M499.1 254v10.5M499.4 254.1v2.5M499.6 254.1v1.5M499.8 254.2v3.9M500.2 254.3v0.8M500.4 254.4v3.8M500.8 254.5v2.4" stroke="#111" stroke-width="0.55" stroke-opacity="0.8"/>
<path d="M480.6 248L482.8 248L482.3 255ZM488.9 251.1L492 251.1L491.1 271.8ZM497.1 253.8L499.5 253.8L498.9 264.7Z" fill="#000" fill-opacity="0.9"/>
<path d="M501 254.6 L504.1 261.6 L507.2 271 L509.6 282 L510.4 289.8" fill="none" stroke="#000" stroke-width="2.8" stroke-linejoin="round" stroke-linecap="round"/>
<path d="M501.1 254.9v10.3M501.1 254.9v0.3M501.4 255.5v4.7M501.5 255.8v1.3M501.6 256.1v3.3M501.8 256.4v0.6M501.9 256.6v1.8M502.1 257.1v10.5M502.3 257.4v2.7M502.3 257.6v1.1M502.4 257.8v0.1M502.6 258.2v1.3M502.7 258.5v7.8M502.9 258.9v2.9M503 259.1v0.1M503.2 259.5v0.5M503.3 259.9v10.5M503.5 260.2v0.7M503.7 260.6v5.6M503.8 260.9v8.3M503.9 261.2v5.5M504 261.4v10.5M504.2 261.9v0.6M504.3 262.2v4.4M504.4 262.4v2.6M504.5 262.7v9.1M504.6 263.1v6.2M504.7 263.3v7.5M504.8 263.8v2.2M504.9 264.1v8.9M505 264.4v2.3M505.1 264.6v1.4M505.2 265.1v0.6M505.4 265.5v1.1M505.5 265.8v1.3M505.6 266.1v4.3M505.7 266.3v2.6M505.8 266.7v3.1M505.8 266.9v0.8M506 267.3v9.5M506.1 267.6v0.3M506.2 268v4.5M506.3 268.4v0.7M506.4 268.6v0.2M506.5 268.9v1.1M506.6 269.1v7.3M506.7 269.4v2.6M506.9 270v1M506.9 270.1v7.4M507 270.5v4.4M507.1 270.7v1.6M507.2 271.1v3.9M507.3 271.4v10.5M507.3 271.7v4.6M507.4 272v1M507.6 272.6v0.6M507.6 272.7v4.1M507.7 273.1v0.2M507.8 273.7v0.6M507.8 273.7v1.5M507.9 274.2v4.7M507.9 274.4v1.4M508 274.7v2.1M508.1 275.3v4.7M508.2 275.6v4.9M508.3 276v4.3M508.3 276.2v0.9M508.4 276.6v1.3M508.4 276.7v2.1M508.6 277.3v0.5M508.6 277.5v1.7M508.7 277.8v0.5M508.8 278.3v1M508.8 278.5v1.9M508.9 278.7v2.9M509 279v0.2M509 279.3v0.6M509.1 279.7v3.5M509.2 280.2v10.5M509.3 280.6v10.5M509.3 280.7v2.1M509.4 281.1v3.1M509.5 281.5v5.6M509.6 281.9v1M509.6 282.1v2.6M509.6 282.3v0.1M509.7 282.8v0.4M509.7 283.3v1M509.7 283.4v0.7M509.8 283.8v0.9M509.8 284.2v2.2M509.9 284.5v3.6M509.9 284.8v8.3M509.9 285.4v4.6M510 285.5v2.5M510 285.9v0.2M510 286.2v2.6M510.1 286.5v0.3M510.1 287v1.6M510.1 287.3v8.9M510.2 287.6v1.2M510.2 288.1v1.6M510.2 288.1v4M510.3 288.5v1.3M510.3 289.1v3.9M510.3 289.1v2.1M510.4 289.6v2.3" stroke="#111" stroke-width="0.55" stroke-opacity="0.8"/>
<path d="M501.5 259.1L503.9 259.1L503.3 268ZM504.4 267.4L507 267.4L506.3 280ZM506.4 274.7L508.9 274.7L508.3 286Z" fill="#000" fill-opacity="0.9"/>
<path d="M510.4 255.3 L519.8 259.2 L530.7 264.7 L538.5 268.6 L547.9 278.8 L555.7 286.6 L562 297.6 L565.9 310.1 L568.3 332" fill="none" stroke="#000" stroke-width="2.8" stroke-linejoin="round" stroke-linecap="round"/>
<path d="M510.5 255.3v3.1M510.8 255.5v3.7M511.2 255.6v0.3M511.3 255.7v7.3M511.7 255.8v1.1M512.2 256v2.5M512.4 256.1v2.6M512.6 256.2v0.7M512.9 256.4v8.1M513.2 256.5v5.4M513.5 256.6v0.3M513.9 256.7v3.6M514 256.8v0.1M514.5 257v2.6M514.7 257.1v8.4M515 257.2v10.2M515.2 257.3v6.5M515.5 257.4v11M515.9 257.6v0.4M516 257.6v1M516.6 257.9v2.3M516.8 257.9v1.4M517 258v2M517.3 258.1v3.5M517.6 258.3v9.4M517.9 258.4v10.6M518.3 258.6v12M518.5 258.7v0.7M518.9 258.8v12M519.2 258.9v3.4M519.4 259v0.9M519.8 259.2v3.4M519.9 259.2v0.3M520.3 259.5v12M520.4 259.5v6.4M520.8 259.7v0.7M521 259.8v5.9M521.4 260v0.2M521.6 260.1v0.2M522 260.3v1.6M522.3 260.5v12M522.5 260.5v12M522.7 260.7v0.3M523 260.8v0.1M523.2 260.9v2.1M523.6 261.1v0.7M523.7 261.2v8.1M524.1 261.4v12M524.5 261.6v1.9M524.7 261.7v2.9M525 261.8v3.6M525.3 262v3.9M525.7 262.2v2.8M525.8 262.2v5.1M526 262.3v1.4M526.5 262.6v2.9M526.7 262.7v0M526.9 262.8v3.5M527.1 262.9v3.8M527.5 263.1v0.2M527.8 263.2v2.5M528.1 263.4v1.7M528.4 263.5v5.4M528.5 263.6v0.2M528.9 263.8v12M529.1 263.9v2.4M529.5 264.1v1.5M529.7 264.2v1.5M530 264.3v3.6M530.2 264.5v1.9M530.6 264.7v0.1M530.9 264.8v5.3M531.1 264.9v1M531.5 265.1v1.1M531.6 265.2v2.3M532.1 265.4v0.4M532.2 265.5v1.6M532.7 265.7v2.3M533 265.8v0.7M533.1 265.9v4.2M533.6 266.1v2.4M533.7 266.2v0.5M534 266.4v0.8M534.4 266.5v7.3M534.5 266.6v1.3M535 266.8v4.1M535.3 267v1.7M535.4 267v1.4M535.8 267.3v1.3M536 267.4v2.2M536.3 267.5v2.1M536.7 267.7v0.7M536.8 267.7v11.5M537.3 268v12M537.5 268.1v12M537.9 268.3v1M538.1 268.4v7.2M538.4 268.6v2.9M538.6 268.7v1.7M538.8 268.9v0.3M539.1 269.2v1.4M539.3 269.5v0.2M539.5 269.7v4.7M539.8 270v9.1M540 270.2v3.4M540 270.2v5.5M540.2 270.5v1.4M540.6 270.8v3M540.7 271v11.2M541 271.3v1.7M541.1 271.4v7.9M541.4 271.7v6.1M541.6 271.9v0.9M541.8 272.2v6.8M542 272.3v6.3M542.3 272.8v6.6M542.5 273v0M542.7 273.2v7.9M542.8 273.2v1.3M543 273.5v3M543.3 273.8v2.6M543.6 274.1v0M543.6 274.2v0.5M543.9 274.4v0.3M544.3 274.9v7.7M544.3 274.9v2.8M544.5 275.2v1.5M544.8 275.4v4.2M545 275.7v1.8M545.2 275.8v1.6M545.4 276v3.2M545.7 276.4v1.9M545.8 276.5v0.8M546.1 276.8v3.7M546.4 277.1v1.9M546.6 277.4v3.9M546.7 277.5v1.9M546.9 277.8v4.9M547.1 278v4.7M547.4 278.2v1.1M547.6 278.5v4.8M547.7 278.6v2.2M548 278.9v8.5M548.3 279.2v1.9M548.5 279.4v6.3M548.6 279.5v2.5M548.8 279.7v6.7M549.2 280.1v8.7M549.4 280.3v4.4M549.6 280.5v3.3M549.7 280.6v3.5M549.9 280.8v0.6M550.3 281.2v0.2M550.4 281.3v0.4M550.8 281.7v0.8M550.8 281.7v7.4M551 281.9v7.4M551.4 282.3v7.2M551.7 282.6v3.5M551.9 282.8v0.1M552.1 283v2.9M552.3 283.2v0.5M552.5 283.4v10.9M552.6 283.5v1.6M552.9 283.8v7M553.1 284v0.8M553.3 284.2v3.8M553.6 284.5v2M553.8 284.7v2M554 284.9v2.2M554.2 285.1v2.8M554.6 285.5v2.1M554.8 285.7v0.7M555 285.9v5.6M555.2 286.1v2.9M555.4 286.3v4.1M555.7 286.6v0.6M555.7 286.6v5.5M556 287.1v2.9M556.1 287.3v5.1M556.2 287.5v1.2M556.4 287.8v3.5M556.5 288.1v1.1M556.8 288.4v12M556.8 288.6v4.9M557 288.9v7.7M557.2 289.2v1.2M557.3 289.4v0.1M557.5 289.8v1.9M557.6 289.9v1.8M557.8 290.3v6M557.9 290.5v12M558.1 290.9v3.7M558.3 291.1v7.2M558.5 291.5v3.3M558.6 291.7v5.1M558.8 292.1v2M559 292.3v12M559.1 292.5v1M559.2 292.7v5.1M559.4 293.1v12M559.6 293.4v1.1M559.7 293.5v1.2M559.8 293.8v4.9M560.1 294.3v9.2M560.2 294.4v8M560.3 294.7v2.2M560.5 295.1v0.4M560.6 295.2v7.2M560.8 295.5v1.8M561 295.8v4.5M561.1 296v1.6M561.3 296.3v2.7M561.4 296.6v3.5M561.7 297v2M561.8 297.2v0.5M561.9 297.4v4.4M562 297.6v8.7M562.2 298.2v0.4M562.3 298.5v1.9M562.4 298.8v5.7M562.4 298.9v4.5M562.5 299.3v6.6M562.6 299.5v5.6M562.8 300v4.5M562.8 300.2v0.5M562.9 300.5v1.7M563 300.9v4.5M563.1 301.1v0.8M563.2 301.5v4M563.3 301.6v8.8M563.4 302.1v0.5M563.5 302.5v0.6M563.6 302.6v5.1M563.7 303v3.2M563.8 303.3v2.4M563.8 303.5v0.8M563.9 303.7v5M564.1 304.2v3.1M564.2 304.5v1.8M564.2 304.7v1.9M564.4 305.2v0.2M564.4 305.4v1.1M564.5 305.8v1.7M564.6 305.9v2.1M564.7 306.3v5.9M564.8 306.5v7.5M564.9 306.8v1.3M565 307.1v0.5M565.1 307.6v5.2M565.2 307.7v0.8M565.3 308.1v5.4M565.4 308.5v5.5M565.5 308.8v0.6M565.6 309v0.9M565.7 309.3v3.4M565.7 309.6v1.2M565.9 310v0.1M565.9 310.4v8.9M566 310.7v1.9M566 310.9v3.5M566 311.2v12M566.1 311.6v1.4M566.1 311.9v2.6M566.1 312.2v5.2M566.1 312.3v5.9M566.2 312.8v2.7M566.2 313.1v2.5M566.2 313.3v3M566.3 313.6v2.8M566.3 314.1v2.3M566.4 314.3v12M566.4 314.8v0.6M566.4 315v3.9M566.5 315.1v1.8M566.5 315.5v0.3M566.5 315.9v10.6M566.6 316.1v8.2M566.6 316.6v0.6M566.6 316.9v3.7M566.7 317.3v5M566.7 317.5v1.7M566.8 317.9v10.7M566.8 318.2v2.3M566.8 318.5v2.7M566.8 318.6v0.2M566.9 318.9v0.9M566.9 319.2v2.7M567 319.7v3.1M567 319.9v4.2M567 320.2v2.5M567.1 320.7v2.1M567.1 320.8v9.2M567.1 321.3v1.8M567.1 321.5v3M567.2 321.9v1M567.2 322v0.9M567.3 322.5v0.6M567.3 322.8v0.9M567.3 323v0.7M567.4 323.4v0.7M567.4 323.6v0.5M567.4 323.9v2.7M567.4 324.2v0.1M567.5 324.6v2.1M567.5 325v0.2M567.6 325.2v2M567.6 325.4v12M567.6 325.8v0.4M567.7 326.2v0.7M567.7 326.6v1.7M567.7 326.7v0.2M567.8 327.2v1.3M567.8 327.6v2.5M567.9 327.9v1.4M567.9 328v1.2M567.9 328.5v4M567.9 328.7v0.4M568 329.1v12M568 329.4v0M568 329.5v0.4M568.1 329.9v0.1M568.1 330.1v4.2M568.2 330.7v0.9M568.2 331.1v2.6M568.2 331.3v10M568.3 331.7v0.1M568.3 331.8v3.7" stroke="#111" stroke-width="0.55" stroke-opacity="0.8"/>
<path d="M519.4 260L522.5 260L521.6 281ZM524.2 262.3L527.1 262.3L526.3 280ZM530.8 265.5L533.2 265.5L532.6 275.7ZM539.8 272.1L542.8 272.1L542 291ZM547.7 280.4L550.6 280.4L549.8 297.6ZM555.5 289.4L558.4 289.4L557.6 307Z" fill="#000" fill-opacity="0.9"/>
<path d="M567.5 270.2 L571.4 282 L574.5 294.4 L579.2 307" fill="none" stroke="#000" stroke-width="1.8" stroke-linejoin="round" stroke-linecap="round"/>
<path d="M567.6 270.4v0.2M567.9 271.4v0.3M568.1 271.9v1M568.6 273.5v3.2M568.8 274.2v0.5M569 274.9v0.6M569.2 275.4v0.2M569.5 276.3v5.2M570 277.6v3.3M570.2 278.5v0.4M570.4 278.9v2M570.8 280.1v3.9M571.1 281.1v0.2M571.3 281.7v2.2M571.5 282.4v0.4M571.7 283.2v0.2M572 284.4v4M572.1 284.9v0.7M572.4 286.1v1.7M572.6 286.9v3.8M572.7 287.4v1.1M573 288.3v1.1M573.1 288.7v0.7M573.4 290.1v0.1M573.5 290.3v2M573.7 291.3v1.5M574 292.3v0.8M574.3 293.6v0.4M574.4 293.9v0.5M574.7 294.9v0.6M574.9 295.5v2.7M575.2 296.2v1.6M575.6 297.5v0.2M575.7 297.6v0.5M576.2 298.9v1.9M576.3 299.3v0.8M576.6 300.1v1.2M576.9 300.7v2.4M577.4 302.2v6M577.7 302.9v6M577.7 303.1v0.7M578.3 304.6v3M578.4 305v5.7M578.8 305.9v3.4M579 306.4v0.4" stroke="#111" stroke-width="0.55" stroke-opacity="0.8"/>
<path d="M574.5 276 L577.5 290 L580.8 308" fill="none" stroke="#000" stroke-width="1.4" stroke-linejoin="round" stroke-linecap="round"/>
<path d="M574.6 276.4v0.5M574.7 277.2v4.9M575.1 278.6v2.3M575.3 279.6v1M575.5 280.7v1.7M575.7 281.8v2.2M576 282.8v1.2M576 283.2v0.3M576.4 284.7v0.4M576.6 285.7v1.9M576.7 286.1v3.1M576.9 287v4M577.3 288.8v0.5M577.4 289.7v2.6M577.5 290.1v2.2M577.7 291.1v4.9M578 292.7v6M578.1 293.1v0.8M578.3 294.6v1.9M578.5 295.2v4.4M578.8 296.8v0.7M578.8 297.1v2.2M579 298.4v2.2M579.2 299.5v1M579.3 300v0.3M579.6 301.5v2.6M579.8 302.4v2.7M580 303.5v4.2M580.2 304.7v0.8M580.3 305.1v0.1M580.4 306v4M580.8 307.9v2.8" stroke="#111" stroke-width="0.55" stroke-opacity="0.8"/>
<path d="M581.3 245.2 L590.6 247.5 L603.2 250.6 L612.5 253.8 L618.8 256.1 L629.8 260.8 L640.7 264.7 L650.1 267.9 L659.5 274.1 L668.9 280.4 L678.3 288.2 L687.6 297.6 L695.5 313.2 L701.7 338.3" fill="none" stroke="#000" stroke-width="2.8" stroke-linejoin="round" stroke-linecap="round"/>
<path d="M581.5 245.2v5.4M581.9 245.3v11.4M582.1 245.4v10.2M582.2 245.4v2.5M582.8 245.6v4.2M583.1 245.7v0.5M583.3 245.7v1.1M583.6 245.8v3.4M583.8 245.8v1M584.2 245.9v9.9M584.6 246v0.7M585 246.1v0.6M585.2 246.2v0.5M585.3 246.2v8.2M585.7 246.3v1M586.3 246.4v8.2M586.3 246.4v12M586.7 246.5v4.5M586.9 246.6v11.3M587.4 246.7v12M587.8 246.8v1.4M587.9 246.8v0.7M588.2 246.9v0.3M588.5 247v3.7M588.7 247v4.5M589.2 247.1v1.5M589.6 247.3v2.6M589.8 247.3v2.6M590.2 247.4v0.2M590.6 247.5v0.1M590.8 247.6v7.5M590.9 247.6v6.2M591.3 247.7v3.5M591.5 247.7v0.2M591.9 247.8v12M592.2 247.9v5.6M592.7 248v11.4M592.9 248.1v1.8M593.2 248.1v6M593.4 248.2v5.5M593.9 248.3v7.9M594 248.3v11.7M594.3 248.4v1.7M594.8 248.5v10M595 248.6v10.3M595.4 248.7v1.5M595.6 248.7v0.8M595.8 248.8v0.6M596.3 248.9v12M596.5 248.9v0.2M597 249.1v3.1M597.2 249.1v1.1M597.5 249.2v7M597.8 249.3v2.2M598 249.3v9.9M598.3 249.4v2.7M598.8 249.5v0.6M599.1 249.6v12M599.4 249.7v6.2M599.5 249.7v2.3M599.9 249.8v7.5M600.2 249.9v2.4M600.7 250v7.6M601 250.1v2.4M601.2 250.1v5.2M601.5 250.2v1.4M601.8 250.3v0.6M602.1 250.3v12M602.6 250.4v3.9M602.7 250.5v1.7M602.9 250.5v1.3M603.4 250.7v8.1M603.6 250.7v6.2M604 250.9v4.7M604.3 251v5.7M604.5 251.1v4.9M604.8 251.1v2.7M605.2 251.3v4.7M605.4 251.4v11.6M605.8 251.5v3.5M605.9 251.5v3.2M606.3 251.7v4.5M606.6 251.8v6.8M607 251.9v6.4M607.2 252v4.1M607.6 252.1v7M607.8 252.2v7.4M608.3 252.3v4.7M608.6 252.5v12M608.8 252.5v3M608.9 252.6v7.2M609.5 252.8v2.6M609.7 252.8v5.1M610 252.9v0.8M610.3 253.1v3.5M610.6 253.1v2.2M610.9 253.2v6M611.2 253.3v5.1M611.3 253.4v0.7M611.7 253.5v4.2M612 253.6v4.6M612.4 253.8v0.2M612.6 253.9v1M612.8 253.9v0.6M613.2 254.1v0.8M613.5 254.1v0.1M613.8 254.3v1.9M614.2 254.4v3.6M614.4 254.5v9.3M614.6 254.6v2.1M615 254.7v2.1M615.2 254.8v7.1M615.6 254.9v0.1M616 255.1v0.4M616.3 255.2v1.7M616.6 255.3v12M616.9 255.4v2.2M617.2 255.5v4.1M617.4 255.6v0.6M617.8 255.7v3.3M618.2 255.9v12M618.4 255.9v1.7M618.8 256.1v0M618.8 256.1v3.3M619.3 256.3v0.6M619.6 256.4v8.9M619.8 256.5v2.3M620 256.6v1.4M620.5 256.8v1.9M620.8 257v9.8M621 257v1.2M621.4 257.2v2.7M621.5 257.3v1.5M622 257.5v2.7M622.1 257.5v2.6M622.3 257.6v3.9M622.7 257.8v1.4M623.1 257.9v7M623.1 258v3M623.5 258.1v10.9M623.9 258.3v1.1M624.1 258.4v0.7M624.6 258.6v1.4M624.8 258.6v2.6M625.1 258.8v3.7M625.4 258.9v0.5M625.7 259v1.4M625.9 259.1v1.6M626.1 259.2v3M626.5 259.4v1.8M626.8 259.5v3.6M626.9 259.6v1.2M627.3 259.7v9.9M627.7 259.9v3.2M627.8 259.9v6M628.2 260.1v3.4M628.6 260.3v4M628.8 260.4v9.7M629 260.5v2M629.5 260.7v0.9M629.6 260.7v7.1M629.8 260.8v7.2M630.3 261v2.3M630.5 261v6.1M631 261.2v0.6M631.1 261.3v3.2M631.4 261.4v1.6M631.6 261.4v3.5M632.1 261.6v0.3M632.2 261.7v6.9M632.7 261.8v4.4M632.8 261.9v5.1M633.3 262.1v12M633.5 262.1v0.2M633.9 262.3v1M634.1 262.3v12M634.4 262.5v0.6M634.6 262.5v10M634.9 262.6v3.8M635.2 262.7v0.7M635.6 262.9v0.2M635.7 262.9v1.9M636 263v0.2M636.5 263.2v5.4M636.8 263.3v0.6M637 263.4v1.5M637.3 263.5v2.7M637.7 263.6v1.9M637.8 263.7v4.8M638.1 263.8v4M638.5 263.9v9.7M638.8 264v3.9M639 264.1v3.2M639.3 264.2v5.6M639.7 264.3v0.6M639.9 264.4v1.9M640.3 264.6v0.8M640.6 264.7v4.3M640.7 264.7v4.4M641 264.8v0.5M641.5 265v1.1M641.9 265.1v2.6M642 265.1v6.4M642.2 265.2v5.2M642.5 265.3v0.7M643.1 265.5v4.6M643.2 265.5v0.5M643.7 265.7v4.4M644 265.8v0.6M644.2 265.9v1.7M644.4 266v1.6M644.8 266.1v1.7M645.1 266.2v0.6M645.5 266.3v4.2M645.8 266.4v2.3M646.1 266.5v2.9M646.3 266.6v3.4M646.7 266.7v2M646.8 266.8v0.1M647.1 266.9v0.2M647.6 267.1v2.6M647.9 267.2v0M648.1 267.2v8.8M648.5 267.3v2.2M648.7 267.4v0.4M648.9 267.5v0.7M649.3 267.6v1.9M649.8 267.8v0.7M649.9 267.8v1.3M650.1 267.9v1.4M650.4 268.1v2.6M650.6 268.2v10.3M651 268.5v11.1M651.3 268.7v4.5M651.5 268.8v11.6M651.7 269v4.4M652 269.2v4.5M652.4 269.4v0.7M652.5 269.5v0.1M652.8 269.7v0.3M653.1 269.9v12M653.3 270v1.5M653.6 270.2v1.3M653.9 270.4v5.1M654.1 270.5v1.1M654.5 270.8v11.3M654.7 270.9v2.3M655.1 271.2v0M655.1 271.2v6M655.4 271.4v0.2M655.7 271.6v12M656 271.8v1.7M656.1 271.9v0.3M656.6 272.2v2.7M656.9 272.4v0.2M657 272.4v0.2M657.3 272.6v0.2M657.5 272.8v2.1M657.8 272.9v0.2M657.9 273.1v12M658.2 273.3v2.8M658.6 273.5v3M658.7 273.6v1.5M659 273.8v3.1M659.5 274.1v3.6M659.7 274.2v1M659.8 274.3v3.1M660.1 274.5v3.4M660.4 274.7v3.9M660.7 274.9v9.8M660.9 275v2.4M661.3 275.3v1M661.4 275.3v1.5M661.6 275.5v5.9M662.1 275.8v1.5M662.1 275.9v0.3M662.4 276.1v0.4M662.7 276.3v3.4M663 276.4v0.3M663.3 276.7v0.2M663.5 276.8v1.3M663.8 277v0.4M664 277.1v1.5M664.4 277.4v3.2M664.7 277.6v4.2M664.9 277.7v3.4M665.1 277.9v6.8M665.4 278.1v12M665.7 278.3v4.8M665.8 278.3v6.7M666.1 278.5v0.6M666.3 278.7v0.7M666.6 278.9v4.5M666.9 279v0.3M667.3 279.3v3.3M667.3 279.4v0.2M667.6 279.5v1.8M668.1 279.9v11.9M668.3 280v1.1M668.5 280.1v1.8M668.7 280.3v0.1M669 280.5v7M669.3 280.7v0.4M669.5 280.9v0.8M669.8 281.1v2.4M670.1 281.4v6.3M670.1 281.4v1.5M670.6 281.8v2.5M670.7 281.9v2.3M671 282.2v11M671.2 282.3v12M671.5 282.5v0.4M671.7 282.8v2.2M671.8 282.8v12M672 283v3.4M672.4 283.3v8.5M672.6 283.5v1M672.8 283.7v0.9M673.1 283.9v1.8M673.4 284.2v1.1M673.6 284.3v1.1M674 284.6v7.3M674.2 284.8v3.9M674.3 284.9v0.6M674.6 285.2v2.7M674.7 285.2v0.7M674.9 285.4v5.1M675.4 285.8v0.9M675.6 286v1.6M675.8 286.1v8M676 286.3v6.4M676.2 286.5v0M676.5 286.7v3.5M676.7 286.8v2M676.9 287.1v0.1M677.2 287.3v1.9M677.5 287.5v4.9M677.7 287.7v12M678 288v10.3M678.2 288.1v4.4M678.4 288.3v6.4M678.6 288.5v3.6M678.9 288.8v3M679 288.9v0.3M679.2 289.1v1.8M679.5 289.4v5.7M679.8 289.7v1.5M680.1 290v1.3M680.2 290.2v0.3M680.5 290.4v4.4M680.7 290.7v9.1M680.9 290.8v7.3M681.1 291.1v3.8M681.2 291.2v2.9M681.6 291.5v1.1M681.8 291.8v3.1M681.9 291.9v0M682.2 292.1v0.8M682.4 292.4v9.2M682.7 292.7v3.8M682.8 292.8v0.5M683.1 293.1v3.2M683.3 293.3v1.9M683.6 293.5v1M683.7 293.6v1.2M684 293.9v9.1M684.1 294.1v4M684.4 294.4v1M684.5 294.5v3.3M684.9 294.9v8.4M685.1 295.1v2.2M685.3 295.2v3M685.6 295.6v1.4M685.7 295.6v3.7M686 296v0.8M686.1 296v0.5M686.4 296.4v3.7M686.5 296.5v0.8M686.8 296.8v4.2M687.1 297.1v5.2M687.2 297.2v2.7M687.6 297.6v12M687.6 297.7v7.6M687.8 298.1v10.5M687.9 298.2v4.8M688.2 298.7v2.6M688.2 298.8v0.9M688.3 299.1v0.4M688.5 299.3v3.8M688.6 299.6v5.7M688.9 300.1v6.8M689 300.4v5M689.2 300.7v12M689.3 300.9v12M689.3 301v0.4M689.5 301.3v0.9M689.7 301.7v2.5M689.9 302v5.4M689.9 302.2v2.1M690.1 302.6v1.9M690.2 302.7v3.6M690.4 303.1v4.6M690.5 303.4v12M690.8 303.8v0.3M690.9 304.1v5.1M690.9 304.2v0.5M691.1 304.5v1.7M691.3 304.9v10M691.4 305.1v1.4M691.5 305.4v4.8M691.7 305.8v3.4M691.8 305.9v1.6M692 306.3v2.9M692.1 306.4v2.2M692.2 306.7v4.4M692.4 307v1.3M692.5 307.3v2.6M692.8 307.8v3.1M692.8 307.9v10.9M692.9 308.1v1.8M693.2 308.6v0M693.3 308.9v1.8M693.3 309v1.2M693.6 309.4v1.9M693.7 309.7v0.2M693.8 309.9v12M694 310.2v2.6M694.1 310.4v1.3M694.3 310.9v4.6M694.4 311.1v0.2M694.6 311.3v6M694.7 311.6v3.6M694.9 312v4.1M695 312.2v0.1M695.1 312.4v5.9M695.3 312.7v8.3M695.5 313.2v9.9M695.5 313.3v12M695.6 313.7v8.9M695.7 313.9v6.1M695.8 314.2v12M695.9 314.7v1M695.9 314.9v1.3M696 315.2v1.4M696.1 315.5v0.5M696.1 315.7v2.4M696.2 316v1.9M696.3 316.5v8.7M696.3 316.6v0.1M696.5 317.1v12M696.5 317.4v0.6M696.6 317.6v10.1M696.7 318.1v0.1M696.7 318.2v2.2M696.8 318.5v5.6M696.9 318.8v6M696.9 319.1v2.9M697.1 319.6v4.8M697.1 319.7v0.5M697.2 320.1v1.9M697.3 320.4v2.6M697.4 320.7v12M697.4 320.9v3.4M697.5 321.2v3.2M697.6 321.7v0.6M697.7 321.9v4.9M697.7 322.1v5.9M697.8 322.5v2.8M697.9 322.9v6.3M697.9 323v2.8M698 323.3v1.9M698.1 323.7v0.1M698.2 324v2.4M698.3 324.4v10.4M698.3 324.6v3M698.4 325.1v11.1M698.5 325.4v12M698.5 325.5v0.7M698.7 326v0.3M698.7 326.2v5.3M698.8 326.5v2M698.9 327v1.4M698.9 327.1v7.1M699 327.3v1.7M699.1 327.7v3.3M699.1 328v2.4M699.2 328.2v0.4M699.3 328.6v0.6M699.4 329.1v1.2M699.5 329.2v6.1M699.6 329.7v1.2M699.6 330v3.9M699.7 330.2v4M699.8 330.4v1.2M699.9 330.9v2.3M700 331.2v0.8M700 331.3v0.2M700.1 331.8v3.3M700.1 331.9v0.2M700.3 332.4v2.7M700.3 332.8v0.2M700.4 333v0.5M700.5 333.3v3.8M700.5 333.6v1M700.6 334v0.5M700.6 334v4.6M700.7 334.3v0.3M700.8 334.8v4.2M700.9 335.2v5.1M700.9 335.3v4.1M701.1 335.8v0.5M701.2 336.1v1.2M701.2 336.2v0M701.3 336.7v2.9M701.4 337v2.5M701.4 337.1v1M701.5 337.5v11.7M701.6 337.8v0.4M701.7 338.1v0.3" stroke="#111" stroke-width="0.55" stroke-opacity="0.8"/>
<path d="M588.9 247.5L591.6 247.5L590.9 261.6ZM599.5 250.2L602.8 250.2L601.9 274.1ZM606.9 252.5L609.6 252.5L608.9 267.9ZM614.3 255.3L617.8 255.3L616.8 281.9ZM621.5 258.1L624.7 258.1L623.8 280.4ZM628.3 260.8L630.7 260.8L630.1 271ZM635.5 263.6L638.9 263.6L637.9 289.8ZM641.5 265.8L645.2 265.8L644.1 296ZM646.8 267.6L650.8 267.6L649.6 302.3ZM654.3 272.1L657.7 272.1L656.7 297.6ZM665.5 279.3L668.4 279.3L667.6 296ZM673.8 285.5L675.9 285.5L675.4 291ZM679.7 291.3L682.4 291.3L681.7 307ZM684.5 296.9L688.4 296.9L687.2 330.4Z" fill="#000" fill-opacity="0.9"/>
<path d="M701.1 253.4 L709.4 257.8 L719.1 263.6 L726.8 268.4 L733.6 274.7 L740.4 281.5 L745.2 290.2 L748.1 302.8 L747.6 312.5" fill="none" stroke="#000" stroke-width="2.6" stroke-linejoin="round" stroke-linecap="round"/>
<path d="M701.3 253.5v6M701.5 253.6v1.1M701.7 253.7v3.8M702.1 253.9v5M702.3 254v5.1M702.6 254.2v5.7M703 254.4v1.9M703.2 254.5v4M703.4 254.6v2.8M703.8 254.8v1.1M704.1 255v4.1M704.4 255.1v1.4M704.4 255.2v5.6M704.9 255.4v2.1M705 255.5v0.8M705.4 255.7v1.2M705.8 255.9v3.1M705.9 255.9v3.7M706.2 256.1v9.4M706.6 256.3v2.5M706.8 256.4v4.2M707.1 256.6v10.5M707.2 256.6v1.6M707.6 256.9v1.3M707.9 257v0.3M708.3 257.2v2.6M708.3 257.2v3.8M708.7 257.4v0.8M709 257.6v0.5M709.2 257.7v7M709.6 257.9v0M709.9 258.1v0.1M710 258.2v8.2M710.4 258.4v1.3M710.6 258.5v1.7M710.8 258.6v10.5M711 258.8v1.9M711.5 259v1.8M711.8 259.2v1M712.1 259.4v7.8M712.3 259.5v7.7M712.5 259.6v6.2M712.8 259.9v2.5M713 260v4.3M713.3 260.1v0.3M713.6 260.3v1.1M713.8 260.5v5.4M714 260.6v0.1M714.3 260.7v3.1M714.6 260.9v1M714.9 261.1v9.2M715.1 261.2v1.9M715.6 261.5v3.3M715.7 261.5v2.3M716 261.7v0.5M716.2 261.9v1.3M716.6 262.1v1.4M716.9 262.3v10.5M717.2 262.5v1.7M717.4 262.6v1.4M717.6 262.7v2.3M718 262.9v9.7M718.1 263v0M718.4 263.2v0.2M718.6 263.3v5.2M718.9 263.5v4.4M719.2 263.7v9.8M719.6 263.9v0.2M719.7 264v10.3M720.1 264.2v1.9M720.4 264.4v5.9M720.6 264.5v2.2M720.7 264.6v1.6M721 264.8v3.4M721.4 265v0.5M721.7 265.2v0.4M721.8 265.3v3.6M722.1 265.5v8M722.5 265.7v4.2M722.6 265.8v6.3M722.8 265.9v3.4M723.3 266.2v8.3M723.6 266.4v2.1M723.8 266.5v5.5M723.9 266.6v10.1M724.4 266.9v2M724.6 267v2.1M724.7 267.1v4.4M725 267.3v5.6M725.5 267.6v1.2M725.7 267.7v0.3M726 267.9v1.1M726.3 268.1v2M726.5 268.2v0.1M726.6 268.2v5.9M726.9 268.5v2.7M727 268.6v0.7M727.4 268.9v0.2M727.7 269.3v5.1M728 269.5v4.2M728.1 269.6v0.3M728.4 269.9v0.4M728.6 270v2.2M728.8 270.2v0.3M728.9 270.4v2.6M729.2 270.6v2.6M729.4 270.8v1.2M729.6 271v2.9M729.9 271.3v0.9M730.1 271.5v2.9M730.5 271.9v1.9M730.6 271.9v1.3M730.8 272.1v3M731.2 272.5v2.9M731.3 272.6v1.4M731.6 272.8v2M731.8 273v10.5M732.1 273.3v3.8M732.4 273.6v3.6M732.6 273.8v1.6M732.8 274v10.5M732.9 274.1v3.4M733.2 274.3v0.2M733.4 274.5v5M733.6 274.7v4.3M733.8 274.9v1.6M734.1 275.2v2.7M734.5 275.6v0.9M734.6 275.7v8.9M734.8 275.9v2.2M735.1 276.2v7M735.2 276.3v3.8M735.4 276.5v0.4M735.9 277v0.2M736.1 277.2v4.9M736.2 277.3v4.6M736.5 277.6v1.2M736.6 277.7v0.8M737 278.1v5.3M737.2 278.3v0.8M737.4 278.5v1M737.6 278.7v4.8M737.9 279v4.3M738.1 279.2v5.3M738.2 279.3v3.2M738.4 279.5v1.6M738.6 279.7v10.4M738.8 279.9v8.9M739.3 280.4v2M739.5 280.6v0.2M739.5 280.6v0M739.7 280.8v0M740.1 281.2v0.3M740.3 281.4v1.1M740.4 281.5v1.9M740.6 281.8v10.5M740.8 282.2v3.2M741 282.5v3.5M741.1 282.8v1.1M741.2 282.9v7.7M741.4 283.2v2.1M741.6 283.7v3M741.8 284v5.8M741.9 284.2v0.4M742 284.5v2.2M742.2 284.8v2.6M742.4 285.1v5.8M742.5 285.3v6.5M742.7 285.7v0.6M742.9 286v7.1M743 286.2v1.4M743.1 286.3v0.5M743.2 286.7v6.8M743.4 286.9v0M743.5 287.2v0.3M743.7 287.6v5.1M743.9 287.9v0.3M744 288.1v0.5M744.3 288.5v6.3M744.4 288.7v10.5M744.5 288.9v5.2M744.7 289.2v1.6M744.9 289.6v6.5M745 289.8v7.1M745.1 290.1v5.6M745.2 290.2v0.5M745.3 290.5v3.2M745.4 291v0.6M745.4 291.3v0.4M745.5 291.6v5.3M745.6 291.8v10.5M745.7 292.2v0.5M745.7 292.5v0.6M745.8 292.9v8.7M745.8 293v0.7M746 293.5v6.9M746 293.8v2.1M746.1 293.9v3.3M746.2 294.3v5.7M746.2 294.7v4.6M746.3 295.1v3.4M746.4 295.4v1.1M746.4 295.4v7.5M746.5 295.7v10.5M746.6 296.2v0.2M746.6 296.4v4.5M746.7 296.8v3.4M746.8 297v6.3M746.9 297.4v6.3M746.9 297.6v3.9M747 298v1.8M747 298.2v2.7M747.2 298.8v0.4M747.2 298.9v0M747.3 299.4v10.5M747.4 299.6v2.3M747.4 299.7v0.5M747.5 300.3v5.5M747.6 300.6v6.9M747.6 300.8v1M747.7 301.1v1.5M747.8 301.4v7.5M747.8 301.7v10.5M747.9 302.1v0.2M748 302.4v3.8M748.1 302.7v0M748.1 303.1v2.4M748.1 303.3v0.7M748.1 303.4v0M748 303.8v1.3M748 304.1v0.2M748 304.6v4.2M748 305v0.9M748 305.2v3.2M748 305.3v7.3M747.9 305.7v0.7M747.9 306v9M747.9 306.3v1.7M747.9 306.7v1.6M747.9 307.1v0.3M747.9 307.3v3.1M747.8 307.7v3.3M747.8 307.9v3.6M747.8 308.4v2.3M747.8 308.6v6.3M747.8 308.8v1.1M747.8 309.4v1.3M747.8 309.5v1.6M747.7 310v2.8M747.7 310.3v0.6M747.7 310.4v3.7M747.7 310.7v3.8M747.7 311.1v0.3M747.7 311.3v2M747.6 311.7v0.7M747.6 312v0M747.6 312.3v1.3" stroke="#111" stroke-width="0.55" stroke-opacity="0.8"/>
<path d="M701.1 254.2L703.5 254.2L702.9 263ZM705.8 256.7L708.3 256.7L707.7 268.4ZM712.6 260.7L715.1 260.7L714.5 272ZM717.3 263.6L720.2 263.6L719.4 280.5ZM719.9 265.4L723.3 265.4L722.3 291.2ZM727.8 271.1L730.8 271.1L730 291ZM738.3 281.5L741.6 281.5L740.7 305.7Z" fill="#000" fill-opacity="0.9"/>
</svg></body></html>
